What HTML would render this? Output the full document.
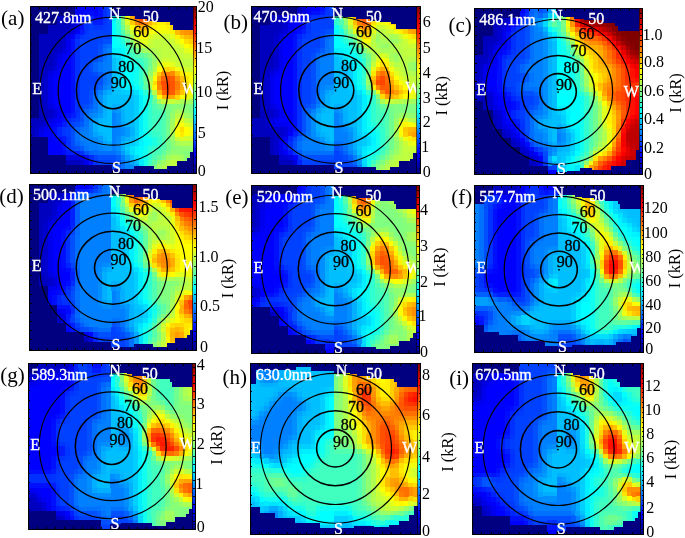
<!DOCTYPE html><html><head><meta charset="utf-8"><title>Figure</title><style>html,body{margin:0;padding:0;background:#fff;width:685px;height:538px;overflow:hidden}svg{display:block}text{shape-rendering:auto}circle{shape-rendering:geometricPrecision}</style></head><body><svg width="685" height="538" viewBox="0 0 685 538" font-family="'Liberation Serif', 'Times New Roman', serif" shape-rendering="crispEdges"><defs><linearGradient id="jet" x1="0" y1="1" x2="0" y2="0"><stop offset="0" stop-color="#000080"/><stop offset="0.125" stop-color="#0000ff"/><stop offset="0.375" stop-color="#00ffff"/><stop offset="0.625" stop-color="#ffff00"/><stop offset="0.875" stop-color="#ff0000"/><stop offset="1" stop-color="#800000"/></linearGradient></defs><rect x="30.0" y="6.4" width="163.1" height="167.1" fill="#000080"/><path fill="#000080" d="M30.0 6.4h45.6v4.9h-45.6zM30.0 11.0h45.6v4.9h-45.6zM30.0 15.7h27.5v4.9h-27.5zM30.0 20.3h27.5v4.9h-27.5zM30.0 25.0h18.4v4.9h-18.4zM30.0 29.6h18.4v4.9h-18.4zM30.0 34.2h9.4v4.9h-9.4zM30.0 38.9h9.4v4.9h-9.4zM30.0 43.5h9.4v4.9h-9.4zM30.0 48.2h9.4v4.9h-9.4zM30.0 52.8h9.4v4.9h-9.4zM30.0 57.5h9.4v4.9h-9.4zM30.0 62.1h9.4v4.9h-9.4zM30.0 66.7h9.4v4.9h-9.4zM30.0 71.4h9.4v4.9h-9.4zM30.0 76.0h9.4v4.9h-9.4zM30.0 80.7h9.4v4.9h-9.4zM30.0 85.3h9.4v4.9h-9.4zM30.0 90.0h9.4v4.9h-9.4zM30.0 94.6h9.4v4.9h-9.4zM30.0 99.2h9.4v4.9h-9.4zM30.0 103.9h9.4v4.9h-9.4zM30.0 108.5h9.4v4.9h-9.4zM30.0 113.2h9.4v4.9h-9.4zM30.0 136.4h18.4v4.9h-18.4zM30.0 141.0h18.4v4.9h-18.4zM30.0 145.7h18.4v4.9h-18.4zM30.0 150.3h18.4v4.9h-18.4zM30.0 154.9h36.5v4.9h-36.5zM30.0 159.6h36.5v4.9h-36.5zM30.0 164.2h81.8v4.9h-81.8zM30.0 168.9h81.8v4.9h-81.8z"/><path fill="#0000ff" d="M75.3 6.4h23.0v4.9h-23.0zM75.3 29.6h4.8v4.9h-4.8zM70.8 34.2h4.8v4.9h-4.8zM61.7 57.5h9.4v4.9h-9.4zM61.7 62.1h9.4v4.9h-9.4zM61.7 66.7h9.4v4.9h-9.4zM61.7 71.4h9.4v4.9h-9.4zM52.7 76.0h18.4v4.9h-18.4zM52.7 80.7h18.4v4.9h-18.4zM52.7 85.3h18.4v4.9h-18.4zM52.7 90.0h18.4v4.9h-18.4zM52.7 94.6h18.4v4.9h-18.4zM52.7 99.2h18.4v4.9h-18.4zM61.7 103.9h9.4v4.9h-9.4zM61.7 108.5h9.4v4.9h-9.4zM43.6 131.7h9.4v4.9h-9.4zM48.1 136.4h4.8v4.9h-4.8zM48.1 141.0h13.9v4.9h-13.9zM48.1 145.7h13.9v4.9h-13.9zM48.1 150.3h13.9v4.9h-13.9z"/><path fill="#0010ff" d="M98.0 6.4h4.8v4.9h-4.8zM98.0 11.0h4.8v4.9h-4.8zM98.0 15.7h4.8v4.9h-4.8zM79.8 20.3h4.8v4.9h-4.8zM79.8 25.0h4.8v4.9h-4.8zM70.8 38.9h4.8v4.9h-4.8zM70.8 43.5h4.8v4.9h-4.8zM70.8 48.2h4.8v4.9h-4.8zM70.8 52.8h4.8v4.9h-4.8zM70.8 57.5h4.8v4.9h-4.8zM70.8 62.1h4.8v4.9h-4.8zM70.8 66.7h4.8v4.9h-4.8zM70.8 71.4h4.8v4.9h-4.8zM70.8 76.0h4.8v4.9h-4.8zM70.8 80.7h4.8v4.9h-4.8zM70.8 85.3h4.8v4.9h-4.8zM70.8 90.0h4.8v4.9h-4.8zM70.8 94.6h4.8v4.9h-4.8zM70.8 99.2h4.8v4.9h-4.8zM70.8 103.9h4.8v4.9h-4.8zM70.8 108.5h4.8v4.9h-4.8zM61.7 141.0h4.8v4.9h-4.8zM61.7 145.7h4.8v4.9h-4.8zM84.4 154.9h4.8v4.9h-4.8zM88.9 159.6h4.8v4.9h-4.8z"/><path fill="#0030ff" d="M102.5 6.4h4.8v4.9h-4.8zM102.5 11.0h4.8v4.9h-4.8zM102.5 15.7h4.8v4.9h-4.8zM84.4 20.3h4.8v4.9h-4.8zM84.4 25.0h4.8v4.9h-4.8zM75.3 38.9h4.8v4.9h-4.8zM75.3 43.5h4.8v4.9h-4.8zM75.3 48.2h4.8v4.9h-4.8zM75.3 52.8h4.8v4.9h-4.8zM75.3 57.5h4.8v4.9h-4.8zM75.3 62.1h4.8v4.9h-4.8zM75.3 66.7h4.8v4.9h-4.8zM75.3 71.4h4.8v4.9h-4.8zM75.3 76.0h4.8v4.9h-4.8zM75.3 80.7h4.8v4.9h-4.8zM75.3 85.3h4.8v4.9h-4.8zM75.3 90.0h4.8v4.9h-4.8zM75.3 94.6h4.8v4.9h-4.8zM75.3 99.2h4.8v4.9h-4.8zM75.3 103.9h4.8v4.9h-4.8zM75.3 108.5h4.8v4.9h-4.8zM66.2 141.0h4.8v4.9h-4.8zM66.2 145.7h4.8v4.9h-4.8zM79.8 150.3h4.8v4.9h-4.8zM93.4 159.6h4.8v4.9h-4.8z"/><path fill="#0040ff" d="M107.0 6.4h4.8v4.9h-4.8zM107.0 11.0h4.8v4.9h-4.8zM107.0 15.7h4.8v4.9h-4.8zM107.0 20.3h4.8v4.9h-4.8zM107.0 25.0h4.8v4.9h-4.8zM88.9 29.6h23.0v4.9h-23.0zM88.9 34.2h23.0v4.9h-23.0zM79.8 38.9h18.4v4.9h-18.4zM79.8 43.5h18.4v4.9h-18.4zM79.8 48.2h18.4v4.9h-18.4zM79.8 52.8h18.4v4.9h-18.4zM79.8 57.5h9.4v4.9h-9.4zM79.8 62.1h9.4v4.9h-9.4zM79.8 66.7h9.4v4.9h-9.4zM79.8 71.4h9.4v4.9h-9.4zM79.8 76.0h18.4v4.9h-18.4zM79.8 80.7h18.4v4.9h-18.4zM79.8 85.3h9.4v4.9h-9.4zM79.8 90.0h9.4v4.9h-9.4zM79.8 94.6h9.4v4.9h-9.4zM79.8 99.2h9.4v4.9h-9.4zM98.0 159.6h18.4v4.9h-18.4zM111.5 164.2h4.8v4.9h-4.8zM111.5 168.9h4.8v4.9h-4.8z"/><path fill="#00bfff" d="M111.5 6.4h4.8v4.9h-4.8zM111.5 57.5h4.8v4.9h-4.8zM111.5 62.1h4.8v4.9h-4.8zM111.5 66.7h4.8v4.9h-4.8zM111.5 71.4h4.8v4.9h-4.8zM111.5 76.0h4.8v4.9h-4.8zM111.5 80.7h4.8v4.9h-4.8zM111.5 85.3h4.8v4.9h-4.8zM111.5 90.0h4.8v4.9h-4.8zM107.0 94.6h27.5v4.9h-27.5zM107.0 99.2h27.5v4.9h-27.5zM107.0 103.9h4.8v4.9h-4.8zM125.1 103.9h9.4v4.9h-9.4zM107.0 108.5h4.8v4.9h-4.8zM125.1 108.5h9.4v4.9h-9.4zM107.0 113.2h4.8v4.9h-4.8zM125.1 113.2h9.4v4.9h-9.4zM107.0 117.8h4.8v4.9h-4.8zM125.1 117.8h9.4v4.9h-9.4zM98.0 122.4h13.9v4.9h-13.9zM98.0 127.1h13.9v4.9h-13.9zM107.0 131.7h4.8v4.9h-4.8zM107.0 136.4h4.8v4.9h-4.8zM125.1 150.3h4.8v4.9h-4.8zM129.7 154.9h4.8v4.9h-4.8z"/><path fill="#00ffff" d="M116.1 6.4h4.8v4.9h-4.8zM111.5 20.3h4.8v4.9h-4.8zM111.5 25.0h4.8v4.9h-4.8zM111.5 29.6h4.8v4.9h-4.8zM111.5 34.2h4.8v4.9h-4.8zM111.5 38.9h4.8v4.9h-4.8zM111.5 43.5h4.8v4.9h-4.8zM125.1 66.7h9.4v4.9h-9.4zM125.1 71.4h9.4v4.9h-9.4zM125.1 76.0h9.4v4.9h-9.4zM125.1 80.7h9.4v4.9h-9.4zM134.2 85.3h4.8v4.9h-4.8zM138.7 90.0h4.8v4.9h-4.8z"/><path fill="#80ff80" d="M120.6 6.4h4.8v4.9h-4.8zM152.3 94.6h4.8v4.9h-4.8zM188.6 103.9h4.8v4.9h-4.8zM188.6 108.5h4.8v4.9h-4.8zM165.9 150.3h4.8v4.9h-4.8zM188.6 150.3h4.8v4.9h-4.8zM161.4 154.9h4.8v4.9h-4.8zM188.6 154.9h4.8v4.9h-4.8zM156.9 159.6h4.8v4.9h-4.8zM188.6 159.6h4.8v4.9h-4.8zM152.3 164.2h4.8v4.9h-4.8zM188.6 164.2h4.8v4.9h-4.8zM188.6 168.9h4.8v4.9h-4.8z"/><path fill="#efff10" d="M125.1 6.4h4.8v4.9h-4.8zM125.1 11.0h4.8v4.9h-4.8zM125.1 15.7h4.8v4.9h-4.8zM152.3 29.6h18.4v4.9h-18.4zM188.6 48.2h4.8v4.9h-4.8zM161.4 62.1h9.4v4.9h-9.4zM188.6 71.4h4.8v4.9h-4.8zM188.6 127.1h4.8v4.9h-4.8zM188.6 131.7h4.8v4.9h-4.8z"/><path fill="#ffaf00" d="M129.7 6.4h4.8v4.9h-4.8zM170.4 6.4h4.8v4.9h-4.8zM129.7 11.0h4.8v4.9h-4.8zM170.4 11.0h4.8v4.9h-4.8zM129.7 15.7h4.8v4.9h-4.8zM170.4 15.7h4.8v4.9h-4.8zM138.7 25.0h4.8v4.9h-4.8zM188.6 34.2h4.8v4.9h-4.8z"/><path fill="#ff7000" d="M134.2 6.4h4.8v4.9h-4.8zM134.2 11.0h4.8v4.9h-4.8zM134.2 15.7h4.8v4.9h-4.8zM138.7 20.3h4.8v4.9h-4.8z"/><path fill="#ff5000" d="M138.7 6.4h4.8v4.9h-4.8zM138.7 11.0h4.8v4.9h-4.8zM138.7 15.7h4.8v4.9h-4.8z"/><path fill="#ff6000" d="M143.3 6.4h4.8v4.9h-4.8zM143.3 11.0h4.8v4.9h-4.8zM143.3 15.7h4.8v4.9h-4.8z"/><path fill="#ff9f00" d="M147.8 6.4h4.8v4.9h-4.8zM147.8 11.0h4.8v4.9h-4.8zM147.8 15.7h4.8v4.9h-4.8zM156.9 76.0h4.8v4.9h-4.8z"/><path fill="#ffcf00" d="M152.3 6.4h4.8v4.9h-4.8zM165.9 6.4h4.8v4.9h-4.8zM152.3 11.0h4.8v4.9h-4.8zM165.9 11.0h4.8v4.9h-4.8zM152.3 15.7h4.8v4.9h-4.8zM165.9 15.7h4.8v4.9h-4.8zM134.2 25.0h4.8v4.9h-4.8zM188.6 38.9h4.8v4.9h-4.8z"/><path fill="#ffef00" d="M156.9 6.4h9.4v4.9h-9.4zM156.9 11.0h9.4v4.9h-9.4zM156.9 15.7h9.4v4.9h-9.4zM188.6 43.5h4.8v4.9h-4.8z"/><path fill="#ff8f00" d="M175.0 6.4h4.8v4.9h-4.8zM175.0 11.0h4.8v4.9h-4.8zM175.0 15.7h4.8v4.9h-4.8zM134.2 20.3h4.8v4.9h-4.8zM188.6 29.6h4.8v4.9h-4.8z"/><path fill="#ff8000" d="M179.5 6.4h13.9v4.9h-13.9zM179.5 11.0h13.9v4.9h-13.9zM179.5 15.7h13.9v4.9h-13.9zM179.5 20.3h13.9v4.9h-13.9zM179.5 25.0h13.9v4.9h-13.9zM156.9 80.7h4.8v4.9h-4.8z"/><path fill="#0000fa" d="M75.3 11.0h4.8v4.9h-4.8z"/><path fill="#0004ff" d="M79.8 11.0h4.8v4.9h-4.8zM93.4 11.0h4.8v4.9h-4.8zM61.7 113.2h4.8v4.9h-4.8zM52.7 122.4h4.8v4.9h-4.8zM52.7 136.4h4.8v4.9h-4.8z"/><path fill="#000cff" d="M84.4 11.0h9.4v4.9h-9.4zM79.8 15.7h4.8v4.9h-4.8zM93.4 15.7h4.8v4.9h-4.8zM66.2 113.2h4.8v4.9h-4.8zM61.7 117.8h4.8v4.9h-4.8zM57.2 122.4h4.8v4.9h-4.8zM52.7 127.1h4.8v4.9h-4.8zM52.7 131.7h4.8v4.9h-4.8zM57.2 136.4h4.8v4.9h-4.8z"/><path fill="#00cfff" d="M111.5 11.0h4.8v4.9h-4.8zM111.5 52.8h4.8v4.9h-4.8zM116.1 57.5h4.8v4.9h-4.8zM116.1 62.1h4.8v4.9h-4.8zM116.1 66.7h4.8v4.9h-4.8zM116.1 71.4h4.8v4.9h-4.8zM116.1 76.0h4.8v4.9h-4.8zM116.1 80.7h4.8v4.9h-4.8zM125.1 90.0h9.4v4.9h-9.4zM134.2 94.6h4.8v4.9h-4.8zM134.2 99.2h4.8v4.9h-4.8zM134.2 103.9h4.8v4.9h-4.8zM134.2 108.5h4.8v4.9h-4.8zM134.2 113.2h4.8v4.9h-4.8zM134.2 117.8h4.8v4.9h-4.8zM134.2 122.4h4.8v4.9h-4.8zM134.2 127.1h4.8v4.9h-4.8zM134.2 131.7h4.8v4.9h-4.8zM134.2 136.4h4.8v4.9h-4.8z"/><path fill="#0cfff3" d="M116.1 11.0h4.8v4.9h-4.8zM116.1 38.9h4.8v4.9h-4.8zM120.6 43.5h4.8v4.9h-4.8zM125.1 57.5h4.8v4.9h-4.8zM129.7 62.1h4.8v4.9h-4.8zM143.3 131.7h4.8v4.9h-4.8zM147.8 136.4h4.8v4.9h-4.8zM147.8 141.0h4.8v4.9h-4.8zM143.3 145.7h4.8v4.9h-4.8z"/><path fill="#83ff7c" d="M120.6 11.0h4.8v4.9h-4.8zM120.6 20.3h4.8v4.9h-4.8zM147.8 52.8h4.8v4.9h-4.8zM170.4 103.9h4.8v4.9h-4.8zM184.0 103.9h4.8v4.9h-4.8zM170.4 145.7h4.8v4.9h-4.8zM184.0 150.3h4.8v4.9h-4.8z"/><path fill="#0000bf" d="M57.2 15.7h13.9v4.9h-13.9zM57.2 20.3h13.9v4.9h-13.9zM48.1 25.0h23.0v4.9h-23.0zM48.1 29.6h13.9v4.9h-13.9zM39.1 34.2h23.0v4.9h-23.0zM39.1 38.9h23.0v4.9h-23.0zM39.1 43.5h23.0v4.9h-23.0zM39.1 48.2h13.9v4.9h-13.9zM39.1 52.8h13.9v4.9h-13.9zM39.1 57.5h13.9v4.9h-13.9zM39.1 62.1h13.9v4.9h-13.9zM39.1 66.7h4.8v4.9h-4.8zM39.1 71.4h4.8v4.9h-4.8zM39.1 76.0h4.8v4.9h-4.8zM39.1 80.7h4.8v4.9h-4.8zM39.1 85.3h4.8v4.9h-4.8zM39.1 90.0h4.8v4.9h-4.8zM39.1 94.6h4.8v4.9h-4.8zM39.1 99.2h4.8v4.9h-4.8zM39.1 103.9h4.8v4.9h-4.8zM39.1 108.5h4.8v4.9h-4.8zM39.1 113.2h4.8v4.9h-4.8zM30.0 117.8h13.9v4.9h-13.9zM30.0 122.4h4.8v4.9h-4.8zM30.0 127.1h4.8v4.9h-4.8zM30.0 131.7h4.8v4.9h-4.8zM66.2 159.6h13.9v4.9h-13.9z"/><path fill="#0000d3" d="M70.8 15.7h4.8v4.9h-4.8z"/><path fill="#0000f2" d="M75.3 15.7h4.8v4.9h-4.8z"/><path fill="#0024ff" d="M84.4 15.7h9.4v4.9h-9.4zM66.2 117.8h4.8v4.9h-4.8zM57.2 127.1h4.8v4.9h-4.8zM57.2 131.7h4.8v4.9h-4.8z"/><path fill="#00efff" d="M111.5 15.7h4.8v4.9h-4.8zM111.5 48.2h4.8v4.9h-4.8zM120.6 57.5h4.8v4.9h-4.8zM120.6 62.1h4.8v4.9h-4.8zM120.6 66.7h4.8v4.9h-4.8zM120.6 71.4h4.8v4.9h-4.8zM120.6 76.0h4.8v4.9h-4.8zM120.6 80.7h4.8v4.9h-4.8zM125.1 85.3h9.4v4.9h-9.4zM138.7 94.6h4.8v4.9h-4.8zM138.7 99.2h4.8v4.9h-4.8zM138.7 103.9h4.8v4.9h-4.8zM138.7 108.5h4.8v4.9h-4.8zM138.7 113.2h4.8v4.9h-4.8zM138.7 117.8h4.8v4.9h-4.8zM138.7 122.4h4.8v4.9h-4.8zM138.7 127.1h4.8v4.9h-4.8zM138.7 131.7h4.8v4.9h-4.8zM138.7 136.4h4.8v4.9h-4.8z"/><path fill="#24ffdb" d="M116.1 15.7h4.8v4.9h-4.8zM116.1 25.0h4.8v4.9h-4.8zM120.6 38.9h4.8v4.9h-4.8zM129.7 57.5h4.8v4.9h-4.8zM147.8 131.7h4.8v4.9h-4.8zM147.8 145.7h4.8v4.9h-4.8z"/><path fill="#8bff74" d="M120.6 15.7h4.8v4.9h-4.8zM175.0 103.9h9.4v4.9h-9.4zM170.4 108.5h4.8v4.9h-4.8zM184.0 108.5h4.8v4.9h-4.8zM170.4 141.0h4.8v4.9h-4.8zM175.0 145.7h4.8v4.9h-4.8zM179.5 150.3h4.8v4.9h-4.8zM184.0 154.9h4.8v4.9h-4.8z"/><path fill="#0000cf" d="M70.8 20.3h4.8v4.9h-4.8zM70.8 25.0h4.8v4.9h-4.8zM61.7 38.9h4.8v4.9h-4.8zM61.7 43.5h4.8v4.9h-4.8zM52.7 57.5h4.8v4.9h-4.8zM52.7 62.1h4.8v4.9h-4.8zM43.6 76.0h4.8v4.9h-4.8zM43.6 80.7h4.8v4.9h-4.8zM43.6 85.3h4.8v4.9h-4.8zM43.6 90.0h4.8v4.9h-4.8zM43.6 94.6h4.8v4.9h-4.8zM43.6 99.2h4.8v4.9h-4.8zM34.5 131.7h4.8v4.9h-4.8zM79.8 159.6h4.8v4.9h-4.8z"/><path fill="#0000ef" d="M75.3 20.3h4.8v4.9h-4.8zM75.3 25.0h4.8v4.9h-4.8zM66.2 38.9h4.8v4.9h-4.8zM66.2 43.5h4.8v4.9h-4.8zM57.2 57.5h4.8v4.9h-4.8zM57.2 62.1h4.8v4.9h-4.8zM48.1 76.0h4.8v4.9h-4.8zM48.1 80.7h4.8v4.9h-4.8zM48.1 85.3h4.8v4.9h-4.8zM48.1 90.0h4.8v4.9h-4.8zM48.1 94.6h4.8v4.9h-4.8zM48.1 99.2h4.8v4.9h-4.8zM39.1 131.7h4.8v4.9h-4.8zM79.8 154.9h4.8v4.9h-4.8zM84.4 159.6h4.8v4.9h-4.8z"/><path fill="#0034ff" d="M88.9 20.3h4.8v4.9h-4.8zM102.5 20.3h4.8v4.9h-4.8zM93.4 25.0h9.4v4.9h-9.4zM84.4 29.6h4.8v4.9h-4.8zM79.8 34.2h4.8v4.9h-4.8zM75.3 113.2h4.8v4.9h-4.8zM70.8 117.8h4.8v4.9h-4.8zM66.2 122.4h4.8v4.9h-4.8zM61.7 127.1h4.8v4.9h-4.8zM61.7 131.7h4.8v4.9h-4.8zM66.2 136.4h4.8v4.9h-4.8z"/><path fill="#001cff" d="M93.4 20.3h9.4v4.9h-9.4zM79.8 29.6h4.8v4.9h-4.8zM70.8 113.2h4.8v4.9h-4.8zM61.7 122.4h4.8v4.9h-4.8zM61.7 136.4h4.8v4.9h-4.8z"/><path fill="#2cffd3" d="M116.1 20.3h4.8v4.9h-4.8z"/><path fill="#dbff24" d="M125.1 20.3h4.8v4.9h-4.8zM179.5 66.7h4.8v4.9h-4.8zM152.3 71.4h4.8v4.9h-4.8zM179.5 136.4h4.8v4.9h-4.8z"/><path fill="#ffcb00" d="M129.7 20.3h4.8v4.9h-4.8zM156.9 71.4h4.8v4.9h-4.8z"/><path fill="#ff7c00" d="M143.3 20.3h4.8v4.9h-4.8zM165.9 71.4h4.8v4.9h-4.8zM175.0 80.7h4.8v4.9h-4.8zM175.0 85.3h4.8v4.9h-4.8z"/><path fill="#ffb300" d="M147.8 20.3h4.8v4.9h-4.8zM143.3 25.0h4.8v4.9h-4.8zM161.4 94.6h4.8v4.9h-4.8z"/><path fill="#ffdb00" d="M152.3 20.3h4.8v4.9h-4.8zM165.9 20.3h4.8v4.9h-4.8zM147.8 25.0h4.8v4.9h-4.8zM161.4 66.7h4.8v4.9h-4.8z"/><path fill="#fff300" d="M156.9 20.3h9.4v4.9h-9.4zM152.3 25.0h4.8v4.9h-4.8zM165.9 25.0h4.8v4.9h-4.8zM170.4 29.6h4.8v4.9h-4.8zM175.0 34.2h4.8v4.9h-4.8z"/><path fill="#ffbb00" d="M170.4 20.3h4.8v4.9h-4.8zM175.0 29.6h4.8v4.9h-4.8zM184.0 34.2h4.8v4.9h-4.8z"/><path fill="#ff9300" d="M175.0 20.3h4.8v4.9h-4.8zM184.0 29.6h4.8v4.9h-4.8zM161.4 71.4h4.8v4.9h-4.8zM175.0 76.0h4.8v4.9h-4.8zM175.0 90.0h4.8v4.9h-4.8z"/><path fill="#003cff" d="M88.9 25.0h4.8v4.9h-4.8zM102.5 25.0h4.8v4.9h-4.8zM84.4 34.2h4.8v4.9h-4.8zM75.3 117.8h4.8v4.9h-4.8zM66.2 127.1h4.8v4.9h-4.8zM66.2 131.7h4.8v4.9h-4.8z"/><path fill="#6cff93" d="M120.6 25.0h4.8v4.9h-4.8zM143.3 52.8h4.8v4.9h-4.8zM143.3 80.7h4.8v4.9h-4.8z"/><path fill="#b3ff4c" d="M125.1 25.0h4.8v4.9h-4.8zM152.3 48.2h4.8v4.9h-4.8zM156.9 52.8h4.8v4.9h-4.8zM152.3 66.7h4.8v4.9h-4.8zM165.9 159.6h4.8v4.9h-4.8zM161.4 164.2h4.8v4.9h-4.8z"/><path fill="#fbff04" d="M129.7 25.0h4.8v4.9h-4.8zM156.9 66.7h4.8v4.9h-4.8zM184.0 71.4h4.8v4.9h-4.8zM184.0 131.7h4.8v4.9h-4.8z"/><path fill="#fffb00" d="M156.9 25.0h9.4v4.9h-9.4zM179.5 94.6h4.8v4.9h-4.8zM175.0 127.1h4.8v4.9h-4.8z"/><path fill="#ffd300" d="M170.4 25.0h4.8v4.9h-4.8zM179.5 34.2h4.8v4.9h-4.8zM165.9 66.7h4.8v4.9h-4.8z"/><path fill="#ff9b00" d="M175.0 25.0h4.8v4.9h-4.8zM179.5 29.6h4.8v4.9h-4.8zM165.9 94.6h4.8v4.9h-4.8z"/><path fill="#0000c3" d="M61.7 29.6h4.8v4.9h-4.8zM52.7 48.2h4.8v4.9h-4.8zM43.6 66.7h4.8v4.9h-4.8zM43.6 108.5h4.8v4.9h-4.8zM43.6 113.2h4.8v4.9h-4.8zM34.5 122.4h4.8v4.9h-4.8z"/><path fill="#0000cb" d="M66.2 29.6h4.8v4.9h-4.8zM61.7 34.2h4.8v4.9h-4.8zM57.2 48.2h4.8v4.9h-4.8zM52.7 52.8h4.8v4.9h-4.8zM48.1 66.7h4.8v4.9h-4.8zM43.6 71.4h4.8v4.9h-4.8zM43.6 103.9h4.8v4.9h-4.8zM48.1 108.5h4.8v4.9h-4.8zM48.1 113.2h4.8v4.9h-4.8zM43.6 117.8h4.8v4.9h-4.8zM39.1 122.4h4.8v4.9h-4.8zM34.5 127.1h4.8v4.9h-4.8z"/><path fill="#0000df" d="M70.8 29.6h4.8v4.9h-4.8zM70.8 154.9h9.4v4.9h-9.4z"/><path fill="#1cffe3" d="M116.1 29.6h4.8v4.9h-4.8zM125.1 48.2h4.8v4.9h-4.8zM134.2 62.1h4.8v4.9h-4.8zM152.3 136.4h4.8v4.9h-4.8zM152.3 141.0h4.8v4.9h-4.8zM143.3 164.2h4.8v4.9h-4.8z"/><path fill="#54ffab" d="M120.6 29.6h4.8v4.9h-4.8zM129.7 48.2h4.8v4.9h-4.8zM134.2 52.8h4.8v4.9h-4.8zM143.3 66.7h4.8v4.9h-4.8zM147.8 164.2h4.8v4.9h-4.8z"/><path fill="#8fff70" d="M125.1 29.6h4.8v4.9h-4.8zM129.7 38.9h4.8v4.9h-4.8zM188.6 113.2h4.8v4.9h-4.8zM179.5 145.7h13.9v4.9h-13.9zM170.4 150.3h9.4v4.9h-9.4zM184.0 159.6h4.8v4.9h-4.8zM184.0 164.2h4.8v4.9h-4.8zM152.3 168.9h4.8v4.9h-4.8zM184.0 168.9h4.8v4.9h-4.8z"/><path fill="#cfff30" d="M129.7 29.6h4.8v4.9h-4.8zM152.3 34.2h18.4v4.9h-18.4zM188.6 52.8h4.8v4.9h-4.8zM161.4 57.5h9.4v4.9h-9.4zM188.6 66.7h4.8v4.9h-4.8zM188.6 122.4h4.8v4.9h-4.8zM188.6 136.4h4.8v4.9h-4.8z"/><path fill="#ffff00" d="M134.2 29.6h4.8v4.9h-4.8zM147.8 29.6h4.8v4.9h-4.8zM138.7 34.2h9.4v4.9h-9.4zM179.5 38.9h4.8v4.9h-4.8zM184.0 43.5h4.8v4.9h-4.8zM152.3 76.0h4.8v4.9h-4.8zM188.6 76.0h4.8v4.9h-4.8zM188.6 80.7h4.8v4.9h-4.8zM188.6 85.3h4.8v4.9h-4.8zM188.6 90.0h4.8v4.9h-4.8zM156.9 94.6h4.8v4.9h-4.8zM179.5 122.4h4.8v4.9h-4.8zM184.0 127.1h4.8v4.9h-4.8z"/><path fill="#ffdf00" d="M138.7 29.6h9.4v4.9h-9.4zM184.0 38.9h4.8v4.9h-4.8zM152.3 80.7h4.8v4.9h-4.8zM179.5 127.1h4.8v4.9h-4.8z"/><path fill="#0000e3" d="M66.2 34.2h4.8v4.9h-4.8zM57.2 52.8h4.8v4.9h-4.8zM48.1 71.4h4.8v4.9h-4.8zM48.1 103.9h4.8v4.9h-4.8zM48.1 117.8h4.8v4.9h-4.8zM39.1 127.1h4.8v4.9h-4.8z"/><path fill="#0020ff" d="M75.3 34.2h4.8v4.9h-4.8zM70.8 150.3h9.4v4.9h-9.4z"/><path fill="#14ffeb" d="M116.1 34.2h4.8v4.9h-4.8zM125.1 52.8h4.8v4.9h-4.8zM143.3 159.6h4.8v4.9h-4.8z"/><path fill="#3cffc3" d="M120.6 34.2h4.8v4.9h-4.8zM129.7 52.8h4.8v4.9h-4.8zM138.7 57.5h4.8v4.9h-4.8zM156.9 131.7h4.8v4.9h-4.8zM156.9 145.7h4.8v4.9h-4.8zM147.8 159.6h4.8v4.9h-4.8z"/><path fill="#70ff8f" d="M125.1 34.2h4.8v4.9h-4.8zM129.7 43.5h4.8v4.9h-4.8zM147.8 57.5h4.8v4.9h-4.8zM147.8 62.1h4.8v4.9h-4.8zM165.9 113.2h4.8v4.9h-4.8zM165.9 117.8h4.8v4.9h-4.8zM165.9 122.4h4.8v4.9h-4.8zM165.9 127.1h4.8v4.9h-4.8zM165.9 131.7h4.8v4.9h-4.8zM165.9 136.4h4.8v4.9h-4.8zM165.9 141.0h4.8v4.9h-4.8zM165.9 145.7h4.8v4.9h-4.8z"/><path fill="#afff50" d="M129.7 34.2h4.8v4.9h-4.8zM188.6 117.8h4.8v4.9h-4.8zM179.5 141.0h13.9v4.9h-13.9zM170.4 154.9h9.4v4.9h-9.4zM179.5 159.6h4.8v4.9h-4.8zM179.5 164.2h4.8v4.9h-4.8zM156.9 168.9h4.8v4.9h-4.8zM179.5 168.9h4.8v4.9h-4.8z"/><path fill="#dfff20" d="M134.2 34.2h4.8v4.9h-4.8zM147.8 34.2h4.8v4.9h-4.8zM138.7 38.9h4.8v4.9h-4.8zM179.5 43.5h4.8v4.9h-4.8zM188.6 94.6h4.8v4.9h-4.8zM179.5 117.8h4.8v4.9h-4.8zM184.0 122.4h4.8v4.9h-4.8z"/><path fill="#e3ff1c" d="M170.4 34.2h4.8v4.9h-4.8zM143.3 38.9h4.8v4.9h-4.8zM175.0 38.9h4.8v4.9h-4.8zM184.0 48.2h4.8v4.9h-4.8zM170.4 62.1h4.8v4.9h-4.8z"/><path fill="#0044ff" d="M98.0 38.9h4.8v4.9h-4.8zM88.9 57.5h4.8v4.9h-4.8zM88.9 71.4h4.8v4.9h-4.8zM88.9 85.3h4.8v4.9h-4.8zM79.8 103.9h4.8v4.9h-4.8zM70.8 122.4h4.8v4.9h-4.8zM70.8 145.7h4.8v4.9h-4.8zM93.4 154.9h4.8v4.9h-4.8z"/><path fill="#004cff" d="M102.5 38.9h4.8v4.9h-4.8zM98.0 43.5h4.8v4.9h-4.8zM93.4 57.5h4.8v4.9h-4.8zM88.9 62.1h4.8v4.9h-4.8zM88.9 66.7h4.8v4.9h-4.8zM93.4 71.4h4.8v4.9h-4.8zM93.4 85.3h4.8v4.9h-4.8zM88.9 90.0h4.8v4.9h-4.8zM84.4 103.9h4.8v4.9h-4.8zM79.8 108.5h4.8v4.9h-4.8zM75.3 122.4h4.8v4.9h-4.8zM70.8 127.1h4.8v4.9h-4.8zM70.8 141.0h4.8v4.9h-4.8zM75.3 145.7h4.8v4.9h-4.8z"/><path fill="#0050ff" d="M107.0 38.9h4.8v4.9h-4.8zM98.0 48.2h4.8v4.9h-4.8zM98.0 52.8h4.8v4.9h-4.8zM98.0 76.0h4.8v4.9h-4.8zM98.0 80.7h4.8v4.9h-4.8zM88.9 94.6h4.8v4.9h-4.8zM88.9 99.2h4.8v4.9h-4.8zM79.8 113.2h4.8v4.9h-4.8zM79.8 117.8h4.8v4.9h-4.8zM70.8 131.7h4.8v4.9h-4.8zM70.8 136.4h4.8v4.9h-4.8zM84.4 150.3h4.8v4.9h-4.8zM98.0 154.9h18.4v4.9h-18.4zM116.1 159.6h4.8v4.9h-4.8zM116.1 164.2h4.8v4.9h-4.8zM116.1 168.9h4.8v4.9h-4.8z"/><path fill="#50ffaf" d="M125.1 38.9h4.8v4.9h-4.8zM143.3 57.5h4.8v4.9h-4.8zM143.3 62.1h4.8v4.9h-4.8zM161.4 113.2h4.8v4.9h-4.8zM161.4 117.8h4.8v4.9h-4.8zM161.4 122.4h4.8v4.9h-4.8zM161.4 127.1h4.8v4.9h-4.8zM161.4 131.7h4.8v4.9h-4.8zM161.4 136.4h4.8v4.9h-4.8zM161.4 141.0h4.8v4.9h-4.8zM161.4 145.7h4.8v4.9h-4.8z"/><path fill="#bfff40" d="M134.2 38.9h4.8v4.9h-4.8zM152.3 38.9h18.4v4.9h-18.4zM138.7 43.5h4.8v4.9h-4.8zM152.3 43.5h18.4v4.9h-18.4zM161.4 48.2h18.4v4.9h-18.4zM161.4 52.8h18.4v4.9h-18.4zM179.5 57.5h13.9v4.9h-13.9zM179.5 62.1h13.9v4.9h-13.9zM179.5 113.2h4.8v4.9h-4.8zM184.0 117.8h4.8v4.9h-4.8zM170.4 159.6h9.4v4.9h-9.4zM170.4 164.2h9.4v4.9h-9.4zM161.4 168.9h18.4v4.9h-18.4z"/><path fill="#cbff34" d="M147.8 38.9h4.8v4.9h-4.8zM170.4 38.9h4.8v4.9h-4.8zM143.3 43.5h4.8v4.9h-4.8zM175.0 43.5h4.8v4.9h-4.8zM179.5 48.2h4.8v4.9h-4.8zM184.0 52.8h4.8v4.9h-4.8zM170.4 57.5h4.8v4.9h-4.8zM175.0 62.1h4.8v4.9h-4.8zM165.9 99.2h4.8v4.9h-4.8z"/><path fill="#0064ff" d="M102.5 43.5h4.8v4.9h-4.8zM93.4 62.1h4.8v4.9h-4.8zM93.4 66.7h4.8v4.9h-4.8zM93.4 90.0h4.8v4.9h-4.8zM84.4 108.5h4.8v4.9h-4.8zM75.3 127.1h4.8v4.9h-4.8zM75.3 141.0h4.8v4.9h-4.8zM88.9 150.3h4.8v4.9h-4.8z"/><path fill="#0070ff" d="M107.0 43.5h4.8v4.9h-4.8zM102.5 48.2h4.8v4.9h-4.8zM102.5 52.8h4.8v4.9h-4.8zM102.5 76.0h4.8v4.9h-4.8zM102.5 80.7h4.8v4.9h-4.8zM93.4 94.6h4.8v4.9h-4.8zM93.4 99.2h4.8v4.9h-4.8zM84.4 113.2h4.8v4.9h-4.8zM84.4 117.8h4.8v4.9h-4.8zM75.3 131.7h4.8v4.9h-4.8zM75.3 136.4h4.8v4.9h-4.8zM98.0 150.3h18.4v4.9h-18.4zM120.6 159.6h4.8v4.9h-4.8zM120.6 164.2h4.8v4.9h-4.8zM120.6 168.9h4.8v4.9h-4.8z"/><path fill="#04fffb" d="M116.1 43.5h4.8v4.9h-4.8zM125.1 62.1h4.8v4.9h-4.8zM143.3 136.4h4.8v4.9h-4.8zM143.3 141.0h4.8v4.9h-4.8z"/><path fill="#30ffcf" d="M125.1 43.5h4.8v4.9h-4.8zM138.7 66.7h4.8v4.9h-4.8zM138.7 71.4h4.8v4.9h-4.8zM138.7 76.0h4.8v4.9h-4.8zM138.7 80.7h4.8v4.9h-4.8zM147.8 94.6h4.8v4.9h-4.8zM147.8 99.2h4.8v4.9h-4.8zM147.8 103.9h4.8v4.9h-4.8zM147.8 108.5h4.8v4.9h-4.8zM147.8 113.2h4.8v4.9h-4.8zM147.8 117.8h4.8v4.9h-4.8zM147.8 122.4h4.8v4.9h-4.8zM147.8 127.1h4.8v4.9h-4.8zM147.8 150.3h4.8v4.9h-4.8zM147.8 154.9h4.8v4.9h-4.8z"/><path fill="#9fff60" d="M134.2 43.5h4.8v4.9h-4.8zM156.9 99.2h4.8v4.9h-4.8zM188.6 99.2h4.8v4.9h-4.8zM184.0 113.2h4.8v4.9h-4.8zM165.9 154.9h4.8v4.9h-4.8zM156.9 164.2h4.8v4.9h-4.8z"/><path fill="#c3ff3c" d="M147.8 43.5h4.8v4.9h-4.8zM170.4 43.5h4.8v4.9h-4.8zM179.5 52.8h4.8v4.9h-4.8zM175.0 57.5h4.8v4.9h-4.8zM147.8 80.7h4.8v4.9h-4.8zM161.4 99.2h4.8v4.9h-4.8z"/><path fill="#0000db" d="M61.7 48.2h4.8v4.9h-4.8zM52.7 66.7h4.8v4.9h-4.8zM52.7 108.5h4.8v4.9h-4.8zM52.7 113.2h4.8v4.9h-4.8zM43.6 122.4h4.8v4.9h-4.8z"/><path fill="#0000f3" d="M66.2 48.2h4.8v4.9h-4.8zM61.7 52.8h4.8v4.9h-4.8zM57.2 66.7h4.8v4.9h-4.8zM52.7 71.4h4.8v4.9h-4.8zM52.7 103.9h4.8v4.9h-4.8zM57.2 108.5h4.8v4.9h-4.8zM57.2 113.2h4.8v4.9h-4.8zM52.7 117.8h4.8v4.9h-4.8zM48.1 122.4h4.8v4.9h-4.8zM43.6 127.1h4.8v4.9h-4.8z"/><path fill="#0080ff" d="M107.0 48.2h4.8v4.9h-4.8zM107.0 52.8h4.8v4.9h-4.8zM107.0 57.5h4.8v4.9h-4.8zM107.0 62.1h4.8v4.9h-4.8zM107.0 66.7h4.8v4.9h-4.8zM107.0 71.4h4.8v4.9h-4.8zM107.0 76.0h4.8v4.9h-4.8zM107.0 80.7h4.8v4.9h-4.8zM102.5 85.3h4.8v4.9h-4.8zM98.0 90.0h4.8v4.9h-4.8zM111.5 113.2h4.8v4.9h-4.8zM111.5 117.8h4.8v4.9h-4.8zM111.5 122.4h4.8v4.9h-4.8zM111.5 127.1h4.8v4.9h-4.8zM79.8 131.7h9.4v4.9h-9.4zM111.5 131.7h4.8v4.9h-4.8zM79.8 136.4h9.4v4.9h-9.4zM111.5 136.4h4.8v4.9h-4.8zM88.9 141.0h9.4v4.9h-9.4zM111.5 141.0h4.8v4.9h-4.8zM88.9 145.7h9.4v4.9h-9.4zM111.5 145.7h4.8v4.9h-4.8zM116.1 150.3h4.8v4.9h-4.8zM120.6 154.9h4.8v4.9h-4.8zM125.1 168.9h9.4v4.9h-9.4z"/><path fill="#00f3ff" d="M116.1 48.2h4.8v4.9h-4.8zM120.6 52.8h4.8v4.9h-4.8zM138.7 141.0h4.8v4.9h-4.8zM134.2 145.7h4.8v4.9h-4.8zM134.2 150.3h4.8v4.9h-4.8zM138.7 154.9h4.8v4.9h-4.8z"/><path fill="#00fbff" d="M120.6 48.2h4.8v4.9h-4.8zM138.7 145.7h4.8v4.9h-4.8zM138.7 150.3h4.8v4.9h-4.8z"/><path fill="#7cff83" d="M134.2 48.2h4.8v4.9h-4.8zM147.8 66.7h4.8v4.9h-4.8zM165.9 103.9h4.8v4.9h-4.8z"/><path fill="#93ff6c" d="M138.7 48.2h4.8v4.9h-4.8zM152.3 57.5h4.8v4.9h-4.8zM147.8 71.4h4.8v4.9h-4.8zM170.4 113.2h4.8v4.9h-4.8z"/><path fill="#a3ff5c" d="M143.3 48.2h4.8v4.9h-4.8zM184.0 99.2h4.8v4.9h-4.8zM175.0 108.5h9.4v4.9h-9.4zM170.4 122.4h4.8v4.9h-4.8zM175.0 141.0h4.8v4.9h-4.8zM179.5 154.9h4.8v4.9h-4.8z"/><path fill="#abff54" d="M147.8 48.2h4.8v4.9h-4.8zM147.8 76.0h4.8v4.9h-4.8zM179.5 99.2h4.8v4.9h-4.8zM170.4 127.1h4.8v4.9h-4.8z"/><path fill="#bbff44" d="M156.9 48.2h4.8v4.9h-4.8zM156.9 57.5h4.8v4.9h-4.8zM175.0 113.2h4.8v4.9h-4.8zM165.9 164.2h4.8v4.9h-4.8z"/><path fill="#0000fb" d="M66.2 52.8h4.8v4.9h-4.8zM57.2 71.4h4.8v4.9h-4.8zM57.2 103.9h4.8v4.9h-4.8zM57.2 117.8h4.8v4.9h-4.8zM48.1 127.1h4.8v4.9h-4.8z"/><path fill="#00dbff" d="M116.1 52.8h4.8v4.9h-4.8zM134.2 141.0h4.8v4.9h-4.8zM134.2 154.9h4.8v4.9h-4.8z"/><path fill="#5cffa3" d="M138.7 52.8h4.8v4.9h-4.8zM143.3 71.4h4.8v4.9h-4.8zM161.4 108.5h4.8v4.9h-4.8z"/><path fill="#9bff64" d="M152.3 52.8h4.8v4.9h-4.8zM152.3 62.1h4.8v4.9h-4.8zM170.4 117.8h4.8v4.9h-4.8zM161.4 159.6h4.8v4.9h-4.8z"/><path fill="#005cff" d="M98.0 57.5h4.8v4.9h-4.8zM98.0 71.4h4.8v4.9h-4.8zM88.9 103.9h4.8v4.9h-4.8zM79.8 122.4h4.8v4.9h-4.8zM79.8 145.7h4.8v4.9h-4.8z"/><path fill="#0074ff" d="M102.5 57.5h4.8v4.9h-4.8zM98.0 62.1h4.8v4.9h-4.8zM98.0 66.7h4.8v4.9h-4.8zM102.5 71.4h4.8v4.9h-4.8zM93.4 103.9h4.8v4.9h-4.8zM88.9 108.5h4.8v4.9h-4.8zM84.4 122.4h4.8v4.9h-4.8zM79.8 127.1h4.8v4.9h-4.8zM79.8 141.0h4.8v4.9h-4.8zM84.4 145.7h4.8v4.9h-4.8z"/><path fill="#34ffcb" d="M134.2 57.5h4.8v4.9h-4.8zM138.7 62.1h4.8v4.9h-4.8zM152.3 131.7h4.8v4.9h-4.8zM156.9 136.4h4.8v4.9h-4.8zM156.9 141.0h4.8v4.9h-4.8zM152.3 145.7h4.8v4.9h-4.8z"/><path fill="#007cff" d="M102.5 62.1h4.8v4.9h-4.8zM102.5 66.7h4.8v4.9h-4.8zM93.4 108.5h4.8v4.9h-4.8zM84.4 127.1h4.8v4.9h-4.8zM84.4 141.0h4.8v4.9h-4.8z"/><path fill="#d3ff2c" d="M156.9 62.1h4.8v4.9h-4.8zM184.0 66.7h4.8v4.9h-4.8zM175.0 117.8h4.8v4.9h-4.8zM184.0 136.4h4.8v4.9h-4.8z"/><path fill="#10ffef" d="M134.2 66.7h4.8v4.9h-4.8zM134.2 71.4h4.8v4.9h-4.8zM134.2 76.0h4.8v4.9h-4.8zM134.2 80.7h4.8v4.9h-4.8zM143.3 94.6h4.8v4.9h-4.8zM143.3 99.2h4.8v4.9h-4.8zM143.3 103.9h4.8v4.9h-4.8zM143.3 108.5h4.8v4.9h-4.8zM143.3 113.2h4.8v4.9h-4.8zM143.3 117.8h4.8v4.9h-4.8zM143.3 122.4h4.8v4.9h-4.8zM143.3 127.1h4.8v4.9h-4.8zM143.3 150.3h4.8v4.9h-4.8zM143.3 154.9h4.8v4.9h-4.8z"/><path fill="#ffe300" d="M170.4 66.7h4.8v4.9h-4.8zM184.0 80.7h4.8v4.9h-4.8zM184.0 85.3h4.8v4.9h-4.8z"/><path fill="#f3ff0c" d="M175.0 66.7h4.8v4.9h-4.8z"/><path fill="#ff8b00" d="M170.4 71.4h4.8v4.9h-4.8z"/><path fill="#ffc300" d="M175.0 71.4h4.8v4.9h-4.8zM179.5 76.0h4.8v4.9h-4.8zM179.5 90.0h4.8v4.9h-4.8z"/><path fill="#ffeb00" d="M179.5 71.4h4.8v4.9h-4.8zM184.0 76.0h4.8v4.9h-4.8zM184.0 90.0h4.8v4.9h-4.8zM179.5 131.7h4.8v4.9h-4.8z"/><path fill="#64ff9b" d="M143.3 76.0h4.8v4.9h-4.8zM156.9 103.9h4.8v4.9h-4.8zM156.9 154.9h4.8v4.9h-4.8z"/><path fill="#ff6400" d="M161.4 76.0h4.8v4.9h-4.8zM161.4 90.0h4.8v4.9h-4.8z"/><path fill="#ff4c00" d="M165.9 76.0h4.8v4.9h-4.8zM161.4 80.7h4.8v4.9h-4.8zM161.4 85.3h4.8v4.9h-4.8zM165.9 90.0h4.8v4.9h-4.8z"/><path fill="#ff5c00" d="M170.4 76.0h4.8v4.9h-4.8zM170.4 90.0h4.8v4.9h-4.8z"/><path fill="#ff4400" d="M165.9 80.7h4.8v4.9h-4.8zM165.9 85.3h4.8v4.9h-4.8z"/><path fill="#ff5400" d="M170.4 80.7h4.8v4.9h-4.8zM170.4 85.3h4.8v4.9h-4.8z"/><path fill="#ffab00" d="M179.5 80.7h4.8v4.9h-4.8zM179.5 85.3h4.8v4.9h-4.8z"/><path fill="#0060ff" d="M98.0 85.3h4.8v4.9h-4.8zM116.1 154.9h4.8v4.9h-4.8z"/><path fill="#008fff" d="M107.0 85.3h4.8v4.9h-4.8zM98.0 94.6h4.8v4.9h-4.8zM98.0 99.2h4.8v4.9h-4.8zM98.0 103.9h4.8v4.9h-4.8zM98.0 108.5h4.8v4.9h-4.8zM111.5 108.5h4.8v4.9h-4.8zM116.1 113.2h4.8v4.9h-4.8zM116.1 117.8h4.8v4.9h-4.8zM88.9 122.4h4.8v4.9h-4.8zM88.9 127.1h4.8v4.9h-4.8zM116.1 141.0h4.8v4.9h-4.8zM107.0 145.7h4.8v4.9h-4.8zM116.1 145.7h4.8v4.9h-4.8z"/><path fill="#00cbff" d="M116.1 85.3h4.8v4.9h-4.8zM120.6 90.0h4.8v4.9h-4.8zM129.7 141.0h4.8v4.9h-4.8zM125.1 145.7h4.8v4.9h-4.8z"/><path fill="#00e3ff" d="M120.6 85.3h4.8v4.9h-4.8zM129.7 145.7h4.8v4.9h-4.8zM138.7 164.2h4.8v4.9h-4.8z"/><path fill="#20ffdf" d="M138.7 85.3h4.8v4.9h-4.8zM143.3 168.9h4.8v4.9h-4.8z"/><path fill="#58ffa7" d="M143.3 85.3h4.8v4.9h-4.8zM147.8 90.0h4.8v4.9h-4.8z"/><path fill="#a7ff58" d="M147.8 85.3h4.8v4.9h-4.8zM170.4 131.7h4.8v4.9h-4.8z"/><path fill="#fff700" d="M152.3 85.3h4.8v4.9h-4.8z"/><path fill="#ff8700" d="M156.9 85.3h4.8v4.9h-4.8z"/><path fill="#009fff" d="M102.5 90.0h4.8v4.9h-4.8zM120.6 150.3h4.8v4.9h-4.8zM125.1 154.9h4.8v4.9h-4.8zM134.2 168.9h4.8v4.9h-4.8z"/><path fill="#00afff" d="M107.0 90.0h4.8v4.9h-4.8zM102.5 94.6h4.8v4.9h-4.8zM102.5 99.2h4.8v4.9h-4.8zM102.5 103.9h4.8v4.9h-4.8zM111.5 103.9h4.8v4.9h-4.8zM102.5 108.5h4.8v4.9h-4.8zM120.6 113.2h4.8v4.9h-4.8zM120.6 117.8h4.8v4.9h-4.8zM93.4 122.4h4.8v4.9h-4.8zM93.4 127.1h4.8v4.9h-4.8zM107.0 141.0h4.8v4.9h-4.8zM120.6 141.0h4.8v4.9h-4.8zM120.6 145.7h4.8v4.9h-4.8z"/><path fill="#00c3ff" d="M116.1 90.0h4.8v4.9h-4.8zM125.1 141.0h4.8v4.9h-4.8zM134.2 159.6h4.8v4.9h-4.8z"/><path fill="#00dfff" d="M134.2 90.0h4.8v4.9h-4.8zM129.7 150.3h4.8v4.9h-4.8zM138.7 168.9h4.8v4.9h-4.8z"/><path fill="#28ffd7" d="M143.3 90.0h4.8v4.9h-4.8z"/><path fill="#b7ff48" d="M152.3 90.0h4.8v4.9h-4.8zM175.0 99.2h4.8v4.9h-4.8z"/><path fill="#ffb700" d="M156.9 90.0h4.8v4.9h-4.8z"/><path fill="#ffa700" d="M170.4 94.6h4.8v4.9h-4.8z"/><path fill="#ffd700" d="M175.0 94.6h4.8v4.9h-4.8z"/><path fill="#ebff14" d="M184.0 94.6h4.8v4.9h-4.8zM175.0 122.4h4.8v4.9h-4.8z"/><path fill="#60ff9f" d="M152.3 99.2h4.8v4.9h-4.8zM161.4 150.3h4.8v4.9h-4.8zM152.3 159.6h4.8v4.9h-4.8zM147.8 168.9h4.8v4.9h-4.8z"/><path fill="#c7ff38" d="M170.4 99.2h4.8v4.9h-4.8zM175.0 136.4h4.8v4.9h-4.8z"/><path fill="#00b3ff" d="M116.1 103.9h4.8v4.9h-4.8zM120.6 108.5h4.8v4.9h-4.8zM102.5 113.2h4.8v4.9h-4.8zM98.0 117.8h4.8v4.9h-4.8zM125.1 122.4h4.8v4.9h-4.8zM129.7 127.1h4.8v4.9h-4.8zM98.0 131.7h4.8v4.9h-4.8zM129.7 131.7h4.8v4.9h-4.8zM102.5 136.4h4.8v4.9h-4.8zM125.1 136.4h4.8v4.9h-4.8z"/><path fill="#00bbff" d="M120.6 103.9h4.8v4.9h-4.8zM102.5 117.8h4.8v4.9h-4.8zM129.7 122.4h4.8v4.9h-4.8zM102.5 131.7h4.8v4.9h-4.8zM129.7 136.4h4.8v4.9h-4.8z"/><path fill="#4cffb3" d="M152.3 103.9h4.8v4.9h-4.8zM156.9 108.5h4.8v4.9h-4.8zM156.9 150.3h4.8v4.9h-4.8zM152.3 154.9h4.8v4.9h-4.8z"/><path fill="#74ff8b" d="M161.4 103.9h4.8v4.9h-4.8zM165.9 108.5h4.8v4.9h-4.8z"/><path fill="#009bff" d="M116.1 108.5h4.8v4.9h-4.8zM98.0 113.2h4.8v4.9h-4.8zM125.1 127.1h4.8v4.9h-4.8zM125.1 131.7h4.8v4.9h-4.8zM98.0 136.4h4.8v4.9h-4.8z"/><path fill="#44ffbb" d="M152.3 108.5h4.8v4.9h-4.8zM152.3 150.3h4.8v4.9h-4.8z"/><path fill="#0083ff" d="M88.9 113.2h4.8v4.9h-4.8zM116.1 127.1h4.8v4.9h-4.8zM116.1 131.7h4.8v4.9h-4.8zM88.9 136.4h4.8v4.9h-4.8zM98.0 145.7h4.8v4.9h-4.8zM125.1 164.2h4.8v4.9h-4.8z"/><path fill="#008bff" d="M93.4 113.2h4.8v4.9h-4.8zM88.9 117.8h4.8v4.9h-4.8zM116.1 122.4h4.8v4.9h-4.8zM120.6 127.1h4.8v4.9h-4.8zM88.9 131.7h4.8v4.9h-4.8zM120.6 131.7h4.8v4.9h-4.8zM93.4 136.4h4.8v4.9h-4.8zM116.1 136.4h4.8v4.9h-4.8zM98.0 141.0h4.8v4.9h-4.8zM102.5 145.7h4.8v4.9h-4.8zM125.1 159.6h4.8v4.9h-4.8zM129.7 164.2h4.8v4.9h-4.8z"/><path fill="#40ffbf" d="M152.3 113.2h9.4v4.9h-9.4zM152.3 117.8h9.4v4.9h-9.4zM152.3 122.4h9.4v4.9h-9.4zM152.3 127.1h9.4v4.9h-9.4z"/><path fill="#00a3ff" d="M93.4 117.8h4.8v4.9h-4.8zM120.6 122.4h4.8v4.9h-4.8zM93.4 131.7h4.8v4.9h-4.8zM120.6 136.4h4.8v4.9h-4.8zM102.5 141.0h4.8v4.9h-4.8zM129.7 159.6h4.8v4.9h-4.8z"/><path fill="#f7ff08" d="M175.0 131.7h4.8v4.9h-4.8z"/><path fill="#97ff68" d="M170.4 136.4h4.8v4.9h-4.8z"/><path fill="#000aff" d="M61.7 150.3h4.8v4.9h-4.8z"/><path fill="#001aff" d="M66.2 150.3h4.8v4.9h-4.8z"/><path fill="#006cff" d="M93.4 150.3h4.8v4.9h-4.8z"/><path fill="#0000e2" d="M66.2 154.9h4.8v4.9h-4.8z"/><path fill="#002cff" d="M88.9 154.9h4.8v4.9h-4.8z"/><path fill="#00ebff" d="M138.7 159.6h4.8v4.9h-4.8z"/><path fill="#00abff" d="M134.2 164.2h4.8v4.9h-4.8z"/><path fill="#000080" d="M111.5 6.4H134.5V16.3H111.5zM134.5 6.4H146.8V18.5H134.5zM146.8 6.4H154.0V20.5H146.8zM154.0 6.4H170.0V22.1H154.0zM170.0 6.4H173.0V24.8H170.0zM173.0 6.4H193.1V29.8H173.0zM111.5 168.7H133.9V173.5H111.5zM133.9 166.2H154.0V173.5H133.9zM154.0 168.7H166.5V173.5H154.0zM166.5 166.2H176.5V173.5H166.5zM176.5 161.2H186.6V173.5H176.5zM186.6 158.0H190.4V173.5H186.6zM190.4 152.4H193.1V173.5H190.4z"/><circle cx="113.0" cy="90.4" r="18.3" fill="none" stroke="#000" stroke-width="1.6"/><circle cx="113.0" cy="90.4" r="36.6" fill="none" stroke="#000" stroke-width="1.5"/><circle cx="113.0" cy="90.4" r="54.8" fill="none" stroke="#000" stroke-width="1.2"/><circle cx="113.0" cy="90.4" r="73.1" fill="none" stroke="#000" stroke-width="1.1"/><circle cx="113.0" cy="90.7" r="0.9" fill="#000"/><g font-size="16" stroke-width="0.35"><text x="34.9" y="22.7" fill="#fff" stroke="#fff" text-anchor="start">427.8nm</text><text x="114.8" y="19.1" fill="#fff" stroke="#fff" text-anchor="middle">N</text><text x="32.2" y="93.9" fill="#fff" stroke="#fff" text-anchor="start">E</text><text x="111.9" y="172.8" fill="#fff" stroke="#fff" text-anchor="start">S</text><text x="142.8" y="22.1" fill="#fff" stroke="#fff" text-anchor="start">50</text><text x="133.2" y="37.4" fill="#000" stroke="#000" text-anchor="start">60</text><text x="125.3" y="54.0" fill="#000" stroke="#000" text-anchor="start">70</text><text x="118.3" y="71.5" fill="#000" stroke="#000" text-anchor="start">80</text><text x="110.8" y="88.1" fill="#000" stroke="#000" text-anchor="start">90</text></g><g font-size="16" stroke-width="0.35"><text x="182.0" y="93.6" fill="#fff" stroke="#fff" text-anchor="start">W</text></g><path d="M39.2 6.4v2.2M39.2 173.5v-2.2M48.4 6.4v2.2M48.4 173.5v-2.2M57.6 6.4v2.2M57.6 173.5v-2.2M66.8 6.4v2.2M66.8 173.5v-2.2M76.0 6.4v2.2M76.0 173.5v-2.2M85.2 6.4v2.2M85.2 173.5v-2.2M94.4 6.4v2.2M94.4 173.5v-2.2M103.6 6.4v2.2M103.6 173.5v-2.2M112.8 6.4v2.2M112.8 173.5v-2.2M122.0 6.4v2.2M122.0 173.5v-2.2M131.2 6.4v2.2M131.2 173.5v-2.2M140.4 6.4v2.2M140.4 173.5v-2.2M149.6 6.4v2.2M149.6 173.5v-2.2M158.8 6.4v2.2M158.8 173.5v-2.2M168.0 6.4v2.2M168.0 173.5v-2.2M177.2 6.4v2.2M177.2 173.5v-2.2M186.4 6.4v2.2M186.4 173.5v-2.2M30.0 15.6h2.2M30.0 24.8h2.2M30.0 34.0h2.2M30.0 43.2h2.2M30.0 52.4h2.2M30.0 61.6h2.2M30.0 70.8h2.2M30.0 80.0h2.2M30.0 89.2h2.2M30.0 98.4h2.2M30.0 107.6h2.2M30.0 116.8h2.2M30.0 126.0h2.2M30.0 135.2h2.2M30.0 144.4h2.2M30.0 153.6h2.2M30.0 162.8h2.2M30.0 172.0h2.2" stroke="#000" stroke-width="1" fill="none"/><rect x="193.1" y="6.4" width="3.7" height="167.1" fill="url(#jet)"/><path d="M196.8 165.28h-2.2M196.8 157.05h-2.2M196.8 148.83h-2.2M196.8 140.60h-2.2M196.8 132.38h-2.2M196.8 124.15h-2.2M196.8 115.93h-2.2M196.8 107.70h-2.2M196.8 99.48h-2.2M196.8 91.25h-2.2M196.8 83.03h-2.2M196.8 74.80h-2.2M196.8 66.58h-2.2M196.8 58.35h-2.2M196.8 50.13h-2.2M196.8 41.90h-2.2M196.8 33.68h-2.2M196.8 25.45h-2.2M196.8 17.23h-2.2M196.8 9.00h-2.2" stroke="#000" stroke-width="0.9" fill="none"/><rect x="30.0" y="6.4" width="166.8" height="167.1" fill="none" stroke="#000" stroke-width="1"/><line x1="193.1" y1="6.4" x2="193.1" y2="173.5" stroke="#000" stroke-width="0.6"/><g font-size="16" fill="#000"><text x="197.8" y="11.7">20</text><text x="196.3" y="53.2">15</text><text x="196.3" y="97.0">10</text><text x="197.8" y="137.8">5</text><text x="197.8" y="176.2">0</text></g><text font-size="16.3" transform="translate(222.5 90.5) rotate(-90)" x="0" y="5.5" text-anchor="middle">I (kR)</text><text font-size="21" x="1.1" y="24.5">(a)</text><rect x="251.2" y="6.0" width="165.7" height="167.4" fill="#000080"/><path fill="#000080" d="M251.2 6.0h46.3v5.0h-46.3zM251.2 10.7h46.3v5.0h-46.3zM251.2 15.3h18.7v5.0h-18.7zM251.2 20.0h18.7v5.0h-18.7zM251.2 24.6h9.5v5.0h-9.5zM251.2 29.2h9.5v5.0h-9.5zM251.2 33.9h9.5v5.0h-9.5zM251.2 38.6h9.5v5.0h-9.5zM251.2 43.2h9.5v5.0h-9.5zM251.2 47.9h9.5v5.0h-9.5zM251.2 52.5h9.5v5.0h-9.5zM251.2 57.2h9.5v5.0h-9.5zM251.2 61.8h9.5v5.0h-9.5zM251.2 66.5h9.5v5.0h-9.5zM251.2 71.1h9.5v5.0h-9.5zM251.2 75.8h9.5v5.0h-9.5zM251.2 80.4h9.5v5.0h-9.5zM251.2 85.1h9.5v5.0h-9.5zM251.2 89.7h9.5v5.0h-9.5zM251.2 94.4h9.5v5.0h-9.5zM251.2 99.0h9.5v5.0h-9.5zM251.2 103.7h9.5v5.0h-9.5zM251.2 108.3h9.5v5.0h-9.5zM251.2 113.0h9.5v5.0h-9.5zM251.2 136.2h18.7v5.0h-18.7zM251.2 140.9h18.7v5.0h-18.7zM251.2 145.5h18.7v5.0h-18.7zM251.2 150.2h18.7v5.0h-18.7zM251.2 154.8h27.9v5.0h-27.9zM251.2 159.5h27.9v5.0h-27.9zM251.2 164.1h83.1v5.0h-83.1zM251.2 168.8h83.1v5.0h-83.1z"/><path fill="#0000bf" d="M297.2 6.0h4.9v5.0h-4.9zM269.6 15.3h14.1v5.0h-14.1zM269.6 20.0h14.1v5.0h-14.1zM260.4 24.6h23.3v5.0h-23.3zM260.4 29.2h14.1v5.0h-14.1zM260.4 33.9h14.1v5.0h-14.1zM260.4 38.6h14.1v5.0h-14.1zM260.4 43.2h14.1v5.0h-14.1zM260.4 47.9h14.1v5.0h-14.1zM260.4 52.5h14.1v5.0h-14.1zM260.4 57.2h14.1v5.0h-14.1zM260.4 61.8h14.1v5.0h-14.1zM260.4 66.5h4.9v5.0h-4.9zM260.4 71.1h4.9v5.0h-4.9zM260.4 75.8h4.9v5.0h-4.9zM260.4 80.4h4.9v5.0h-4.9zM260.4 85.1h4.9v5.0h-4.9zM260.4 89.7h4.9v5.0h-4.9zM260.4 94.4h4.9v5.0h-4.9zM260.4 99.0h4.9v5.0h-4.9zM260.4 103.7h4.9v5.0h-4.9zM260.4 108.3h4.9v5.0h-4.9zM260.4 113.0h4.9v5.0h-4.9zM251.2 117.6h14.1v5.0h-14.1zM251.2 122.3h14.1v5.0h-14.1zM251.2 126.9h14.1v5.0h-14.1zM251.2 131.6h23.3v5.0h-23.3zM269.6 136.2h4.9v5.0h-4.9zM269.6 140.9h4.9v5.0h-4.9zM269.6 145.5h4.9v5.0h-4.9zM269.6 150.2h4.9v5.0h-4.9zM278.8 159.5h14.1v5.0h-14.1z"/><path fill="#0000cf" d="M301.8 6.0h4.9v5.0h-4.9zM283.4 15.3h4.9v5.0h-4.9zM283.4 20.0h4.9v5.0h-4.9zM283.4 24.6h4.9v5.0h-4.9zM274.2 38.6h4.9v5.0h-4.9zM274.2 43.2h4.9v5.0h-4.9zM274.2 47.9h4.9v5.0h-4.9zM274.2 52.5h4.9v5.0h-4.9zM274.2 57.2h4.9v5.0h-4.9zM274.2 61.8h4.9v5.0h-4.9zM265.0 75.8h4.9v5.0h-4.9zM265.0 80.4h4.9v5.0h-4.9zM265.0 85.1h4.9v5.0h-4.9zM265.0 89.7h4.9v5.0h-4.9zM265.0 94.4h4.9v5.0h-4.9zM265.0 99.0h4.9v5.0h-4.9zM274.2 126.9h9.5v5.0h-9.5zM274.2 140.9h4.9v5.0h-4.9zM274.2 145.5h4.9v5.0h-4.9z"/><path fill="#0000ef" d="M306.4 6.0h4.9v5.0h-4.9zM288.0 15.3h4.9v5.0h-4.9zM288.0 20.0h4.9v5.0h-4.9zM288.0 24.6h4.9v5.0h-4.9zM278.8 38.6h4.9v5.0h-4.9zM278.8 43.2h4.9v5.0h-4.9zM278.8 47.9h4.9v5.0h-4.9zM278.8 52.5h4.9v5.0h-4.9zM278.8 57.2h4.9v5.0h-4.9zM278.8 61.8h4.9v5.0h-4.9zM269.6 75.8h4.9v5.0h-4.9zM269.6 80.4h4.9v5.0h-4.9zM269.6 85.1h4.9v5.0h-4.9zM269.6 89.7h4.9v5.0h-4.9zM269.6 94.4h4.9v5.0h-4.9zM269.6 99.0h4.9v5.0h-4.9zM274.2 122.3h9.5v5.0h-9.5zM278.8 140.9h4.9v5.0h-4.9zM278.8 145.5h4.9v5.0h-4.9z"/><path fill="#0000ff" d="M311.0 6.0h9.5v5.0h-9.5zM306.4 10.7h4.9v5.0h-4.9zM301.8 15.3h4.9v5.0h-4.9zM292.6 20.0h9.5v5.0h-9.5zM292.6 24.6h9.5v5.0h-9.5zM283.4 38.6h9.5v5.0h-9.5zM283.4 43.2h9.5v5.0h-9.5zM283.4 47.9h9.5v5.0h-9.5zM283.4 52.5h9.5v5.0h-9.5zM283.4 57.2h9.5v5.0h-9.5zM283.4 61.8h9.5v5.0h-9.5zM283.4 66.5h9.5v5.0h-9.5zM283.4 71.1h9.5v5.0h-9.5zM274.2 75.8h18.7v5.0h-18.7zM274.2 80.4h18.7v5.0h-18.7zM274.2 85.1h18.7v5.0h-18.7zM274.2 89.7h18.7v5.0h-18.7zM274.2 94.4h18.7v5.0h-18.7zM274.2 99.0h18.7v5.0h-18.7zM283.4 103.7h9.5v5.0h-9.5zM283.4 108.3h9.5v5.0h-9.5zM283.4 113.0h9.5v5.0h-9.5zM283.4 117.6h9.5v5.0h-9.5zM288.0 131.6h4.9v5.0h-4.9zM283.4 136.2h4.9v5.0h-4.9z"/><path fill="#0010ff" d="M320.2 6.0h4.9v5.0h-4.9zM311.0 10.7h9.5v5.0h-9.5zM301.8 20.0h4.9v5.0h-4.9zM301.8 24.6h4.9v5.0h-4.9zM292.6 38.6h4.9v5.0h-4.9zM292.6 43.2h4.9v5.0h-4.9zM292.6 47.9h4.9v5.0h-4.9zM292.6 52.5h4.9v5.0h-4.9zM292.6 57.2h4.9v5.0h-4.9zM292.6 61.8h4.9v5.0h-4.9zM292.6 66.5h4.9v5.0h-4.9zM292.6 71.1h4.9v5.0h-4.9zM292.6 75.8h4.9v5.0h-4.9zM292.6 80.4h4.9v5.0h-4.9zM292.6 85.1h4.9v5.0h-4.9zM292.6 89.7h4.9v5.0h-4.9zM292.6 94.4h4.9v5.0h-4.9zM292.6 99.0h4.9v5.0h-4.9zM292.6 103.7h4.9v5.0h-4.9zM292.6 108.3h4.9v5.0h-4.9zM292.6 113.0h4.9v5.0h-4.9zM292.6 117.6h4.9v5.0h-4.9zM292.6 122.3h4.9v5.0h-4.9zM292.6 126.9h4.9v5.0h-4.9zM283.4 140.9h4.9v5.0h-4.9zM283.4 145.5h4.9v5.0h-4.9z"/><path fill="#0030ff" d="M324.8 6.0h4.9v5.0h-4.9zM311.0 15.3h9.5v5.0h-9.5zM306.4 20.0h4.9v5.0h-4.9zM306.4 24.6h4.9v5.0h-4.9zM297.2 38.6h4.9v5.0h-4.9zM297.2 43.2h4.9v5.0h-4.9zM297.2 47.9h4.9v5.0h-4.9zM297.2 52.5h4.9v5.0h-4.9zM297.2 57.2h4.9v5.0h-4.9zM297.2 61.8h4.9v5.0h-4.9zM297.2 66.5h4.9v5.0h-4.9zM297.2 71.1h4.9v5.0h-4.9zM297.2 75.8h4.9v5.0h-4.9zM297.2 80.4h4.9v5.0h-4.9zM297.2 85.1h4.9v5.0h-4.9zM297.2 89.7h4.9v5.0h-4.9zM297.2 94.4h4.9v5.0h-4.9zM297.2 99.0h4.9v5.0h-4.9zM297.2 103.7h4.9v5.0h-4.9zM297.2 108.3h4.9v5.0h-4.9zM297.2 113.0h4.9v5.0h-4.9zM297.2 117.6h4.9v5.0h-4.9zM297.2 122.3h4.9v5.0h-4.9zM297.2 126.9h4.9v5.0h-4.9zM288.0 140.9h4.9v5.0h-4.9zM288.0 145.5h4.9v5.0h-4.9z"/><path fill="#0040ff" d="M329.4 6.0h4.9v5.0h-4.9zM329.4 10.7h4.9v5.0h-4.9zM329.4 15.3h4.9v5.0h-4.9zM311.0 20.0h23.3v5.0h-23.3zM311.0 24.6h23.3v5.0h-23.3zM311.0 29.2h9.5v5.0h-9.5zM311.0 33.9h9.5v5.0h-9.5zM301.8 38.6h18.7v5.0h-18.7zM301.8 43.2h18.7v5.0h-18.7zM301.8 47.9h9.5v5.0h-9.5zM301.8 52.5h9.5v5.0h-9.5zM301.8 57.2h9.5v5.0h-9.5zM301.8 61.8h9.5v5.0h-9.5zM301.8 66.5h9.5v5.0h-9.5zM301.8 71.1h9.5v5.0h-9.5zM301.8 75.8h9.5v5.0h-9.5zM301.8 80.4h9.5v5.0h-9.5zM301.8 85.1h9.5v5.0h-9.5zM301.8 89.7h9.5v5.0h-9.5zM301.8 94.4h9.5v5.0h-9.5zM301.8 99.0h9.5v5.0h-9.5zM297.2 131.6h4.9v5.0h-4.9zM292.6 136.2h4.9v5.0h-4.9zM334.0 150.2h4.9v5.0h-4.9zM334.0 154.8h4.9v5.0h-4.9zM301.8 159.5h46.3v5.0h-46.3zM334.0 164.1h14.1v5.0h-14.1zM334.0 168.8h23.3v5.0h-23.3z"/><path fill="#00ffff" d="M334.0 6.0h4.9v5.0h-4.9zM334.0 29.2h4.9v5.0h-4.9zM334.0 33.9h4.9v5.0h-4.9zM334.0 38.6h4.9v5.0h-4.9zM334.0 43.2h4.9v5.0h-4.9zM357.1 85.1h4.9v5.0h-4.9zM361.7 89.7h4.9v5.0h-4.9z"/><path fill="#30ffcf" d="M338.7 6.0h4.9v5.0h-4.9zM334.0 15.3h4.9v5.0h-4.9zM334.0 20.0h4.9v5.0h-4.9zM338.7 24.6h4.9v5.0h-4.9zM361.7 57.2h4.9v5.0h-4.9zM361.7 61.8h4.9v5.0h-4.9zM361.7 66.5h4.9v5.0h-4.9zM361.7 71.1h4.9v5.0h-4.9zM361.7 75.8h4.9v5.0h-4.9zM361.7 80.4h4.9v5.0h-4.9zM370.9 94.4h4.9v5.0h-4.9zM370.9 99.0h4.9v5.0h-4.9zM370.9 103.7h4.9v5.0h-4.9zM370.9 108.3h4.9v5.0h-4.9zM370.9 113.0h4.9v5.0h-4.9zM370.9 117.6h4.9v5.0h-4.9zM380.1 131.6h4.9v5.0h-4.9zM380.1 136.2h4.9v5.0h-4.9zM380.1 140.9h4.9v5.0h-4.9zM380.1 145.5h4.9v5.0h-4.9z"/><path fill="#8fff70" d="M343.3 6.0h4.9v5.0h-4.9zM343.3 20.0h4.9v5.0h-4.9zM412.3 61.8h4.9v5.0h-4.9zM412.3 66.5h4.9v5.0h-4.9zM412.3 113.0h4.9v5.0h-4.9zM393.9 140.9h4.9v5.0h-4.9zM393.9 145.5h4.9v5.0h-4.9zM375.5 168.8h4.9v5.0h-4.9z"/><path fill="#efff10" d="M347.9 6.0h4.9v5.0h-4.9zM347.9 10.7h4.9v5.0h-4.9zM347.9 15.3h4.9v5.0h-4.9zM375.5 20.0h9.5v5.0h-9.5zM393.9 29.2h4.9v5.0h-4.9zM403.1 33.9h4.9v5.0h-4.9zM412.3 38.6h4.9v5.0h-4.9zM384.7 57.2h4.9v5.0h-4.9zM412.3 89.7h4.9v5.0h-4.9zM412.3 122.3h4.9v5.0h-4.9zM403.1 136.2h4.9v5.0h-4.9zM412.3 140.9h4.9v5.0h-4.9z"/><path fill="#ffaf00" d="M352.5 6.0h4.9v5.0h-4.9zM403.1 6.0h4.9v5.0h-4.9zM352.5 10.7h4.9v5.0h-4.9zM403.1 10.7h4.9v5.0h-4.9zM352.5 15.3h4.9v5.0h-4.9zM403.1 15.3h4.9v5.0h-4.9zM403.1 20.0h4.9v5.0h-4.9zM403.1 24.6h4.9v5.0h-4.9zM407.7 29.2h4.9v5.0h-4.9zM380.1 66.5h4.9v5.0h-4.9zM412.3 126.9h4.9v5.0h-4.9zM407.7 131.6h4.9v5.0h-4.9z"/><path fill="#ff7000" d="M357.1 6.0h4.9v5.0h-4.9zM366.3 6.0h4.9v5.0h-4.9zM357.1 10.7h4.9v5.0h-4.9zM366.3 10.7h4.9v5.0h-4.9zM357.1 15.3h4.9v5.0h-4.9zM366.3 15.3h4.9v5.0h-4.9zM380.1 71.1h4.9v5.0h-4.9z"/><path fill="#ff5000" d="M361.7 6.0h4.9v5.0h-4.9zM361.7 10.7h4.9v5.0h-4.9zM361.7 15.3h4.9v5.0h-4.9z"/><path fill="#ffcf00" d="M370.9 6.0h4.9v5.0h-4.9zM389.3 6.0h4.9v5.0h-4.9zM370.9 10.7h4.9v5.0h-4.9zM389.3 10.7h4.9v5.0h-4.9zM370.9 15.3h4.9v5.0h-4.9zM389.3 15.3h4.9v5.0h-4.9zM403.1 29.2h4.9v5.0h-4.9zM375.5 66.5h4.9v5.0h-4.9zM403.1 131.6h4.9v5.0h-4.9z"/><path fill="#ffff00" d="M375.5 6.0h9.5v5.0h-9.5zM375.5 10.7h9.5v5.0h-9.5zM375.5 15.3h9.5v5.0h-9.5zM384.7 20.0h4.9v5.0h-4.9zM370.9 24.6h4.9v5.0h-4.9zM389.3 24.6h4.9v5.0h-4.9zM380.1 57.2h4.9v5.0h-4.9zM375.5 61.8h4.9v5.0h-4.9zM393.9 75.8h4.9v5.0h-4.9zM398.5 80.4h4.9v5.0h-4.9zM403.1 85.1h4.9v5.0h-4.9zM407.7 89.7h4.9v5.0h-4.9z"/><path fill="#ffef00" d="M384.7 6.0h4.9v5.0h-4.9zM384.7 10.7h4.9v5.0h-4.9zM384.7 15.3h4.9v5.0h-4.9zM398.5 29.2h4.9v5.0h-4.9zM407.7 33.9h4.9v5.0h-4.9zM384.7 61.8h4.9v5.0h-4.9zM407.7 136.2h4.9v5.0h-4.9z"/><path fill="#ffbf00" d="M393.9 6.0h9.5v5.0h-9.5zM393.9 10.7h9.5v5.0h-9.5zM393.9 15.3h9.5v5.0h-9.5zM352.5 20.0h4.9v5.0h-4.9zM366.3 29.2h4.9v5.0h-4.9zM393.9 85.1h4.9v5.0h-4.9zM398.5 89.7h4.9v5.0h-4.9z"/><path fill="#ff8f00" d="M407.7 6.0h4.9v5.0h-4.9zM407.7 10.7h4.9v5.0h-4.9zM407.7 15.3h4.9v5.0h-4.9zM407.7 20.0h4.9v5.0h-4.9zM407.7 24.6h4.9v5.0h-4.9zM375.5 71.1h4.9v5.0h-4.9z"/><path fill="#ff8000" d="M412.3 6.0h4.9v5.0h-4.9zM412.3 10.7h4.9v5.0h-4.9zM412.3 15.3h4.9v5.0h-4.9zM357.1 20.0h4.9v5.0h-4.9zM366.3 20.0h4.9v5.0h-4.9zM412.3 20.0h4.9v5.0h-4.9zM361.7 24.6h4.9v5.0h-4.9zM412.3 24.6h4.9v5.0h-4.9z"/><path fill="#0000d3" d="M297.2 10.7h4.9v5.0h-4.9zM283.4 154.8h4.9v5.0h-4.9z"/><path fill="#0000df" d="M301.8 10.7h4.9v5.0h-4.9zM283.4 131.6h4.9v5.0h-4.9zM292.6 159.5h4.9v5.0h-4.9z"/><path fill="#001cff" d="M320.2 10.7h4.9v5.0h-4.9zM301.8 29.2h4.9v5.0h-4.9z"/><path fill="#0034ff" d="M324.8 10.7h4.9v5.0h-4.9zM320.2 15.3h4.9v5.0h-4.9zM306.4 29.2h4.9v5.0h-4.9zM301.8 33.9h4.9v5.0h-4.9zM292.6 150.2h4.9v5.0h-4.9zM297.2 154.8h4.9v5.0h-4.9z"/><path fill="#10ffef" d="M334.0 10.7h4.9v5.0h-4.9zM334.0 24.6h4.9v5.0h-4.9zM357.1 57.2h4.9v5.0h-4.9zM357.1 61.8h4.9v5.0h-4.9zM357.1 66.5h4.9v5.0h-4.9zM357.1 71.1h4.9v5.0h-4.9zM357.1 75.8h4.9v5.0h-4.9zM357.1 80.4h4.9v5.0h-4.9zM366.3 94.4h4.9v5.0h-4.9zM366.3 99.0h4.9v5.0h-4.9zM366.3 103.7h4.9v5.0h-4.9zM366.3 108.3h4.9v5.0h-4.9zM366.3 113.0h4.9v5.0h-4.9zM366.3 117.6h4.9v5.0h-4.9zM375.5 131.6h4.9v5.0h-4.9zM375.5 136.2h4.9v5.0h-4.9zM375.5 140.9h4.9v5.0h-4.9zM375.5 145.5h4.9v5.0h-4.9z"/><path fill="#3cffc3" d="M338.7 10.7h4.9v5.0h-4.9zM343.3 33.9h4.9v5.0h-4.9zM380.1 122.3h4.9v5.0h-4.9zM370.9 159.5h4.9v5.0h-4.9z"/><path fill="#93ff6c" d="M343.3 10.7h4.9v5.0h-4.9zM366.3 75.8h4.9v5.0h-4.9zM407.7 113.0h4.9v5.0h-4.9z"/><path fill="#0000fa" d="M292.6 15.3h4.9v5.0h-4.9z"/><path fill="#0000f2" d="M297.2 15.3h4.9v5.0h-4.9z"/><path fill="#0020ff" d="M306.4 15.3h4.9v5.0h-4.9zM292.6 131.6h4.9v5.0h-4.9zM288.0 136.2h4.9v5.0h-4.9zM297.2 159.5h4.9v5.0h-4.9z"/><path fill="#003cff" d="M324.8 15.3h4.9v5.0h-4.9zM306.4 33.9h4.9v5.0h-4.9z"/><path fill="#54ffab" d="M338.7 15.3h4.9v5.0h-4.9zM343.3 29.2h4.9v5.0h-4.9zM370.9 164.1h4.9v5.0h-4.9z"/><path fill="#9bff64" d="M343.3 15.3h4.9v5.0h-4.9zM375.5 33.9h4.9v5.0h-4.9zM357.1 38.6h4.9v5.0h-4.9zM393.9 38.6h4.9v5.0h-4.9zM393.9 52.5h4.9v5.0h-4.9zM393.9 57.2h4.9v5.0h-4.9zM407.7 61.8h4.9v5.0h-4.9zM407.7 66.5h4.9v5.0h-4.9zM366.3 80.4h4.9v5.0h-4.9zM403.1 113.0h4.9v5.0h-4.9zM393.9 150.2h4.9v5.0h-4.9zM384.7 159.5h4.9v5.0h-4.9z"/><path fill="#50ffaf" d="M338.7 20.0h4.9v5.0h-4.9zM384.7 113.0h4.9v5.0h-4.9zM384.7 117.6h4.9v5.0h-4.9zM384.7 122.3h4.9v5.0h-4.9zM384.7 126.9h4.9v5.0h-4.9zM384.7 131.6h4.9v5.0h-4.9zM384.7 136.2h4.9v5.0h-4.9zM384.7 140.9h4.9v5.0h-4.9zM384.7 145.5h4.9v5.0h-4.9z"/><path fill="#dfff20" d="M347.9 20.0h4.9v5.0h-4.9zM384.7 24.6h4.9v5.0h-4.9zM370.9 29.2h4.9v5.0h-4.9zM375.5 57.2h4.9v5.0h-4.9zM398.5 75.8h4.9v5.0h-4.9zM407.7 85.1h4.9v5.0h-4.9zM412.3 94.4h4.9v5.0h-4.9z"/><path fill="#ff6000" d="M361.7 20.0h4.9v5.0h-4.9z"/><path fill="#ffdf00" d="M370.9 20.0h4.9v5.0h-4.9zM389.3 20.0h4.9v5.0h-4.9zM352.5 24.6h4.9v5.0h-4.9zM366.3 33.9h4.9v5.0h-4.9zM412.3 33.9h4.9v5.0h-4.9zM380.1 61.8h4.9v5.0h-4.9zM393.9 80.4h4.9v5.0h-4.9zM398.5 85.1h4.9v5.0h-4.9zM403.1 89.7h4.9v5.0h-4.9zM412.3 136.2h4.9v5.0h-4.9z"/><path fill="#ffcb00" d="M393.9 20.0h4.9v5.0h-4.9zM398.5 24.6h4.9v5.0h-4.9zM393.9 94.4h4.9v5.0h-4.9z"/><path fill="#ffc300" d="M398.5 20.0h4.9v5.0h-4.9zM384.7 66.5h4.9v5.0h-4.9zM370.9 75.8h4.9v5.0h-4.9zM389.3 75.8h4.9v5.0h-4.9z"/><path fill="#70ff8f" d="M343.3 24.6h4.9v5.0h-4.9zM389.3 113.0h4.9v5.0h-4.9zM389.3 117.6h4.9v5.0h-4.9zM389.3 122.3h4.9v5.0h-4.9zM389.3 126.9h4.9v5.0h-4.9zM389.3 131.6h4.9v5.0h-4.9zM389.3 136.2h4.9v5.0h-4.9zM389.3 140.9h4.9v5.0h-4.9zM389.3 145.5h4.9v5.0h-4.9z"/><path fill="#bfff40" d="M347.9 24.6h4.9v5.0h-4.9zM370.9 33.9h4.9v5.0h-4.9zM403.1 47.9h14.1v5.0h-14.1zM403.1 52.5h14.1v5.0h-14.1zM412.3 75.8h4.9v5.0h-4.9zM412.3 80.4h4.9v5.0h-4.9zM403.1 150.2h14.1v5.0h-14.1zM403.1 154.8h14.1v5.0h-14.1zM393.9 159.5h23.3v5.0h-23.3zM393.9 164.1h23.3v5.0h-23.3zM384.7 168.8h32.5v5.0h-32.5z"/><path fill="#ff9f00" d="M357.1 24.6h4.9v5.0h-4.9zM366.3 24.6h4.9v5.0h-4.9zM412.3 29.2h4.9v5.0h-4.9zM393.9 89.7h4.9v5.0h-4.9zM412.3 131.6h4.9v5.0h-4.9z"/><path fill="#cfff30" d="M375.5 24.6h9.5v5.0h-9.5zM398.5 33.9h4.9v5.0h-4.9zM412.3 43.2h4.9v5.0h-4.9zM389.3 61.8h4.9v5.0h-4.9zM412.3 85.1h4.9v5.0h-4.9zM412.3 145.5h4.9v5.0h-4.9z"/><path fill="#ffe300" d="M393.9 24.6h4.9v5.0h-4.9zM389.3 71.1h4.9v5.0h-4.9zM398.5 94.4h4.9v5.0h-4.9z"/><path fill="#0000c3" d="M274.2 29.2h4.9v5.0h-4.9zM265.0 66.5h4.9v5.0h-4.9zM265.0 108.3h4.9v5.0h-4.9zM265.0 113.0h4.9v5.0h-4.9zM265.0 126.9h4.9v5.0h-4.9zM274.2 131.6h4.9v5.0h-4.9z"/><path fill="#0000cb" d="M278.8 29.2h4.9v5.0h-4.9zM274.2 33.9h4.9v5.0h-4.9zM269.6 66.5h4.9v5.0h-4.9zM265.0 71.1h4.9v5.0h-4.9zM265.0 103.7h4.9v5.0h-4.9zM269.6 108.3h4.9v5.0h-4.9zM269.6 113.0h4.9v5.0h-4.9zM265.0 117.6h4.9v5.0h-4.9zM265.0 122.3h4.9v5.0h-4.9zM269.6 126.9h4.9v5.0h-4.9zM278.8 131.6h4.9v5.0h-4.9zM274.2 136.2h4.9v5.0h-4.9z"/><path fill="#0000db" d="M283.4 29.2h4.9v5.0h-4.9zM274.2 66.5h4.9v5.0h-4.9zM274.2 108.3h4.9v5.0h-4.9zM274.2 113.0h4.9v5.0h-4.9zM283.4 126.9h4.9v5.0h-4.9zM288.0 154.8h4.9v5.0h-4.9z"/><path fill="#0000f3" d="M288.0 29.2h4.9v5.0h-4.9zM283.4 33.9h4.9v5.0h-4.9zM278.8 66.5h4.9v5.0h-4.9zM274.2 71.1h4.9v5.0h-4.9zM274.2 103.7h4.9v5.0h-4.9zM278.8 108.3h4.9v5.0h-4.9zM278.8 113.0h4.9v5.0h-4.9zM274.2 117.6h4.9v5.0h-4.9zM283.4 122.3h4.9v5.0h-4.9zM288.0 126.9h4.9v5.0h-4.9z"/><path fill="#0004ff" d="M292.6 29.2h4.9v5.0h-4.9z"/><path fill="#000cff" d="M297.2 29.2h4.9v5.0h-4.9zM292.6 33.9h4.9v5.0h-4.9z"/><path fill="#0044ff" d="M320.2 29.2h4.9v5.0h-4.9zM311.0 47.9h4.9v5.0h-4.9zM301.8 103.7h4.9v5.0h-4.9zM338.7 154.8h4.9v5.0h-4.9zM347.9 164.1h4.9v5.0h-4.9z"/><path fill="#004cff" d="M324.8 29.2h4.9v5.0h-4.9zM320.2 33.9h4.9v5.0h-4.9zM315.6 47.9h4.9v5.0h-4.9zM311.0 52.5h4.9v5.0h-4.9zM306.4 103.7h4.9v5.0h-4.9zM301.8 108.3h4.9v5.0h-4.9zM338.7 150.2h4.9v5.0h-4.9zM343.3 154.8h4.9v5.0h-4.9zM347.9 159.5h4.9v5.0h-4.9zM352.5 164.1h4.9v5.0h-4.9z"/><path fill="#0050ff" d="M329.4 29.2h4.9v5.0h-4.9zM320.2 38.6h4.9v5.0h-4.9zM320.2 43.2h4.9v5.0h-4.9zM311.0 57.2h4.9v5.0h-4.9zM311.0 61.8h4.9v5.0h-4.9zM311.0 66.5h4.9v5.0h-4.9zM311.0 71.1h4.9v5.0h-4.9zM311.0 75.8h4.9v5.0h-4.9zM311.0 80.4h4.9v5.0h-4.9zM311.0 85.1h4.9v5.0h-4.9zM311.0 89.7h4.9v5.0h-4.9zM311.0 94.4h4.9v5.0h-4.9zM311.0 99.0h4.9v5.0h-4.9zM301.8 113.0h4.9v5.0h-4.9zM301.8 117.6h4.9v5.0h-4.9zM301.8 122.3h4.9v5.0h-4.9zM301.8 126.9h4.9v5.0h-4.9zM292.6 140.9h4.9v5.0h-4.9zM292.6 145.5h4.9v5.0h-4.9zM334.0 145.5h4.9v5.0h-4.9zM301.8 154.8h32.5v5.0h-32.5z"/><path fill="#1cffe3" d="M338.7 29.2h4.9v5.0h-4.9zM375.5 126.9h4.9v5.0h-4.9zM366.3 164.1h4.9v5.0h-4.9z"/><path fill="#97ff68" d="M347.9 29.2h4.9v5.0h-4.9zM352.5 33.9h4.9v5.0h-4.9zM375.5 38.6h4.9v5.0h-4.9zM389.3 38.6h4.9v5.0h-4.9zM380.1 43.2h9.5v5.0h-9.5zM398.5 113.0h4.9v5.0h-4.9zM393.9 117.6h4.9v5.0h-4.9zM393.9 136.2h4.9v5.0h-4.9z"/><path fill="#e7ff18" d="M352.5 29.2h4.9v5.0h-4.9zM370.9 66.5h4.9v5.0h-4.9zM375.5 89.7h4.9v5.0h-4.9z"/><path fill="#ffd700" d="M357.1 29.2h4.9v5.0h-4.9zM361.7 33.9h4.9v5.0h-4.9z"/><path fill="#ffa700" d="M361.7 29.2h4.9v5.0h-4.9z"/><path fill="#b3ff4c" d="M375.5 29.2h4.9v5.0h-4.9zM380.1 33.9h4.9v5.0h-4.9zM370.9 38.6h4.9v5.0h-4.9zM398.5 38.6h4.9v5.0h-4.9zM393.9 43.2h4.9v5.0h-4.9zM393.9 47.9h4.9v5.0h-4.9zM398.5 52.5h4.9v5.0h-4.9zM398.5 57.2h4.9v5.0h-4.9zM407.7 57.2h4.9v5.0h-4.9zM393.9 61.8h4.9v5.0h-4.9zM403.1 61.8h4.9v5.0h-4.9zM403.1 66.5h4.9v5.0h-4.9zM407.7 71.1h4.9v5.0h-4.9zM398.5 99.0h4.9v5.0h-4.9zM398.5 150.2h4.9v5.0h-4.9zM393.9 154.8h4.9v5.0h-4.9zM389.3 159.5h4.9v5.0h-4.9zM384.7 164.1h4.9v5.0h-4.9z"/><path fill="#bbff44" d="M380.1 29.2h4.9v5.0h-4.9zM361.7 43.2h4.9v5.0h-4.9zM370.9 43.2h4.9v5.0h-4.9zM398.5 43.2h4.9v5.0h-4.9zM398.5 47.9h4.9v5.0h-4.9zM403.1 57.2h4.9v5.0h-4.9zM398.5 61.8h4.9v5.0h-4.9zM403.1 71.1h4.9v5.0h-4.9zM393.9 99.0h4.9v5.0h-4.9zM407.7 117.6h4.9v5.0h-4.9zM398.5 154.8h4.9v5.0h-4.9zM389.3 164.1h4.9v5.0h-4.9z"/><path fill="#c7ff38" d="M384.7 29.2h4.9v5.0h-4.9zM375.5 52.5h4.9v5.0h-4.9zM398.5 117.6h4.9v5.0h-4.9zM398.5 136.2h4.9v5.0h-4.9z"/><path fill="#d7ff28" d="M389.3 29.2h4.9v5.0h-4.9zM357.1 33.9h4.9v5.0h-4.9zM380.1 52.5h4.9v5.0h-4.9z"/><path fill="#0000e3" d="M278.8 33.9h4.9v5.0h-4.9zM269.6 71.1h4.9v5.0h-4.9zM269.6 103.7h4.9v5.0h-4.9zM269.6 117.6h4.9v5.0h-4.9zM269.6 122.3h4.9v5.0h-4.9zM278.8 136.2h4.9v5.0h-4.9z"/><path fill="#0000fb" d="M288.0 33.9h4.9v5.0h-4.9zM278.8 71.1h4.9v5.0h-4.9zM278.8 103.7h4.9v5.0h-4.9zM278.8 117.6h4.9v5.0h-4.9zM288.0 122.3h4.9v5.0h-4.9zM283.4 150.2h4.9v5.0h-4.9zM292.6 154.8h4.9v5.0h-4.9z"/><path fill="#0024ff" d="M297.2 33.9h4.9v5.0h-4.9z"/><path fill="#0064ff" d="M324.8 33.9h4.9v5.0h-4.9zM315.6 52.5h4.9v5.0h-4.9zM306.4 108.3h4.9v5.0h-4.9zM343.3 150.2h4.9v5.0h-4.9zM352.5 159.5h4.9v5.0h-4.9z"/><path fill="#0070ff" d="M329.4 33.9h4.9v5.0h-4.9zM324.8 38.6h4.9v5.0h-4.9zM324.8 43.2h4.9v5.0h-4.9zM315.6 57.2h4.9v5.0h-4.9zM315.6 61.8h4.9v5.0h-4.9zM315.6 66.5h4.9v5.0h-4.9zM315.6 71.1h4.9v5.0h-4.9zM315.6 75.8h4.9v5.0h-4.9zM315.6 80.4h4.9v5.0h-4.9zM315.6 85.1h4.9v5.0h-4.9zM315.6 89.7h4.9v5.0h-4.9zM315.6 94.4h4.9v5.0h-4.9zM315.6 99.0h4.9v5.0h-4.9zM306.4 113.0h4.9v5.0h-4.9zM306.4 117.6h4.9v5.0h-4.9zM306.4 122.3h4.9v5.0h-4.9zM306.4 126.9h4.9v5.0h-4.9zM297.2 140.9h4.9v5.0h-4.9zM334.0 140.9h4.9v5.0h-4.9zM297.2 145.5h4.9v5.0h-4.9zM301.8 150.2h32.5v5.0h-32.5zM357.1 168.8h4.9v5.0h-4.9z"/><path fill="#14ffeb" d="M338.7 33.9h4.9v5.0h-4.9zM366.3 159.5h4.9v5.0h-4.9z"/><path fill="#68ff97" d="M347.9 33.9h4.9v5.0h-4.9z"/><path fill="#b7ff48" d="M384.7 33.9h4.9v5.0h-4.9zM370.9 47.9h9.5v5.0h-9.5z"/><path fill="#a7ff58" d="M389.3 33.9h4.9v5.0h-4.9zM380.1 38.6h9.5v5.0h-9.5zM375.5 43.2h4.9v5.0h-4.9zM389.3 43.2h4.9v5.0h-4.9zM366.3 47.9h4.9v5.0h-4.9zM380.1 47.9h4.9v5.0h-4.9zM370.9 52.5h4.9v5.0h-4.9zM393.9 131.6h4.9v5.0h-4.9z"/><path fill="#afff50" d="M393.9 33.9h4.9v5.0h-4.9zM389.3 57.2h4.9v5.0h-4.9zM412.3 57.2h4.9v5.0h-4.9zM412.3 71.1h4.9v5.0h-4.9zM412.3 117.6h4.9v5.0h-4.9zM398.5 140.9h4.9v5.0h-4.9zM398.5 145.5h4.9v5.0h-4.9zM380.1 168.8h4.9v5.0h-4.9z"/><path fill="#0080ff" d="M329.4 38.6h4.9v5.0h-4.9zM329.4 43.2h4.9v5.0h-4.9zM329.4 47.9h4.9v5.0h-4.9zM329.4 52.5h4.9v5.0h-4.9zM320.2 57.2h14.1v5.0h-14.1zM320.2 61.8h14.1v5.0h-14.1zM320.2 66.5h14.1v5.0h-14.1zM320.2 71.1h14.1v5.0h-14.1zM320.2 75.8h14.1v5.0h-14.1zM320.2 80.4h14.1v5.0h-14.1zM315.6 103.7h4.9v5.0h-4.9zM311.0 108.3h4.9v5.0h-4.9zM334.0 113.0h4.9v5.0h-4.9zM334.0 117.6h4.9v5.0h-4.9zM334.0 122.3h4.9v5.0h-4.9zM334.0 126.9h4.9v5.0h-4.9zM334.0 131.6h14.1v5.0h-14.1zM334.0 136.2h14.1v5.0h-14.1zM301.8 140.9h18.7v5.0h-18.7zM301.8 145.5h18.7v5.0h-18.7zM347.9 150.2h4.9v5.0h-4.9zM352.5 154.8h4.9v5.0h-4.9z"/><path fill="#0cfff3" d="M338.7 38.6h4.9v5.0h-4.9zM343.3 43.2h4.9v5.0h-4.9zM347.9 47.9h4.9v5.0h-4.9zM352.5 52.5h4.9v5.0h-4.9zM366.3 122.3h4.9v5.0h-4.9zM370.9 126.9h4.9v5.0h-4.9zM370.9 150.2h4.9v5.0h-4.9zM366.3 154.8h4.9v5.0h-4.9z"/><path fill="#24ffdb" d="M343.3 38.6h4.9v5.0h-4.9zM352.5 47.9h4.9v5.0h-4.9zM357.1 52.5h4.9v5.0h-4.9zM370.9 122.3h4.9v5.0h-4.9zM370.9 154.8h4.9v5.0h-4.9z"/><path fill="#40ffbf" d="M347.9 38.6h4.9v5.0h-4.9zM352.5 43.2h4.9v5.0h-4.9zM375.5 113.0h9.5v5.0h-9.5zM375.5 117.6h9.5v5.0h-9.5zM380.1 150.2h4.9v5.0h-4.9zM375.5 154.8h4.9v5.0h-4.9z"/><path fill="#60ff9f" d="M352.5 38.6h4.9v5.0h-4.9zM384.7 150.2h4.9v5.0h-4.9zM380.1 154.8h4.9v5.0h-4.9zM375.5 159.5h4.9v5.0h-4.9zM370.9 168.8h4.9v5.0h-4.9z"/><path fill="#f3ff0c" d="M361.7 38.6h4.9v5.0h-4.9zM389.3 66.5h4.9v5.0h-4.9z"/><path fill="#fbff04" d="M366.3 38.6h4.9v5.0h-4.9z"/><path fill="#cbff34" d="M403.1 38.6h4.9v5.0h-4.9zM407.7 43.2h4.9v5.0h-4.9zM384.7 52.5h4.9v5.0h-4.9zM393.9 66.5h4.9v5.0h-4.9zM398.5 71.1h4.9v5.0h-4.9zM403.1 75.8h4.9v5.0h-4.9zM407.7 80.4h4.9v5.0h-4.9zM384.7 99.0h4.9v5.0h-4.9zM403.1 140.9h4.9v5.0h-4.9zM407.7 145.5h4.9v5.0h-4.9z"/><path fill="#e3ff1c" d="M407.7 38.6h4.9v5.0h-4.9zM393.9 71.1h4.9v5.0h-4.9zM403.1 80.4h4.9v5.0h-4.9zM407.7 140.9h4.9v5.0h-4.9z"/><path fill="#04fffb" d="M338.7 43.2h4.9v5.0h-4.9zM347.9 52.5h4.9v5.0h-4.9zM366.3 126.9h4.9v5.0h-4.9zM366.3 150.2h4.9v5.0h-4.9z"/><path fill="#20ffdf" d="M347.9 43.2h4.9v5.0h-4.9zM361.7 85.1h4.9v5.0h-4.9zM375.5 150.2h4.9v5.0h-4.9zM366.3 168.8h4.9v5.0h-4.9z"/><path fill="#74ff8b" d="M357.1 43.2h4.9v5.0h-4.9zM384.7 103.7h4.9v5.0h-4.9zM389.3 108.3h4.9v5.0h-4.9z"/><path fill="#d3ff2c" d="M366.3 43.2h4.9v5.0h-4.9zM403.1 117.6h4.9v5.0h-4.9z"/><path fill="#c3ff3c" d="M403.1 43.2h4.9v5.0h-4.9zM370.9 61.8h4.9v5.0h-4.9zM398.5 66.5h4.9v5.0h-4.9zM407.7 75.8h4.9v5.0h-4.9zM389.3 99.0h4.9v5.0h-4.9zM403.1 145.5h4.9v5.0h-4.9z"/><path fill="#005cff" d="M320.2 47.9h4.9v5.0h-4.9zM301.8 131.6h4.9v5.0h-4.9zM338.7 145.5h4.9v5.0h-4.9zM297.2 150.2h4.9v5.0h-4.9z"/><path fill="#0074ff" d="M324.8 47.9h4.9v5.0h-4.9zM320.2 52.5h4.9v5.0h-4.9zM306.4 131.6h4.9v5.0h-4.9zM301.8 136.2h4.9v5.0h-4.9zM338.7 140.9h4.9v5.0h-4.9zM343.3 145.5h4.9v5.0h-4.9z"/><path fill="#00efff" d="M334.0 47.9h4.9v5.0h-4.9zM352.5 66.5h4.9v5.0h-4.9zM352.5 71.1h4.9v5.0h-4.9zM352.5 75.8h4.9v5.0h-4.9zM352.5 80.4h4.9v5.0h-4.9zM361.7 94.4h4.9v5.0h-4.9zM361.7 99.0h4.9v5.0h-4.9zM361.7 103.7h4.9v5.0h-4.9zM361.7 108.3h4.9v5.0h-4.9zM361.7 113.0h4.9v5.0h-4.9zM361.7 117.6h4.9v5.0h-4.9zM361.7 122.3h4.9v5.0h-4.9zM361.7 126.9h4.9v5.0h-4.9z"/><path fill="#00f3ff" d="M338.7 47.9h4.9v5.0h-4.9zM343.3 52.5h4.9v5.0h-4.9zM347.9 57.2h4.9v5.0h-4.9zM352.5 61.8h4.9v5.0h-4.9zM366.3 131.6h4.9v5.0h-4.9zM370.9 136.2h4.9v5.0h-4.9zM370.9 140.9h4.9v5.0h-4.9zM366.3 145.5h4.9v5.0h-4.9z"/><path fill="#00fbff" d="M343.3 47.9h4.9v5.0h-4.9zM352.5 57.2h4.9v5.0h-4.9zM370.9 131.6h4.9v5.0h-4.9zM370.9 145.5h4.9v5.0h-4.9z"/><path fill="#4cffb3" d="M357.1 47.9h4.9v5.0h-4.9zM361.7 52.5h4.9v5.0h-4.9zM375.5 103.7h4.9v5.0h-4.9zM380.1 108.3h4.9v5.0h-4.9z"/><path fill="#83ff7c" d="M361.7 47.9h4.9v5.0h-4.9z"/><path fill="#a3ff5c" d="M384.7 47.9h4.9v5.0h-4.9zM389.3 52.5h4.9v5.0h-4.9zM407.7 99.0h4.9v5.0h-4.9zM393.9 122.3h4.9v5.0h-4.9z"/><path fill="#abff54" d="M389.3 47.9h4.9v5.0h-4.9zM370.9 57.2h4.9v5.0h-4.9zM380.1 99.0h4.9v5.0h-4.9zM403.1 99.0h4.9v5.0h-4.9zM393.9 126.9h4.9v5.0h-4.9z"/><path fill="#007cff" d="M324.8 52.5h4.9v5.0h-4.9zM306.4 136.2h4.9v5.0h-4.9zM343.3 140.9h4.9v5.0h-4.9zM357.1 164.1h4.9v5.0h-4.9z"/><path fill="#00cfff" d="M334.0 52.5h4.9v5.0h-4.9zM347.9 66.5h4.9v5.0h-4.9zM347.9 71.1h4.9v5.0h-4.9zM347.9 75.8h4.9v5.0h-4.9zM347.9 80.4h4.9v5.0h-4.9zM357.1 94.4h4.9v5.0h-4.9zM357.1 99.0h4.9v5.0h-4.9zM357.1 103.7h4.9v5.0h-4.9zM357.1 108.3h4.9v5.0h-4.9zM357.1 113.0h4.9v5.0h-4.9zM357.1 117.6h4.9v5.0h-4.9zM357.1 122.3h4.9v5.0h-4.9zM357.1 126.9h4.9v5.0h-4.9zM361.7 168.8h4.9v5.0h-4.9z"/><path fill="#00dbff" d="M338.7 52.5h4.9v5.0h-4.9zM347.9 61.8h4.9v5.0h-4.9zM366.3 136.2h4.9v5.0h-4.9zM366.3 140.9h4.9v5.0h-4.9zM361.7 159.5h4.9v5.0h-4.9z"/><path fill="#78ff87" d="M366.3 52.5h4.9v5.0h-4.9zM366.3 66.5h4.9v5.0h-4.9z"/><path fill="#00bfff" d="M334.0 57.2h4.9v5.0h-4.9zM334.0 61.8h4.9v5.0h-4.9zM334.0 66.5h14.1v5.0h-14.1zM334.0 71.1h14.1v5.0h-14.1zM334.0 75.8h14.1v5.0h-14.1zM334.0 80.4h14.1v5.0h-14.1zM334.0 85.1h14.1v5.0h-14.1zM334.0 89.7h14.1v5.0h-14.1zM329.4 94.4h27.9v5.0h-27.9zM329.4 99.0h27.9v5.0h-27.9zM329.4 103.7h4.9v5.0h-4.9zM347.9 103.7h9.5v5.0h-9.5zM329.4 108.3h4.9v5.0h-4.9zM347.9 108.3h9.5v5.0h-9.5zM320.2 113.0h14.1v5.0h-14.1zM347.9 113.0h9.5v5.0h-9.5zM320.2 117.6h14.1v5.0h-14.1zM347.9 117.6h9.5v5.0h-9.5zM320.2 122.3h14.1v5.0h-14.1zM320.2 126.9h14.1v5.0h-14.1zM329.4 131.6h4.9v5.0h-4.9zM329.4 136.2h4.9v5.0h-4.9z"/><path fill="#00cbff" d="M338.7 57.2h4.9v5.0h-4.9zM343.3 61.8h4.9v5.0h-4.9zM347.9 85.1h4.9v5.0h-4.9zM352.5 89.7h4.9v5.0h-4.9zM357.1 131.6h4.9v5.0h-4.9zM361.7 136.2h4.9v5.0h-4.9zM361.7 140.9h4.9v5.0h-4.9zM357.1 145.5h4.9v5.0h-4.9z"/><path fill="#00e3ff" d="M343.3 57.2h4.9v5.0h-4.9zM352.5 85.1h4.9v5.0h-4.9zM361.7 131.6h4.9v5.0h-4.9zM361.7 145.5h4.9v5.0h-4.9zM361.7 154.8h4.9v5.0h-4.9z"/><path fill="#64ff9b" d="M366.3 57.2h4.9v5.0h-4.9zM375.5 99.0h4.9v5.0h-4.9zM380.1 103.7h4.9v5.0h-4.9z"/><path fill="#00c3ff" d="M338.7 61.8h4.9v5.0h-4.9zM347.9 89.7h4.9v5.0h-4.9zM357.1 136.2h4.9v5.0h-4.9zM357.1 140.9h4.9v5.0h-4.9zM357.1 150.2h4.9v5.0h-4.9z"/><path fill="#6cff93" d="M366.3 61.8h4.9v5.0h-4.9z"/><path fill="#87ff78" d="M366.3 71.1h4.9v5.0h-4.9zM393.9 113.0h4.9v5.0h-4.9z"/><path fill="#ffe700" d="M370.9 71.1h4.9v5.0h-4.9z"/><path fill="#ff8b00" d="M384.7 71.1h4.9v5.0h-4.9z"/><path fill="#ff6400" d="M375.5 75.8h4.9v5.0h-4.9zM384.7 80.4h4.9v5.0h-4.9z"/><path fill="#ff4c00" d="M380.1 75.8h4.9v5.0h-4.9zM375.5 80.4h4.9v5.0h-4.9z"/><path fill="#ff6c00" d="M384.7 75.8h4.9v5.0h-4.9z"/><path fill="#ffab00" d="M370.9 80.4h4.9v5.0h-4.9zM389.3 80.4h4.9v5.0h-4.9z"/><path fill="#ff4400" d="M380.1 80.4h4.9v5.0h-4.9z"/><path fill="#0083ff" d="M320.2 85.1h4.9v5.0h-4.9zM338.7 126.9h4.9v5.0h-4.9zM311.0 136.2h4.9v5.0h-4.9zM320.2 145.5h4.9v5.0h-4.9z"/><path fill="#008bff" d="M324.8 85.1h4.9v5.0h-4.9zM320.2 89.7h4.9v5.0h-4.9zM338.7 122.3h4.9v5.0h-4.9zM343.3 126.9h4.9v5.0h-4.9zM311.0 131.6h4.9v5.0h-4.9zM315.6 136.2h4.9v5.0h-4.9zM320.2 140.9h4.9v5.0h-4.9zM324.8 145.5h4.9v5.0h-4.9z"/><path fill="#008fff" d="M329.4 85.1h4.9v5.0h-4.9zM320.2 94.4h4.9v5.0h-4.9zM320.2 99.0h4.9v5.0h-4.9zM334.0 108.3h4.9v5.0h-4.9zM311.0 113.0h4.9v5.0h-4.9zM338.7 113.0h4.9v5.0h-4.9zM311.0 117.6h4.9v5.0h-4.9zM338.7 117.6h4.9v5.0h-4.9zM311.0 122.3h4.9v5.0h-4.9zM311.0 126.9h4.9v5.0h-4.9zM347.9 131.6h4.9v5.0h-4.9zM347.9 136.2h4.9v5.0h-4.9zM347.9 140.9h4.9v5.0h-4.9zM329.4 145.5h4.9v5.0h-4.9zM347.9 145.5h4.9v5.0h-4.9z"/><path fill="#7cff83" d="M366.3 85.1h4.9v5.0h-4.9zM370.9 89.7h4.9v5.0h-4.9zM389.3 103.7h4.9v5.0h-4.9z"/><path fill="#ffeb00" d="M370.9 85.1h4.9v5.0h-4.9z"/><path fill="#ff8700" d="M375.5 85.1h4.9v5.0h-4.9zM380.1 89.7h4.9v5.0h-4.9z"/><path fill="#ff5800" d="M380.1 85.1h4.9v5.0h-4.9z"/><path fill="#ff5c00" d="M384.7 85.1h4.9v5.0h-4.9z"/><path fill="#ff9300" d="M389.3 85.1h4.9v5.0h-4.9z"/><path fill="#00a3ff" d="M324.8 89.7h4.9v5.0h-4.9zM343.3 122.3h4.9v5.0h-4.9zM315.6 131.6h4.9v5.0h-4.9zM324.8 140.9h4.9v5.0h-4.9z"/><path fill="#00afff" d="M329.4 89.7h4.9v5.0h-4.9zM324.8 94.4h4.9v5.0h-4.9zM324.8 99.0h4.9v5.0h-4.9zM334.0 103.7h4.9v5.0h-4.9zM315.6 113.0h4.9v5.0h-4.9zM343.3 113.0h4.9v5.0h-4.9zM315.6 117.6h4.9v5.0h-4.9zM343.3 117.6h4.9v5.0h-4.9zM315.6 122.3h4.9v5.0h-4.9zM315.6 126.9h4.9v5.0h-4.9zM352.5 131.6h4.9v5.0h-4.9zM352.5 136.2h4.9v5.0h-4.9zM329.4 140.9h4.9v5.0h-4.9zM352.5 140.9h4.9v5.0h-4.9zM352.5 145.5h4.9v5.0h-4.9z"/><path fill="#00dfff" d="M357.1 89.7h4.9v5.0h-4.9z"/><path fill="#34ffcb" d="M366.3 89.7h4.9v5.0h-4.9zM375.5 122.3h4.9v5.0h-4.9zM380.1 126.9h4.9v5.0h-4.9z"/><path fill="#ff5400" d="M384.7 89.7h4.9v5.0h-4.9z"/><path fill="#ff7c00" d="M389.3 89.7h4.9v5.0h-4.9z"/><path fill="#8bff74" d="M375.5 94.4h4.9v5.0h-4.9z"/><path fill="#ffdb00" d="M380.1 94.4h4.9v5.0h-4.9z"/><path fill="#ff9b00" d="M384.7 94.4h4.9v5.0h-4.9z"/><path fill="#ffb300" d="M389.3 94.4h4.9v5.0h-4.9z"/><path fill="#fffb00" d="M403.1 94.4h4.9v5.0h-4.9zM398.5 126.9h4.9v5.0h-4.9z"/><path fill="#ebff14" d="M407.7 94.4h4.9v5.0h-4.9zM398.5 122.3h4.9v5.0h-4.9z"/><path fill="#9fff60" d="M412.3 99.0h4.9v5.0h-4.9zM389.3 154.8h4.9v5.0h-4.9zM380.1 164.1h4.9v5.0h-4.9z"/><path fill="#0060ff" d="M311.0 103.7h4.9v5.0h-4.9zM297.2 136.2h4.9v5.0h-4.9zM347.9 154.8h4.9v5.0h-4.9z"/><path fill="#009bff" d="M320.2 103.7h4.9v5.0h-4.9zM338.7 108.3h4.9v5.0h-4.9zM347.9 126.9h4.9v5.0h-4.9zM320.2 136.2h4.9v5.0h-4.9z"/><path fill="#00b3ff" d="M324.8 103.7h4.9v5.0h-4.9zM338.7 103.7h4.9v5.0h-4.9zM320.2 108.3h4.9v5.0h-4.9zM343.3 108.3h4.9v5.0h-4.9zM347.9 122.3h4.9v5.0h-4.9zM352.5 126.9h4.9v5.0h-4.9zM320.2 131.6h4.9v5.0h-4.9zM324.8 136.2h4.9v5.0h-4.9z"/><path fill="#00bbff" d="M343.3 103.7h4.9v5.0h-4.9zM324.8 108.3h4.9v5.0h-4.9zM352.5 122.3h4.9v5.0h-4.9zM324.8 131.6h4.9v5.0h-4.9z"/><path fill="#80ff80" d="M393.9 103.7h23.3v5.0h-23.3zM393.9 108.3h23.3v5.0h-23.3zM389.3 150.2h4.9v5.0h-4.9zM384.7 154.8h4.9v5.0h-4.9zM380.1 159.5h4.9v5.0h-4.9zM375.5 164.1h4.9v5.0h-4.9z"/><path fill="#009fff" d="M315.6 108.3h4.9v5.0h-4.9zM352.5 150.2h4.9v5.0h-4.9z"/><path fill="#44ffbb" d="M375.5 108.3h4.9v5.0h-4.9z"/><path fill="#5cffa3" d="M384.7 108.3h4.9v5.0h-4.9z"/><path fill="#fff700" d="M403.1 122.3h4.9v5.0h-4.9z"/><path fill="#f7ff08" d="M407.7 122.3h4.9v5.0h-4.9zM398.5 131.6h4.9v5.0h-4.9z"/><path fill="#ffc700" d="M403.1 126.9h4.9v5.0h-4.9z"/><path fill="#ffb700" d="M407.7 126.9h4.9v5.0h-4.9z"/><path fill="#0000ce" d="M274.2 150.2h4.9v5.0h-4.9zM278.8 154.8h4.9v5.0h-4.9z"/><path fill="#0000e6" d="M278.8 150.2h4.9v5.0h-4.9z"/><path fill="#0014ff" d="M288.0 150.2h4.9v5.0h-4.9z"/><path fill="#00ebff" d="M361.7 150.2h4.9v5.0h-4.9z"/><path fill="#00abff" d="M357.1 154.8h4.9v5.0h-4.9z"/><path fill="#0093ff" d="M357.1 159.5h4.9v5.0h-4.9z"/><path fill="#00d3ff" d="M361.7 164.1h4.9v5.0h-4.9z"/><path fill="#000080" d="M334.0 6.0H343.3V15.9H334.0zM343.3 6.0H355.9V16.6H343.3zM355.9 6.0H369.7V18.8H355.9zM369.7 6.0H379.7V21.0H369.7zM379.7 6.0H391.0V21.6H379.7zM391.0 6.0H396.0V24.0H391.0zM396.0 6.0H416.9V29.1H396.0zM334.0 169.0H343.3V173.4H334.0zM343.3 167.1H376.0V173.4H343.3zM376.0 169.6H389.8V173.4H376.0zM389.8 167.1H398.5V173.4H389.8zM398.5 161.4H409.8V173.4H398.5zM409.8 158.9H413.0V173.4H409.8zM413.0 153.3H416.9V173.4H413.0z"/><circle cx="335.5" cy="90.2" r="18.3" fill="none" stroke="#000" stroke-width="1.6"/><circle cx="335.5" cy="90.2" r="36.7" fill="none" stroke="#000" stroke-width="1.5"/><circle cx="335.5" cy="90.2" r="54.9" fill="none" stroke="#000" stroke-width="1.2"/><circle cx="335.5" cy="90.2" r="73.2" fill="none" stroke="#000" stroke-width="1.1"/><circle cx="335.5" cy="90.5" r="0.9" fill="#000"/><g font-size="16" stroke-width="0.35"><text x="253.6" y="22.3" fill="#fff" stroke="#fff" text-anchor="start">470.9nm</text><text x="337.4" y="18.7" fill="#fff" stroke="#fff" text-anchor="middle">N</text><text x="253.4" y="93.7" fill="#fff" stroke="#fff" text-anchor="start">E</text><text x="334.4" y="172.7" fill="#fff" stroke="#fff" text-anchor="start">S</text><text x="365.8" y="21.7" fill="#fff" stroke="#fff" text-anchor="start">50</text><text x="356.1" y="37.1" fill="#000" stroke="#000" text-anchor="start">60</text><text x="348.0" y="53.7" fill="#000" stroke="#000" text-anchor="start">70</text><text x="340.9" y="71.2" fill="#000" stroke="#000" text-anchor="start">80</text><text x="333.3" y="87.8" fill="#000" stroke="#000" text-anchor="start">90</text></g><g font-size="16" stroke-width="0.35"><text x="405.6" y="93.3" fill="#fff" stroke="#fff" text-anchor="start">W</text></g><path d="M260.4 6.0v2.2M260.4 173.4v-2.2M269.6 6.0v2.2M269.6 173.4v-2.2M278.8 6.0v2.2M278.8 173.4v-2.2M288.1 6.0v2.2M288.1 173.4v-2.2M297.3 6.0v2.2M297.3 173.4v-2.2M306.5 6.0v2.2M306.5 173.4v-2.2M315.7 6.0v2.2M315.7 173.4v-2.2M324.9 6.0v2.2M324.9 173.4v-2.2M334.1 6.0v2.2M334.1 173.4v-2.2M343.4 6.0v2.2M343.4 173.4v-2.2M352.6 6.0v2.2M352.6 173.4v-2.2M361.8 6.0v2.2M361.8 173.4v-2.2M371.0 6.0v2.2M371.0 173.4v-2.2M380.2 6.0v2.2M380.2 173.4v-2.2M389.4 6.0v2.2M389.4 173.4v-2.2M398.7 6.0v2.2M398.7 173.4v-2.2M407.9 6.0v2.2M407.9 173.4v-2.2M251.2 15.2h2.2M251.2 24.4h2.2M251.2 33.6h2.2M251.2 42.9h2.2M251.2 52.1h2.2M251.2 61.3h2.2M251.2 70.5h2.2M251.2 79.7h2.2M251.2 88.9h2.2M251.2 98.2h2.2M251.2 107.4h2.2M251.2 116.6h2.2M251.2 125.8h2.2M251.2 135.0h2.2M251.2 144.2h2.2M251.2 153.5h2.2M251.2 162.7h2.2M251.2 171.9h2.2" stroke="#000" stroke-width="1" fill="none"/><rect x="416.9" y="6.0" width="3.8" height="167.4" fill="url(#jet)"/><path d="M420.7 168.41h-2.2M420.7 163.43h-2.2M420.7 158.44h-2.2M420.7 153.45h-2.2M420.7 148.47h-2.2M420.7 143.48h-2.2M420.7 138.49h-2.2M420.7 133.51h-2.2M420.7 128.52h-2.2M420.7 123.53h-2.2M420.7 118.55h-2.2M420.7 113.56h-2.2M420.7 108.57h-2.2M420.7 103.59h-2.2M420.7 98.60h-2.2M420.7 93.61h-2.2M420.7 88.63h-2.2M420.7 83.64h-2.2M420.7 78.65h-2.2M420.7 73.67h-2.2M420.7 68.68h-2.2M420.7 63.69h-2.2M420.7 58.71h-2.2M420.7 53.72h-2.2M420.7 48.73h-2.2M420.7 43.75h-2.2M420.7 38.76h-2.2M420.7 33.77h-2.2M420.7 28.79h-2.2M420.7 23.80h-2.2M420.7 18.81h-2.2M420.7 13.83h-2.2M420.7 8.84h-2.2" stroke="#000" stroke-width="0.9" fill="none"/><rect x="251.2" y="6.0" width="169.5" height="167.4" fill="none" stroke="#000" stroke-width="1"/><line x1="416.9" y1="6.0" x2="416.9" y2="173.4" stroke="#000" stroke-width="0.6"/><g font-size="16" fill="#000"><text x="422.8" y="27.4">6</text><text x="422.8" y="52.6">5</text><text x="422.8" y="77.6">4</text><text x="422.8" y="102.8">3</text><text x="422.8" y="127.4">2</text><text x="421.3" y="151.9">1</text><text x="422.8" y="177.0">0</text></g><text font-size="16.3" transform="translate(441.1 95.8) rotate(-90)" x="0" y="5.5" text-anchor="middle">I (kR)</text><text font-size="21" x="223.5" y="28.7">(b)</text><rect x="474.3" y="8.4" width="164.7" height="166.0" fill="#000080"/><path fill="#000080" d="M474.3 8.4h46.0v4.9h-46.0zM474.3 13.0h46.0v4.9h-46.0zM474.3 17.6h18.6v4.9h-18.6zM474.3 22.2h18.6v4.9h-18.6zM474.3 26.8h18.6v4.9h-18.6zM474.3 31.5h18.6v4.9h-18.6zM474.3 36.1h9.4v4.9h-9.4zM474.3 40.7h9.4v4.9h-9.4zM474.3 45.3h9.4v4.9h-9.4zM474.3 49.9h9.4v4.9h-9.4zM474.3 100.6h9.4v4.9h-9.4zM474.3 105.2h9.4v4.9h-9.4zM474.3 109.8h18.6v4.9h-18.6zM474.3 114.5h18.6v4.9h-18.6zM474.3 119.1h18.6v4.9h-18.6zM474.3 123.7h18.6v4.9h-18.6zM474.3 128.3h27.7v4.9h-27.7zM474.3 132.9h27.7v4.9h-27.7zM474.3 137.5h36.9v4.9h-36.9zM474.3 142.1h36.9v4.9h-36.9zM474.3 146.7h46.0v4.9h-46.0zM474.3 151.3h46.0v4.9h-46.0zM474.3 156.0h55.2v4.9h-55.2zM474.3 160.6h55.2v4.9h-55.2zM474.3 165.2h73.5v4.9h-73.5zM474.3 169.8h73.5v4.9h-73.5z"/><path fill="#0000ff" d="M520.0 8.4h4.9v4.9h-4.9zM510.9 22.2h4.9v4.9h-4.9zM506.3 26.8h4.9v4.9h-4.9zM488.0 68.3h9.4v4.9h-9.4zM488.0 73.0h9.4v4.9h-9.4zM488.0 77.6h9.4v4.9h-9.4zM488.0 82.2h9.4v4.9h-9.4zM497.2 96.0h9.4v4.9h-9.4zM497.2 100.6h9.4v4.9h-9.4zM515.5 132.9h4.9v4.9h-4.9zM520.0 137.5h4.9v4.9h-4.9zM533.8 151.3h4.9v4.9h-4.9zM538.4 156.0h4.9v4.9h-4.9zM547.5 169.8h9.4v4.9h-9.4z"/><path fill="#0020ff" d="M524.6 8.4h4.9v4.9h-4.9zM510.9 26.8h4.9v4.9h-4.9zM520.0 132.9h4.9v4.9h-4.9zM538.4 151.3h4.9v4.9h-4.9z"/><path fill="#0060ff" d="M529.2 8.4h4.9v4.9h-4.9zM542.9 8.4h4.9v4.9h-4.9zM542.9 146.7h4.9v4.9h-4.9z"/><path fill="#0070ff" d="M533.8 8.4h4.9v4.9h-4.9zM529.2 22.2h4.9v4.9h-4.9zM529.2 26.8h4.9v4.9h-4.9zM529.2 31.5h4.9v4.9h-4.9zM529.2 36.1h4.9v4.9h-4.9zM529.2 40.7h4.9v4.9h-4.9zM529.2 45.3h4.9v4.9h-4.9zM529.2 49.9h4.9v4.9h-4.9zM529.2 54.5h4.9v4.9h-4.9zM524.6 86.8h9.4v4.9h-9.4zM538.4 96.0h4.9v4.9h-4.9zM538.4 100.6h4.9v4.9h-4.9zM529.2 114.5h4.9v4.9h-4.9zM529.2 119.1h4.9v4.9h-4.9zM529.2 123.7h4.9v4.9h-4.9zM529.2 128.3h4.9v4.9h-4.9z"/><path fill="#0050ff" d="M538.4 8.4h4.9v4.9h-4.9zM524.6 22.2h4.9v4.9h-4.9zM524.6 26.8h4.9v4.9h-4.9zM524.6 31.5h4.9v4.9h-4.9zM524.6 36.1h4.9v4.9h-4.9zM524.6 40.7h4.9v4.9h-4.9zM524.6 45.3h4.9v4.9h-4.9zM524.6 49.9h4.9v4.9h-4.9zM524.6 54.5h4.9v4.9h-4.9zM524.6 91.4h9.4v4.9h-9.4zM533.8 96.0h4.9v4.9h-4.9zM533.8 100.6h4.9v4.9h-4.9zM524.6 114.5h4.9v4.9h-4.9zM524.6 119.1h4.9v4.9h-4.9zM524.6 123.7h4.9v4.9h-4.9zM524.6 128.3h4.9v4.9h-4.9z"/><path fill="#009fff" d="M547.5 8.4h4.9v4.9h-4.9zM561.2 128.3h4.9v4.9h-4.9zM547.5 142.1h4.9v4.9h-4.9zM552.1 151.3h4.9v4.9h-4.9z"/><path fill="#00bfff" d="M552.1 8.4h4.9v4.9h-4.9zM552.1 40.7h4.9v4.9h-4.9zM552.1 45.3h4.9v4.9h-4.9zM552.1 49.9h4.9v4.9h-4.9zM552.1 54.5h4.9v4.9h-4.9zM552.1 59.1h4.9v4.9h-4.9zM552.1 63.7h4.9v4.9h-4.9zM552.1 68.3h4.9v4.9h-4.9zM552.1 73.0h4.9v4.9h-4.9zM552.1 77.6h4.9v4.9h-4.9zM552.1 82.2h4.9v4.9h-4.9zM552.1 86.8h4.9v4.9h-4.9zM552.1 91.4h4.9v4.9h-4.9zM552.1 96.0h4.9v4.9h-4.9zM552.1 100.6h4.9v4.9h-4.9zM552.1 105.2h4.9v4.9h-4.9zM552.1 109.8h4.9v4.9h-4.9zM552.1 114.5h9.4v4.9h-9.4zM552.1 119.1h9.4v4.9h-9.4zM552.1 123.7h4.9v4.9h-4.9zM561.2 123.7h4.9v4.9h-4.9zM552.1 128.3h4.9v4.9h-4.9zM565.8 128.3h4.9v4.9h-4.9zM552.1 132.9h4.9v4.9h-4.9zM552.1 137.5h4.9v4.9h-4.9zM556.6 151.3h4.9v4.9h-4.9zM556.6 156.0h4.9v4.9h-4.9zM552.1 160.6h9.4v4.9h-9.4zM556.6 165.2h4.9v4.9h-4.9zM556.6 169.8h4.9v4.9h-4.9z"/><path fill="#40ffbf" d="M556.6 8.4h4.9v4.9h-4.9zM556.6 13.0h4.9v4.9h-4.9zM556.6 17.6h4.9v4.9h-4.9zM556.6 22.2h4.9v4.9h-4.9zM556.6 26.8h4.9v4.9h-4.9zM584.1 151.3h4.9v4.9h-4.9zM579.5 156.0h4.9v4.9h-4.9z"/><path fill="#80ff80" d="M561.2 8.4h4.9v4.9h-4.9zM561.2 13.0h4.9v4.9h-4.9zM561.2 17.6h4.9v4.9h-4.9zM570.4 45.3h4.9v4.9h-4.9zM588.7 91.4h4.9v4.9h-4.9z"/><path fill="#ffff00" d="M565.8 8.4h4.9v4.9h-4.9zM565.8 13.0h4.9v4.9h-4.9zM565.8 17.6h4.9v4.9h-4.9zM575.0 40.7h4.9v4.9h-4.9zM588.7 68.3h4.9v4.9h-4.9zM593.2 73.0h4.9v4.9h-4.9zM593.2 86.8h4.9v4.9h-4.9zM607.0 142.1h4.9v4.9h-4.9zM597.8 151.3h4.9v4.9h-4.9z"/><path fill="#ff8000" d="M570.4 8.4h4.9v4.9h-4.9zM570.4 13.0h4.9v4.9h-4.9zM570.4 17.6h4.9v4.9h-4.9zM579.5 31.5h4.9v4.9h-4.9zM584.1 36.1h4.9v4.9h-4.9zM597.8 40.7h4.9v4.9h-4.9zM602.4 45.3h4.9v4.9h-4.9zM607.0 59.1h4.9v4.9h-4.9zM611.5 63.7h4.9v4.9h-4.9zM611.5 146.7h4.9v4.9h-4.9zM602.4 156.0h4.9v4.9h-4.9z"/><path fill="#ff0000" d="M575.0 8.4h4.9v4.9h-4.9zM575.0 13.0h4.9v4.9h-4.9zM575.0 17.6h4.9v4.9h-4.9zM625.3 59.1h4.9v4.9h-4.9zM629.9 63.7h4.9v4.9h-4.9zM634.4 68.3h4.9v4.9h-4.9zM634.4 73.0h4.9v4.9h-4.9zM634.4 96.0h4.9v4.9h-4.9zM634.4 100.6h4.9v4.9h-4.9zM634.4 105.2h4.9v4.9h-4.9zM634.4 109.8h4.9v4.9h-4.9zM629.9 114.5h4.9v4.9h-4.9zM625.3 119.1h4.9v4.9h-4.9zM620.7 151.3h4.9v4.9h-4.9zM616.1 156.0h4.9v4.9h-4.9zM607.0 169.8h9.4v4.9h-9.4z"/><path fill="#af0000" d="M579.5 8.4h4.9v4.9h-4.9zM579.5 13.0h4.9v4.9h-4.9zM579.5 17.6h4.9v4.9h-4.9zM634.4 54.5h4.9v4.9h-4.9z"/><path fill="#8f0000" d="M584.1 8.4h4.9v4.9h-4.9zM584.1 13.0h4.9v4.9h-4.9zM584.1 17.6h4.9v4.9h-4.9zM634.4 49.9h4.9v4.9h-4.9z"/><path fill="#800000" d="M588.7 8.4h50.6v4.9h-50.6zM588.7 13.0h50.6v4.9h-50.6zM588.7 17.6h50.6v4.9h-50.6zM616.1 22.2h23.2v4.9h-23.2zM616.1 26.8h23.2v4.9h-23.2zM625.3 31.5h14.0v4.9h-14.0zM625.3 36.1h14.0v4.9h-14.0zM634.4 40.7h4.9v4.9h-4.9zM634.4 45.3h4.9v4.9h-4.9z"/><path fill="#000fff" d="M520.0 13.0h4.9v4.9h-4.9zM515.5 17.6h4.9v4.9h-4.9z"/><path fill="#002cff" d="M524.6 13.0h4.9v4.9h-4.9zM524.6 137.5h4.9v4.9h-4.9zM533.8 146.7h4.9v4.9h-4.9z"/><path fill="#0064ff" d="M529.2 13.0h4.9v4.9h-4.9zM520.0 63.7h4.9v4.9h-4.9zM520.0 68.3h4.9v4.9h-4.9zM520.0 82.2h4.9v4.9h-4.9zM520.0 86.8h4.9v4.9h-4.9zM529.2 109.8h4.9v4.9h-4.9zM529.2 137.5h4.9v4.9h-4.9zM533.8 142.1h4.9v4.9h-4.9z"/><path fill="#0078ff" d="M533.8 13.0h4.9v4.9h-4.9z"/><path fill="#0068ff" d="M538.4 13.0h4.9v4.9h-4.9z"/><path fill="#0083ff" d="M542.9 13.0h4.9v4.9h-4.9zM533.8 26.8h4.9v4.9h-4.9zM533.8 114.5h4.9v4.9h-4.9zM533.8 128.3h4.9v4.9h-4.9zM547.5 151.3h4.9v4.9h-4.9z"/><path fill="#00cbff" d="M547.5 13.0h4.9v4.9h-4.9zM542.9 17.6h4.9v4.9h-4.9zM565.8 151.3h4.9v4.9h-4.9zM561.2 156.0h4.9v4.9h-4.9z"/><path fill="#00efff" d="M552.1 13.0h4.9v4.9h-4.9zM552.1 31.5h4.9v4.9h-4.9zM556.6 105.2h4.9v4.9h-4.9zM565.8 114.5h4.9v4.9h-4.9zM565.8 119.1h4.9v4.9h-4.9zM575.0 132.9h4.9v4.9h-4.9zM575.0 137.5h4.9v4.9h-4.9zM575.0 142.1h4.9v4.9h-4.9zM575.0 146.7h4.9v4.9h-4.9zM565.8 160.6h4.9v4.9h-4.9zM565.8 165.2h4.9v4.9h-4.9zM565.8 169.8h9.4v4.9h-9.4z"/><path fill="#0000bf" d="M492.6 17.6h14.0v4.9h-14.0zM492.6 22.2h4.9v4.9h-4.9zM492.6 26.8h4.9v4.9h-4.9zM492.6 31.5h4.9v4.9h-4.9zM483.4 36.1h14.0v4.9h-14.0zM483.4 40.7h4.9v4.9h-4.9zM483.4 45.3h4.9v4.9h-4.9zM483.4 49.9h4.9v4.9h-4.9zM474.3 54.5h14.0v4.9h-14.0zM474.3 59.1h4.9v4.9h-4.9zM474.3 63.7h4.9v4.9h-4.9zM474.3 68.3h4.9v4.9h-4.9zM474.3 73.0h4.9v4.9h-4.9zM474.3 77.6h4.9v4.9h-4.9zM474.3 82.2h4.9v4.9h-4.9zM474.3 86.8h4.9v4.9h-4.9zM474.3 91.4h4.9v4.9h-4.9zM474.3 96.0h14.0v4.9h-14.0zM483.4 100.6h4.9v4.9h-4.9zM483.4 105.2h4.9v4.9h-4.9zM492.6 114.5h4.9v4.9h-4.9zM492.6 119.1h4.9v4.9h-4.9zM492.6 123.7h4.9v4.9h-4.9zM501.8 132.9h4.9v4.9h-4.9zM510.9 142.1h4.9v4.9h-4.9zM520.0 151.3h4.9v4.9h-4.9zM529.2 160.6h4.9v4.9h-4.9z"/><path fill="#0000cf" d="M506.3 17.6h4.9v4.9h-4.9zM497.2 31.5h4.9v4.9h-4.9zM497.2 36.1h4.9v4.9h-4.9zM488.0 49.9h4.9v4.9h-4.9zM488.0 54.5h4.9v4.9h-4.9zM478.9 68.3h4.9v4.9h-4.9zM478.9 73.0h4.9v4.9h-4.9zM478.9 77.6h4.9v4.9h-4.9zM478.9 82.2h4.9v4.9h-4.9zM488.0 96.0h4.9v4.9h-4.9zM488.0 100.6h4.9v4.9h-4.9zM497.2 114.5h4.9v4.9h-4.9zM497.2 119.1h4.9v4.9h-4.9zM533.8 160.6h4.9v4.9h-4.9z"/><path fill="#0000ef" d="M510.9 17.6h4.9v4.9h-4.9zM501.8 31.5h4.9v4.9h-4.9zM501.8 36.1h4.9v4.9h-4.9zM492.6 49.9h4.9v4.9h-4.9zM492.6 54.5h4.9v4.9h-4.9zM483.4 68.3h4.9v4.9h-4.9zM483.4 73.0h4.9v4.9h-4.9zM483.4 77.6h4.9v4.9h-4.9zM483.4 82.2h4.9v4.9h-4.9zM492.6 96.0h4.9v4.9h-4.9zM492.6 100.6h4.9v4.9h-4.9zM501.8 114.5h4.9v4.9h-4.9zM501.8 119.1h4.9v4.9h-4.9zM538.4 160.6h4.9v4.9h-4.9z"/><path fill="#0026ff" d="M520.0 17.6h4.9v4.9h-4.9z"/><path fill="#0044ff" d="M524.6 17.6h4.9v4.9h-4.9zM515.5 59.1h4.9v4.9h-4.9zM515.5 73.0h4.9v4.9h-4.9zM515.5 77.6h4.9v4.9h-4.9zM515.5 91.4h4.9v4.9h-4.9zM524.6 105.2h4.9v4.9h-4.9zM524.6 132.9h4.9v4.9h-4.9zM529.2 142.1h4.9v4.9h-4.9zM538.4 146.7h4.9v4.9h-4.9zM542.9 156.0h4.9v4.9h-4.9z"/><path fill="#006cff" d="M529.2 17.6h4.9v4.9h-4.9zM529.2 132.9h4.9v4.9h-4.9zM538.4 142.1h4.9v4.9h-4.9z"/><path fill="#0087ff" d="M533.8 17.6h4.9v4.9h-4.9z"/><path fill="#0097ff" d="M538.4 17.6h4.9v4.9h-4.9z"/><path fill="#24ffdb" d="M547.5 17.6h4.9v4.9h-4.9zM565.8 49.9h4.9v4.9h-4.9zM575.0 86.8h4.9v4.9h-4.9zM579.5 91.4h4.9v4.9h-4.9z"/><path fill="#50ffaf" d="M552.1 17.6h4.9v4.9h-4.9zM588.7 105.2h4.9v4.9h-4.9zM588.7 109.8h4.9v4.9h-4.9zM588.7 114.5h4.9v4.9h-4.9zM588.7 119.1h4.9v4.9h-4.9zM588.7 123.7h4.9v4.9h-4.9zM588.7 128.3h4.9v4.9h-4.9zM588.7 132.9h4.9v4.9h-4.9zM588.7 137.5h4.9v4.9h-4.9z"/><path fill="#0000c3" d="M497.2 22.2h4.9v4.9h-4.9zM488.0 40.7h4.9v4.9h-4.9zM478.9 59.1h4.9v4.9h-4.9zM478.9 91.4h4.9v4.9h-4.9z"/><path fill="#0000cb" d="M501.8 22.2h4.9v4.9h-4.9zM497.2 26.8h4.9v4.9h-4.9zM492.6 40.7h4.9v4.9h-4.9zM488.0 45.3h4.9v4.9h-4.9zM483.4 59.1h4.9v4.9h-4.9zM478.9 63.7h4.9v4.9h-4.9zM478.9 86.8h4.9v4.9h-4.9zM483.4 91.4h4.9v4.9h-4.9z"/><path fill="#0000df" d="M506.3 22.2h4.9v4.9h-4.9zM515.5 137.5h4.9v4.9h-4.9zM533.8 156.0h4.9v4.9h-4.9z"/><path fill="#001cff" d="M515.5 22.2h4.9v4.9h-4.9zM506.3 49.9h4.9v4.9h-4.9zM506.3 91.4h4.9v4.9h-4.9zM515.5 100.6h4.9v4.9h-4.9zM515.5 105.2h4.9v4.9h-4.9zM515.5 119.1h4.9v4.9h-4.9z"/><path fill="#0034ff" d="M520.0 22.2h4.9v4.9h-4.9zM515.5 26.8h4.9v4.9h-4.9zM510.9 49.9h4.9v4.9h-4.9zM506.3 54.5h4.9v4.9h-4.9zM506.3 86.8h4.9v4.9h-4.9zM510.9 91.4h4.9v4.9h-4.9zM515.5 96.0h4.9v4.9h-4.9zM520.0 100.6h4.9v4.9h-4.9zM520.0 105.2h4.9v4.9h-4.9zM515.5 109.8h4.9v4.9h-4.9zM515.5 114.5h4.9v4.9h-4.9zM520.0 119.1h4.9v4.9h-4.9z"/><path fill="#008bff" d="M533.8 22.2h4.9v4.9h-4.9zM538.4 26.8h4.9v4.9h-4.9zM538.4 114.5h4.9v4.9h-4.9zM533.8 119.1h4.9v4.9h-4.9zM533.8 123.7h4.9v4.9h-4.9zM538.4 128.3h4.9v4.9h-4.9z"/><path fill="#00a3ff" d="M538.4 22.2h4.9v4.9h-4.9zM538.4 119.1h4.9v4.9h-4.9zM538.4 123.7h4.9v4.9h-4.9z"/><path fill="#00dbff" d="M542.9 22.2h4.9v4.9h-4.9zM561.2 109.8h4.9v4.9h-4.9zM570.4 128.3h4.9v4.9h-4.9z"/><path fill="#34ffcb" d="M547.5 22.2h4.9v4.9h-4.9zM561.2 36.1h4.9v4.9h-4.9zM570.4 54.5h4.9v4.9h-4.9z"/><path fill="#60ff9f" d="M552.1 22.2h4.9v4.9h-4.9zM579.5 77.6h4.9v4.9h-4.9zM579.5 82.2h4.9v4.9h-4.9zM584.1 156.0h4.9v4.9h-4.9z"/><path fill="#7cff83" d="M561.2 22.2h4.9v4.9h-4.9zM565.8 36.1h4.9v4.9h-4.9zM575.0 54.5h4.9v4.9h-4.9zM579.5 63.7h4.9v4.9h-4.9zM593.2 100.6h4.9v4.9h-4.9zM593.2 142.1h4.9v4.9h-4.9z"/><path fill="#f3ff0c" d="M565.8 22.2h4.9v4.9h-4.9zM579.5 49.9h4.9v4.9h-4.9zM584.1 54.5h4.9v4.9h-4.9zM588.7 160.6h4.9v4.9h-4.9z"/><path fill="#ff9700" d="M570.4 22.2h4.9v4.9h-4.9zM602.4 86.8h4.9v4.9h-4.9z"/><path fill="#ff2800" d="M575.0 22.2h4.9v4.9h-4.9zM611.5 156.0h4.9v4.9h-4.9z"/><path fill="#df0000" d="M579.5 22.2h4.9v4.9h-4.9zM625.3 54.5h4.9v4.9h-4.9zM629.9 59.1h4.9v4.9h-4.9zM629.9 119.1h4.9v4.9h-4.9zM620.7 156.0h4.9v4.9h-4.9z"/><path fill="#bf0000" d="M584.1 22.2h4.9v4.9h-4.9zM625.3 49.9h4.9v4.9h-4.9zM629.9 54.5h4.9v4.9h-4.9zM634.4 123.7h4.9v4.9h-4.9zM634.4 128.3h4.9v4.9h-4.9zM625.3 132.9h14.0v4.9h-14.0zM625.3 137.5h14.0v4.9h-14.0zM634.4 142.1h4.9v4.9h-4.9zM634.4 146.7h4.9v4.9h-4.9zM634.4 151.3h4.9v4.9h-4.9zM634.4 156.0h4.9v4.9h-4.9zM625.3 160.6h14.0v4.9h-14.0zM625.3 165.2h14.0v4.9h-14.0zM625.3 169.8h14.0v4.9h-14.0z"/><path fill="#ab0000" d="M588.7 22.2h4.9v4.9h-4.9z"/><path fill="#a30000" d="M593.2 22.2h4.9v4.9h-4.9zM607.0 26.8h4.9v4.9h-4.9zM611.5 31.5h4.9v4.9h-4.9zM616.1 36.1h4.9v4.9h-4.9zM620.7 40.7h4.9v4.9h-4.9zM625.3 45.3h4.9v4.9h-4.9z"/><path fill="#9b0000" d="M597.8 22.2h4.9v4.9h-4.9z"/><path fill="#930000" d="M602.4 22.2h4.9v4.9h-4.9z"/><path fill="#8b0000" d="M607.0 22.2h4.9v4.9h-4.9zM611.5 26.8h4.9v4.9h-4.9zM616.1 31.5h4.9v4.9h-4.9zM620.7 36.1h4.9v4.9h-4.9zM625.3 40.7h4.9v4.9h-4.9zM629.9 45.3h4.9v4.9h-4.9z"/><path fill="#830000" d="M611.5 22.2h4.9v4.9h-4.9zM620.7 31.5h4.9v4.9h-4.9zM629.9 40.7h4.9v4.9h-4.9z"/><path fill="#0000e3" d="M501.8 26.8h4.9v4.9h-4.9zM492.6 45.3h4.9v4.9h-4.9zM483.4 63.7h4.9v4.9h-4.9zM483.4 86.8h4.9v4.9h-4.9zM524.6 146.7h4.9v4.9h-4.9z"/><path fill="#003cff" d="M520.0 26.8h4.9v4.9h-4.9zM510.9 54.5h4.9v4.9h-4.9zM510.9 86.8h4.9v4.9h-4.9zM520.0 96.0h4.9v4.9h-4.9zM520.0 109.8h4.9v4.9h-4.9zM520.0 114.5h4.9v4.9h-4.9z"/><path fill="#00b3ff" d="M542.9 26.8h4.9v4.9h-4.9zM547.5 114.5h4.9v4.9h-4.9zM542.9 119.1h4.9v4.9h-4.9zM542.9 123.7h4.9v4.9h-4.9zM547.5 128.3h4.9v4.9h-4.9zM565.8 142.1h4.9v4.9h-4.9zM561.2 146.7h4.9v4.9h-4.9z"/><path fill="#00fbff" d="M547.5 26.8h4.9v4.9h-4.9zM565.8 105.2h4.9v4.9h-4.9zM575.0 123.7h4.9v4.9h-4.9z"/><path fill="#20ffdf" d="M552.1 26.8h4.9v4.9h-4.9zM579.5 151.3h4.9v4.9h-4.9zM575.0 156.0h4.9v4.9h-4.9z"/><path fill="#74ff8b" d="M561.2 26.8h4.9v4.9h-4.9z"/><path fill="#dbff24" d="M565.8 26.8h4.9v4.9h-4.9zM584.1 59.1h4.9v4.9h-4.9zM588.7 82.2h4.9v4.9h-4.9zM597.8 96.0h4.9v4.9h-4.9z"/><path fill="#ffc700" d="M570.4 26.8h4.9v4.9h-4.9zM597.8 86.8h4.9v4.9h-4.9z"/><path fill="#ff7800" d="M575.0 26.8h4.9v4.9h-4.9z"/><path fill="#ff4000" d="M579.5 26.8h4.9v4.9h-4.9zM616.1 59.1h4.9v4.9h-4.9zM620.7 63.7h4.9v4.9h-4.9zM602.4 160.6h4.9v4.9h-4.9zM597.8 165.2h4.9v4.9h-4.9z"/><path fill="#ff2000" d="M584.1 26.8h4.9v4.9h-4.9zM620.7 59.1h4.9v4.9h-4.9zM625.3 63.7h4.9v4.9h-4.9zM625.3 114.5h4.9v4.9h-4.9zM616.1 151.3h4.9v4.9h-4.9zM602.4 165.2h4.9v4.9h-4.9z"/><path fill="#ff0400" d="M588.7 26.8h4.9v4.9h-4.9zM607.0 36.1h4.9v4.9h-4.9zM616.1 45.3h4.9v4.9h-4.9zM620.7 54.5h4.9v4.9h-4.9zM611.5 165.2h4.9v4.9h-4.9z"/><path fill="#eb0000" d="M593.2 26.8h4.9v4.9h-4.9zM620.7 49.9h4.9v4.9h-4.9z"/><path fill="#d30000" d="M597.8 26.8h4.9v4.9h-4.9z"/><path fill="#bb0000" d="M602.4 26.8h4.9v4.9h-4.9z"/><path fill="#0010ff" d="M506.3 31.5h4.9v4.9h-4.9zM506.3 36.1h4.9v4.9h-4.9zM506.3 40.7h4.9v4.9h-4.9zM506.3 45.3h4.9v4.9h-4.9zM497.2 59.1h4.9v4.9h-4.9zM497.2 63.7h4.9v4.9h-4.9zM497.2 68.3h4.9v4.9h-4.9zM497.2 73.0h4.9v4.9h-4.9zM497.2 77.6h4.9v4.9h-4.9zM497.2 82.2h4.9v4.9h-4.9zM515.5 123.7h4.9v4.9h-4.9zM515.5 128.3h4.9v4.9h-4.9z"/><path fill="#0030ff" d="M510.9 31.5h4.9v4.9h-4.9zM510.9 36.1h4.9v4.9h-4.9zM510.9 40.7h4.9v4.9h-4.9zM510.9 45.3h4.9v4.9h-4.9zM501.8 59.1h4.9v4.9h-4.9zM501.8 63.7h4.9v4.9h-4.9zM501.8 68.3h4.9v4.9h-4.9zM501.8 73.0h4.9v4.9h-4.9zM501.8 77.6h4.9v4.9h-4.9zM501.8 82.2h4.9v4.9h-4.9zM520.0 123.7h4.9v4.9h-4.9zM520.0 128.3h4.9v4.9h-4.9z"/><path fill="#0040ff" d="M515.5 31.5h9.4v4.9h-9.4zM515.5 36.1h9.4v4.9h-9.4zM515.5 40.7h9.4v4.9h-9.4zM515.5 45.3h9.4v4.9h-9.4zM515.5 49.9h9.4v4.9h-9.4zM515.5 54.5h9.4v4.9h-9.4zM506.3 59.1h9.4v4.9h-9.4zM506.3 63.7h9.4v4.9h-9.4zM506.3 68.3h9.4v4.9h-9.4zM506.3 73.0h9.4v4.9h-9.4zM506.3 77.6h9.4v4.9h-9.4zM506.3 82.2h9.4v4.9h-9.4zM524.6 96.0h9.4v4.9h-9.4zM524.6 100.6h9.4v4.9h-9.4zM552.1 165.2h4.9v4.9h-4.9z"/><path fill="#0080ff" d="M533.8 31.5h9.4v4.9h-9.4zM533.8 36.1h9.4v4.9h-9.4zM533.8 40.7h9.4v4.9h-9.4zM533.8 45.3h9.4v4.9h-9.4zM533.8 49.9h9.4v4.9h-9.4zM533.8 54.5h9.4v4.9h-9.4zM533.8 59.1h9.4v4.9h-9.4zM533.8 63.7h9.4v4.9h-9.4zM533.8 68.3h9.4v4.9h-9.4zM533.8 73.0h9.4v4.9h-9.4zM533.8 77.6h9.4v4.9h-9.4zM533.8 82.2h9.4v4.9h-9.4zM533.8 132.9h9.4v4.9h-9.4zM556.6 132.9h4.9v4.9h-4.9zM533.8 137.5h9.4v4.9h-9.4zM556.6 137.5h4.9v4.9h-4.9zM542.9 142.1h4.9v4.9h-4.9zM547.5 146.7h4.9v4.9h-4.9z"/><path fill="#009bff" d="M542.9 31.5h4.9v4.9h-4.9zM542.9 114.5h4.9v4.9h-4.9zM542.9 128.3h4.9v4.9h-4.9zM561.2 142.1h4.9v4.9h-4.9z"/><path fill="#00d3ff" d="M547.5 31.5h4.9v4.9h-4.9z"/><path fill="#30ffcf" d="M556.6 31.5h4.9v4.9h-4.9zM575.0 68.3h4.9v4.9h-4.9zM575.0 73.0h4.9v4.9h-4.9zM575.0 77.6h4.9v4.9h-4.9zM575.0 82.2h4.9v4.9h-4.9zM584.1 96.0h4.9v4.9h-4.9zM584.1 100.6h4.9v4.9h-4.9zM584.1 105.2h4.9v4.9h-4.9zM584.1 109.8h4.9v4.9h-4.9zM584.1 114.5h4.9v4.9h-4.9zM584.1 119.1h4.9v4.9h-4.9zM584.1 123.7h4.9v4.9h-4.9zM584.1 128.3h4.9v4.9h-4.9zM584.1 132.9h4.9v4.9h-4.9zM584.1 137.5h4.9v4.9h-4.9zM584.1 142.1h4.9v4.9h-4.9zM584.1 146.7h4.9v4.9h-4.9zM579.5 169.8h4.9v4.9h-4.9z"/><path fill="#5cffa3" d="M561.2 31.5h4.9v4.9h-4.9zM570.4 49.9h4.9v4.9h-4.9zM588.7 96.0h4.9v4.9h-4.9zM588.7 146.7h4.9v4.9h-4.9z"/><path fill="#b3ff4c" d="M565.8 31.5h4.9v4.9h-4.9zM575.0 49.9h4.9v4.9h-4.9zM597.8 100.6h4.9v4.9h-4.9z"/><path fill="#fffb00" d="M570.4 31.5h4.9v4.9h-4.9zM607.0 123.7h4.9v4.9h-4.9z"/><path fill="#ffb300" d="M575.0 31.5h4.9v4.9h-4.9zM597.8 59.1h4.9v4.9h-4.9zM602.4 63.7h4.9v4.9h-4.9z"/><path fill="#ff6000" d="M584.1 31.5h4.9v4.9h-4.9zM602.4 40.7h4.9v4.9h-4.9zM611.5 59.1h4.9v4.9h-4.9zM616.1 63.7h4.9v4.9h-4.9zM597.8 160.6h4.9v4.9h-4.9z"/><path fill="#ff4400" d="M588.7 31.5h4.9v4.9h-4.9zM620.7 91.4h4.9v4.9h-4.9zM620.7 96.0h4.9v4.9h-4.9z"/><path fill="#ff2c00" d="M593.2 31.5h4.9v4.9h-4.9zM616.1 54.5h4.9v4.9h-4.9z"/><path fill="#ff1000" d="M597.8 31.5h4.9v4.9h-4.9zM629.9 68.3h4.9v4.9h-4.9zM629.9 73.0h4.9v4.9h-4.9zM634.4 77.6h4.9v4.9h-4.9zM634.4 91.4h4.9v4.9h-4.9zM629.9 96.0h4.9v4.9h-4.9zM629.9 100.6h4.9v4.9h-4.9zM629.9 105.2h4.9v4.9h-4.9zM629.9 109.8h4.9v4.9h-4.9zM602.4 169.8h4.9v4.9h-4.9z"/><path fill="#ef0000" d="M602.4 31.5h4.9v4.9h-4.9zM634.4 63.7h4.9v4.9h-4.9zM634.4 114.5h4.9v4.9h-4.9zM616.1 160.6h4.9v4.9h-4.9zM616.1 165.2h4.9v4.9h-4.9zM616.1 169.8h4.9v4.9h-4.9z"/><path fill="#cb0000" d="M607.0 31.5h4.9v4.9h-4.9zM611.5 36.1h4.9v4.9h-4.9zM616.1 40.7h4.9v4.9h-4.9zM620.7 45.3h4.9v4.9h-4.9zM629.9 123.7h4.9v4.9h-4.9zM625.3 128.3h4.9v4.9h-4.9zM625.3 142.1h4.9v4.9h-4.9zM629.9 146.7h4.9v4.9h-4.9zM629.9 151.3h4.9v4.9h-4.9zM625.3 156.0h4.9v4.9h-4.9z"/><path fill="#0093ff" d="M542.9 36.1h4.9v4.9h-4.9z"/><path fill="#00bbff" d="M547.5 36.1h4.9v4.9h-4.9zM547.5 119.1h4.9v4.9h-4.9zM547.5 123.7h4.9v4.9h-4.9zM565.8 146.7h4.9v4.9h-4.9z"/><path fill="#00cfff" d="M552.1 36.1h4.9v4.9h-4.9zM556.6 109.8h4.9v4.9h-4.9zM561.2 114.5h4.9v4.9h-4.9zM561.2 119.1h4.9v4.9h-4.9zM570.4 132.9h4.9v4.9h-4.9zM570.4 137.5h4.9v4.9h-4.9zM570.4 142.1h4.9v4.9h-4.9zM570.4 146.7h4.9v4.9h-4.9zM561.2 160.6h4.9v4.9h-4.9zM561.2 165.2h4.9v4.9h-4.9zM561.2 169.8h4.9v4.9h-4.9zM575.0 169.8h4.9v4.9h-4.9z"/><path fill="#10ffef" d="M556.6 36.1h4.9v4.9h-4.9zM570.4 68.3h4.9v4.9h-4.9zM570.4 73.0h4.9v4.9h-4.9zM570.4 77.6h4.9v4.9h-4.9zM570.4 82.2h4.9v4.9h-4.9zM579.5 96.0h4.9v4.9h-4.9zM579.5 100.6h4.9v4.9h-4.9zM579.5 105.2h4.9v4.9h-4.9zM579.5 109.8h4.9v4.9h-4.9zM579.5 114.5h4.9v4.9h-4.9zM579.5 119.1h4.9v4.9h-4.9zM579.5 123.7h4.9v4.9h-4.9zM579.5 128.3h4.9v4.9h-4.9zM579.5 132.9h4.9v4.9h-4.9zM579.5 137.5h4.9v4.9h-4.9zM579.5 142.1h4.9v4.9h-4.9zM579.5 146.7h4.9v4.9h-4.9z"/><path fill="#cbff34" d="M570.4 36.1h4.9v4.9h-4.9z"/><path fill="#ffdb00" d="M575.0 36.1h4.9v4.9h-4.9zM611.5 128.3h4.9v4.9h-4.9z"/><path fill="#ff9f00" d="M579.5 36.1h4.9v4.9h-4.9zM584.1 40.7h4.9v4.9h-4.9zM597.8 45.3h4.9v4.9h-4.9zM607.0 63.7h4.9v4.9h-4.9zM602.4 82.2h4.9v4.9h-4.9zM611.5 142.1h4.9v4.9h-4.9zM597.8 156.0h4.9v4.9h-4.9z"/><path fill="#ff6c00" d="M588.7 36.1h4.9v4.9h-4.9zM593.2 165.2h4.9v4.9h-4.9z"/><path fill="#ff6400" d="M593.2 36.1h4.9v4.9h-4.9zM616.1 86.8h4.9v4.9h-4.9zM611.5 96.0h4.9v4.9h-4.9zM616.1 100.6h4.9v4.9h-4.9z"/><path fill="#ff5000" d="M597.8 36.1h4.9v4.9h-4.9zM611.5 49.9h4.9v4.9h-4.9zM611.5 54.5h4.9v4.9h-4.9zM620.7 68.3h4.9v4.9h-4.9zM620.7 73.0h4.9v4.9h-4.9zM620.7 77.6h4.9v4.9h-4.9zM620.7 82.2h4.9v4.9h-4.9zM593.2 169.8h4.9v4.9h-4.9z"/><path fill="#ff3000" d="M602.4 36.1h4.9v4.9h-4.9zM625.3 68.3h4.9v4.9h-4.9zM625.3 73.0h4.9v4.9h-4.9zM634.4 82.2h4.9v4.9h-4.9zM634.4 86.8h4.9v4.9h-4.9zM625.3 96.0h4.9v4.9h-4.9zM625.3 100.6h4.9v4.9h-4.9zM625.3 105.2h4.9v4.9h-4.9zM625.3 109.8h4.9v4.9h-4.9zM597.8 169.8h4.9v4.9h-4.9z"/><path fill="#0000db" d="M497.2 40.7h4.9v4.9h-4.9zM488.0 59.1h4.9v4.9h-4.9zM488.0 91.4h4.9v4.9h-4.9zM497.2 109.8h4.9v4.9h-4.9zM506.3 128.3h4.9v4.9h-4.9z"/><path fill="#0000f3" d="M501.8 40.7h4.9v4.9h-4.9zM497.2 45.3h4.9v4.9h-4.9zM492.6 59.1h4.9v4.9h-4.9zM488.0 63.7h4.9v4.9h-4.9zM488.0 86.8h4.9v4.9h-4.9zM492.6 91.4h4.9v4.9h-4.9zM497.2 105.2h4.9v4.9h-4.9zM501.8 109.8h4.9v4.9h-4.9zM506.3 123.7h4.9v4.9h-4.9zM510.9 128.3h4.9v4.9h-4.9z"/><path fill="#008fff" d="M542.9 40.7h4.9v4.9h-4.9zM542.9 45.3h4.9v4.9h-4.9zM542.9 49.9h4.9v4.9h-4.9zM542.9 54.5h4.9v4.9h-4.9zM542.9 59.1h4.9v4.9h-4.9zM542.9 63.7h4.9v4.9h-4.9zM542.9 68.3h4.9v4.9h-4.9zM542.9 73.0h4.9v4.9h-4.9zM542.9 77.6h4.9v4.9h-4.9zM542.9 82.2h4.9v4.9h-4.9zM542.9 86.8h4.9v4.9h-4.9zM542.9 91.4h4.9v4.9h-4.9zM542.9 96.0h4.9v4.9h-4.9zM542.9 100.6h4.9v4.9h-4.9zM542.9 105.2h4.9v4.9h-4.9zM542.9 109.8h4.9v4.9h-4.9zM556.6 128.3h4.9v4.9h-4.9zM542.9 132.9h4.9v4.9h-4.9zM561.2 132.9h4.9v4.9h-4.9zM542.9 137.5h4.9v4.9h-4.9zM561.2 137.5h4.9v4.9h-4.9zM556.6 142.1h4.9v4.9h-4.9zM552.1 146.7h4.9v4.9h-4.9z"/><path fill="#00afff" d="M547.5 40.7h4.9v4.9h-4.9zM547.5 45.3h4.9v4.9h-4.9zM547.5 49.9h4.9v4.9h-4.9zM547.5 54.5h4.9v4.9h-4.9zM547.5 59.1h4.9v4.9h-4.9zM547.5 63.7h4.9v4.9h-4.9zM547.5 68.3h4.9v4.9h-4.9zM547.5 73.0h4.9v4.9h-4.9zM547.5 77.6h4.9v4.9h-4.9zM547.5 82.2h4.9v4.9h-4.9zM547.5 86.8h4.9v4.9h-4.9zM547.5 91.4h4.9v4.9h-4.9zM547.5 96.0h4.9v4.9h-4.9zM547.5 100.6h4.9v4.9h-4.9zM547.5 105.2h4.9v4.9h-4.9zM547.5 109.8h4.9v4.9h-4.9zM556.6 123.7h4.9v4.9h-4.9zM547.5 132.9h4.9v4.9h-4.9zM565.8 132.9h4.9v4.9h-4.9zM547.5 137.5h4.9v4.9h-4.9zM565.8 137.5h4.9v4.9h-4.9zM552.1 142.1h4.9v4.9h-4.9zM556.6 146.7h4.9v4.9h-4.9z"/><path fill="#00ffff" d="M556.6 40.7h4.9v4.9h-4.9zM556.6 45.3h4.9v4.9h-4.9zM556.6 49.9h4.9v4.9h-4.9zM556.6 54.5h4.9v4.9h-4.9zM556.6 59.1h14.0v4.9h-14.0zM556.6 63.7h14.0v4.9h-14.0zM556.6 68.3h14.0v4.9h-14.0zM556.6 73.0h14.0v4.9h-14.0zM556.6 77.6h14.0v4.9h-14.0zM556.6 82.2h14.0v4.9h-14.0zM556.6 86.8h14.0v4.9h-14.0zM556.6 91.4h14.0v4.9h-14.0zM556.6 96.0h23.2v4.9h-23.2zM556.6 100.6h23.2v4.9h-23.2zM570.4 105.2h9.4v4.9h-9.4zM570.4 109.8h9.4v4.9h-9.4zM570.4 114.5h9.4v4.9h-9.4zM570.4 119.1h9.4v4.9h-9.4zM575.0 151.3h4.9v4.9h-4.9zM570.4 156.0h4.9v4.9h-4.9z"/><path fill="#1cffe3" d="M561.2 40.7h4.9v4.9h-4.9zM570.4 59.1h4.9v4.9h-4.9z"/><path fill="#54ffab" d="M565.8 40.7h4.9v4.9h-4.9zM575.0 59.1h4.9v4.9h-4.9zM588.7 100.6h4.9v4.9h-4.9zM588.7 142.1h4.9v4.9h-4.9z"/><path fill="#9fff60" d="M570.4 40.7h4.9v4.9h-4.9zM584.1 77.6h4.9v4.9h-4.9zM584.1 82.2h4.9v4.9h-4.9zM597.8 105.2h4.9v4.9h-4.9zM597.8 109.8h4.9v4.9h-4.9zM597.8 114.5h4.9v4.9h-4.9zM597.8 119.1h4.9v4.9h-4.9zM597.8 142.1h4.9v4.9h-4.9z"/><path fill="#ffbf00" d="M579.5 40.7h4.9v4.9h-4.9zM584.1 45.3h4.9v4.9h-4.9zM602.4 77.6h4.9v4.9h-4.9zM597.8 82.2h4.9v4.9h-4.9z"/><path fill="#ff8f00" d="M588.7 40.7h9.4v4.9h-9.4zM602.4 49.9h4.9v4.9h-4.9zM602.4 54.5h4.9v4.9h-4.9zM611.5 68.3h4.9v4.9h-4.9zM611.5 73.0h4.9v4.9h-4.9z"/><path fill="#ff3400" d="M607.0 40.7h4.9v4.9h-4.9zM611.5 45.3h4.9v4.9h-4.9zM625.3 77.6h4.9v4.9h-4.9zM629.9 82.2h4.9v4.9h-4.9zM629.9 86.8h4.9v4.9h-4.9zM625.3 91.4h4.9v4.9h-4.9z"/><path fill="#fb0000" d="M611.5 40.7h4.9v4.9h-4.9zM620.7 132.9h4.9v4.9h-4.9z"/><path fill="#0000fb" d="M501.8 45.3h4.9v4.9h-4.9zM492.6 63.7h4.9v4.9h-4.9zM492.6 86.8h4.9v4.9h-4.9zM501.8 105.2h4.9v4.9h-4.9zM510.9 123.7h4.9v4.9h-4.9z"/><path fill="#14ffeb" d="M561.2 45.3h4.9v4.9h-4.9zM570.4 63.7h4.9v4.9h-4.9z"/><path fill="#3cffc3" d="M565.8 45.3h4.9v4.9h-4.9zM575.0 63.7h4.9v4.9h-4.9z"/><path fill="#dfff20" d="M575.0 45.3h4.9v4.9h-4.9zM588.7 73.0h4.9v4.9h-4.9zM602.4 105.2h4.9v4.9h-4.9zM602.4 109.8h4.9v4.9h-4.9zM602.4 114.5h4.9v4.9h-4.9zM602.4 119.1h4.9v4.9h-4.9zM602.4 146.7h4.9v4.9h-4.9z"/><path fill="#ffdf00" d="M579.5 45.3h4.9v4.9h-4.9zM593.2 68.3h4.9v4.9h-4.9zM597.8 77.6h4.9v4.9h-4.9zM607.0 146.7h4.9v4.9h-4.9zM602.4 151.3h4.9v4.9h-4.9z"/><path fill="#ffaf00" d="M588.7 45.3h9.4v4.9h-9.4zM597.8 49.9h4.9v4.9h-4.9zM597.8 54.5h4.9v4.9h-4.9zM607.0 68.3h4.9v4.9h-4.9zM607.0 73.0h4.9v4.9h-4.9z"/><path fill="#ff5c00" d="M607.0 45.3h4.9v4.9h-4.9zM611.5 91.4h4.9v4.9h-4.9zM620.7 109.8h4.9v4.9h-4.9zM616.1 137.5h4.9v4.9h-4.9z"/><path fill="#0004ff" d="M497.2 49.9h4.9v4.9h-4.9zM497.2 91.4h4.9v4.9h-4.9zM506.3 100.6h4.9v4.9h-4.9zM506.3 105.2h4.9v4.9h-4.9zM506.3 119.1h4.9v4.9h-4.9z"/><path fill="#000cff" d="M501.8 49.9h4.9v4.9h-4.9zM497.2 54.5h4.9v4.9h-4.9zM497.2 86.8h4.9v4.9h-4.9zM501.8 91.4h4.9v4.9h-4.9zM506.3 96.0h4.9v4.9h-4.9zM510.9 100.6h4.9v4.9h-4.9zM510.9 105.2h4.9v4.9h-4.9zM506.3 109.8h4.9v4.9h-4.9zM506.3 114.5h4.9v4.9h-4.9zM510.9 119.1h4.9v4.9h-4.9zM524.6 142.1h4.9v4.9h-4.9zM529.2 146.7h4.9v4.9h-4.9z"/><path fill="#0cfff3" d="M561.2 49.9h4.9v4.9h-4.9zM565.8 54.5h4.9v4.9h-4.9zM570.4 86.8h4.9v4.9h-4.9zM575.0 91.4h4.9v4.9h-4.9z"/><path fill="#ffe300" d="M584.1 49.9h4.9v4.9h-4.9zM588.7 54.5h4.9v4.9h-4.9zM597.8 73.0h4.9v4.9h-4.9zM607.0 105.2h4.9v4.9h-4.9z"/><path fill="#ffcb00" d="M588.7 49.9h4.9v4.9h-4.9zM593.2 54.5h4.9v4.9h-4.9zM597.8 68.3h4.9v4.9h-4.9zM602.4 73.0h4.9v4.9h-4.9zM602.4 96.0h4.9v4.9h-4.9z"/><path fill="#ffc300" d="M593.2 49.9h4.9v4.9h-4.9zM602.4 68.3h4.9v4.9h-4.9zM607.0 100.6h4.9v4.9h-4.9zM611.5 109.8h4.9v4.9h-4.9z"/><path fill="#ff7000" d="M607.0 49.9h4.9v4.9h-4.9zM607.0 54.5h4.9v4.9h-4.9zM616.1 68.3h4.9v4.9h-4.9zM616.1 73.0h4.9v4.9h-4.9zM616.1 77.6h4.9v4.9h-4.9zM616.1 82.2h4.9v4.9h-4.9zM588.7 169.8h4.9v4.9h-4.9z"/><path fill="#ff2400" d="M616.1 49.9h4.9v4.9h-4.9zM620.7 123.7h4.9v4.9h-4.9zM607.0 160.6h4.9v4.9h-4.9z"/><path fill="#9f0000" d="M629.9 49.9h4.9v4.9h-4.9z"/><path fill="#0024ff" d="M501.8 54.5h4.9v4.9h-4.9zM501.8 86.8h4.9v4.9h-4.9zM510.9 96.0h4.9v4.9h-4.9zM510.9 109.8h4.9v4.9h-4.9zM510.9 114.5h4.9v4.9h-4.9z"/><path fill="#04fffb" d="M561.2 54.5h4.9v4.9h-4.9zM570.4 91.4h4.9v4.9h-4.9z"/><path fill="#bbff44" d="M579.5 54.5h4.9v4.9h-4.9zM602.4 128.3h4.9v4.9h-4.9z"/><path fill="#004cff" d="M520.0 59.1h4.9v4.9h-4.9zM515.5 63.7h4.9v4.9h-4.9zM515.5 68.3h4.9v4.9h-4.9zM520.0 73.0h4.9v4.9h-4.9zM520.0 77.6h4.9v4.9h-4.9zM515.5 82.2h4.9v4.9h-4.9zM515.5 86.8h4.9v4.9h-4.9zM520.0 91.4h4.9v4.9h-4.9zM529.2 105.2h4.9v4.9h-4.9zM524.6 109.8h4.9v4.9h-4.9zM542.9 151.3h4.9v4.9h-4.9z"/><path fill="#005cff" d="M524.6 59.1h4.9v4.9h-4.9zM524.6 73.0h4.9v4.9h-4.9zM524.6 77.6h4.9v4.9h-4.9zM533.8 91.4h4.9v4.9h-4.9zM533.8 105.2h4.9v4.9h-4.9z"/><path fill="#0074ff" d="M529.2 59.1h4.9v4.9h-4.9zM524.6 63.7h4.9v4.9h-4.9zM524.6 68.3h4.9v4.9h-4.9zM529.2 73.0h4.9v4.9h-4.9zM529.2 77.6h4.9v4.9h-4.9zM524.6 82.2h4.9v4.9h-4.9zM533.8 86.8h4.9v4.9h-4.9zM538.4 91.4h4.9v4.9h-4.9zM538.4 105.2h4.9v4.9h-4.9zM533.8 109.8h4.9v4.9h-4.9z"/><path fill="#93ff6c" d="M579.5 59.1h4.9v4.9h-4.9zM593.2 96.0h4.9v4.9h-4.9zM597.8 128.3h4.9v4.9h-4.9zM593.2 146.7h4.9v4.9h-4.9z"/><path fill="#ffef00" d="M588.7 59.1h4.9v4.9h-4.9zM588.7 63.7h4.9v4.9h-4.9zM607.0 114.5h4.9v4.9h-4.9zM607.0 119.1h4.9v4.9h-4.9zM584.1 169.8h4.9v4.9h-4.9z"/><path fill="#ffcf00" d="M593.2 59.1h4.9v4.9h-4.9zM593.2 63.7h4.9v4.9h-4.9zM611.5 114.5h4.9v4.9h-4.9zM611.5 119.1h4.9v4.9h-4.9z"/><path fill="#ff9b00" d="M602.4 59.1h4.9v4.9h-4.9zM616.1 114.5h4.9v4.9h-4.9z"/><path fill="#cf0000" d="M634.4 59.1h4.9v4.9h-4.9zM634.4 119.1h4.9v4.9h-4.9zM620.7 160.6h4.9v4.9h-4.9zM620.7 165.2h4.9v4.9h-4.9zM620.7 169.8h4.9v4.9h-4.9z"/><path fill="#007cff" d="M529.2 63.7h4.9v4.9h-4.9zM529.2 68.3h4.9v4.9h-4.9zM529.2 82.2h4.9v4.9h-4.9zM538.4 86.8h4.9v4.9h-4.9zM538.4 109.8h4.9v4.9h-4.9z"/><path fill="#d3ff2c" d="M584.1 63.7h4.9v4.9h-4.9zM588.7 77.6h4.9v4.9h-4.9zM602.4 123.7h4.9v4.9h-4.9z"/><path fill="#ffbb00" d="M597.8 63.7h4.9v4.9h-4.9zM611.5 137.5h4.9v4.9h-4.9z"/><path fill="#6cff93" d="M579.5 68.3h4.9v4.9h-4.9z"/><path fill="#c3ff3c" d="M584.1 68.3h4.9v4.9h-4.9z"/><path fill="#64ff9b" d="M579.5 73.0h4.9v4.9h-4.9z"/><path fill="#abff54" d="M584.1 73.0h4.9v4.9h-4.9z"/><path fill="#fbff04" d="M593.2 77.6h4.9v4.9h-4.9zM602.4 100.6h4.9v4.9h-4.9z"/><path fill="#ffa300" d="M607.0 77.6h4.9v4.9h-4.9zM593.2 160.6h4.9v4.9h-4.9zM588.7 165.2h4.9v4.9h-4.9z"/><path fill="#ff8b00" d="M611.5 77.6h4.9v4.9h-4.9zM607.0 82.2h4.9v4.9h-4.9zM607.0 96.0h4.9v4.9h-4.9zM611.5 100.6h4.9v4.9h-4.9zM616.1 123.7h4.9v4.9h-4.9z"/><path fill="#ff1c00" d="M629.9 77.6h4.9v4.9h-4.9zM629.9 91.4h4.9v4.9h-4.9z"/><path fill="#ffeb00" d="M593.2 82.2h4.9v4.9h-4.9zM607.0 109.8h4.9v4.9h-4.9z"/><path fill="#ff8300" d="M611.5 82.2h4.9v4.9h-4.9zM616.1 128.3h4.9v4.9h-4.9z"/><path fill="#ff3c00" d="M625.3 82.2h4.9v4.9h-4.9zM625.3 86.8h4.9v4.9h-4.9zM620.7 119.1h4.9v4.9h-4.9z"/><path fill="#4cffb3" d="M579.5 86.8h4.9v4.9h-4.9zM584.1 91.4h4.9v4.9h-4.9z"/><path fill="#83ff7c" d="M584.1 86.8h4.9v4.9h-4.9z"/><path fill="#bfff40" d="M588.7 86.8h4.9v4.9h-4.9zM593.2 91.4h4.9v4.9h-4.9zM602.4 142.1h4.9v4.9h-4.9zM597.8 146.7h4.9v4.9h-4.9z"/><path fill="#ff7c00" d="M607.0 86.8h4.9v4.9h-4.9zM616.1 105.2h4.9v4.9h-4.9z"/><path fill="#ff7400" d="M611.5 86.8h4.9v4.9h-4.9zM607.0 91.4h4.9v4.9h-4.9zM616.1 132.9h4.9v4.9h-4.9z"/><path fill="#ff4c00" d="M620.7 86.8h4.9v4.9h-4.9zM616.1 91.4h4.9v4.9h-4.9zM616.1 96.0h4.9v4.9h-4.9zM620.7 100.6h4.9v4.9h-4.9z"/><path fill="#fff700" d="M597.8 91.4h4.9v4.9h-4.9z"/><path fill="#ffa700" d="M602.4 91.4h4.9v4.9h-4.9zM607.0 151.3h4.9v4.9h-4.9z"/><path fill="#0000ce" d="M488.0 105.2h4.9v4.9h-4.9zM492.6 109.8h4.9v4.9h-4.9zM497.2 123.7h4.9v4.9h-4.9zM501.8 128.3h4.9v4.9h-4.9zM506.3 132.9h4.9v4.9h-4.9zM510.9 137.5h4.9v4.9h-4.9zM515.5 142.1h4.9v4.9h-4.9zM520.0 146.7h4.9v4.9h-4.9zM524.6 151.3h4.9v4.9h-4.9zM529.2 156.0h4.9v4.9h-4.9z"/><path fill="#0000e6" d="M492.6 105.2h4.9v4.9h-4.9zM501.8 123.7h4.9v4.9h-4.9zM510.9 132.9h4.9v4.9h-4.9zM520.0 142.1h4.9v4.9h-4.9zM529.2 151.3h4.9v4.9h-4.9z"/><path fill="#00f3ff" d="M561.2 105.2h4.9v4.9h-4.9zM565.8 109.8h4.9v4.9h-4.9zM570.4 123.7h4.9v4.9h-4.9zM575.0 128.3h4.9v4.9h-4.9z"/><path fill="#70ff8f" d="M593.2 105.2h4.9v4.9h-4.9zM593.2 109.8h4.9v4.9h-4.9zM593.2 114.5h4.9v4.9h-4.9zM593.2 119.1h4.9v4.9h-4.9zM593.2 123.7h4.9v4.9h-4.9zM593.2 128.3h4.9v4.9h-4.9zM593.2 132.9h4.9v4.9h-4.9zM593.2 137.5h4.9v4.9h-4.9z"/><path fill="#ffab00" d="M611.5 105.2h4.9v4.9h-4.9z"/><path fill="#ff5400" d="M620.7 105.2h4.9v4.9h-4.9zM620.7 114.5h4.9v4.9h-4.9z"/><path fill="#ff9300" d="M616.1 109.8h4.9v4.9h-4.9zM616.1 119.1h4.9v4.9h-4.9z"/><path fill="#00dfff" d="M565.8 123.7h4.9v4.9h-4.9zM570.4 151.3h4.9v4.9h-4.9zM552.1 156.0h4.9v4.9h-4.9z"/><path fill="#9bff64" d="M597.8 123.7h4.9v4.9h-4.9z"/><path fill="#ffd300" d="M611.5 123.7h4.9v4.9h-4.9zM611.5 132.9h4.9v4.9h-4.9z"/><path fill="#e30000" d="M625.3 123.7h4.9v4.9h-4.9zM625.3 146.7h4.9v4.9h-4.9zM625.3 151.3h4.9v4.9h-4.9z"/><path fill="#ebff14" d="M607.0 128.3h4.9v4.9h-4.9zM607.0 137.5h4.9v4.9h-4.9z"/><path fill="#ff0c00" d="M620.7 128.3h4.9v4.9h-4.9zM611.5 160.6h4.9v4.9h-4.9zM607.0 165.2h4.9v4.9h-4.9z"/><path fill="#c30000" d="M629.9 128.3h4.9v4.9h-4.9zM629.9 142.1h4.9v4.9h-4.9zM629.9 156.0h4.9v4.9h-4.9z"/><path fill="#8fff70" d="M597.8 132.9h4.9v4.9h-4.9zM597.8 137.5h4.9v4.9h-4.9z"/><path fill="#afff50" d="M602.4 132.9h4.9v4.9h-4.9zM602.4 137.5h4.9v4.9h-4.9z"/><path fill="#e3ff1c" d="M607.0 132.9h4.9v4.9h-4.9z"/><path fill="#f30000" d="M620.7 137.5h4.9v4.9h-4.9z"/><path fill="#ff4800" d="M616.1 142.1h4.9v4.9h-4.9z"/><path fill="#f70000" d="M620.7 142.1h4.9v4.9h-4.9z"/><path fill="#ff3800" d="M616.1 146.7h4.9v4.9h-4.9z"/><path fill="#ff0800" d="M620.7 146.7h4.9v4.9h-4.9z"/><path fill="#00c3ff" d="M561.2 151.3h4.9v4.9h-4.9z"/><path fill="#78ff87" d="M588.7 151.3h4.9v4.9h-4.9z"/><path fill="#c7ff38" d="M593.2 151.3h4.9v4.9h-4.9z"/><path fill="#ff5800" d="M611.5 151.3h4.9v4.9h-4.9zM607.0 156.0h4.9v4.9h-4.9z"/><path fill="#00abff" d="M547.5 156.0h4.9v4.9h-4.9z"/><path fill="#00e3ff" d="M565.8 156.0h4.9v4.9h-4.9z"/><path fill="#a7ff58" d="M588.7 156.0h4.9v4.9h-4.9z"/><path fill="#ffe700" d="M593.2 156.0h4.9v4.9h-4.9z"/><path fill="#003bff" d="M542.9 160.6h4.9v4.9h-4.9zM547.5 165.2h4.9v4.9h-4.9z"/><path fill="#0099ff" d="M547.5 160.6h4.9v4.9h-4.9z"/><path fill="#08fff7" d="M570.4 160.6h4.9v4.9h-4.9z"/><path fill="#18ffe7" d="M575.0 160.6h4.9v4.9h-4.9z"/><path fill="#48ffb7" d="M579.5 160.6h4.9v4.9h-4.9z"/><path fill="#97ff68" d="M584.1 160.6h4.9v4.9h-4.9z"/><path fill="#00f7ff" d="M570.4 165.2h4.9v4.9h-4.9z"/><path fill="#00e7ff" d="M575.0 165.2h4.9v4.9h-4.9z"/><path fill="#38ffc7" d="M579.5 165.2h4.9v4.9h-4.9z"/><path fill="#e7ff18" d="M584.1 165.2h4.9v4.9h-4.9z"/><path fill="#000080" d="M556.6 8.4H562.5V16.0H556.6zM562.5 8.4H573.8V17.3H562.5zM573.8 8.4H583.9V19.2H573.8zM583.9 8.4H602.7V20.4H583.9zM602.7 8.4H615.3V23.0H602.7zM615.3 8.4H617.8V25.5H615.3zM617.8 8.4H639.0V30.5H617.8zM556.6 171.5H567.2V174.4H556.6zM567.2 170.7H579.5V174.4H567.2zM579.5 168.2H591.7V174.4H579.5zM591.7 170.0H611.4V174.4H591.7zM611.4 165.8H626.0V174.4H611.4zM626.0 159.6H636.0V174.4H626.0zM636.0 149.8H639.0V174.4H636.0z"/><circle cx="558.1" cy="91.8" r="18.2" fill="none" stroke="#000" stroke-width="1.6"/><circle cx="558.1" cy="91.8" r="36.4" fill="none" stroke="#000" stroke-width="1.5"/><circle cx="558.1" cy="91.8" r="54.5" fill="none" stroke="#000" stroke-width="1.2"/><circle cx="558.1" cy="91.8" r="72.6" fill="none" stroke="#000" stroke-width="1.1"/><circle cx="558.1" cy="92.1" r="0.9" fill="#000"/><g font-size="16" stroke-width="0.35"><text x="479.2" y="24.6" fill="#fff" stroke="#fff" text-anchor="start">486.1nm</text><text x="556.8" y="21.0" fill="#fff" stroke="#fff" text-anchor="middle">N</text><text x="476.5" y="95.3" fill="#fff" stroke="#fff" text-anchor="start">E</text><text x="557.0" y="173.7" fill="#fff" stroke="#fff" text-anchor="start">S</text><text x="588.2" y="24.0" fill="#fff" stroke="#fff" text-anchor="start">50</text><text x="578.6" y="39.2" fill="#000" stroke="#000" text-anchor="start">60</text><text x="570.5" y="55.7" fill="#000" stroke="#000" text-anchor="start">70</text><text x="563.5" y="73.1" fill="#000" stroke="#000" text-anchor="start">80</text><text x="555.9" y="89.6" fill="#000" stroke="#000" text-anchor="start">90</text></g><g font-size="16" stroke-width="0.35"><text x="623.8" y="96.7" fill="#fff" stroke="#fff" text-anchor="start">W</text></g><path d="M483.4 8.4v2.2M483.4 174.4v-2.2M492.6 8.4v2.2M492.6 174.4v-2.2M501.7 8.4v2.2M501.7 174.4v-2.2M510.9 8.4v2.2M510.9 174.4v-2.2M520.0 8.4v2.2M520.0 174.4v-2.2M529.1 8.4v2.2M529.1 174.4v-2.2M538.3 8.4v2.2M538.3 174.4v-2.2M547.4 8.4v2.2M547.4 174.4v-2.2M556.6 8.4v2.2M556.6 174.4v-2.2M565.7 8.4v2.2M565.7 174.4v-2.2M574.8 8.4v2.2M574.8 174.4v-2.2M584.0 8.4v2.2M584.0 174.4v-2.2M593.1 8.4v2.2M593.1 174.4v-2.2M602.3 8.4v2.2M602.3 174.4v-2.2M611.4 8.4v2.2M611.4 174.4v-2.2M620.5 8.4v2.2M620.5 174.4v-2.2M629.7 8.4v2.2M629.7 174.4v-2.2M474.3 17.5h2.2M474.3 26.7h2.2M474.3 35.8h2.2M474.3 45.0h2.2M474.3 54.1h2.2M474.3 63.2h2.2M474.3 72.4h2.2M474.3 81.5h2.2M474.3 90.7h2.2M474.3 99.8h2.2M474.3 108.9h2.2M474.3 118.1h2.2M474.3 127.2h2.2M474.3 136.4h2.2M474.3 145.5h2.2M474.3 154.6h2.2M474.3 163.8h2.2M474.3 172.9h2.2" stroke="#000" stroke-width="1" fill="none"/><rect x="639.0" y="8.4" width="3.6" height="166.0" fill="url(#jet)"/><path d="M642.6 168.84h-2.2M642.6 163.28h-2.2M642.6 157.72h-2.2M642.6 152.16h-2.2M642.6 146.60h-2.2M642.6 141.04h-2.2M642.6 135.48h-2.2M642.6 129.92h-2.2M642.6 124.36h-2.2M642.6 118.80h-2.2M642.6 113.24h-2.2M642.6 107.68h-2.2M642.6 102.12h-2.2M642.6 96.56h-2.2M642.6 91.00h-2.2M642.6 85.44h-2.2M642.6 79.88h-2.2M642.6 74.32h-2.2M642.6 68.76h-2.2M642.6 63.20h-2.2M642.6 57.64h-2.2M642.6 52.08h-2.2M642.6 46.52h-2.2M642.6 40.96h-2.2M642.6 35.40h-2.2M642.6 29.84h-2.2M642.6 24.28h-2.2M642.6 18.72h-2.2M642.6 13.16h-2.2" stroke="#000" stroke-width="0.9" fill="none"/><rect x="474.3" y="8.4" width="168.3" height="166.0" fill="none" stroke="#000" stroke-width="1"/><line x1="639.0" y1="8.4" x2="639.0" y2="174.4" stroke="#000" stroke-width="0.6"/><g font-size="16" fill="#000"><text x="642.4" y="39.7">1.0</text><text x="643.9" y="66.9">0.8</text><text x="643.9" y="96.4">0.6</text><text x="643.9" y="124.2">0.4</text><text x="643.9" y="152.6">0.2</text><text x="643.9" y="178.7">0</text></g><text font-size="16.3" transform="translate(675.9 93.0) rotate(-90)" x="0" y="5.5" text-anchor="middle">I (kR)</text><text font-size="21" x="448.5" y="32.3">(c)</text><rect x="29.6" y="184.0" width="163.2" height="166.5" fill="#000080"/><path fill="#000080" d="M29.6 184.0h45.6v4.9h-45.6zM29.6 188.6h45.6v4.9h-45.6zM29.6 193.2h18.4v4.9h-18.4zM29.6 197.9h18.4v4.9h-18.4zM29.6 202.5h9.4v4.9h-9.4zM29.6 207.1h9.4v4.9h-9.4zM29.6 211.8h9.4v4.9h-9.4zM29.6 216.4h9.4v4.9h-9.4zM29.6 221.0h9.4v4.9h-9.4zM29.6 225.6h9.4v4.9h-9.4zM29.6 230.2h9.4v4.9h-9.4zM29.6 234.9h9.4v4.9h-9.4zM29.6 239.5h9.4v4.9h-9.4zM29.6 244.1h9.4v4.9h-9.4zM29.6 248.8h9.4v4.9h-9.4zM29.6 253.4h9.4v4.9h-9.4zM29.6 258.0h9.4v4.9h-9.4zM29.6 262.6h9.4v4.9h-9.4zM29.6 267.2h9.4v4.9h-9.4zM29.6 271.9h9.4v4.9h-9.4zM29.6 276.5h9.4v4.9h-9.4zM29.6 281.1h9.4v4.9h-9.4zM29.6 285.8h18.4v4.9h-18.4zM29.6 290.4h18.4v4.9h-18.4zM29.6 295.0h18.4v4.9h-18.4zM29.6 299.6h18.4v4.9h-18.4zM29.6 304.2h27.5v4.9h-27.5zM29.6 308.9h27.5v4.9h-27.5zM29.6 313.5h27.5v4.9h-27.5zM29.6 318.1h27.5v4.9h-27.5zM29.6 322.8h36.6v4.9h-36.6zM29.6 327.4h36.6v4.9h-36.6zM29.6 332.0h54.7v4.9h-54.7zM29.6 336.6h54.7v4.9h-54.7zM29.6 341.2h81.9v4.9h-81.9zM29.6 345.9h81.9v4.9h-81.9z"/><path fill="#0000ff" d="M74.9 184.0h13.9v4.9h-13.9zM61.3 207.1h9.4v4.9h-9.4zM61.3 211.8h9.4v4.9h-9.4zM61.3 216.4h9.4v4.9h-9.4zM61.3 221.0h9.4v4.9h-9.4zM52.3 225.6h9.4v4.9h-9.4zM52.3 230.2h9.4v4.9h-9.4zM52.3 234.9h9.4v4.9h-9.4zM52.3 239.5h9.4v4.9h-9.4zM52.3 244.1h9.4v4.9h-9.4zM52.3 248.8h9.4v4.9h-9.4zM52.3 253.4h9.4v4.9h-9.4zM52.3 258.0h9.4v4.9h-9.4zM52.3 262.6h9.4v4.9h-9.4zM52.3 267.2h9.4v4.9h-9.4zM61.3 271.9h9.4v4.9h-9.4zM61.3 276.5h9.4v4.9h-9.4zM47.7 290.4h4.8v4.9h-4.8zM47.7 295.0h4.8v4.9h-4.8zM47.7 299.6h4.8v4.9h-4.8zM65.9 327.4h4.8v4.9h-4.8z"/><path fill="#0010ff" d="M88.5 184.0h4.8v4.9h-4.8zM61.3 234.9h4.8v4.9h-4.8zM61.3 239.5h4.8v4.9h-4.8zM61.3 244.1h4.8v4.9h-4.8zM61.3 248.8h4.8v4.9h-4.8zM61.3 253.4h4.8v4.9h-4.8zM61.3 258.0h4.8v4.9h-4.8zM61.3 304.2h9.4v4.9h-9.4zM70.4 327.4h4.8v4.9h-4.8z"/><path fill="#0030ff" d="M93.1 184.0h4.8v4.9h-4.8zM65.9 234.9h4.8v4.9h-4.8zM65.9 239.5h4.8v4.9h-4.8zM65.9 244.1h4.8v4.9h-4.8zM65.9 248.8h4.8v4.9h-4.8zM65.9 253.4h4.8v4.9h-4.8zM65.9 258.0h4.8v4.9h-4.8zM61.3 299.6h9.4v4.9h-9.4zM74.9 327.4h4.8v4.9h-4.8z"/><path fill="#0050ff" d="M97.6 184.0h4.8v4.9h-4.8zM70.4 234.9h4.8v4.9h-4.8zM70.4 239.5h4.8v4.9h-4.8zM70.4 244.1h4.8v4.9h-4.8zM70.4 248.8h4.8v4.9h-4.8zM70.4 253.4h4.8v4.9h-4.8zM70.4 258.0h4.8v4.9h-4.8zM70.4 290.4h4.8v4.9h-4.8zM70.4 295.0h4.8v4.9h-4.8zM111.2 322.8h4.8v4.9h-4.8zM97.6 332.0h13.9v4.9h-13.9zM124.8 336.6h4.8v4.9h-4.8zM124.8 341.2h4.8v4.9h-4.8zM124.8 345.9h4.8v4.9h-4.8z"/><path fill="#0070ff" d="M102.1 184.0h4.8v4.9h-4.8zM74.9 234.9h4.8v4.9h-4.8zM74.9 239.5h4.8v4.9h-4.8zM74.9 244.1h4.8v4.9h-4.8zM74.9 248.8h4.8v4.9h-4.8zM74.9 253.4h4.8v4.9h-4.8zM74.9 258.0h4.8v4.9h-4.8zM74.9 290.4h4.8v4.9h-4.8zM74.9 295.0h4.8v4.9h-4.8zM111.2 318.1h4.8v4.9h-4.8zM97.6 327.4h13.9v4.9h-13.9zM129.3 336.6h4.8v4.9h-4.8zM129.3 341.2h4.8v4.9h-4.8zM129.3 345.9h4.8v4.9h-4.8z"/><path fill="#0080ff" d="M106.7 184.0h4.8v4.9h-4.8zM106.7 188.6h4.8v4.9h-4.8zM106.7 193.2h4.8v4.9h-4.8zM79.5 197.9h32.0v4.9h-32.0zM79.5 202.5h32.0v4.9h-32.0zM79.5 207.1h32.0v4.9h-32.0zM79.5 211.8h32.0v4.9h-32.0zM79.5 216.4h32.0v4.9h-32.0zM79.5 221.0h32.0v4.9h-32.0zM79.5 225.6h32.0v4.9h-32.0zM79.5 230.2h32.0v4.9h-32.0zM79.5 234.9h32.0v4.9h-32.0zM79.5 239.5h32.0v4.9h-32.0zM79.5 244.1h32.0v4.9h-32.0zM79.5 248.8h32.0v4.9h-32.0zM79.5 253.4h32.0v4.9h-32.0zM79.5 258.0h32.0v4.9h-32.0zM79.5 262.6h18.4v4.9h-18.4zM79.5 267.2h18.4v4.9h-18.4zM79.5 271.9h18.4v4.9h-18.4zM79.5 276.5h18.4v4.9h-18.4zM79.5 281.1h18.4v4.9h-18.4zM79.5 285.8h18.4v4.9h-18.4zM79.5 290.4h18.4v4.9h-18.4zM111.2 290.4h4.8v4.9h-4.8zM79.5 295.0h18.4v4.9h-18.4zM111.2 295.0h4.8v4.9h-4.8zM79.5 299.6h18.4v4.9h-18.4zM111.2 299.6h4.8v4.9h-4.8zM79.5 304.2h18.4v4.9h-18.4zM111.2 304.2h4.8v4.9h-4.8zM79.5 308.9h45.6v4.9h-45.6zM79.5 313.5h45.6v4.9h-45.6zM88.5 318.1h23.0v4.9h-23.0zM88.5 322.8h23.0v4.9h-23.0zM124.8 327.4h4.8v4.9h-4.8zM129.3 332.0h4.8v4.9h-4.8z"/><path fill="#00bfff" d="M111.2 184.0h4.8v4.9h-4.8zM111.2 216.4h4.8v4.9h-4.8zM111.2 221.0h4.8v4.9h-4.8zM111.2 225.6h4.8v4.9h-4.8zM111.2 230.2h4.8v4.9h-4.8zM111.2 234.9h13.9v4.9h-13.9zM111.2 239.5h13.9v4.9h-13.9zM111.2 244.1h13.9v4.9h-13.9zM111.2 248.8h13.9v4.9h-13.9zM111.2 253.4h13.9v4.9h-13.9zM111.2 258.0h13.9v4.9h-13.9zM111.2 262.6h13.9v4.9h-13.9zM111.2 267.2h13.9v4.9h-13.9zM106.7 271.9h27.5v4.9h-27.5zM106.7 276.5h27.5v4.9h-27.5zM106.7 281.1h4.8v4.9h-4.8zM124.8 281.1h9.4v4.9h-9.4zM106.7 285.8h4.8v4.9h-4.8zM124.8 285.8h9.4v4.9h-9.4zM106.7 290.4h4.8v4.9h-4.8zM124.8 290.4h9.4v4.9h-9.4zM106.7 295.0h4.8v4.9h-4.8zM124.8 295.0h9.4v4.9h-9.4zM133.9 308.9h9.4v4.9h-9.4zM133.9 313.5h9.4v4.9h-9.4z"/><path fill="#00ffff" d="M115.7 184.0h4.8v4.9h-4.8zM111.2 197.9h4.8v4.9h-4.8zM111.2 202.5h4.8v4.9h-4.8zM124.8 225.6h4.8v4.9h-4.8zM129.3 230.2h4.8v4.9h-4.8zM133.9 262.6h4.8v4.9h-4.8zM138.4 267.2h4.8v4.9h-4.8zM142.9 299.6h4.8v4.9h-4.8zM147.5 304.2h4.8v4.9h-4.8zM147.5 318.1h4.8v4.9h-4.8zM142.9 322.8h4.8v4.9h-4.8z"/><path fill="#80ff80" d="M120.3 184.0h4.8v4.9h-4.8zM161.1 281.1h9.4v4.9h-9.4zM161.1 285.8h9.4v4.9h-9.4zM161.1 290.4h9.4v4.9h-9.4zM161.1 295.0h9.4v4.9h-9.4zM165.6 308.9h4.8v4.9h-4.8zM161.1 313.5h4.8v4.9h-4.8zM156.5 336.6h4.8v4.9h-4.8zM152.0 341.2h4.8v4.9h-4.8z"/><path fill="#ffff00" d="M124.8 184.0h4.8v4.9h-4.8zM124.8 188.6h4.8v4.9h-4.8zM124.8 193.2h4.8v4.9h-4.8zM161.1 202.5h4.8v4.9h-4.8zM179.2 244.1h13.9v4.9h-13.9zM179.2 248.8h13.9v4.9h-13.9zM179.2 253.4h13.9v4.9h-13.9zM179.2 258.0h13.9v4.9h-13.9zM179.2 262.6h13.9v4.9h-13.9zM179.2 267.2h13.9v4.9h-13.9zM188.3 290.4h4.8v4.9h-4.8zM188.3 327.4h4.8v4.9h-4.8zM188.3 332.0h4.8v4.9h-4.8zM188.3 336.6h4.8v4.9h-4.8zM188.3 341.2h4.8v4.9h-4.8zM188.3 345.9h4.8v4.9h-4.8z"/><path fill="#ff8000" d="M129.3 184.0h4.8v4.9h-4.8zM129.3 188.6h4.8v4.9h-4.8zM129.3 193.2h4.8v4.9h-4.8zM165.6 197.9h4.8v4.9h-4.8zM179.2 216.4h4.8v4.9h-4.8zM183.7 221.0h4.8v4.9h-4.8zM188.3 295.0h4.8v4.9h-4.8z"/><path fill="#ff5000" d="M133.9 184.0h4.8v4.9h-4.8zM133.9 188.6h4.8v4.9h-4.8zM133.9 193.2h4.8v4.9h-4.8zM174.7 207.1h4.8v4.9h-4.8zM188.3 216.4h4.8v4.9h-4.8z"/><path fill="#ff7000" d="M138.4 184.0h4.8v4.9h-4.8zM138.4 188.6h4.8v4.9h-4.8zM138.4 193.2h4.8v4.9h-4.8zM188.3 221.0h4.8v4.9h-4.8z"/><path fill="#ff9f00" d="M142.9 184.0h4.8v4.9h-4.8zM161.1 184.0h4.8v4.9h-4.8zM142.9 188.6h4.8v4.9h-4.8zM161.1 188.6h4.8v4.9h-4.8zM142.9 193.2h4.8v4.9h-4.8zM161.1 193.2h4.8v4.9h-4.8zM179.2 221.0h4.8v4.9h-4.8zM183.7 225.6h4.8v4.9h-4.8zM188.3 313.5h4.8v4.9h-4.8zM179.2 336.6h4.8v4.9h-4.8zM179.2 341.2h4.8v4.9h-4.8zM174.7 345.9h9.4v4.9h-9.4z"/><path fill="#ffdf00" d="M147.5 184.0h4.8v4.9h-4.8zM147.5 188.6h4.8v4.9h-4.8zM147.5 193.2h4.8v4.9h-4.8zM179.2 230.2h4.8v4.9h-4.8zM183.7 336.6h4.8v4.9h-4.8zM183.7 341.2h4.8v4.9h-4.8zM170.1 345.9h4.8v4.9h-4.8zM183.7 345.9h4.8v4.9h-4.8z"/><path fill="#ffef00" d="M152.0 184.0h4.8v4.9h-4.8zM152.0 188.6h4.8v4.9h-4.8zM152.0 193.2h4.8v4.9h-4.8zM147.5 197.9h4.8v4.9h-4.8zM142.9 207.1h4.8v4.9h-4.8zM170.1 211.8h4.8v4.9h-4.8zM188.3 239.5h4.8v4.9h-4.8zM161.1 244.1h4.8v4.9h-4.8zM161.1 271.9h9.4v4.9h-9.4zM188.3 322.8h4.8v4.9h-4.8z"/><path fill="#ffcf00" d="M156.5 184.0h4.8v4.9h-4.8zM156.5 188.6h4.8v4.9h-4.8zM156.5 193.2h4.8v4.9h-4.8zM142.9 202.5h4.8v4.9h-4.8zM188.3 234.9h4.8v4.9h-4.8zM165.6 248.8h4.8v4.9h-4.8zM188.3 318.1h4.8v4.9h-4.8z"/><path fill="#ff6000" d="M165.6 184.0h4.8v4.9h-4.8zM165.6 188.6h4.8v4.9h-4.8zM165.6 193.2h4.8v4.9h-4.8zM183.7 216.4h4.8v4.9h-4.8zM188.3 308.9h4.8v4.9h-4.8z"/><path fill="#ff3000" d="M170.1 184.0h4.8v4.9h-4.8zM170.1 188.6h4.8v4.9h-4.8zM170.1 193.2h4.8v4.9h-4.8zM188.3 211.8h4.8v4.9h-4.8z"/><path fill="#ff1000" d="M174.7 184.0h4.8v4.9h-4.8zM174.7 188.6h4.8v4.9h-4.8zM174.7 193.2h4.8v4.9h-4.8zM188.3 207.1h4.8v4.9h-4.8z"/><path fill="#ff0000" d="M179.2 184.0h13.9v4.9h-13.9zM179.2 188.6h13.9v4.9h-13.9zM179.2 193.2h13.9v4.9h-13.9zM179.2 197.9h13.9v4.9h-13.9zM179.2 202.5h13.9v4.9h-13.9z"/><path fill="#001dff" d="M74.9 188.6h4.8v4.9h-4.8zM70.4 193.2h4.8v4.9h-4.8z"/><path fill="#0020ff" d="M79.5 188.6h9.4v4.9h-9.4zM70.4 197.9h4.8v4.9h-4.8zM70.4 202.5h4.8v4.9h-4.8zM70.4 207.1h4.8v4.9h-4.8zM70.4 211.8h4.8v4.9h-4.8zM70.4 216.4h4.8v4.9h-4.8zM70.4 221.0h4.8v4.9h-4.8zM70.4 271.9h4.8v4.9h-4.8zM70.4 276.5h4.8v4.9h-4.8zM70.4 322.8h4.8v4.9h-4.8zM93.1 336.6h4.8v4.9h-4.8z"/><path fill="#002cff" d="M88.5 188.6h4.8v4.9h-4.8zM70.4 225.6h4.8v4.9h-4.8zM70.4 267.2h4.8v4.9h-4.8zM70.4 281.1h4.8v4.9h-4.8zM70.4 304.2h4.8v4.9h-4.8zM70.4 308.9h4.8v4.9h-4.8z"/><path fill="#0044ff" d="M93.1 188.6h4.8v4.9h-4.8zM70.4 230.2h4.8v4.9h-4.8zM70.4 262.6h4.8v4.9h-4.8zM70.4 285.8h4.8v4.9h-4.8zM70.4 299.6h4.8v4.9h-4.8zM70.4 313.5h4.8v4.9h-4.8zM115.7 332.0h4.8v4.9h-4.8z"/><path fill="#005cff" d="M97.6 188.6h4.8v4.9h-4.8zM79.5 322.8h4.8v4.9h-4.8zM115.7 322.8h4.8v4.9h-4.8z"/><path fill="#0074ff" d="M102.1 188.6h4.8v4.9h-4.8zM97.6 193.2h4.8v4.9h-4.8zM79.5 318.1h4.8v4.9h-4.8zM115.7 318.1h4.8v4.9h-4.8zM84.0 322.8h4.8v4.9h-4.8zM120.3 322.8h4.8v4.9h-4.8z"/><path fill="#00cfff" d="M111.2 188.6h4.8v4.9h-4.8zM111.2 211.8h4.8v4.9h-4.8zM124.8 234.9h4.8v4.9h-4.8zM124.8 239.5h4.8v4.9h-4.8zM124.8 244.1h4.8v4.9h-4.8zM124.8 248.8h4.8v4.9h-4.8zM124.8 253.4h4.8v4.9h-4.8zM124.8 258.0h4.8v4.9h-4.8zM133.9 271.9h4.8v4.9h-4.8zM133.9 276.5h4.8v4.9h-4.8zM133.9 281.1h4.8v4.9h-4.8zM133.9 285.8h4.8v4.9h-4.8zM133.9 290.4h4.8v4.9h-4.8zM133.9 295.0h4.8v4.9h-4.8zM142.9 308.9h4.8v4.9h-4.8zM142.9 313.5h4.8v4.9h-4.8z"/><path fill="#0cfff3" d="M115.7 188.6h4.8v4.9h-4.8z"/><path fill="#83ff7c" d="M120.3 188.6h4.8v4.9h-4.8zM120.3 197.9h4.8v4.9h-4.8zM142.9 225.6h4.8v4.9h-4.8zM170.1 281.1h4.8v4.9h-4.8z"/><path fill="#0000bf" d="M47.7 193.2h13.9v4.9h-13.9zM47.7 197.9h4.8v4.9h-4.8zM38.7 202.5h13.9v4.9h-13.9zM38.7 207.1h13.9v4.9h-13.9zM38.7 211.8h13.9v4.9h-13.9zM38.7 216.4h4.8v4.9h-4.8zM38.7 221.0h4.8v4.9h-4.8zM38.7 225.6h4.8v4.9h-4.8zM38.7 230.2h4.8v4.9h-4.8zM38.7 234.9h4.8v4.9h-4.8zM38.7 239.5h4.8v4.9h-4.8zM38.7 244.1h4.8v4.9h-4.8zM38.7 248.8h4.8v4.9h-4.8zM38.7 253.4h4.8v4.9h-4.8zM38.7 258.0h4.8v4.9h-4.8zM38.7 262.6h4.8v4.9h-4.8zM38.7 267.2h4.8v4.9h-4.8zM38.7 271.9h4.8v4.9h-4.8zM38.7 276.5h4.8v4.9h-4.8zM38.7 281.1h4.8v4.9h-4.8zM56.8 318.1h4.8v4.9h-4.8zM84.0 336.6h4.8v4.9h-4.8z"/><path fill="#0000cf" d="M61.3 193.2h4.8v4.9h-4.8zM52.3 207.1h4.8v4.9h-4.8zM52.3 211.8h4.8v4.9h-4.8zM43.2 225.6h4.8v4.9h-4.8zM43.2 230.2h4.8v4.9h-4.8zM43.2 234.9h4.8v4.9h-4.8zM43.2 239.5h4.8v4.9h-4.8zM43.2 244.1h4.8v4.9h-4.8zM43.2 248.8h4.8v4.9h-4.8zM43.2 253.4h4.8v4.9h-4.8zM43.2 258.0h4.8v4.9h-4.8zM43.2 262.6h4.8v4.9h-4.8zM43.2 267.2h4.8v4.9h-4.8zM56.8 313.5h4.8v4.9h-4.8z"/><path fill="#0000ef" d="M65.9 193.2h4.8v4.9h-4.8zM56.8 207.1h4.8v4.9h-4.8zM56.8 211.8h4.8v4.9h-4.8zM47.7 225.6h4.8v4.9h-4.8zM47.7 230.2h4.8v4.9h-4.8zM47.7 234.9h4.8v4.9h-4.8zM47.7 239.5h4.8v4.9h-4.8zM47.7 244.1h4.8v4.9h-4.8zM47.7 248.8h4.8v4.9h-4.8zM47.7 253.4h4.8v4.9h-4.8zM47.7 258.0h4.8v4.9h-4.8zM47.7 262.6h4.8v4.9h-4.8zM47.7 267.2h4.8v4.9h-4.8zM56.8 308.9h4.8v4.9h-4.8z"/><path fill="#004dff" d="M74.9 193.2h4.8v4.9h-4.8zM84.0 327.4h4.8v4.9h-4.8z"/><path fill="#0060ff" d="M79.5 193.2h9.4v4.9h-9.4zM74.9 197.9h4.8v4.9h-4.8zM74.9 202.5h4.8v4.9h-4.8zM74.9 207.1h4.8v4.9h-4.8zM74.9 211.8h4.8v4.9h-4.8zM74.9 216.4h4.8v4.9h-4.8zM74.9 221.0h4.8v4.9h-4.8zM74.9 271.9h4.8v4.9h-4.8zM74.9 276.5h4.8v4.9h-4.8zM74.9 318.1h4.8v4.9h-4.8zM124.8 332.0h4.8v4.9h-4.8z"/><path fill="#0064ff" d="M88.5 193.2h4.8v4.9h-4.8zM74.9 225.6h4.8v4.9h-4.8zM74.9 267.2h4.8v4.9h-4.8zM74.9 281.1h4.8v4.9h-4.8zM74.9 304.2h4.8v4.9h-4.8zM74.9 308.9h4.8v4.9h-4.8zM120.3 327.4h4.8v4.9h-4.8z"/><path fill="#006cff" d="M93.1 193.2h4.8v4.9h-4.8zM74.9 230.2h4.8v4.9h-4.8zM74.9 262.6h4.8v4.9h-4.8zM74.9 285.8h4.8v4.9h-4.8zM74.9 299.6h4.8v4.9h-4.8zM74.9 313.5h4.8v4.9h-4.8z"/><path fill="#007cff" d="M102.1 193.2h4.8v4.9h-4.8zM84.0 318.1h4.8v4.9h-4.8zM120.3 318.1h4.8v4.9h-4.8z"/><path fill="#00efff" d="M111.2 193.2h4.8v4.9h-4.8zM111.2 207.1h4.8v4.9h-4.8zM115.7 211.8h4.8v4.9h-4.8zM129.3 234.9h4.8v4.9h-4.8zM129.3 239.5h4.8v4.9h-4.8zM129.3 244.1h4.8v4.9h-4.8zM129.3 248.8h4.8v4.9h-4.8zM129.3 253.4h4.8v4.9h-4.8zM129.3 258.0h4.8v4.9h-4.8zM138.4 271.9h4.8v4.9h-4.8zM138.4 276.5h4.8v4.9h-4.8zM138.4 281.1h4.8v4.9h-4.8zM138.4 285.8h4.8v4.9h-4.8zM138.4 290.4h4.8v4.9h-4.8zM138.4 295.0h4.8v4.9h-4.8zM147.5 308.9h4.8v4.9h-4.8zM147.5 313.5h4.8v4.9h-4.8z"/><path fill="#24ffdb" d="M115.7 193.2h4.8v4.9h-4.8zM115.7 202.5h4.8v4.9h-4.8z"/><path fill="#8bff74" d="M120.3 193.2h4.8v4.9h-4.8zM133.9 216.4h4.8v4.9h-4.8zM138.4 221.0h4.8v4.9h-4.8zM174.7 281.1h4.8v4.9h-4.8zM170.1 285.8h4.8v4.9h-4.8z"/><path fill="#0000c3" d="M52.3 197.9h4.8v4.9h-4.8zM43.2 216.4h4.8v4.9h-4.8zM43.2 276.5h4.8v4.9h-4.8z"/><path fill="#0000cb" d="M56.8 197.9h4.8v4.9h-4.8zM52.3 202.5h4.8v4.9h-4.8zM47.7 216.4h4.8v4.9h-4.8zM43.2 221.0h4.8v4.9h-4.8zM43.2 271.9h4.8v4.9h-4.8zM47.7 276.5h4.8v4.9h-4.8z"/><path fill="#0000db" d="M61.3 197.9h4.8v4.9h-4.8zM52.3 216.4h4.8v4.9h-4.8zM52.3 276.5h4.8v4.9h-4.8zM52.3 281.1h4.8v4.9h-4.8z"/><path fill="#0000f3" d="M65.9 197.9h4.8v4.9h-4.8zM61.3 202.5h4.8v4.9h-4.8zM56.8 216.4h4.8v4.9h-4.8zM52.3 221.0h4.8v4.9h-4.8zM52.3 271.9h4.8v4.9h-4.8zM56.8 276.5h4.8v4.9h-4.8zM56.8 281.1h4.8v4.9h-4.8zM52.3 285.8h4.8v4.9h-4.8z"/><path fill="#2cffd3" d="M115.7 197.9h4.8v4.9h-4.8zM142.9 267.2h4.8v4.9h-4.8z"/><path fill="#ebff14" d="M124.8 197.9h4.8v4.9h-4.8zM170.1 216.4h4.8v4.9h-4.8zM174.7 271.9h4.8v4.9h-4.8zM183.7 271.9h4.8v4.9h-4.8zM174.7 299.6h4.8v4.9h-4.8zM170.1 318.1h4.8v4.9h-4.8z"/><path fill="#ff9b00" d="M129.3 197.9h4.8v4.9h-4.8zM156.5 253.4h4.8v4.9h-4.8zM174.7 332.0h4.8v4.9h-4.8zM174.7 341.2h4.8v4.9h-4.8z"/><path fill="#ff6c00" d="M133.9 197.9h4.8v4.9h-4.8zM183.7 299.6h4.8v4.9h-4.8z"/><path fill="#ff8300" d="M138.4 197.9h4.8v4.9h-4.8zM161.1 258.0h4.8v4.9h-4.8z"/><path fill="#ffaf00" d="M142.9 197.9h4.8v4.9h-4.8zM170.1 207.1h4.8v4.9h-4.8zM188.3 230.2h4.8v4.9h-4.8zM161.1 248.8h4.8v4.9h-4.8zM161.1 267.2h9.4v4.9h-9.4z"/><path fill="#fbff04" d="M152.0 197.9h4.8v4.9h-4.8zM174.7 230.2h4.8v4.9h-4.8z"/><path fill="#ffeb00" d="M156.5 197.9h4.8v4.9h-4.8zM174.7 225.6h4.8v4.9h-4.8zM174.7 253.4h4.8v4.9h-4.8zM174.7 267.2h4.8v4.9h-4.8zM179.2 295.0h4.8v4.9h-4.8zM183.7 327.4h4.8v4.9h-4.8zM165.6 332.0h4.8v4.9h-4.8z"/><path fill="#ffbf00" d="M161.1 197.9h4.8v4.9h-4.8zM165.6 202.5h4.8v4.9h-4.8zM179.2 225.6h4.8v4.9h-4.8zM183.7 230.2h4.8v4.9h-4.8z"/><path fill="#ff4800" d="M170.1 197.9h4.8v4.9h-4.8z"/><path fill="#ff1800" d="M174.7 197.9h4.8v4.9h-4.8z"/><path fill="#0000e3" d="M56.8 202.5h4.8v4.9h-4.8zM47.7 221.0h4.8v4.9h-4.8zM47.7 271.9h4.8v4.9h-4.8z"/><path fill="#0000fb" d="M65.9 202.5h4.8v4.9h-4.8zM56.8 221.0h4.8v4.9h-4.8zM56.8 271.9h4.8v4.9h-4.8zM56.8 285.8h4.8v4.9h-4.8z"/><path fill="#6cff93" d="M120.3 202.5h4.8v4.9h-4.8zM142.9 230.2h4.8v4.9h-4.8zM142.9 248.8h4.8v4.9h-4.8z"/><path fill="#c3ff3c" d="M124.8 202.5h4.8v4.9h-4.8zM138.4 216.4h4.8v4.9h-4.8zM147.5 248.8h4.8v4.9h-4.8zM183.7 276.5h4.8v4.9h-4.8z"/><path fill="#ffd300" d="M129.3 202.5h4.8v4.9h-4.8zM174.7 221.0h4.8v4.9h-4.8zM152.0 253.4h4.8v4.9h-4.8zM174.7 322.8h4.8v4.9h-4.8zM170.1 341.2h4.8v4.9h-4.8z"/><path fill="#ffa300" d="M133.9 202.5h4.8v4.9h-4.8zM165.6 253.4h4.8v4.9h-4.8zM183.7 295.0h4.8v4.9h-4.8z"/><path fill="#ffab00" d="M138.4 202.5h4.8v4.9h-4.8zM170.1 258.0h4.8v4.9h-4.8zM156.5 262.6h4.8v4.9h-4.8zM170.1 262.6h4.8v4.9h-4.8zM179.2 304.2h4.8v4.9h-4.8zM179.2 332.0h4.8v4.9h-4.8z"/><path fill="#efff10" d="M147.5 202.5h4.8v4.9h-4.8zM142.9 211.8h4.8v4.9h-4.8zM174.7 234.9h4.8v4.9h-4.8zM174.7 239.5h4.8v4.9h-4.8zM165.6 244.1h4.8v4.9h-4.8zM188.3 271.9h4.8v4.9h-4.8zM165.6 345.9h4.8v4.9h-4.8z"/><path fill="#d3ff2c" d="M152.0 202.5h4.8v4.9h-4.8zM170.1 230.2h4.8v4.9h-4.8zM174.7 295.0h4.8v4.9h-4.8zM161.1 327.4h4.8v4.9h-4.8z"/><path fill="#dbff24" d="M156.5 202.5h4.8v4.9h-4.8zM170.1 225.6h4.8v4.9h-4.8zM147.5 253.4h4.8v4.9h-4.8zM156.5 271.9h4.8v4.9h-4.8zM179.2 290.4h4.8v4.9h-4.8z"/><path fill="#ff7800" d="M170.1 202.5h4.8v4.9h-4.8z"/><path fill="#ff2800" d="M174.7 202.5h4.8v4.9h-4.8z"/><path fill="#10ffef" d="M115.7 207.1h4.8v4.9h-4.8zM133.9 234.9h4.8v4.9h-4.8zM133.9 239.5h4.8v4.9h-4.8zM133.9 244.1h4.8v4.9h-4.8zM133.9 248.8h4.8v4.9h-4.8zM133.9 253.4h4.8v4.9h-4.8zM133.9 258.0h4.8v4.9h-4.8zM142.9 271.9h4.8v4.9h-4.8zM142.9 276.5h4.8v4.9h-4.8zM142.9 281.1h4.8v4.9h-4.8zM142.9 285.8h4.8v4.9h-4.8zM142.9 290.4h4.8v4.9h-4.8zM142.9 295.0h4.8v4.9h-4.8zM142.9 327.4h4.8v4.9h-4.8zM142.9 332.0h4.8v4.9h-4.8z"/><path fill="#50ffaf" d="M120.3 207.1h4.8v4.9h-4.8zM152.0 281.1h4.8v4.9h-4.8zM152.0 285.8h4.8v4.9h-4.8zM152.0 290.4h4.8v4.9h-4.8zM152.0 295.0h4.8v4.9h-4.8zM152.0 322.8h4.8v4.9h-4.8z"/><path fill="#97ff68" d="M124.8 207.1h4.8v4.9h-4.8zM129.3 211.8h4.8v4.9h-4.8z"/><path fill="#e7ff18" d="M129.3 207.1h4.8v4.9h-4.8zM170.1 244.1h4.8v4.9h-4.8z"/><path fill="#ffe700" d="M133.9 207.1h4.8v4.9h-4.8zM170.1 248.8h4.8v4.9h-4.8zM179.2 318.1h4.8v4.9h-4.8zM183.7 322.8h4.8v4.9h-4.8z"/><path fill="#ffd700" d="M138.4 207.1h4.8v4.9h-4.8zM183.7 318.1h4.8v4.9h-4.8zM179.2 322.8h4.8v4.9h-4.8z"/><path fill="#cfff30" d="M147.5 207.1h4.8v4.9h-4.8zM170.1 234.9h4.8v4.9h-4.8zM170.1 239.5h4.8v4.9h-4.8zM188.3 276.5h4.8v4.9h-4.8zM161.1 345.9h4.8v4.9h-4.8z"/><path fill="#b3ff4c" d="M152.0 207.1h4.8v4.9h-4.8zM156.5 211.8h4.8v4.9h-4.8zM156.5 216.4h4.8v4.9h-4.8zM152.0 221.0h4.8v4.9h-4.8zM156.5 225.6h9.4v4.9h-9.4zM152.0 230.2h4.8v4.9h-4.8zM165.6 230.2h4.8v4.9h-4.8zM152.0 267.2h4.8v4.9h-4.8zM183.7 281.1h4.8v4.9h-4.8zM179.2 285.8h4.8v4.9h-4.8z"/><path fill="#bbff44" d="M156.5 207.1h4.8v4.9h-4.8zM156.5 221.0h4.8v4.9h-4.8zM152.0 225.6h4.8v4.9h-4.8zM165.6 225.6h4.8v4.9h-4.8zM183.7 285.8h4.8v4.9h-4.8zM174.7 290.4h4.8v4.9h-4.8zM161.1 332.0h4.8v4.9h-4.8z"/><path fill="#d7ff28" d="M161.1 207.1h4.8v4.9h-4.8zM165.6 211.8h4.8v4.9h-4.8zM156.5 239.5h9.4v4.9h-9.4z"/><path fill="#fff700" d="M165.6 207.1h4.8v4.9h-4.8zM174.7 248.8h4.8v4.9h-4.8zM174.7 308.9h4.8v4.9h-4.8zM165.6 336.6h4.8v4.9h-4.8z"/><path fill="#ff1c00" d="M179.2 207.1h4.8v4.9h-4.8z"/><path fill="#ff1400" d="M183.7 207.1h4.8v4.9h-4.8z"/><path fill="#30ffcf" d="M120.3 211.8h4.8v4.9h-4.8zM138.4 234.9h4.8v4.9h-4.8zM138.4 239.5h4.8v4.9h-4.8zM138.4 244.1h4.8v4.9h-4.8zM138.4 248.8h4.8v4.9h-4.8zM138.4 253.4h4.8v4.9h-4.8zM138.4 258.0h4.8v4.9h-4.8zM147.5 271.9h4.8v4.9h-4.8zM147.5 276.5h4.8v4.9h-4.8zM147.5 281.1h4.8v4.9h-4.8zM147.5 285.8h4.8v4.9h-4.8zM147.5 290.4h4.8v4.9h-4.8zM147.5 295.0h4.8v4.9h-4.8zM152.0 318.1h4.8v4.9h-4.8zM147.5 327.4h4.8v4.9h-4.8zM147.5 332.0h4.8v4.9h-4.8z"/><path fill="#68ff97" d="M124.8 211.8h4.8v4.9h-4.8z"/><path fill="#c7ff38" d="M133.9 211.8h4.8v4.9h-4.8zM161.1 211.8h4.8v4.9h-4.8zM152.0 239.5h4.8v4.9h-4.8zM165.6 239.5h4.8v4.9h-4.8zM170.1 313.5h4.8v4.9h-4.8zM161.1 341.2h4.8v4.9h-4.8z"/><path fill="#f7ff08" d="M138.4 211.8h4.8v4.9h-4.8zM174.7 244.1h4.8v4.9h-4.8zM174.7 313.5h4.8v4.9h-4.8zM165.6 341.2h4.8v4.9h-4.8z"/><path fill="#afff50" d="M147.5 211.8h4.8v4.9h-4.8zM161.1 276.5h9.4v4.9h-9.4zM156.5 345.9h4.8v4.9h-4.8z"/><path fill="#9bff64" d="M152.0 211.8h4.8v4.9h-4.8zM152.0 216.4h4.8v4.9h-4.8zM156.5 230.2h9.4v4.9h-9.4zM179.2 281.1h4.8v4.9h-4.8zM170.1 295.0h4.8v4.9h-4.8z"/><path fill="#ff8f00" d="M174.7 211.8h4.8v4.9h-4.8zM188.3 225.6h4.8v4.9h-4.8zM161.1 262.6h9.4v4.9h-9.4z"/><path fill="#ff5400" d="M179.2 211.8h4.8v4.9h-4.8z"/><path fill="#ff3c00" d="M183.7 211.8h4.8v4.9h-4.8z"/><path fill="#00dbff" d="M115.7 216.4h4.8v4.9h-4.8z"/><path fill="#14ffeb" d="M120.3 216.4h4.8v4.9h-4.8zM152.0 308.9h4.8v4.9h-4.8zM142.9 336.6h4.8v4.9h-4.8z"/><path fill="#40ffbf" d="M124.8 216.4h4.8v4.9h-4.8zM129.3 221.0h4.8v4.9h-4.8zM133.9 225.6h4.8v4.9h-4.8zM138.4 230.2h4.8v4.9h-4.8zM152.0 299.6h4.8v4.9h-4.8zM156.5 304.2h4.8v4.9h-4.8z"/><path fill="#60ff9f" d="M129.3 216.4h4.8v4.9h-4.8zM138.4 225.6h4.8v4.9h-4.8zM142.9 234.9h4.8v4.9h-4.8zM142.9 239.5h4.8v4.9h-4.8zM156.5 299.6h4.8v4.9h-4.8zM161.1 308.9h4.8v4.9h-4.8zM152.0 336.6h4.8v4.9h-4.8zM147.5 345.9h4.8v4.9h-4.8z"/><path fill="#cbff34" d="M142.9 216.4h4.8v4.9h-4.8zM147.5 262.6h4.8v4.9h-4.8zM165.6 318.1h4.8v4.9h-4.8zM161.1 322.8h4.8v4.9h-4.8z"/><path fill="#a3ff5c" d="M147.5 216.4h4.8v4.9h-4.8zM142.9 221.0h4.8v4.9h-4.8zM147.5 230.2h4.8v4.9h-4.8zM174.7 276.5h4.8v4.9h-4.8zM174.7 285.8h4.8v4.9h-4.8zM170.1 299.6h4.8v4.9h-4.8zM161.1 318.1h4.8v4.9h-4.8z"/><path fill="#bfff40" d="M161.1 216.4h9.4v4.9h-9.4zM161.1 221.0h9.4v4.9h-9.4zM188.3 281.1h4.8v4.9h-4.8zM188.3 285.8h4.8v4.9h-4.8z"/><path fill="#ffbb00" d="M174.7 216.4h4.8v4.9h-4.8zM156.5 248.8h4.8v4.9h-4.8zM152.0 258.0h4.8v4.9h-4.8zM170.1 327.4h4.8v4.9h-4.8zM170.1 336.6h4.8v4.9h-4.8z"/><path fill="#00d3ff" d="M115.7 221.0h4.8v4.9h-4.8z"/><path fill="#00fbff" d="M120.3 221.0h4.8v4.9h-4.8z"/><path fill="#20ffdf" d="M124.8 221.0h4.8v4.9h-4.8zM129.3 225.6h4.8v4.9h-4.8zM133.9 230.2h4.8v4.9h-4.8zM138.4 262.6h4.8v4.9h-4.8zM147.5 299.6h4.8v4.9h-4.8zM152.0 304.2h4.8v4.9h-4.8zM147.5 322.8h4.8v4.9h-4.8zM142.9 345.9h4.8v4.9h-4.8z"/><path fill="#64ff9b" d="M133.9 221.0h4.8v4.9h-4.8zM142.9 244.1h4.8v4.9h-4.8zM142.9 262.6h4.8v4.9h-4.8zM147.5 267.2h4.8v4.9h-4.8z"/><path fill="#abff54" d="M147.5 221.0h4.8v4.9h-4.8zM147.5 225.6h4.8v4.9h-4.8zM147.5 244.1h4.8v4.9h-4.8zM170.1 276.5h4.8v4.9h-4.8zM179.2 276.5h4.8v4.9h-4.8zM170.1 304.2h4.8v4.9h-4.8z"/><path fill="#e3ff1c" d="M170.1 221.0h4.8v4.9h-4.8zM152.0 244.1h4.8v4.9h-4.8zM179.2 271.9h4.8v4.9h-4.8z"/><path fill="#0004ff" d="M61.3 225.6h4.8v4.9h-4.8zM61.3 267.2h4.8v4.9h-4.8zM61.3 281.1h4.8v4.9h-4.8zM52.3 290.4h4.8v4.9h-4.8z"/><path fill="#000cff" d="M65.9 225.6h4.8v4.9h-4.8zM61.3 230.2h4.8v4.9h-4.8zM61.3 262.6h4.8v4.9h-4.8zM65.9 267.2h4.8v4.9h-4.8zM65.9 281.1h4.8v4.9h-4.8zM61.3 285.8h4.8v4.9h-4.8zM56.8 290.4h4.8v4.9h-4.8zM52.3 295.0h4.8v4.9h-4.8z"/><path fill="#00cbff" d="M115.7 225.6h4.8v4.9h-4.8zM120.3 230.2h4.8v4.9h-4.8zM124.8 262.6h4.8v4.9h-4.8zM129.3 267.2h4.8v4.9h-4.8zM133.9 299.6h4.8v4.9h-4.8zM138.4 304.2h4.8v4.9h-4.8zM138.4 318.1h4.8v4.9h-4.8zM133.9 322.8h4.8v4.9h-4.8z"/><path fill="#00e3ff" d="M120.3 225.6h4.8v4.9h-4.8zM129.3 262.6h4.8v4.9h-4.8zM138.4 299.6h4.8v4.9h-4.8zM138.4 322.8h4.8v4.9h-4.8zM138.4 332.0h4.8v4.9h-4.8z"/><path fill="#0024ff" d="M65.9 230.2h4.8v4.9h-4.8zM65.9 262.6h4.8v4.9h-4.8zM65.9 285.8h4.8v4.9h-4.8zM56.8 295.0h4.8v4.9h-4.8z"/><path fill="#00c3ff" d="M115.7 230.2h4.8v4.9h-4.8zM124.8 267.2h4.8v4.9h-4.8zM133.9 304.2h4.8v4.9h-4.8zM133.9 318.1h4.8v4.9h-4.8zM133.9 327.4h4.8v4.9h-4.8z"/><path fill="#00dfff" d="M124.8 230.2h4.8v4.9h-4.8zM133.9 267.2h4.8v4.9h-4.8zM142.9 304.2h4.8v4.9h-4.8zM142.9 318.1h4.8v4.9h-4.8zM138.4 336.6h4.8v4.9h-4.8zM138.4 341.2h4.8v4.9h-4.8zM138.4 345.9h4.8v4.9h-4.8z"/><path fill="#9fff60" d="M147.5 234.9h4.8v4.9h-4.8zM147.5 239.5h4.8v4.9h-4.8zM165.6 313.5h4.8v4.9h-4.8zM156.5 341.2h4.8v4.9h-4.8z"/><path fill="#b7ff48" d="M152.0 234.9h4.8v4.9h-4.8zM165.6 234.9h4.8v4.9h-4.8zM170.1 308.9h4.8v4.9h-4.8zM161.1 336.6h4.8v4.9h-4.8z"/><path fill="#a7ff58" d="M156.5 234.9h9.4v4.9h-9.4z"/><path fill="#fff300" d="M179.2 234.9h4.8v4.9h-4.8zM183.7 239.5h4.8v4.9h-4.8zM156.5 244.1h4.8v4.9h-4.8zM152.0 248.8h4.8v4.9h-4.8z"/><path fill="#ffdb00" d="M183.7 234.9h4.8v4.9h-4.8zM179.2 313.5h4.8v4.9h-4.8zM170.1 322.8h4.8v4.9h-4.8z"/><path fill="#fffb00" d="M179.2 239.5h4.8v4.9h-4.8zM170.1 271.9h4.8v4.9h-4.8zM174.7 304.2h4.8v4.9h-4.8zM174.7 318.1h4.8v4.9h-4.8zM165.6 322.8h4.8v4.9h-4.8z"/><path fill="#74ff8b" d="M142.9 253.4h4.8v4.9h-4.8zM152.0 271.9h4.8v4.9h-4.8zM161.1 299.6h4.8v4.9h-4.8zM165.6 304.2h4.8v4.9h-4.8z"/><path fill="#ff8b00" d="M161.1 253.4h4.8v4.9h-4.8zM165.6 258.0h4.8v4.9h-4.8z"/><path fill="#ffc300" d="M170.1 253.4h4.8v4.9h-4.8zM170.1 267.2h4.8v4.9h-4.8zM179.2 299.6h4.8v4.9h-4.8zM179.2 327.4h4.8v4.9h-4.8z"/><path fill="#7cff83" d="M142.9 258.0h4.8v4.9h-4.8zM165.6 299.6h4.8v4.9h-4.8zM156.5 332.0h4.8v4.9h-4.8z"/><path fill="#f3ff0c" d="M147.5 258.0h4.8v4.9h-4.8zM183.7 290.4h4.8v4.9h-4.8z"/><path fill="#ff9300" d="M156.5 258.0h4.8v4.9h-4.8zM174.7 336.6h4.8v4.9h-4.8z"/><path fill="#ffe300" d="M174.7 258.0h4.8v4.9h-4.8zM152.0 262.6h4.8v4.9h-4.8zM174.7 262.6h4.8v4.9h-4.8zM156.5 267.2h4.8v4.9h-4.8zM165.6 327.4h4.8v4.9h-4.8zM183.7 332.0h4.8v4.9h-4.8z"/><path fill="#0083ff" d="M97.6 262.6h4.8v4.9h-4.8zM97.6 304.2h4.8v4.9h-4.8zM115.7 304.2h4.8v4.9h-4.8z"/><path fill="#008bff" d="M102.1 262.6h4.8v4.9h-4.8zM97.6 267.2h4.8v4.9h-4.8zM97.6 299.6h4.8v4.9h-4.8zM115.7 299.6h4.8v4.9h-4.8zM102.1 304.2h4.8v4.9h-4.8zM120.3 304.2h4.8v4.9h-4.8z"/><path fill="#008fff" d="M106.7 262.6h4.8v4.9h-4.8zM97.6 271.9h4.8v4.9h-4.8zM97.6 276.5h4.8v4.9h-4.8zM97.6 281.1h4.8v4.9h-4.8zM97.6 285.8h4.8v4.9h-4.8zM111.2 285.8h4.8v4.9h-4.8zM97.6 290.4h4.8v4.9h-4.8zM115.7 290.4h4.8v4.9h-4.8zM97.6 295.0h4.8v4.9h-4.8zM115.7 295.0h4.8v4.9h-4.8zM106.7 304.2h4.8v4.9h-4.8zM124.8 308.9h4.8v4.9h-4.8zM124.8 313.5h4.8v4.9h-4.8zM124.8 318.1h4.8v4.9h-4.8zM124.8 322.8h4.8v4.9h-4.8z"/><path fill="#00a3ff" d="M102.1 267.2h4.8v4.9h-4.8zM102.1 299.6h4.8v4.9h-4.8zM120.3 299.6h4.8v4.9h-4.8z"/><path fill="#00afff" d="M106.7 267.2h4.8v4.9h-4.8zM102.1 271.9h4.8v4.9h-4.8zM102.1 276.5h4.8v4.9h-4.8zM102.1 281.1h4.8v4.9h-4.8zM111.2 281.1h4.8v4.9h-4.8zM102.1 285.8h4.8v4.9h-4.8zM102.1 290.4h4.8v4.9h-4.8zM120.3 290.4h4.8v4.9h-4.8zM102.1 295.0h4.8v4.9h-4.8zM120.3 295.0h4.8v4.9h-4.8zM106.7 299.6h4.8v4.9h-4.8zM129.3 308.9h4.8v4.9h-4.8zM129.3 313.5h4.8v4.9h-4.8zM129.3 318.1h4.8v4.9h-4.8zM129.3 322.8h4.8v4.9h-4.8z"/><path fill="#5cffa3" d="M152.0 276.5h4.8v4.9h-4.8zM161.1 304.2h4.8v4.9h-4.8zM152.0 327.4h4.8v4.9h-4.8z"/><path fill="#93ff6c" d="M156.5 276.5h4.8v4.9h-4.8zM170.1 290.4h4.8v4.9h-4.8zM156.5 327.4h4.8v4.9h-4.8z"/><path fill="#0000c4" d="M43.2 281.1h4.8v4.9h-4.8z"/><path fill="#0000cc" d="M47.7 281.1h4.8v4.9h-4.8z"/><path fill="#00b3ff" d="M115.7 281.1h4.8v4.9h-4.8zM120.3 285.8h4.8v4.9h-4.8zM124.8 299.6h4.8v4.9h-4.8zM129.3 304.2h4.8v4.9h-4.8z"/><path fill="#00bbff" d="M120.3 281.1h4.8v4.9h-4.8zM129.3 299.6h4.8v4.9h-4.8z"/><path fill="#70ff8f" d="M156.5 281.1h4.8v4.9h-4.8zM156.5 285.8h4.8v4.9h-4.8zM156.5 290.4h4.8v4.9h-4.8zM156.5 295.0h4.8v4.9h-4.8zM156.5 318.1h4.8v4.9h-4.8z"/><path fill="#0000eb" d="M47.7 285.8h4.8v4.9h-4.8z"/><path fill="#009bff" d="M115.7 285.8h4.8v4.9h-4.8zM124.8 304.2h4.8v4.9h-4.8z"/><path fill="#001cff" d="M61.3 290.4h4.8v4.9h-4.8z"/><path fill="#0034ff" d="M65.9 290.4h4.8v4.9h-4.8zM61.3 295.0h4.8v4.9h-4.8z"/><path fill="#003cff" d="M65.9 295.0h4.8v4.9h-4.8z"/><path fill="#000fff" d="M52.3 299.6h4.8v4.9h-4.8zM56.8 304.2h4.8v4.9h-4.8z"/><path fill="#0026ff" d="M56.8 299.6h4.8v4.9h-4.8z"/><path fill="#ff4000" d="M188.3 299.6h4.8v4.9h-4.8zM188.3 304.2h4.8v4.9h-4.8z"/><path fill="#ff6400" d="M183.7 304.2h4.8v4.9h-4.8z"/><path fill="#0000f7" d="M61.3 308.9h4.8v4.9h-4.8z"/><path fill="#0008ff" d="M65.9 308.9h4.8v4.9h-4.8zM88.5 332.0h4.8v4.9h-4.8z"/><path fill="#3cffc3" d="M156.5 308.9h4.8v4.9h-4.8zM147.5 336.6h4.8v4.9h-4.8z"/><path fill="#ffb300" d="M179.2 308.9h4.8v4.9h-4.8zM183.7 313.5h4.8v4.9h-4.8zM174.7 327.4h4.8v4.9h-4.8zM170.1 332.0h4.8v4.9h-4.8z"/><path fill="#ff7c00" d="M183.7 308.9h4.8v4.9h-4.8z"/><path fill="#0000e7" d="M61.3 313.5h4.8v4.9h-4.8z"/><path fill="#0018ff" d="M65.9 313.5h4.8v4.9h-4.8z"/><path fill="#1cffe3" d="M152.0 313.5h4.8v4.9h-4.8zM142.9 341.2h4.8v4.9h-4.8z"/><path fill="#54ffab" d="M156.5 313.5h4.8v4.9h-4.8zM152.0 332.0h4.8v4.9h-4.8zM147.5 341.2h4.8v4.9h-4.8z"/><path fill="#0000e2" d="M61.3 318.1h4.8v4.9h-4.8z"/><path fill="#001aff" d="M65.9 318.1h4.8v4.9h-4.8z"/><path fill="#0040ff" d="M70.4 318.1h4.8v4.9h-4.8zM74.9 322.8h4.8v4.9h-4.8zM111.2 327.4h4.8v4.9h-4.8zM111.2 332.0h4.8v4.9h-4.8zM97.6 336.6h27.5v4.9h-27.5zM111.2 341.2h13.9v4.9h-13.9zM111.2 345.9h13.9v4.9h-13.9z"/><path fill="#000aff" d="M65.9 322.8h4.8v4.9h-4.8z"/><path fill="#8fff70" d="M156.5 322.8h4.8v4.9h-4.8zM152.0 345.9h4.8v4.9h-4.8z"/><path fill="#0045ff" d="M79.5 327.4h4.8v4.9h-4.8z"/><path fill="#0058ff" d="M88.5 327.4h4.8v4.9h-4.8z"/><path fill="#0068ff" d="M93.1 327.4h4.8v4.9h-4.8z"/><path fill="#004cff" d="M115.7 327.4h4.8v4.9h-4.8zM120.3 332.0h4.8v4.9h-4.8z"/><path fill="#009fff" d="M129.3 327.4h4.8v4.9h-4.8zM133.9 336.6h4.8v4.9h-4.8zM133.9 341.2h4.8v4.9h-4.8zM133.9 345.9h4.8v4.9h-4.8z"/><path fill="#00ebff" d="M138.4 327.4h4.8v4.9h-4.8z"/><path fill="#0000f5" d="M84.0 332.0h4.8v4.9h-4.8z"/><path fill="#0038ff" d="M93.1 332.0h4.8v4.9h-4.8z"/><path fill="#00abff" d="M133.9 332.0h4.8v4.9h-4.8z"/><path fill="#0000df" d="M88.5 336.6h4.8v4.9h-4.8z"/><path fill="#000080" d="M111.2 184.0H126.3V193.9H111.2zM126.3 184.0H133.9V195.2H126.3zM133.9 184.0H147.7V197.0H133.9zM147.7 184.0H160.2V199.0H147.7zM160.2 184.0H171.5V199.6H160.2zM171.5 184.0H192.8V207.7H171.5zM111.2 346.6H133.9V350.5H111.2zM133.9 344.1H152.7V350.5H133.9zM152.7 346.6H166.5V350.5H152.7zM166.5 342.8H175.3V350.5H166.5zM175.3 338.4H186.6V350.5H175.3zM186.6 335.3H189.7V350.5H186.6zM189.7 329.6H192.8V350.5H189.7z"/><circle cx="112.7" cy="267.7" r="18.2" fill="none" stroke="#000" stroke-width="1.6"/><circle cx="112.7" cy="267.7" r="36.5" fill="none" stroke="#000" stroke-width="1.5"/><circle cx="112.7" cy="267.7" r="54.6" fill="none" stroke="#000" stroke-width="1.2"/><circle cx="112.7" cy="267.7" r="72.8" fill="none" stroke="#000" stroke-width="1.1"/><circle cx="112.7" cy="268.0" r="0.9" fill="#000"/><g font-size="16" stroke-width="0.35"><text x="33.1" y="200.2" fill="#fff" stroke="#fff" text-anchor="start">500.1nm</text><text x="114.5" y="196.7" fill="#fff" stroke="#fff" text-anchor="middle">N</text><text x="31.8" y="271.2" fill="#fff" stroke="#fff" text-anchor="start">E</text><text x="111.5" y="349.8" fill="#fff" stroke="#fff" text-anchor="start">S</text><text x="142.5" y="199.7" fill="#fff" stroke="#fff" text-anchor="start">50</text><text x="132.9" y="214.9" fill="#000" stroke="#000" text-anchor="start">60</text><text x="125.0" y="231.4" fill="#000" stroke="#000" text-anchor="start">70</text><text x="118.0" y="248.9" fill="#000" stroke="#000" text-anchor="start">80</text><text x="110.4" y="265.4" fill="#000" stroke="#000" text-anchor="start">90</text></g><g font-size="16" stroke-width="0.35"><text x="182.5" y="270.9" fill="#fff" stroke="#fff" text-anchor="start">W</text></g><path d="M38.8 184.0v2.2M38.8 350.5v-2.2M47.9 184.0v2.2M47.9 350.5v-2.2M57.1 184.0v2.2M57.1 350.5v-2.2M66.3 184.0v2.2M66.3 350.5v-2.2M75.4 184.0v2.2M75.4 350.5v-2.2M84.6 184.0v2.2M84.6 350.5v-2.2M93.8 184.0v2.2M93.8 350.5v-2.2M102.9 184.0v2.2M102.9 350.5v-2.2M112.1 184.0v2.2M112.1 350.5v-2.2M121.3 184.0v2.2M121.3 350.5v-2.2M130.4 184.0v2.2M130.4 350.5v-2.2M139.6 184.0v2.2M139.6 350.5v-2.2M148.8 184.0v2.2M148.8 350.5v-2.2M157.9 184.0v2.2M157.9 350.5v-2.2M167.1 184.0v2.2M167.1 350.5v-2.2M176.3 184.0v2.2M176.3 350.5v-2.2M185.4 184.0v2.2M185.4 350.5v-2.2M29.6 193.2h2.2M29.6 202.3h2.2M29.6 211.5h2.2M29.6 220.7h2.2M29.6 229.8h2.2M29.6 239.0h2.2M29.6 248.2h2.2M29.6 257.3h2.2M29.6 266.5h2.2M29.6 275.7h2.2M29.6 284.8h2.2M29.6 294.0h2.2M29.6 303.2h2.2M29.6 312.3h2.2M29.6 321.5h2.2M29.6 330.7h2.2M29.6 339.8h2.2M29.6 349.0h2.2" stroke="#000" stroke-width="1" fill="none"/><rect x="192.8" y="184.0" width="3.3" height="166.5" fill="url(#jet)"/><path d="M196.1 341.13h-2.2M196.1 331.77h-2.2M196.1 322.40h-2.2M196.1 313.03h-2.2M196.1 303.67h-2.2M196.1 294.30h-2.2M196.1 284.93h-2.2M196.1 275.57h-2.2M196.1 266.20h-2.2M196.1 256.83h-2.2M196.1 247.47h-2.2M196.1 238.10h-2.2M196.1 228.73h-2.2M196.1 219.37h-2.2M196.1 210.00h-2.2M196.1 200.63h-2.2M196.1 191.27h-2.2" stroke="#000" stroke-width="0.9" fill="none"/><rect x="29.6" y="184.0" width="166.5" height="166.5" fill="none" stroke="#000" stroke-width="1"/><line x1="192.8" y1="184.0" x2="192.8" y2="350.5" stroke="#000" stroke-width="0.6"/><g font-size="16" fill="#000"><text x="198.4" y="211.8">1.5</text><text x="198.4" y="262.4">1.0</text><text x="199.9" y="311.4">0.5</text><text x="199.9" y="352.3">0</text></g><text font-size="16.3" transform="translate(227.0 278.5) rotate(-90)" x="0" y="5.5" text-anchor="middle">I (kR)</text><text font-size="21" x="-0.8" y="203.2">(d)</text><rect x="251.2" y="185.1" width="164.9" height="168.3" fill="#000080"/><path fill="#000080" d="M251.2 185.1h46.1v5.0h-46.1zM251.2 189.8h46.1v5.0h-46.1zM251.2 306.6h18.6v5.0h-18.6zM251.2 311.3h18.6v5.0h-18.6zM251.2 316.0h27.8v5.0h-27.8zM251.2 320.7h27.8v5.0h-27.8zM251.2 325.4h36.9v5.0h-36.9zM251.2 330.0h36.9v5.0h-36.9zM251.2 334.7h55.3v5.0h-55.3zM251.2 339.4h55.3v5.0h-55.3zM251.2 344.0h73.6v5.0h-73.6zM251.2 348.7h73.6v5.0h-73.6z"/><path fill="#0000ff" d="M297.0 185.1h4.9v5.0h-4.9zM274.1 194.4h18.6v5.0h-18.6zM274.1 199.1h9.5v5.0h-9.5zM274.1 203.8h9.5v5.0h-9.5zM264.9 208.5h18.6v5.0h-18.6zM264.9 213.1h18.6v5.0h-18.6zM264.9 217.8h18.6v5.0h-18.6zM264.9 222.5h18.6v5.0h-18.6zM264.9 227.2h9.5v5.0h-9.5zM264.9 231.8h9.5v5.0h-9.5zM251.2 236.5h23.2v5.0h-23.2zM251.2 241.2h23.2v5.0h-23.2zM251.2 245.9h23.2v5.0h-23.2zM251.2 250.6h23.2v5.0h-23.2zM251.2 255.2h23.2v5.0h-23.2zM251.2 259.9h23.2v5.0h-23.2zM251.2 264.6h23.2v5.0h-23.2zM251.2 269.2h23.2v5.0h-23.2zM251.2 273.9h32.4v5.0h-32.4zM251.2 278.6h32.4v5.0h-32.4zM264.9 283.3h9.5v5.0h-9.5zM264.9 287.9h9.5v5.0h-9.5zM260.4 292.6h4.9v5.0h-4.9zM255.8 297.3h4.9v5.0h-4.9zM251.2 302.0h4.9v5.0h-4.9zM278.7 320.7h4.9v5.0h-4.9zM287.8 330.0h4.9v5.0h-4.9zM306.2 339.4h4.9v5.0h-4.9zM324.5 348.7h9.5v5.0h-9.5z"/><path fill="#0010ff" d="M301.6 185.1h4.9v5.0h-4.9zM283.3 208.5h4.9v5.0h-4.9zM283.3 213.1h4.9v5.0h-4.9zM283.3 217.8h4.9v5.0h-4.9zM283.3 222.5h4.9v5.0h-4.9zM274.1 236.5h4.9v5.0h-4.9zM274.1 241.2h4.9v5.0h-4.9zM274.1 245.9h4.9v5.0h-4.9zM274.1 250.6h4.9v5.0h-4.9zM274.1 255.2h4.9v5.0h-4.9zM274.1 259.9h4.9v5.0h-4.9zM283.3 273.9h4.9v5.0h-4.9zM283.3 278.6h4.9v5.0h-4.9zM264.9 292.6h9.5v5.0h-9.5zM255.8 302.0h4.9v5.0h-4.9zM283.3 311.3h4.9v5.0h-4.9zM283.3 316.0h4.9v5.0h-4.9zM292.4 330.0h4.9v5.0h-4.9zM310.7 339.4h4.9v5.0h-4.9zM329.1 344.0h4.9v5.0h-4.9z"/><path fill="#0030ff" d="M306.2 185.1h4.9v5.0h-4.9zM287.8 208.5h4.9v5.0h-4.9zM287.8 213.1h4.9v5.0h-4.9zM287.8 217.8h4.9v5.0h-4.9zM287.8 222.5h4.9v5.0h-4.9zM278.7 236.5h4.9v5.0h-4.9zM278.7 241.2h4.9v5.0h-4.9zM278.7 245.9h4.9v5.0h-4.9zM278.7 250.6h4.9v5.0h-4.9zM278.7 255.2h4.9v5.0h-4.9zM278.7 259.9h4.9v5.0h-4.9zM287.8 273.9h4.9v5.0h-4.9zM287.8 278.6h4.9v5.0h-4.9zM264.9 297.3h9.5v5.0h-9.5zM260.4 302.0h4.9v5.0h-4.9zM287.8 311.3h4.9v5.0h-4.9zM287.8 316.0h4.9v5.0h-4.9zM297.0 330.0h4.9v5.0h-4.9zM315.3 339.4h4.9v5.0h-4.9zM329.1 339.4h4.9v5.0h-4.9z"/><path fill="#0040ff" d="M310.7 185.1h9.5v5.0h-9.5zM310.7 189.8h9.5v5.0h-9.5zM310.7 194.4h9.5v5.0h-9.5zM301.6 199.1h9.5v5.0h-9.5zM301.6 203.8h9.5v5.0h-9.5zM292.4 208.5h18.6v5.0h-18.6zM292.4 213.1h18.6v5.0h-18.6zM292.4 217.8h18.6v5.0h-18.6zM292.4 222.5h18.6v5.0h-18.6zM292.4 227.2h9.5v5.0h-9.5zM292.4 231.8h9.5v5.0h-9.5zM283.3 236.5h18.6v5.0h-18.6zM283.3 241.2h18.6v5.0h-18.6zM283.3 245.9h18.6v5.0h-18.6zM283.3 250.6h18.6v5.0h-18.6zM283.3 255.2h18.6v5.0h-18.6zM283.3 259.9h18.6v5.0h-18.6zM292.4 264.6h9.5v5.0h-9.5zM292.4 269.2h9.5v5.0h-9.5zM292.4 273.9h18.6v5.0h-18.6zM292.4 278.6h18.6v5.0h-18.6zM292.4 283.3h9.5v5.0h-9.5zM292.4 287.9h9.5v5.0h-9.5zM283.3 292.6h9.5v5.0h-9.5zM283.3 297.3h9.5v5.0h-9.5zM292.4 320.7h4.9v5.0h-4.9zM297.0 325.4h4.9v5.0h-4.9zM333.6 330.0h4.9v5.0h-4.9zM333.6 334.7h4.9v5.0h-4.9zM333.6 339.4h14.0v5.0h-14.0zM333.6 344.0h14.0v5.0h-14.0zM333.6 348.7h23.2v5.0h-23.2z"/><path fill="#0050ff" d="M319.9 185.1h4.9v5.0h-4.9zM319.9 189.8h4.9v5.0h-4.9zM319.9 194.4h4.9v5.0h-4.9zM310.7 208.5h4.9v5.0h-4.9zM310.7 213.1h4.9v5.0h-4.9zM310.7 217.8h4.9v5.0h-4.9zM310.7 222.5h4.9v5.0h-4.9zM301.6 236.5h4.9v5.0h-4.9zM301.6 241.2h4.9v5.0h-4.9zM301.6 245.9h4.9v5.0h-4.9zM301.6 250.6h4.9v5.0h-4.9zM301.6 255.2h4.9v5.0h-4.9zM301.6 259.9h4.9v5.0h-4.9zM310.7 273.9h4.9v5.0h-4.9zM310.7 278.6h4.9v5.0h-4.9zM292.4 302.0h4.9v5.0h-4.9zM292.4 306.6h4.9v5.0h-4.9zM292.4 311.3h4.9v5.0h-4.9zM292.4 316.0h4.9v5.0h-4.9zM333.6 325.4h4.9v5.0h-4.9zM319.9 334.7h14.0v5.0h-14.0z"/><path fill="#0070ff" d="M324.5 185.1h4.9v5.0h-4.9zM324.5 189.8h4.9v5.0h-4.9zM324.5 194.4h4.9v5.0h-4.9zM315.3 208.5h4.9v5.0h-4.9zM315.3 213.1h4.9v5.0h-4.9zM315.3 217.8h4.9v5.0h-4.9zM315.3 222.5h4.9v5.0h-4.9zM306.2 236.5h4.9v5.0h-4.9zM306.2 241.2h4.9v5.0h-4.9zM306.2 245.9h4.9v5.0h-4.9zM306.2 250.6h4.9v5.0h-4.9zM306.2 255.2h4.9v5.0h-4.9zM306.2 259.9h4.9v5.0h-4.9zM315.3 273.9h4.9v5.0h-4.9zM315.3 278.6h4.9v5.0h-4.9zM297.0 302.0h4.9v5.0h-4.9zM297.0 306.6h4.9v5.0h-4.9zM297.0 311.3h4.9v5.0h-4.9zM297.0 316.0h4.9v5.0h-4.9zM333.6 320.7h4.9v5.0h-4.9zM319.9 330.0h14.0v5.0h-14.0zM356.6 348.7h4.9v5.0h-4.9z"/><path fill="#0080ff" d="M329.1 185.1h4.9v5.0h-4.9zM329.1 189.8h4.9v5.0h-4.9zM329.1 194.4h4.9v5.0h-4.9zM329.1 199.1h4.9v5.0h-4.9zM329.1 203.8h4.9v5.0h-4.9zM319.9 208.5h14.0v5.0h-14.0zM319.9 213.1h14.0v5.0h-14.0zM319.9 217.8h14.0v5.0h-14.0zM319.9 222.5h14.0v5.0h-14.0zM319.9 227.2h14.0v5.0h-14.0zM319.9 231.8h14.0v5.0h-14.0zM310.7 236.5h23.2v5.0h-23.2zM310.7 241.2h23.2v5.0h-23.2zM310.7 245.9h9.5v5.0h-9.5zM310.7 250.6h9.5v5.0h-9.5zM310.7 255.2h9.5v5.0h-9.5zM310.7 259.9h9.5v5.0h-9.5zM333.6 292.6h4.9v5.0h-4.9zM333.6 297.3h4.9v5.0h-4.9zM301.6 302.0h9.5v5.0h-9.5zM333.6 302.0h14.0v5.0h-14.0zM301.6 306.6h9.5v5.0h-9.5zM333.6 306.6h14.0v5.0h-14.0zM301.6 311.3h18.6v5.0h-18.6zM333.6 311.3h14.0v5.0h-14.0zM301.6 316.0h18.6v5.0h-18.6zM333.6 316.0h14.0v5.0h-14.0zM310.7 320.7h23.2v5.0h-23.2zM310.7 325.4h23.2v5.0h-23.2zM347.4 330.0h4.9v5.0h-4.9zM352.0 334.7h4.9v5.0h-4.9z"/><path fill="#00bfff" d="M333.6 185.1h4.9v5.0h-4.9zM333.6 236.5h4.9v5.0h-4.9zM333.6 241.2h4.9v5.0h-4.9zM333.6 245.9h14.0v5.0h-14.0zM333.6 250.6h14.0v5.0h-14.0zM329.1 255.2h18.6v5.0h-18.6zM329.1 259.9h18.6v5.0h-18.6zM329.1 264.6h18.6v5.0h-18.6zM329.1 269.2h18.6v5.0h-18.6zM329.1 273.9h27.8v5.0h-27.8zM329.1 278.6h27.8v5.0h-27.8zM329.1 283.3h4.9v5.0h-4.9zM329.1 287.9h4.9v5.0h-4.9zM329.1 292.6h4.9v5.0h-4.9zM347.4 292.6h4.9v5.0h-4.9zM329.1 297.3h4.9v5.0h-4.9zM352.0 297.3h4.9v5.0h-4.9zM329.1 302.0h4.9v5.0h-4.9zM329.1 306.6h4.9v5.0h-4.9z"/><path fill="#00efff" d="M338.2 185.1h4.9v5.0h-4.9zM333.6 194.4h4.9v5.0h-4.9zM333.6 227.2h4.9v5.0h-4.9zM352.0 245.9h4.9v5.0h-4.9zM352.0 250.6h4.9v5.0h-4.9zM352.0 255.2h4.9v5.0h-4.9zM352.0 259.9h4.9v5.0h-4.9zM361.1 273.9h4.9v5.0h-4.9zM361.1 278.6h4.9v5.0h-4.9zM361.1 302.0h4.9v5.0h-4.9zM361.1 306.6h4.9v5.0h-4.9z"/><path fill="#50ffaf" d="M342.8 185.1h4.9v5.0h-4.9zM384.0 292.6h4.9v5.0h-4.9zM384.0 297.3h4.9v5.0h-4.9zM384.0 302.0h4.9v5.0h-4.9zM384.0 306.6h4.9v5.0h-4.9zM384.0 311.3h4.9v5.0h-4.9zM384.0 316.0h4.9v5.0h-4.9zM384.0 320.7h4.9v5.0h-4.9zM384.0 325.4h4.9v5.0h-4.9z"/><path fill="#bfff40" d="M347.4 185.1h4.9v5.0h-4.9zM393.2 185.1h9.5v5.0h-9.5zM347.4 189.8h4.9v5.0h-4.9zM393.2 189.8h9.5v5.0h-9.5zM347.4 194.4h4.9v5.0h-4.9zM393.2 194.4h9.5v5.0h-9.5zM402.4 208.5h4.9v5.0h-4.9zM406.9 213.1h4.9v5.0h-4.9zM388.6 236.5h4.9v5.0h-4.9zM402.4 255.2h4.9v5.0h-4.9zM406.9 259.9h4.9v5.0h-4.9zM411.5 330.0h4.9v5.0h-4.9zM411.5 334.7h4.9v5.0h-4.9zM411.5 339.4h4.9v5.0h-4.9zM411.5 344.0h4.9v5.0h-4.9zM411.5 348.7h4.9v5.0h-4.9z"/><path fill="#ffbf00" d="M352.0 185.1h4.9v5.0h-4.9zM352.0 189.8h4.9v5.0h-4.9zM352.0 194.4h4.9v5.0h-4.9zM384.0 241.2h4.9v5.0h-4.9zM406.9 302.0h4.9v5.0h-4.9zM402.4 306.6h4.9v5.0h-4.9z"/><path fill="#ff7000" d="M356.6 185.1h4.9v5.0h-4.9zM356.6 189.8h4.9v5.0h-4.9zM356.6 194.4h4.9v5.0h-4.9zM384.0 250.6h4.9v5.0h-4.9zM374.9 255.2h4.9v5.0h-4.9zM374.9 259.9h4.9v5.0h-4.9zM379.5 264.6h4.9v5.0h-4.9z"/><path fill="#ff5000" d="M361.1 185.1h4.9v5.0h-4.9zM361.1 189.8h4.9v5.0h-4.9zM361.1 194.4h4.9v5.0h-4.9zM379.5 255.2h4.9v5.0h-4.9zM379.5 259.9h4.9v5.0h-4.9z"/><path fill="#ff8000" d="M365.7 185.1h4.9v5.0h-4.9zM365.7 189.8h4.9v5.0h-4.9zM365.7 194.4h4.9v5.0h-4.9zM356.6 199.1h4.9v5.0h-4.9zM361.1 203.8h4.9v5.0h-4.9zM379.5 245.9h4.9v5.0h-4.9zM374.9 250.6h4.9v5.0h-4.9z"/><path fill="#ffff00" d="M370.3 185.1h4.9v5.0h-4.9zM411.5 185.1h4.9v5.0h-4.9zM370.3 189.8h4.9v5.0h-4.9zM411.5 189.8h4.9v5.0h-4.9zM370.3 194.4h4.9v5.0h-4.9zM411.5 194.4h4.9v5.0h-4.9zM411.5 199.1h4.9v5.0h-4.9zM411.5 203.8h4.9v5.0h-4.9zM384.0 236.5h4.9v5.0h-4.9zM388.6 241.2h4.9v5.0h-4.9zM379.5 273.9h4.9v5.0h-4.9z"/><path fill="#afff50" d="M374.9 185.1h4.9v5.0h-4.9zM388.6 185.1h4.9v5.0h-4.9zM374.9 189.8h4.9v5.0h-4.9zM388.6 189.8h4.9v5.0h-4.9zM374.9 194.4h4.9v5.0h-4.9zM388.6 194.4h4.9v5.0h-4.9zM347.4 199.1h4.9v5.0h-4.9zM411.5 217.8h4.9v5.0h-4.9zM411.5 231.8h4.9v5.0h-4.9zM411.5 236.5h4.9v5.0h-4.9zM397.8 245.9h4.9v5.0h-4.9zM411.5 259.9h4.9v5.0h-4.9zM393.2 283.3h9.5v5.0h-9.5zM411.5 292.6h4.9v5.0h-4.9zM406.9 330.0h4.9v5.0h-4.9zM406.9 334.7h4.9v5.0h-4.9zM406.9 339.4h4.9v5.0h-4.9zM406.9 344.0h4.9v5.0h-4.9zM406.9 348.7h4.9v5.0h-4.9z"/><path fill="#8fff70" d="M379.5 185.1h9.5v5.0h-9.5zM379.5 189.8h9.5v5.0h-9.5zM379.5 194.4h9.5v5.0h-9.5zM347.4 203.8h4.9v5.0h-4.9zM411.5 222.5h4.9v5.0h-4.9zM411.5 227.2h4.9v5.0h-4.9zM411.5 241.2h4.9v5.0h-4.9zM365.7 255.2h4.9v5.0h-4.9zM411.5 255.2h4.9v5.0h-4.9zM365.7 259.9h4.9v5.0h-4.9zM393.2 287.9h9.5v5.0h-9.5zM402.4 330.0h4.9v5.0h-4.9zM402.4 334.7h4.9v5.0h-4.9zM402.4 339.4h4.9v5.0h-4.9zM402.4 344.0h4.9v5.0h-4.9zM402.4 348.7h4.9v5.0h-4.9z"/><path fill="#cfff30" d="M402.4 185.1h4.9v5.0h-4.9zM402.4 189.8h4.9v5.0h-4.9zM402.4 194.4h4.9v5.0h-4.9zM402.4 199.1h4.9v5.0h-4.9zM370.3 203.8h4.9v5.0h-4.9zM402.4 203.8h4.9v5.0h-4.9zM411.5 213.1h4.9v5.0h-4.9zM397.8 250.6h4.9v5.0h-4.9zM411.5 264.6h4.9v5.0h-4.9zM374.9 269.2h4.9v5.0h-4.9zM384.0 278.6h4.9v5.0h-4.9z"/><path fill="#efff10" d="M406.9 185.1h4.9v5.0h-4.9zM406.9 189.8h4.9v5.0h-4.9zM406.9 194.4h4.9v5.0h-4.9zM370.3 199.1h4.9v5.0h-4.9zM406.9 199.1h4.9v5.0h-4.9zM406.9 203.8h4.9v5.0h-4.9zM411.5 208.5h4.9v5.0h-4.9zM374.9 236.5h4.9v5.0h-4.9zM393.2 245.9h4.9v5.0h-4.9zM397.8 255.2h4.9v5.0h-4.9zM370.3 264.6h4.9v5.0h-4.9zM411.5 269.2h4.9v5.0h-4.9zM388.6 278.6h4.9v5.0h-4.9z"/><path fill="#000fff" d="M297.0 189.8h4.9v5.0h-4.9zM292.4 194.4h4.9v5.0h-4.9zM283.3 320.7h4.9v5.0h-4.9zM287.8 325.4h4.9v5.0h-4.9z"/><path fill="#001cff" d="M301.6 189.8h4.9v5.0h-4.9zM292.4 199.1h4.9v5.0h-4.9zM283.3 227.2h4.9v5.0h-4.9zM283.3 269.2h4.9v5.0h-4.9zM283.3 283.3h4.9v5.0h-4.9zM274.1 292.6h4.9v5.0h-4.9zM283.3 306.6h4.9v5.0h-4.9z"/><path fill="#0034ff" d="M306.2 189.8h4.9v5.0h-4.9zM301.6 194.4h4.9v5.0h-4.9zM297.0 199.1h4.9v5.0h-4.9zM292.4 203.8h4.9v5.0h-4.9zM287.8 227.2h4.9v5.0h-4.9zM283.3 231.8h4.9v5.0h-4.9zM283.3 264.6h4.9v5.0h-4.9zM287.8 269.2h4.9v5.0h-4.9zM287.8 283.3h4.9v5.0h-4.9zM283.3 287.9h4.9v5.0h-4.9zM278.7 292.6h4.9v5.0h-4.9zM274.1 297.3h4.9v5.0h-4.9zM283.3 302.0h4.9v5.0h-4.9zM287.8 306.6h4.9v5.0h-4.9z"/><path fill="#00cfff" d="M333.6 189.8h4.9v5.0h-4.9zM333.6 231.8h4.9v5.0h-4.9zM347.4 245.9h4.9v5.0h-4.9zM347.4 250.6h4.9v5.0h-4.9zM347.4 255.2h4.9v5.0h-4.9zM347.4 259.9h4.9v5.0h-4.9zM356.6 273.9h4.9v5.0h-4.9zM356.6 278.6h4.9v5.0h-4.9zM356.6 302.0h4.9v5.0h-4.9zM356.6 306.6h4.9v5.0h-4.9zM361.1 348.7h4.9v5.0h-4.9z"/><path fill="#00fbff" d="M338.2 189.8h4.9v5.0h-4.9zM342.8 227.2h4.9v5.0h-4.9zM352.0 236.5h4.9v5.0h-4.9zM361.1 287.9h4.9v5.0h-4.9zM361.1 292.6h4.9v5.0h-4.9zM370.3 311.3h4.9v5.0h-4.9zM370.3 325.4h4.9v5.0h-4.9z"/><path fill="#54ffab" d="M342.8 189.8h4.9v5.0h-4.9zM342.8 199.1h4.9v5.0h-4.9zM370.3 344.0h4.9v5.0h-4.9z"/><path fill="#0000bf" d="M251.2 194.4h14.0v5.0h-14.0zM251.2 199.1h4.9v5.0h-4.9zM251.2 203.8h4.9v5.0h-4.9zM251.2 208.5h4.9v5.0h-4.9zM251.2 213.1h4.9v5.0h-4.9zM251.2 217.8h4.9v5.0h-4.9zM251.2 222.5h4.9v5.0h-4.9zM269.5 311.3h4.9v5.0h-4.9z"/><path fill="#0000cf" d="M264.9 194.4h4.9v5.0h-4.9zM255.8 208.5h4.9v5.0h-4.9zM255.8 213.1h4.9v5.0h-4.9zM255.8 217.8h4.9v5.0h-4.9zM255.8 222.5h4.9v5.0h-4.9zM251.2 227.2h4.9v5.0h-4.9zM251.2 287.9h4.9v5.0h-4.9zM251.2 292.6h4.9v5.0h-4.9z"/><path fill="#0000ef" d="M269.5 194.4h4.9v5.0h-4.9zM260.4 208.5h4.9v5.0h-4.9zM260.4 213.1h4.9v5.0h-4.9zM260.4 217.8h4.9v5.0h-4.9zM260.4 222.5h4.9v5.0h-4.9zM251.2 231.8h4.9v5.0h-4.9zM251.2 283.3h4.9v5.0h-4.9zM251.2 297.3h4.9v5.0h-4.9z"/><path fill="#0026ff" d="M297.0 194.4h4.9v5.0h-4.9zM269.5 302.0h4.9v5.0h-4.9zM287.8 320.7h4.9v5.0h-4.9z"/><path fill="#003cff" d="M306.2 194.4h4.9v5.0h-4.9zM297.0 203.8h4.9v5.0h-4.9zM287.8 231.8h4.9v5.0h-4.9zM287.8 264.6h4.9v5.0h-4.9zM287.8 287.9h4.9v5.0h-4.9zM278.7 297.3h4.9v5.0h-4.9zM287.8 302.0h4.9v5.0h-4.9z"/><path fill="#14ffeb" d="M338.2 194.4h4.9v5.0h-4.9zM338.2 203.8h4.9v5.0h-4.9zM365.7 339.4h4.9v5.0h-4.9z"/><path fill="#5cffa3" d="M342.8 194.4h4.9v5.0h-4.9zM347.4 213.1h4.9v5.0h-4.9zM374.9 339.4h4.9v5.0h-4.9z"/><path fill="#0000c3" d="M255.8 199.1h4.9v5.0h-4.9z"/><path fill="#0000cb" d="M260.4 199.1h4.9v5.0h-4.9zM255.8 203.8h4.9v5.0h-4.9z"/><path fill="#0000db" d="M264.9 199.1h4.9v5.0h-4.9zM255.8 227.2h4.9v5.0h-4.9zM255.8 287.9h4.9v5.0h-4.9z"/><path fill="#0000f3" d="M269.5 199.1h4.9v5.0h-4.9zM264.9 203.8h4.9v5.0h-4.9zM260.4 227.2h4.9v5.0h-4.9zM255.8 231.8h4.9v5.0h-4.9zM255.8 283.3h4.9v5.0h-4.9zM260.4 287.9h4.9v5.0h-4.9z"/><path fill="#0004ff" d="M283.3 199.1h4.9v5.0h-4.9zM274.1 227.2h4.9v5.0h-4.9zM274.1 269.2h4.9v5.0h-4.9zM274.1 283.3h4.9v5.0h-4.9zM278.7 306.6h4.9v5.0h-4.9z"/><path fill="#000cff" d="M287.8 199.1h4.9v5.0h-4.9zM283.3 203.8h4.9v5.0h-4.9zM278.7 227.2h4.9v5.0h-4.9zM274.1 231.8h4.9v5.0h-4.9zM274.1 264.6h4.9v5.0h-4.9zM278.7 269.2h4.9v5.0h-4.9zM278.7 283.3h4.9v5.0h-4.9zM274.1 287.9h4.9v5.0h-4.9z"/><path fill="#0044ff" d="M310.7 199.1h4.9v5.0h-4.9zM301.6 227.2h4.9v5.0h-4.9zM301.6 269.2h4.9v5.0h-4.9zM301.6 283.3h4.9v5.0h-4.9zM292.4 292.6h4.9v5.0h-4.9zM315.3 334.7h4.9v5.0h-4.9zM338.2 334.7h4.9v5.0h-4.9zM347.4 344.0h4.9v5.0h-4.9z"/><path fill="#004cff" d="M315.3 199.1h4.9v5.0h-4.9zM310.7 203.8h4.9v5.0h-4.9zM306.2 227.2h4.9v5.0h-4.9zM301.6 231.8h4.9v5.0h-4.9zM301.6 264.6h4.9v5.0h-4.9zM306.2 269.2h4.9v5.0h-4.9zM306.2 283.3h4.9v5.0h-4.9zM301.6 287.9h4.9v5.0h-4.9zM297.0 292.6h4.9v5.0h-4.9zM292.4 297.3h4.9v5.0h-4.9zM338.2 330.0h4.9v5.0h-4.9zM342.8 334.7h4.9v5.0h-4.9zM347.4 339.4h4.9v5.0h-4.9zM352.0 344.0h4.9v5.0h-4.9z"/><path fill="#005cff" d="M319.9 199.1h4.9v5.0h-4.9zM310.7 227.2h4.9v5.0h-4.9zM310.7 269.2h4.9v5.0h-4.9zM310.7 283.3h4.9v5.0h-4.9zM301.6 292.6h4.9v5.0h-4.9zM301.6 325.4h4.9v5.0h-4.9zM338.2 325.4h4.9v5.0h-4.9z"/><path fill="#0074ff" d="M324.5 199.1h4.9v5.0h-4.9zM319.9 203.8h4.9v5.0h-4.9zM315.3 227.2h4.9v5.0h-4.9zM310.7 231.8h4.9v5.0h-4.9zM310.7 264.6h4.9v5.0h-4.9zM315.3 269.2h4.9v5.0h-4.9zM315.3 283.3h4.9v5.0h-4.9zM310.7 287.9h4.9v5.0h-4.9zM306.2 292.6h4.9v5.0h-4.9zM301.6 297.3h4.9v5.0h-4.9zM301.6 320.7h4.9v5.0h-4.9zM338.2 320.7h4.9v5.0h-4.9zM306.2 325.4h4.9v5.0h-4.9zM342.8 325.4h4.9v5.0h-4.9z"/><path fill="#00ffff" d="M333.6 199.1h4.9v5.0h-4.9zM333.6 203.8h4.9v5.0h-4.9zM333.6 208.5h4.9v5.0h-4.9zM333.6 213.1h4.9v5.0h-4.9zM333.6 217.8h4.9v5.0h-4.9zM333.6 222.5h4.9v5.0h-4.9zM356.6 264.6h4.9v5.0h-4.9zM361.1 269.2h4.9v5.0h-4.9z"/><path fill="#1cffe3" d="M338.2 199.1h4.9v5.0h-4.9zM374.9 306.6h4.9v5.0h-4.9zM365.7 344.0h4.9v5.0h-4.9z"/><path fill="#ffcf00" d="M352.0 199.1h4.9v5.0h-4.9zM374.9 241.2h4.9v5.0h-4.9zM388.6 245.9h4.9v5.0h-4.9zM370.3 255.2h4.9v5.0h-4.9zM393.2 255.2h4.9v5.0h-4.9zM370.3 259.9h4.9v5.0h-4.9z"/><path fill="#ff6000" d="M361.1 199.1h4.9v5.0h-4.9zM379.5 250.6h4.9v5.0h-4.9z"/><path fill="#ff8f00" d="M365.7 199.1h4.9v5.0h-4.9zM384.0 245.9h4.9v5.0h-4.9zM388.6 273.9h4.9v5.0h-4.9zM411.5 306.6h4.9v5.0h-4.9zM411.5 311.3h4.9v5.0h-4.9z"/><path fill="#a3ff5c" d="M374.9 199.1h4.9v5.0h-4.9zM388.6 199.1h4.9v5.0h-4.9zM397.8 208.5h4.9v5.0h-4.9zM370.3 217.8h4.9v5.0h-4.9zM406.9 217.8h4.9v5.0h-4.9zM365.7 222.5h4.9v5.0h-4.9zM406.9 231.8h4.9v5.0h-4.9zM406.9 236.5h4.9v5.0h-4.9zM402.4 250.6h4.9v5.0h-4.9zM402.4 283.3h4.9v5.0h-4.9zM402.4 292.6h4.9v5.0h-4.9zM393.2 302.0h4.9v5.0h-4.9zM397.8 320.7h4.9v5.0h-4.9zM402.4 325.4h4.9v5.0h-4.9zM393.2 334.7h4.9v5.0h-4.9zM388.6 339.4h9.5v5.0h-9.5z"/><path fill="#8bff74" d="M379.5 199.1h9.5v5.0h-9.5zM374.9 203.8h4.9v5.0h-4.9zM388.6 203.8h4.9v5.0h-4.9zM393.2 208.5h4.9v5.0h-4.9zM397.8 213.1h4.9v5.0h-4.9zM402.4 217.8h4.9v5.0h-4.9zM370.3 222.5h4.9v5.0h-4.9zM406.9 222.5h4.9v5.0h-4.9zM406.9 227.2h4.9v5.0h-4.9zM402.4 231.8h4.9v5.0h-4.9zM402.4 236.5h4.9v5.0h-4.9zM406.9 241.2h4.9v5.0h-4.9zM402.4 245.9h4.9v5.0h-4.9zM365.7 250.6h4.9v5.0h-4.9zM406.9 250.6h4.9v5.0h-4.9zM406.9 283.3h4.9v5.0h-4.9zM402.4 287.9h4.9v5.0h-4.9zM393.2 320.7h4.9v5.0h-4.9zM397.8 325.4h4.9v5.0h-4.9zM393.2 330.0h4.9v5.0h-4.9zM397.8 334.7h4.9v5.0h-4.9zM384.0 339.4h4.9v5.0h-4.9zM397.8 339.4h4.9v5.0h-4.9zM388.6 344.0h9.5v5.0h-9.5z"/><path fill="#b3ff4c" d="M393.2 199.1h4.9v5.0h-4.9zM397.8 203.8h4.9v5.0h-4.9zM370.3 213.1h4.9v5.0h-4.9zM406.9 278.6h4.9v5.0h-4.9z"/><path fill="#bbff44" d="M397.8 199.1h4.9v5.0h-4.9zM370.3 208.5h4.9v5.0h-4.9zM374.9 231.8h4.9v5.0h-4.9z"/><path fill="#0000e3" d="M260.4 203.8h4.9v5.0h-4.9z"/><path fill="#0000fb" d="M269.5 203.8h4.9v5.0h-4.9zM260.4 231.8h4.9v5.0h-4.9zM260.4 283.3h4.9v5.0h-4.9z"/><path fill="#0024ff" d="M287.8 203.8h4.9v5.0h-4.9zM278.7 231.8h4.9v5.0h-4.9zM278.7 264.6h4.9v5.0h-4.9zM278.7 287.9h4.9v5.0h-4.9zM274.1 302.0h4.9v5.0h-4.9z"/><path fill="#0064ff" d="M315.3 203.8h4.9v5.0h-4.9zM306.2 231.8h4.9v5.0h-4.9zM306.2 264.6h4.9v5.0h-4.9zM306.2 287.9h4.9v5.0h-4.9zM297.0 297.3h4.9v5.0h-4.9zM310.7 330.0h4.9v5.0h-4.9zM342.8 330.0h4.9v5.0h-4.9zM352.0 339.4h4.9v5.0h-4.9z"/><path fill="#007cff" d="M324.5 203.8h4.9v5.0h-4.9zM315.3 231.8h4.9v5.0h-4.9zM315.3 264.6h4.9v5.0h-4.9zM315.3 287.9h4.9v5.0h-4.9zM306.2 297.3h4.9v5.0h-4.9zM306.2 320.7h4.9v5.0h-4.9zM342.8 320.7h4.9v5.0h-4.9zM356.6 344.0h4.9v5.0h-4.9z"/><path fill="#3cffc3" d="M342.8 203.8h4.9v5.0h-4.9zM379.5 302.0h4.9v5.0h-4.9zM370.3 339.4h4.9v5.0h-4.9z"/><path fill="#ffef00" d="M352.0 203.8h4.9v5.0h-4.9zM379.5 236.5h4.9v5.0h-4.9zM393.2 250.6h4.9v5.0h-4.9zM397.8 259.9h4.9v5.0h-4.9zM411.5 297.3h4.9v5.0h-4.9z"/><path fill="#ff9f00" d="M356.6 203.8h4.9v5.0h-4.9zM374.9 245.9h4.9v5.0h-4.9zM406.9 306.6h4.9v5.0h-4.9z"/><path fill="#ffaf00" d="M365.7 203.8h4.9v5.0h-4.9zM379.5 241.2h4.9v5.0h-4.9zM388.6 250.6h4.9v5.0h-4.9zM393.2 259.9h4.9v5.0h-4.9zM374.9 264.6h4.9v5.0h-4.9zM379.5 269.2h4.9v5.0h-4.9zM384.0 273.9h4.9v5.0h-4.9zM411.5 302.0h4.9v5.0h-4.9zM411.5 316.0h4.9v5.0h-4.9z"/><path fill="#83ff7c" d="M379.5 203.8h9.5v5.0h-9.5zM393.2 213.1h4.9v5.0h-4.9zM402.4 222.5h4.9v5.0h-4.9zM402.4 227.2h4.9v5.0h-4.9zM402.4 241.2h4.9v5.0h-4.9zM365.7 245.9h4.9v5.0h-4.9zM406.9 245.9h4.9v5.0h-4.9zM406.9 287.9h4.9v5.0h-4.9zM393.2 325.4h4.9v5.0h-4.9zM397.8 330.0h4.9v5.0h-4.9zM384.0 344.0h4.9v5.0h-4.9zM397.8 344.0h4.9v5.0h-4.9z"/><path fill="#9bff64" d="M393.2 203.8h4.9v5.0h-4.9zM379.5 227.2h4.9v5.0h-4.9z"/><path fill="#10ffef" d="M338.2 208.5h4.9v5.0h-4.9zM338.2 213.1h4.9v5.0h-4.9zM356.6 236.5h4.9v5.0h-4.9zM356.6 241.2h4.9v5.0h-4.9zM356.6 245.9h4.9v5.0h-4.9zM356.6 250.6h4.9v5.0h-4.9zM356.6 255.2h4.9v5.0h-4.9zM356.6 259.9h4.9v5.0h-4.9zM365.7 273.9h4.9v5.0h-4.9zM365.7 278.6h4.9v5.0h-4.9zM365.7 283.3h4.9v5.0h-4.9zM365.7 287.9h4.9v5.0h-4.9zM365.7 292.6h4.9v5.0h-4.9zM365.7 297.3h4.9v5.0h-4.9zM374.9 311.3h4.9v5.0h-4.9zM374.9 316.0h4.9v5.0h-4.9zM374.9 320.7h4.9v5.0h-4.9zM374.9 325.4h4.9v5.0h-4.9z"/><path fill="#30ffcf" d="M342.8 208.5h4.9v5.0h-4.9zM342.8 213.1h4.9v5.0h-4.9zM361.1 236.5h4.9v5.0h-4.9zM361.1 241.2h4.9v5.0h-4.9zM361.1 245.9h4.9v5.0h-4.9zM361.1 250.6h4.9v5.0h-4.9zM361.1 255.2h4.9v5.0h-4.9zM361.1 259.9h4.9v5.0h-4.9zM365.7 269.2h4.9v5.0h-4.9zM370.3 273.9h4.9v5.0h-4.9zM370.3 278.6h4.9v5.0h-4.9zM370.3 283.3h4.9v5.0h-4.9zM370.3 287.9h4.9v5.0h-4.9zM370.3 292.6h4.9v5.0h-4.9zM370.3 297.3h4.9v5.0h-4.9zM379.5 311.3h4.9v5.0h-4.9zM379.5 316.0h4.9v5.0h-4.9zM379.5 320.7h4.9v5.0h-4.9zM379.5 325.4h4.9v5.0h-4.9z"/><path fill="#74ff8b" d="M347.4 208.5h4.9v5.0h-4.9zM379.5 339.4h4.9v5.0h-4.9zM374.9 344.0h4.9v5.0h-4.9z"/><path fill="#dbff24" d="M352.0 208.5h4.9v5.0h-4.9zM402.4 278.6h4.9v5.0h-4.9z"/><path fill="#ffd700" d="M356.6 208.5h4.9v5.0h-4.9zM361.1 213.1h4.9v5.0h-4.9z"/><path fill="#ffa700" d="M361.1 208.5h4.9v5.0h-4.9z"/><path fill="#ffcb00" d="M365.7 208.5h4.9v5.0h-4.9zM402.4 273.9h4.9v5.0h-4.9zM402.4 311.3h4.9v5.0h-4.9zM406.9 316.0h4.9v5.0h-4.9z"/><path fill="#80ff80" d="M374.9 208.5h18.6v5.0h-18.6zM374.9 213.1h18.6v5.0h-18.6zM374.9 217.8h27.8v5.0h-27.8zM374.9 222.5h27.8v5.0h-27.8zM393.2 227.2h9.5v5.0h-9.5zM393.2 231.8h9.5v5.0h-9.5zM411.5 245.9h4.9v5.0h-4.9zM411.5 250.6h4.9v5.0h-4.9zM374.9 273.9h4.9v5.0h-4.9zM384.0 283.3h4.9v5.0h-4.9zM411.5 283.3h4.9v5.0h-4.9zM388.6 287.9h4.9v5.0h-4.9zM411.5 287.9h4.9v5.0h-4.9zM388.6 330.0h4.9v5.0h-4.9zM384.0 334.7h4.9v5.0h-4.9zM374.9 348.7h27.8v5.0h-27.8z"/><path fill="#dfff20" d="M406.9 208.5h4.9v5.0h-4.9zM402.4 259.9h4.9v5.0h-4.9zM411.5 273.9h4.9v5.0h-4.9zM411.5 325.4h4.9v5.0h-4.9z"/><path fill="#93ff6c" d="M352.0 213.1h4.9v5.0h-4.9zM374.9 227.2h4.9v5.0h-4.9z"/><path fill="#d7ff28" d="M356.6 213.1h4.9v5.0h-4.9z"/><path fill="#ffe300" d="M365.7 213.1h4.9v5.0h-4.9z"/><path fill="#9fff60" d="M402.4 213.1h4.9v5.0h-4.9zM406.9 255.2h4.9v5.0h-4.9zM379.5 278.6h4.9v5.0h-4.9zM411.5 278.6h4.9v5.0h-4.9zM388.6 283.3h4.9v5.0h-4.9zM388.6 334.7h4.9v5.0h-4.9z"/><path fill="#0cfff3" d="M338.2 217.8h4.9v5.0h-4.9zM342.8 222.5h4.9v5.0h-4.9zM347.4 227.2h4.9v5.0h-4.9zM352.0 231.8h4.9v5.0h-4.9zM365.7 302.0h4.9v5.0h-4.9zM370.3 306.6h4.9v5.0h-4.9zM370.3 330.0h4.9v5.0h-4.9zM365.7 334.7h4.9v5.0h-4.9z"/><path fill="#24ffdb" d="M342.8 217.8h4.9v5.0h-4.9zM352.0 227.2h4.9v5.0h-4.9zM370.3 302.0h4.9v5.0h-4.9zM370.3 334.7h4.9v5.0h-4.9z"/><path fill="#40ffbf" d="M347.4 217.8h4.9v5.0h-4.9zM352.0 222.5h4.9v5.0h-4.9zM356.6 227.2h4.9v5.0h-4.9zM361.1 231.8h4.9v5.0h-4.9zM374.9 292.6h9.5v5.0h-9.5zM374.9 297.3h9.5v5.0h-9.5zM379.5 330.0h4.9v5.0h-4.9zM374.9 334.7h4.9v5.0h-4.9z"/><path fill="#60ff9f" d="M352.0 217.8h4.9v5.0h-4.9zM361.1 227.2h4.9v5.0h-4.9zM374.9 278.6h4.9v5.0h-4.9zM384.0 287.9h4.9v5.0h-4.9zM384.0 330.0h4.9v5.0h-4.9zM379.5 334.7h4.9v5.0h-4.9zM370.3 348.7h4.9v5.0h-4.9z"/><path fill="#97ff68" d="M356.6 217.8h4.9v5.0h-4.9zM361.1 222.5h4.9v5.0h-4.9zM384.0 227.2h4.9v5.0h-4.9zM370.3 231.8h4.9v5.0h-4.9zM388.6 231.8h4.9v5.0h-4.9zM393.2 236.5h4.9v5.0h-4.9zM397.8 241.2h4.9v5.0h-4.9zM397.8 292.6h4.9v5.0h-4.9zM393.2 297.3h4.9v5.0h-4.9zM393.2 316.0h4.9v5.0h-4.9z"/><path fill="#e7ff18" d="M361.1 217.8h4.9v5.0h-4.9zM370.3 241.2h4.9v5.0h-4.9z"/><path fill="#ebff14" d="M365.7 217.8h4.9v5.0h-4.9zM402.4 297.3h4.9v5.0h-4.9zM397.8 302.0h4.9v5.0h-4.9z"/><path fill="#04fffb" d="M338.2 222.5h4.9v5.0h-4.9zM347.4 231.8h4.9v5.0h-4.9zM365.7 306.6h4.9v5.0h-4.9zM365.7 330.0h4.9v5.0h-4.9z"/><path fill="#20ffdf" d="M347.4 222.5h4.9v5.0h-4.9zM356.6 231.8h4.9v5.0h-4.9zM361.1 264.6h4.9v5.0h-4.9zM374.9 330.0h4.9v5.0h-4.9zM365.7 348.7h4.9v5.0h-4.9z"/><path fill="#68ff97" d="M356.6 222.5h4.9v5.0h-4.9zM365.7 231.8h4.9v5.0h-4.9zM365.7 236.5h4.9v5.0h-4.9z"/><path fill="#00f3ff" d="M338.2 227.2h4.9v5.0h-4.9zM342.8 231.8h4.9v5.0h-4.9zM347.4 236.5h4.9v5.0h-4.9zM352.0 241.2h4.9v5.0h-4.9zM361.1 283.3h4.9v5.0h-4.9zM356.6 287.9h4.9v5.0h-4.9zM356.6 292.6h4.9v5.0h-4.9zM361.1 297.3h4.9v5.0h-4.9zM365.7 311.3h4.9v5.0h-4.9zM370.3 316.0h4.9v5.0h-4.9zM370.3 320.7h4.9v5.0h-4.9zM365.7 325.4h4.9v5.0h-4.9z"/><path fill="#78ff87" d="M365.7 227.2h4.9v5.0h-4.9zM365.7 241.2h4.9v5.0h-4.9z"/><path fill="#87ff78" d="M370.3 227.2h4.9v5.0h-4.9zM388.6 227.2h4.9v5.0h-4.9zM397.8 236.5h4.9v5.0h-4.9zM393.2 292.6h4.9v5.0h-4.9z"/><path fill="#00dbff" d="M338.2 231.8h4.9v5.0h-4.9zM347.4 241.2h4.9v5.0h-4.9zM356.6 283.3h4.9v5.0h-4.9zM356.6 297.3h4.9v5.0h-4.9zM365.7 316.0h4.9v5.0h-4.9zM365.7 320.7h4.9v5.0h-4.9zM361.1 339.4h4.9v5.0h-4.9z"/><path fill="#d3ff2c" d="M379.5 231.8h4.9v5.0h-4.9z"/><path fill="#c7ff38" d="M384.0 231.8h4.9v5.0h-4.9zM393.2 241.2h4.9v5.0h-4.9zM397.8 297.3h4.9v5.0h-4.9zM397.8 316.0h4.9v5.0h-4.9z"/><path fill="#00cbff" d="M338.2 236.5h4.9v5.0h-4.9zM342.8 241.2h4.9v5.0h-4.9zM347.4 264.6h4.9v5.0h-4.9zM352.0 269.2h4.9v5.0h-4.9zM352.0 283.3h4.9v5.0h-4.9zM347.4 287.9h4.9v5.0h-4.9zM356.6 311.3h4.9v5.0h-4.9zM361.1 316.0h4.9v5.0h-4.9zM361.1 320.7h4.9v5.0h-4.9zM356.6 325.4h4.9v5.0h-4.9z"/><path fill="#00e3ff" d="M342.8 236.5h4.9v5.0h-4.9zM352.0 264.6h4.9v5.0h-4.9zM352.0 287.9h4.9v5.0h-4.9zM361.1 311.3h4.9v5.0h-4.9zM361.1 325.4h4.9v5.0h-4.9zM361.1 334.7h4.9v5.0h-4.9z"/><path fill="#b7ff48" d="M370.3 236.5h4.9v5.0h-4.9z"/><path fill="#00c3ff" d="M338.2 241.2h4.9v5.0h-4.9zM347.4 269.2h4.9v5.0h-4.9zM347.4 283.3h4.9v5.0h-4.9zM356.6 316.0h4.9v5.0h-4.9zM356.6 320.7h4.9v5.0h-4.9zM356.6 330.0h4.9v5.0h-4.9z"/><path fill="#0083ff" d="M319.9 245.9h4.9v5.0h-4.9zM310.7 292.6h4.9v5.0h-4.9zM338.2 297.3h4.9v5.0h-4.9zM310.7 306.6h4.9v5.0h-4.9zM319.9 316.0h4.9v5.0h-4.9z"/><path fill="#008bff" d="M324.5 245.9h4.9v5.0h-4.9zM319.9 250.6h4.9v5.0h-4.9zM315.3 292.6h4.9v5.0h-4.9zM338.2 292.6h4.9v5.0h-4.9zM310.7 297.3h4.9v5.0h-4.9zM342.8 297.3h4.9v5.0h-4.9zM310.7 302.0h4.9v5.0h-4.9zM315.3 306.6h4.9v5.0h-4.9zM319.9 311.3h4.9v5.0h-4.9zM324.5 316.0h4.9v5.0h-4.9z"/><path fill="#008fff" d="M329.1 245.9h4.9v5.0h-4.9zM319.9 255.2h4.9v5.0h-4.9zM319.9 259.9h4.9v5.0h-4.9zM319.9 264.6h4.9v5.0h-4.9zM319.9 269.2h4.9v5.0h-4.9zM319.9 273.9h4.9v5.0h-4.9zM319.9 278.6h4.9v5.0h-4.9zM319.9 283.3h4.9v5.0h-4.9zM319.9 287.9h4.9v5.0h-4.9zM333.6 287.9h4.9v5.0h-4.9zM347.4 302.0h4.9v5.0h-4.9zM347.4 306.6h4.9v5.0h-4.9zM347.4 311.3h4.9v5.0h-4.9zM329.1 316.0h4.9v5.0h-4.9zM347.4 316.0h4.9v5.0h-4.9zM347.4 320.7h4.9v5.0h-4.9zM347.4 325.4h4.9v5.0h-4.9z"/><path fill="#fff300" d="M370.3 245.9h4.9v5.0h-4.9zM402.4 264.6h4.9v5.0h-4.9zM406.9 269.2h4.9v5.0h-4.9z"/><path fill="#00a3ff" d="M324.5 250.6h4.9v5.0h-4.9zM342.8 292.6h4.9v5.0h-4.9zM315.3 297.3h4.9v5.0h-4.9zM315.3 302.0h4.9v5.0h-4.9zM324.5 311.3h4.9v5.0h-4.9z"/><path fill="#00afff" d="M329.1 250.6h4.9v5.0h-4.9zM324.5 255.2h4.9v5.0h-4.9zM324.5 259.9h4.9v5.0h-4.9zM324.5 264.6h4.9v5.0h-4.9zM324.5 269.2h4.9v5.0h-4.9zM324.5 273.9h4.9v5.0h-4.9zM324.5 278.6h4.9v5.0h-4.9zM324.5 283.3h4.9v5.0h-4.9zM333.6 283.3h4.9v5.0h-4.9zM324.5 287.9h4.9v5.0h-4.9zM352.0 302.0h4.9v5.0h-4.9zM352.0 306.6h4.9v5.0h-4.9zM329.1 311.3h4.9v5.0h-4.9zM352.0 311.3h4.9v5.0h-4.9zM352.0 316.0h4.9v5.0h-4.9zM352.0 320.7h4.9v5.0h-4.9zM352.0 325.4h4.9v5.0h-4.9z"/><path fill="#ffdb00" d="M370.3 250.6h4.9v5.0h-4.9z"/><path fill="#ff5c00" d="M384.0 255.2h4.9v5.0h-4.9z"/><path fill="#ff9300" d="M388.6 255.2h4.9v5.0h-4.9z"/><path fill="#ff5400" d="M384.0 259.9h4.9v5.0h-4.9z"/><path fill="#ff7c00" d="M388.6 259.9h4.9v5.0h-4.9z"/><path fill="#70ff8f" d="M365.7 264.6h4.9v5.0h-4.9zM370.3 269.2h4.9v5.0h-4.9zM388.6 292.6h4.9v5.0h-4.9zM388.6 297.3h4.9v5.0h-4.9zM388.6 302.0h4.9v5.0h-4.9zM388.6 306.6h4.9v5.0h-4.9zM388.6 311.3h4.9v5.0h-4.9zM388.6 316.0h4.9v5.0h-4.9zM388.6 320.7h4.9v5.0h-4.9zM388.6 325.4h4.9v5.0h-4.9z"/><path fill="#ff5800" d="M384.0 264.6h4.9v5.0h-4.9zM388.6 269.2h4.9v5.0h-4.9z"/><path fill="#ff6800" d="M388.6 264.6h4.9v5.0h-4.9zM384.0 269.2h4.9v5.0h-4.9z"/><path fill="#ff8b00" d="M393.2 264.6h4.9v5.0h-4.9zM397.8 269.2h4.9v5.0h-4.9zM393.2 273.9h4.9v5.0h-4.9z"/><path fill="#ffc300" d="M397.8 264.6h4.9v5.0h-4.9z"/><path fill="#e3ff1c" d="M406.9 264.6h4.9v5.0h-4.9z"/><path fill="#00dfff" d="M356.6 269.2h4.9v5.0h-4.9zM352.0 292.6h4.9v5.0h-4.9z"/><path fill="#ff6400" d="M393.2 269.2h4.9v5.0h-4.9z"/><path fill="#ffbb00" d="M402.4 269.2h4.9v5.0h-4.9z"/><path fill="#ffa300" d="M397.8 273.9h4.9v5.0h-4.9zM406.9 311.3h4.9v5.0h-4.9z"/><path fill="#fbff04" d="M406.9 273.9h4.9v5.0h-4.9zM393.2 278.6h4.9v5.0h-4.9zM402.4 316.0h4.9v5.0h-4.9z"/><path fill="#f3ff0c" d="M397.8 278.6h4.9v5.0h-4.9z"/><path fill="#00b3ff" d="M338.2 283.3h4.9v5.0h-4.9zM342.8 287.9h4.9v5.0h-4.9zM324.5 292.6h4.9v5.0h-4.9zM319.9 297.3h4.9v5.0h-4.9zM319.9 302.0h4.9v5.0h-4.9zM324.5 306.6h4.9v5.0h-4.9z"/><path fill="#00bbff" d="M342.8 283.3h4.9v5.0h-4.9zM324.5 297.3h4.9v5.0h-4.9zM324.5 302.0h4.9v5.0h-4.9z"/><path fill="#4cffb3" d="M374.9 283.3h4.9v5.0h-4.9zM379.5 287.9h4.9v5.0h-4.9z"/><path fill="#64ff9b" d="M379.5 283.3h4.9v5.0h-4.9z"/><path fill="#009bff" d="M338.2 287.9h4.9v5.0h-4.9zM319.9 292.6h4.9v5.0h-4.9zM319.9 306.6h4.9v5.0h-4.9z"/><path fill="#44ffbb" d="M374.9 287.9h4.9v5.0h-4.9z"/><path fill="#0000df" d="M255.8 292.6h4.9v5.0h-4.9z"/><path fill="#abff54" d="M406.9 292.6h4.9v5.0h-4.9zM393.2 306.6h4.9v5.0h-4.9z"/><path fill="#0020ff" d="M260.4 297.3h4.9v5.0h-4.9zM292.4 325.4h4.9v5.0h-4.9z"/><path fill="#009fff" d="M347.4 297.3h4.9v5.0h-4.9zM352.0 330.0h4.9v5.0h-4.9z"/><path fill="#fffb00" d="M406.9 297.3h4.9v5.0h-4.9zM397.8 306.6h4.9v5.0h-4.9zM406.9 320.7h4.9v5.0h-4.9z"/><path fill="#0036ff" d="M264.9 302.0h4.9v5.0h-4.9z"/><path fill="#002cff" d="M278.7 302.0h4.9v5.0h-4.9zM310.7 334.7h4.9v5.0h-4.9z"/><path fill="#34ffcb" d="M374.9 302.0h4.9v5.0h-4.9zM379.5 306.6h4.9v5.0h-4.9z"/><path fill="#ffdf00" d="M402.4 302.0h4.9v5.0h-4.9zM411.5 320.7h4.9v5.0h-4.9z"/><path fill="#0000e6" d="M269.5 306.6h4.9v5.0h-4.9z"/><path fill="#0000eb" d="M274.1 306.6h4.9v5.0h-4.9z"/><path fill="#0000d3" d="M274.1 311.3h4.9v5.0h-4.9z"/><path fill="#0000f2" d="M278.7 311.3h4.9v5.0h-4.9z"/><path fill="#a7ff58" d="M393.2 311.3h4.9v5.0h-4.9z"/><path fill="#f7ff08" d="M397.8 311.3h4.9v5.0h-4.9z"/><path fill="#0000fa" d="M278.7 316.0h4.9v5.0h-4.9z"/><path fill="#0060ff" d="M297.0 320.7h4.9v5.0h-4.9zM347.4 334.7h4.9v5.0h-4.9z"/><path fill="#cbff34" d="M402.4 320.7h4.9v5.0h-4.9zM406.9 325.4h4.9v5.0h-4.9z"/><path fill="#004aff" d="M301.6 330.0h4.9v5.0h-4.9z"/><path fill="#0059ff" d="M306.2 330.0h4.9v5.0h-4.9z"/><path fill="#006cff" d="M315.3 330.0h4.9v5.0h-4.9z"/><path fill="#00ebff" d="M361.1 330.0h4.9v5.0h-4.9z"/><path fill="#0022ff" d="M306.2 334.7h4.9v5.0h-4.9z"/><path fill="#00abff" d="M356.6 334.7h4.9v5.0h-4.9z"/><path fill="#003bff" d="M319.9 339.4h4.9v5.0h-4.9z"/><path fill="#0033ff" d="M324.5 339.4h4.9v5.0h-4.9z"/><path fill="#0093ff" d="M356.6 339.4h4.9v5.0h-4.9z"/><path fill="#0014ff" d="M324.5 344.0h4.9v5.0h-4.9z"/><path fill="#00d3ff" d="M361.1 344.0h4.9v5.0h-4.9z"/><path fill="#7cff83" d="M379.5 344.0h4.9v5.0h-4.9z"/><path fill="#000080" d="M333.6 185.1H344.6V194.9H333.6zM344.6 185.1H355.9V196.2H344.6zM355.9 185.1H372.2V198.0H355.9zM372.2 185.1H379.7V200.0H372.2zM379.7 185.1H393.5V201.2H379.7zM393.5 185.1H396.0V203.7H393.5zM396.0 185.1H416.1V209.4H396.0zM333.6 346.5H355.9V353.4H333.6zM355.9 346.5H376.0V353.4H355.9zM376.0 349.0H389.8V353.4H376.0zM389.8 345.8H398.5V353.4H389.8zM398.5 340.8H409.8V353.4H398.5zM409.8 337.7H413.0V353.4H409.8zM413.0 332.6H416.1V353.4H413.0z"/><circle cx="335.1" cy="268.9" r="18.4" fill="none" stroke="#000" stroke-width="1.6"/><circle cx="335.1" cy="268.9" r="36.9" fill="none" stroke="#000" stroke-width="1.5"/><circle cx="335.1" cy="268.9" r="55.2" fill="none" stroke="#000" stroke-width="1.2"/><circle cx="335.1" cy="268.9" r="73.6" fill="none" stroke="#000" stroke-width="1.1"/><circle cx="335.1" cy="269.2" r="0.9" fill="#000"/><g font-size="16" stroke-width="0.35"><text x="256.8" y="201.5" fill="#fff" stroke="#fff" text-anchor="start">520.0nm</text><text x="336.9" y="197.9" fill="#fff" stroke="#fff" text-anchor="middle">N</text><text x="253.4" y="273.2" fill="#fff" stroke="#fff" text-anchor="start">E</text><text x="334.0" y="352.7" fill="#fff" stroke="#fff" text-anchor="start">S</text><text x="365.2" y="200.9" fill="#fff" stroke="#fff" text-anchor="start">50</text><text x="355.6" y="216.3" fill="#000" stroke="#000" text-anchor="start">60</text><text x="347.6" y="233.0" fill="#000" stroke="#000" text-anchor="start">70</text><text x="340.5" y="250.7" fill="#000" stroke="#000" text-anchor="start">80</text><text x="332.9" y="267.4" fill="#000" stroke="#000" text-anchor="start">90</text></g><g font-size="16" stroke-width="0.35"><text x="405.8" y="272.9" fill="#fff" stroke="#fff" text-anchor="start">W</text></g><path d="M260.5 185.1v2.2M260.5 353.4v-2.2M269.7 185.1v2.2M269.7 353.4v-2.2M279.0 185.1v2.2M279.0 353.4v-2.2M288.3 185.1v2.2M288.3 353.4v-2.2M297.5 185.1v2.2M297.5 353.4v-2.2M306.8 185.1v2.2M306.8 353.4v-2.2M316.1 185.1v2.2M316.1 353.4v-2.2M325.3 185.1v2.2M325.3 353.4v-2.2M334.6 185.1v2.2M334.6 353.4v-2.2M343.9 185.1v2.2M343.9 353.4v-2.2M353.1 185.1v2.2M353.1 353.4v-2.2M362.4 185.1v2.2M362.4 353.4v-2.2M371.7 185.1v2.2M371.7 353.4v-2.2M380.9 185.1v2.2M380.9 353.4v-2.2M390.2 185.1v2.2M390.2 353.4v-2.2M399.5 185.1v2.2M399.5 353.4v-2.2M408.7 185.1v2.2M408.7 353.4v-2.2M251.2 194.4h2.2M251.2 203.6h2.2M251.2 212.9h2.2M251.2 222.2h2.2M251.2 231.4h2.2M251.2 240.7h2.2M251.2 250.0h2.2M251.2 259.2h2.2M251.2 268.5h2.2M251.2 277.8h2.2M251.2 287.0h2.2M251.2 296.3h2.2M251.2 305.6h2.2M251.2 314.8h2.2M251.2 324.1h2.2M251.2 333.4h2.2M251.2 342.6h2.2M251.2 351.9h2.2" stroke="#000" stroke-width="1" fill="none"/><rect x="416.1" y="185.1" width="3.5" height="168.3" fill="url(#jet)"/><path d="M419.6 346.30h-2.2M419.6 339.20h-2.2M419.6 332.10h-2.2M419.6 325.00h-2.2M419.6 317.90h-2.2M419.6 310.80h-2.2M419.6 303.70h-2.2M419.6 296.60h-2.2M419.6 289.50h-2.2M419.6 282.40h-2.2M419.6 275.30h-2.2M419.6 268.20h-2.2M419.6 261.10h-2.2M419.6 254.00h-2.2M419.6 246.90h-2.2M419.6 239.80h-2.2M419.6 232.70h-2.2M419.6 225.60h-2.2M419.6 218.50h-2.2M419.6 211.40h-2.2M419.6 204.30h-2.2M419.6 197.20h-2.2M419.6 190.10h-2.2" stroke="#000" stroke-width="0.9" fill="none"/><rect x="251.2" y="185.1" width="168.4" height="168.3" fill="none" stroke="#000" stroke-width="1"/><line x1="416.1" y1="185.1" x2="416.1" y2="353.4" stroke="#000" stroke-width="0.6"/><g font-size="16" fill="#000"><text x="420.1" y="214.8">4</text><text x="420.1" y="251.2">3</text><text x="420.1" y="286.8">2</text><text x="418.6" y="320.9">1</text><text x="420.1" y="356.8">0</text></g><text font-size="16.3" transform="translate(439.5 267.2) rotate(-90)" x="0" y="5.5" text-anchor="middle">I (kR)</text><text font-size="21" x="225.2" y="203.7">(e)</text><rect x="474.2" y="185.5" width="166.7" height="167.0" fill="#000080"/><path fill="#000080" d="M474.2 185.5h18.8v4.9h-18.8zM474.2 190.1h18.8v4.9h-18.8zM474.2 194.8h9.6v4.9h-9.6zM474.2 199.4h9.6v4.9h-9.6z"/><path fill="#0000bf" d="M492.7 185.5h23.5v4.9h-23.5z"/><path fill="#0000cf" d="M515.9 185.5h4.9v4.9h-4.9zM506.6 190.1h9.6v4.9h-9.6z"/><path fill="#0000ef" d="M520.5 185.5h4.9v4.9h-4.9zM506.6 194.8h9.6v4.9h-9.6z"/><path fill="#0010ff" d="M525.1 185.5h4.9v4.9h-4.9zM539.0 185.5h4.9v4.9h-4.9zM515.9 199.4h4.9v4.9h-4.9zM515.9 204.1h4.9v4.9h-4.9zM492.7 208.7h4.9v4.9h-4.9zM515.9 208.7h4.9v4.9h-4.9zM492.7 213.3h4.9v4.9h-4.9zM515.9 213.3h4.9v4.9h-4.9zM492.7 218.0h4.9v4.9h-4.9zM515.9 218.0h4.9v4.9h-4.9zM492.7 222.6h4.9v4.9h-4.9zM515.9 222.6h4.9v4.9h-4.9zM492.7 227.2h4.9v4.9h-4.9zM515.9 227.2h4.9v4.9h-4.9zM492.7 231.9h4.9v4.9h-4.9zM515.9 231.9h4.9v4.9h-4.9zM492.7 236.5h4.9v4.9h-4.9zM515.9 236.5h4.9v4.9h-4.9zM492.7 241.2h4.9v4.9h-4.9zM515.9 241.2h4.9v4.9h-4.9zM492.7 245.8h4.9v4.9h-4.9zM515.9 245.8h4.9v4.9h-4.9zM492.7 250.4h4.9v4.9h-4.9zM515.9 250.4h4.9v4.9h-4.9zM492.7 255.1h4.9v4.9h-4.9zM515.9 255.1h4.9v4.9h-4.9zM492.7 259.7h4.9v4.9h-4.9zM515.9 259.7h4.9v4.9h-4.9zM515.9 264.4h4.9v4.9h-4.9zM515.9 269.0h4.9v4.9h-4.9zM483.5 273.6h4.9v4.9h-4.9zM515.9 273.6h4.9v4.9h-4.9zM483.5 278.3h4.9v4.9h-4.9zM515.9 278.3h4.9v4.9h-4.9zM515.9 282.9h4.9v4.9h-4.9zM515.9 287.6h4.9v4.9h-4.9zM474.2 315.4h4.9v4.9h-4.9z"/><path fill="#0030ff" d="M529.8 185.5h9.6v4.9h-9.6zM520.5 199.4h4.9v4.9h-4.9zM520.5 204.1h4.9v4.9h-4.9zM488.1 208.7h4.9v4.9h-4.9zM520.5 208.7h4.9v4.9h-4.9zM488.1 213.3h4.9v4.9h-4.9zM520.5 213.3h4.9v4.9h-4.9zM488.1 218.0h4.9v4.9h-4.9zM520.5 218.0h4.9v4.9h-4.9zM488.1 222.6h4.9v4.9h-4.9zM520.5 222.6h4.9v4.9h-4.9zM488.1 227.2h4.9v4.9h-4.9zM520.5 227.2h4.9v4.9h-4.9zM488.1 231.9h4.9v4.9h-4.9zM520.5 231.9h4.9v4.9h-4.9zM488.1 236.5h4.9v4.9h-4.9zM520.5 236.5h4.9v4.9h-4.9zM488.1 241.2h4.9v4.9h-4.9zM520.5 241.2h4.9v4.9h-4.9zM488.1 245.8h4.9v4.9h-4.9zM520.5 245.8h4.9v4.9h-4.9zM488.1 250.4h4.9v4.9h-4.9zM520.5 250.4h4.9v4.9h-4.9zM488.1 255.1h4.9v4.9h-4.9zM520.5 255.1h4.9v4.9h-4.9zM488.1 259.7h4.9v4.9h-4.9zM520.5 259.7h4.9v4.9h-4.9zM520.5 264.4h4.9v4.9h-4.9zM520.5 269.0h4.9v4.9h-4.9zM478.8 273.6h4.9v4.9h-4.9zM520.5 273.6h4.9v4.9h-4.9zM478.8 278.3h4.9v4.9h-4.9zM520.5 278.3h4.9v4.9h-4.9zM520.5 282.9h4.9v4.9h-4.9zM520.5 287.6h4.9v4.9h-4.9zM492.7 292.2h4.9v4.9h-4.9zM474.2 310.8h4.9v4.9h-4.9z"/><path fill="#0000ff" d="M543.7 185.5h14.2v4.9h-14.2zM520.5 190.1h4.9v4.9h-4.9zM515.9 194.8h4.9v4.9h-4.9zM506.6 199.4h9.6v4.9h-9.6zM506.6 204.1h9.6v4.9h-9.6zM497.4 208.7h18.8v4.9h-18.8zM497.4 213.3h18.8v4.9h-18.8zM497.4 218.0h18.8v4.9h-18.8zM497.4 222.6h18.8v4.9h-18.8zM497.4 227.2h18.8v4.9h-18.8zM497.4 231.9h18.8v4.9h-18.8zM497.4 236.5h18.8v4.9h-18.8zM497.4 241.2h18.8v4.9h-18.8zM497.4 245.8h18.8v4.9h-18.8zM497.4 250.4h18.8v4.9h-18.8zM497.4 255.1h18.8v4.9h-18.8zM497.4 259.7h18.8v4.9h-18.8zM497.4 264.4h18.8v4.9h-18.8zM497.4 269.0h18.8v4.9h-18.8zM488.1 273.6h28.1v4.9h-28.1zM488.1 278.3h28.1v4.9h-28.1zM497.4 282.9h18.8v4.9h-18.8zM497.4 287.6h18.8v4.9h-18.8zM474.2 320.0h4.9v4.9h-4.9zM474.2 324.7h4.9v4.9h-4.9zM474.2 329.3h4.9v4.9h-4.9zM474.2 333.9h4.9v4.9h-4.9zM474.2 338.6h4.9v4.9h-4.9zM474.2 343.2h4.9v4.9h-4.9zM474.2 347.9h4.9v4.9h-4.9z"/><path fill="#00bfff" d="M557.5 185.5h4.9v4.9h-4.9zM617.7 185.5h23.5v4.9h-23.5zM617.7 190.1h23.5v4.9h-23.5zM617.7 194.8h23.5v4.9h-23.5zM617.7 199.4h23.5v4.9h-23.5zM617.7 204.1h23.5v4.9h-23.5zM627.0 208.7h14.2v4.9h-14.2zM627.0 213.3h14.2v4.9h-14.2zM557.5 218.0h4.9v4.9h-4.9zM636.3 218.0h4.9v4.9h-4.9zM557.5 222.6h4.9v4.9h-4.9zM636.3 222.6h4.9v4.9h-4.9zM557.5 227.2h4.9v4.9h-4.9zM557.5 231.9h4.9v4.9h-4.9zM557.5 236.5h14.2v4.9h-14.2zM557.5 241.2h14.2v4.9h-14.2zM557.5 245.8h23.5v4.9h-23.5zM557.5 250.4h23.5v4.9h-23.5zM552.9 255.1h28.1v4.9h-28.1zM552.9 259.7h28.1v4.9h-28.1zM552.9 264.4h28.1v4.9h-28.1zM552.9 269.0h28.1v4.9h-28.1zM548.3 273.6h4.9v4.9h-4.9zM557.5 273.6h23.5v4.9h-23.5zM543.7 278.3h4.9v4.9h-4.9zM557.5 278.3h23.5v4.9h-23.5zM557.5 282.9h23.5v4.9h-23.5zM557.5 287.6h23.5v4.9h-23.5zM543.7 292.2h28.1v4.9h-28.1zM543.7 296.8h28.1v4.9h-28.1zM543.7 301.5h28.1v4.9h-28.1zM543.7 306.1h28.1v4.9h-28.1zM534.4 310.8h37.3v4.9h-37.3zM534.4 315.4h37.3v4.9h-37.3zM534.4 320.0h9.6v4.9h-9.6zM571.4 320.0h4.9v4.9h-4.9zM534.4 324.7h9.6v4.9h-9.6zM576.1 324.7h4.9v4.9h-4.9zM580.7 329.3h4.9v4.9h-4.9zM636.3 329.3h4.9v4.9h-4.9zM585.3 333.9h4.9v4.9h-4.9zM636.3 333.9h4.9v4.9h-4.9zM636.3 338.6h4.9v4.9h-4.9zM636.3 343.2h4.9v4.9h-4.9zM636.3 347.9h4.9v4.9h-4.9z"/><path fill="#00efff" d="M562.2 185.5h4.9v4.9h-4.9zM608.5 185.5h4.9v4.9h-4.9zM608.5 190.1h4.9v4.9h-4.9zM557.5 194.8h4.9v4.9h-4.9zM608.5 194.8h4.9v4.9h-4.9zM608.5 199.4h4.9v4.9h-4.9zM608.5 204.1h4.9v4.9h-4.9zM557.5 208.7h4.9v4.9h-4.9zM566.8 218.0h4.9v4.9h-4.9zM566.8 222.6h4.9v4.9h-4.9zM636.3 231.9h4.9v4.9h-4.9zM585.3 245.8h4.9v4.9h-4.9zM585.3 250.4h4.9v4.9h-4.9zM585.3 255.1h4.9v4.9h-4.9zM585.3 259.7h4.9v4.9h-4.9zM552.9 278.3h4.9v4.9h-4.9zM552.9 282.9h4.9v4.9h-4.9zM585.3 282.9h4.9v4.9h-4.9zM585.3 287.6h4.9v4.9h-4.9zM576.1 301.5h4.9v4.9h-4.9zM576.1 306.1h4.9v4.9h-4.9zM576.1 310.8h4.9v4.9h-4.9zM576.1 315.4h4.9v4.9h-4.9zM636.3 324.7h4.9v4.9h-4.9zM613.1 329.3h4.9v4.9h-4.9z"/><path fill="#50ffaf" d="M566.8 185.5h4.9v4.9h-4.9zM603.9 213.3h4.9v4.9h-4.9zM636.3 255.1h4.9v4.9h-4.9zM627.0 278.3h4.9v4.9h-4.9zM631.6 292.2h4.9v4.9h-4.9zM608.5 310.8h4.9v4.9h-4.9zM608.5 315.4h4.9v4.9h-4.9zM636.3 320.0h4.9v4.9h-4.9z"/><path fill="#9fff60" d="M571.4 185.5h4.9v4.9h-4.9zM571.4 190.1h4.9v4.9h-4.9zM571.4 194.8h4.9v4.9h-4.9zM594.6 241.2h4.9v4.9h-4.9z"/><path fill="#dfff20" d="M576.1 185.5h4.9v4.9h-4.9zM576.1 190.1h4.9v4.9h-4.9zM576.1 194.8h4.9v4.9h-4.9zM594.6 218.0h4.9v4.9h-4.9zM594.6 222.6h4.9v4.9h-4.9z"/><path fill="#ffef00" d="M580.7 185.5h4.9v4.9h-4.9zM580.7 190.1h4.9v4.9h-4.9zM580.7 194.8h4.9v4.9h-4.9zM590.0 199.4h4.9v4.9h-4.9zM599.2 255.1h4.9v4.9h-4.9zM622.4 255.1h4.9v4.9h-4.9zM622.4 269.0h4.9v4.9h-4.9z"/><path fill="#ffcf00" d="M585.3 185.5h4.9v4.9h-4.9zM585.3 190.1h4.9v4.9h-4.9zM585.3 194.8h4.9v4.9h-4.9zM590.0 204.1h4.9v4.9h-4.9zM599.2 259.7h4.9v4.9h-4.9zM622.4 259.7h4.9v4.9h-4.9zM622.4 264.4h4.9v4.9h-4.9z"/><path fill="#ffff00" d="M590.0 185.5h4.9v4.9h-4.9zM590.0 190.1h4.9v4.9h-4.9zM590.0 194.8h4.9v4.9h-4.9zM590.0 218.0h4.9v4.9h-4.9z"/><path fill="#80ff80" d="M594.6 185.5h4.9v4.9h-4.9zM594.6 190.1h4.9v4.9h-4.9zM594.6 194.8h4.9v4.9h-4.9zM636.3 264.4h4.9v4.9h-4.9zM636.3 269.0h4.9v4.9h-4.9z"/><path fill="#30ffcf" d="M599.2 185.5h4.9v4.9h-4.9zM599.2 190.1h4.9v4.9h-4.9zM599.2 194.8h4.9v4.9h-4.9zM603.9 208.7h4.9v4.9h-4.9zM590.0 245.8h4.9v4.9h-4.9zM590.0 250.4h4.9v4.9h-4.9zM636.3 250.4h4.9v4.9h-4.9zM631.6 278.3h4.9v4.9h-4.9zM594.6 282.9h4.9v4.9h-4.9zM594.6 287.6h4.9v4.9h-4.9zM594.6 292.2h4.9v4.9h-4.9zM636.3 292.2h4.9v4.9h-4.9zM594.6 296.8h4.9v4.9h-4.9zM594.6 301.5h4.9v4.9h-4.9zM594.6 306.1h4.9v4.9h-4.9zM594.6 310.8h4.9v4.9h-4.9zM594.6 315.4h4.9v4.9h-4.9zM594.6 320.0h4.9v4.9h-4.9zM594.6 324.7h4.9v4.9h-4.9z"/><path fill="#10ffef" d="M603.9 185.5h4.9v4.9h-4.9zM603.9 190.1h4.9v4.9h-4.9zM603.9 194.8h4.9v4.9h-4.9zM636.3 245.8h4.9v4.9h-4.9zM590.0 282.9h4.9v4.9h-4.9zM590.0 287.6h4.9v4.9h-4.9zM590.0 292.2h4.9v4.9h-4.9zM590.0 296.8h4.9v4.9h-4.9zM590.0 301.5h4.9v4.9h-4.9zM590.0 306.1h4.9v4.9h-4.9zM590.0 310.8h4.9v4.9h-4.9zM590.0 315.4h4.9v4.9h-4.9zM590.0 320.0h4.9v4.9h-4.9zM590.0 324.7h4.9v4.9h-4.9zM608.5 329.3h4.9v4.9h-4.9z"/><path fill="#00cfff" d="M613.1 185.5h4.9v4.9h-4.9zM557.5 190.1h4.9v4.9h-4.9zM613.1 190.1h4.9v4.9h-4.9zM613.1 194.8h4.9v4.9h-4.9zM613.1 199.4h4.9v4.9h-4.9zM613.1 204.1h4.9v4.9h-4.9zM557.5 213.3h4.9v4.9h-4.9zM562.2 218.0h4.9v4.9h-4.9zM562.2 222.6h4.9v4.9h-4.9zM636.3 227.2h4.9v4.9h-4.9zM580.7 245.8h4.9v4.9h-4.9zM580.7 250.4h4.9v4.9h-4.9zM580.7 255.1h4.9v4.9h-4.9zM580.7 259.7h4.9v4.9h-4.9zM552.9 273.6h4.9v4.9h-4.9zM580.7 282.9h4.9v4.9h-4.9zM552.9 287.6h4.9v4.9h-4.9zM580.7 287.6h4.9v4.9h-4.9zM571.4 301.5h4.9v4.9h-4.9zM571.4 306.1h4.9v4.9h-4.9zM571.4 310.8h4.9v4.9h-4.9zM571.4 315.4h4.9v4.9h-4.9zM608.5 333.9h4.9v4.9h-4.9z"/><path fill="#0000e6" d="M492.7 190.1h4.9v4.9h-4.9z"/><path fill="#0000db" d="M497.4 190.1h4.9v4.9h-4.9z"/><path fill="#0000d3" d="M502.0 190.1h4.9v4.9h-4.9z"/><path fill="#0000df" d="M515.9 190.1h4.9v4.9h-4.9z"/><path fill="#001cff" d="M525.1 190.1h4.9v4.9h-4.9zM539.0 190.1h4.9v4.9h-4.9zM548.3 190.1h4.9v4.9h-4.9zM492.7 204.1h4.9v4.9h-4.9zM483.5 282.9h4.9v4.9h-4.9zM506.6 292.2h4.9v4.9h-4.9zM515.9 292.2h4.9v4.9h-4.9zM478.8 315.4h4.9v4.9h-4.9zM478.8 324.7h4.9v4.9h-4.9z"/><path fill="#0034ff" d="M529.8 190.1h9.6v4.9h-9.6zM525.1 194.8h4.9v4.9h-4.9zM539.0 194.8h4.9v4.9h-4.9zM492.7 199.4h4.9v4.9h-4.9zM488.1 204.1h4.9v4.9h-4.9zM478.8 282.9h4.9v4.9h-4.9zM483.5 287.6h4.9v4.9h-4.9zM520.5 292.2h4.9v4.9h-4.9zM515.9 296.8h4.9v4.9h-4.9zM478.8 310.8h4.9v4.9h-4.9zM483.5 315.4h4.9v4.9h-4.9z"/><path fill="#0014ff" d="M543.7 190.1h4.9v4.9h-4.9zM497.4 194.8h4.9v4.9h-4.9zM511.2 292.2h4.9v4.9h-4.9zM478.8 320.0h4.9v4.9h-4.9z"/><path fill="#0020ff" d="M552.9 190.1h4.9v4.9h-4.9zM520.5 194.8h4.9v4.9h-4.9zM483.5 269.0h4.9v4.9h-4.9zM497.4 292.2h9.6v4.9h-9.6zM478.8 329.3h4.9v4.9h-4.9zM478.8 333.9h4.9v4.9h-4.9zM478.8 338.6h4.9v4.9h-4.9zM478.8 343.2h4.9v4.9h-4.9zM478.8 347.9h4.9v4.9h-4.9z"/><path fill="#00fbff" d="M562.2 190.1h4.9v4.9h-4.9zM617.7 222.6h4.9v4.9h-4.9zM576.1 227.2h4.9v4.9h-4.9zM627.0 231.9h4.9v4.9h-4.9zM585.3 296.8h4.9v4.9h-4.9zM585.3 320.0h4.9v4.9h-4.9zM631.6 324.7h4.9v4.9h-4.9zM590.0 329.3h4.9v4.9h-4.9z"/><path fill="#54ffab" d="M566.8 190.1h4.9v4.9h-4.9zM566.8 199.4h4.9v4.9h-4.9zM599.2 204.1h4.9v4.9h-4.9zM608.5 222.6h4.9v4.9h-4.9zM585.3 227.2h4.9v4.9h-4.9zM627.0 287.6h4.9v4.9h-4.9zM608.5 292.2h4.9v4.9h-4.9zM608.5 306.1h4.9v4.9h-4.9zM631.6 320.0h4.9v4.9h-4.9z"/><path fill="#0040ff" d="M483.5 194.8h4.9v4.9h-4.9zM525.1 199.4h18.8v4.9h-18.8zM525.1 204.1h18.8v4.9h-18.8zM525.1 208.7h9.6v4.9h-9.6zM525.1 213.3h9.6v4.9h-9.6zM525.1 218.0h9.6v4.9h-9.6zM525.1 222.6h9.6v4.9h-9.6zM525.1 227.2h9.6v4.9h-9.6zM525.1 231.9h9.6v4.9h-9.6zM483.5 264.4h4.9v4.9h-4.9zM478.8 269.0h4.9v4.9h-4.9zM474.2 273.6h4.9v4.9h-4.9zM474.2 278.3h4.9v4.9h-4.9zM474.2 282.9h4.9v4.9h-4.9zM474.2 287.6h4.9v4.9h-4.9zM557.5 338.6h14.2v4.9h-14.2zM557.5 343.2h14.2v4.9h-14.2zM557.5 347.9h23.5v4.9h-23.5z"/><path fill="#0036ff" d="M488.1 194.8h4.9v4.9h-4.9z"/><path fill="#0026ff" d="M492.7 194.8h4.9v4.9h-4.9z"/><path fill="#0000fb" d="M502.0 194.8h4.9v4.9h-4.9z"/><path fill="#003cff" d="M529.8 194.8h9.6v4.9h-9.6zM543.7 194.8h4.9v4.9h-4.9zM488.1 199.4h4.9v4.9h-4.9zM478.8 287.6h4.9v4.9h-4.9zM511.2 296.8h4.9v4.9h-4.9zM520.5 296.8h4.9v4.9h-4.9zM483.5 310.8h4.9v4.9h-4.9zM483.5 320.0h4.9v4.9h-4.9z"/><path fill="#0054ff" d="M548.3 194.8h4.9v4.9h-4.9zM506.6 296.8h4.9v4.9h-4.9zM483.5 324.7h4.9v4.9h-4.9z"/><path fill="#0060ff" d="M552.9 194.8h4.9v4.9h-4.9zM478.8 264.4h4.9v4.9h-4.9zM534.4 273.6h4.9v4.9h-4.9zM474.2 292.2h14.2v4.9h-14.2zM497.4 296.8h9.6v4.9h-9.6zM525.1 301.5h4.9v4.9h-4.9zM474.2 306.1h14.2v4.9h-14.2zM483.5 329.3h4.9v4.9h-4.9zM483.5 333.9h4.9v4.9h-4.9zM571.4 333.9h4.9v4.9h-4.9zM483.5 338.6h4.9v4.9h-4.9zM627.0 338.6h4.9v4.9h-4.9zM483.5 343.2h4.9v4.9h-4.9zM627.0 343.2h4.9v4.9h-4.9zM483.5 347.9h4.9v4.9h-4.9zM580.7 347.9h4.9v4.9h-4.9zM627.0 347.9h4.9v4.9h-4.9z"/><path fill="#14ffeb" d="M562.2 194.8h4.9v4.9h-4.9zM603.9 199.4h4.9v4.9h-4.9zM562.2 204.1h4.9v4.9h-4.9zM613.1 218.0h4.9v4.9h-4.9zM580.7 231.9h4.9v4.9h-4.9zM631.6 282.9h4.9v4.9h-4.9zM627.0 324.7h4.9v4.9h-4.9zM594.6 329.3h4.9v4.9h-4.9z"/><path fill="#5cffa3" d="M566.8 194.8h4.9v4.9h-4.9zM613.1 231.9h4.9v4.9h-4.9zM622.4 282.9h4.9v4.9h-4.9zM608.5 287.6h4.9v4.9h-4.9zM608.5 296.8h4.9v4.9h-4.9zM608.5 301.5h4.9v4.9h-4.9zM627.0 320.0h4.9v4.9h-4.9z"/><path fill="#0045ff" d="M483.5 199.4h4.9v4.9h-4.9z"/><path fill="#0024ff" d="M497.4 199.4h4.9v4.9h-4.9zM488.1 264.4h4.9v4.9h-4.9zM488.1 287.6h4.9v4.9h-4.9z"/><path fill="#000cff" d="M502.0 199.4h4.9v4.9h-4.9zM497.4 204.1h4.9v4.9h-4.9zM492.7 264.4h4.9v4.9h-4.9zM488.1 269.0h4.9v4.9h-4.9zM488.1 282.9h4.9v4.9h-4.9zM492.7 287.6h4.9v4.9h-4.9z"/><path fill="#0050ff" d="M543.7 199.4h4.9v4.9h-4.9zM543.7 204.1h4.9v4.9h-4.9zM483.5 208.7h4.9v4.9h-4.9zM483.5 213.3h4.9v4.9h-4.9zM483.5 218.0h4.9v4.9h-4.9zM534.4 218.0h4.9v4.9h-4.9zM483.5 222.6h4.9v4.9h-4.9zM534.4 222.6h4.9v4.9h-4.9zM483.5 227.2h4.9v4.9h-4.9zM534.4 227.2h4.9v4.9h-4.9zM483.5 231.9h4.9v4.9h-4.9zM534.4 231.9h4.9v4.9h-4.9zM483.5 236.5h4.9v4.9h-4.9zM483.5 241.2h4.9v4.9h-4.9zM483.5 245.8h4.9v4.9h-4.9zM525.1 245.8h4.9v4.9h-4.9zM483.5 250.4h4.9v4.9h-4.9zM525.1 250.4h4.9v4.9h-4.9zM483.5 255.1h4.9v4.9h-4.9zM525.1 255.1h4.9v4.9h-4.9zM483.5 259.7h4.9v4.9h-4.9zM525.1 259.7h4.9v4.9h-4.9zM474.2 269.0h4.9v4.9h-4.9zM525.1 282.9h4.9v4.9h-4.9zM525.1 287.6h4.9v4.9h-4.9zM488.1 292.2h4.9v4.9h-4.9zM525.1 292.2h4.9v4.9h-4.9zM525.1 296.8h4.9v4.9h-4.9zM515.9 301.5h9.6v4.9h-9.6zM488.1 310.8h4.9v4.9h-4.9zM488.1 315.4h4.9v4.9h-4.9zM557.5 333.9h14.2v4.9h-14.2zM511.2 338.6h9.6v4.9h-9.6zM622.4 338.6h4.9v4.9h-4.9zM511.2 343.2h9.6v4.9h-9.6zM622.4 343.2h4.9v4.9h-4.9zM511.2 347.9h9.6v4.9h-9.6zM622.4 347.9h4.9v4.9h-4.9z"/><path fill="#0070ff" d="M548.3 199.4h4.9v4.9h-4.9zM548.3 204.1h4.9v4.9h-4.9zM478.8 208.7h4.9v4.9h-4.9zM478.8 213.3h4.9v4.9h-4.9zM478.8 218.0h4.9v4.9h-4.9zM539.0 218.0h4.9v4.9h-4.9zM478.8 222.6h4.9v4.9h-4.9zM539.0 222.6h4.9v4.9h-4.9zM478.8 227.2h4.9v4.9h-4.9zM539.0 227.2h4.9v4.9h-4.9zM478.8 231.9h4.9v4.9h-4.9zM539.0 231.9h4.9v4.9h-4.9zM478.8 236.5h4.9v4.9h-4.9zM478.8 241.2h4.9v4.9h-4.9zM478.8 245.8h4.9v4.9h-4.9zM529.8 245.8h4.9v4.9h-4.9zM478.8 250.4h4.9v4.9h-4.9zM529.8 250.4h4.9v4.9h-4.9zM478.8 255.1h4.9v4.9h-4.9zM529.8 255.1h4.9v4.9h-4.9zM478.8 259.7h4.9v4.9h-4.9zM529.8 259.7h4.9v4.9h-4.9zM474.2 264.4h4.9v4.9h-4.9zM529.8 282.9h4.9v4.9h-4.9zM529.8 287.6h4.9v4.9h-4.9zM529.8 292.2h4.9v4.9h-4.9zM492.7 296.8h4.9v4.9h-4.9zM529.8 296.8h4.9v4.9h-4.9zM515.9 306.1h9.6v4.9h-9.6zM492.7 310.8h4.9v4.9h-4.9zM492.7 315.4h4.9v4.9h-4.9zM557.5 329.3h14.2v4.9h-14.2zM506.6 338.6h4.9v4.9h-4.9zM520.5 338.6h4.9v4.9h-4.9zM617.7 338.6h4.9v4.9h-4.9zM506.6 343.2h4.9v4.9h-4.9zM520.5 343.2h4.9v4.9h-4.9zM617.7 343.2h4.9v4.9h-4.9zM506.6 347.9h4.9v4.9h-4.9zM520.5 347.9h4.9v4.9h-4.9zM617.7 347.9h4.9v4.9h-4.9z"/><path fill="#0080ff" d="M552.9 199.4h4.9v4.9h-4.9zM474.2 204.1h4.9v4.9h-4.9zM552.9 204.1h4.9v4.9h-4.9zM474.2 208.7h4.9v4.9h-4.9zM552.9 208.7h4.9v4.9h-4.9zM474.2 213.3h4.9v4.9h-4.9zM552.9 213.3h4.9v4.9h-4.9zM474.2 218.0h4.9v4.9h-4.9zM543.7 218.0h14.2v4.9h-14.2zM474.2 222.6h4.9v4.9h-4.9zM543.7 222.6h14.2v4.9h-14.2zM474.2 227.2h4.9v4.9h-4.9zM543.7 227.2h14.2v4.9h-14.2zM474.2 231.9h4.9v4.9h-4.9zM543.7 231.9h14.2v4.9h-14.2zM474.2 236.5h4.9v4.9h-4.9zM543.7 236.5h14.2v4.9h-14.2zM474.2 241.2h4.9v4.9h-4.9zM543.7 241.2h14.2v4.9h-14.2zM474.2 245.8h4.9v4.9h-4.9zM534.4 245.8h9.6v4.9h-9.6zM474.2 250.4h4.9v4.9h-4.9zM534.4 250.4h9.6v4.9h-9.6zM474.2 255.1h4.9v4.9h-4.9zM534.4 255.1h9.6v4.9h-9.6zM474.2 259.7h4.9v4.9h-4.9zM534.4 259.7h9.6v4.9h-9.6zM539.0 273.6h4.9v4.9h-4.9zM534.4 278.3h4.9v4.9h-4.9zM497.4 301.5h9.6v4.9h-9.6zM529.8 301.5h4.9v4.9h-4.9zM497.4 306.1h9.6v4.9h-9.6zM525.1 306.1h4.9v4.9h-4.9zM497.4 310.8h9.6v4.9h-9.6zM497.4 315.4h9.6v4.9h-9.6zM497.4 320.0h9.6v4.9h-9.6zM497.4 324.7h9.6v4.9h-9.6zM488.1 329.3h18.8v4.9h-18.8zM552.9 329.3h4.9v4.9h-4.9zM571.4 329.3h4.9v4.9h-4.9zM488.1 333.9h18.8v4.9h-18.8zM552.9 333.9h4.9v4.9h-4.9zM576.1 333.9h4.9v4.9h-4.9zM488.1 338.6h18.8v4.9h-18.8zM525.1 338.6h32.7v4.9h-32.7zM488.1 343.2h18.8v4.9h-18.8zM525.1 343.2h32.7v4.9h-32.7zM488.1 347.9h18.8v4.9h-18.8zM525.1 347.9h32.7v4.9h-32.7z"/><path fill="#00ffff" d="M557.5 199.4h4.9v4.9h-4.9zM557.5 204.1h4.9v4.9h-4.9zM562.2 208.7h4.9v4.9h-4.9zM608.5 208.7h4.9v4.9h-4.9zM566.8 213.3h4.9v4.9h-4.9zM613.1 213.3h4.9v4.9h-4.9zM580.7 236.5h4.9v4.9h-4.9zM636.3 236.5h4.9v4.9h-4.9zM585.3 241.2h4.9v4.9h-4.9zM636.3 241.2h4.9v4.9h-4.9zM636.3 282.9h4.9v4.9h-4.9zM636.3 287.6h4.9v4.9h-4.9zM580.7 301.5h9.6v4.9h-9.6zM580.7 306.1h9.6v4.9h-9.6zM580.7 310.8h9.6v4.9h-9.6zM580.7 315.4h9.6v4.9h-9.6z"/><path fill="#1cffe3" d="M562.2 199.4h4.9v4.9h-4.9zM603.9 204.1h4.9v4.9h-4.9zM613.1 222.6h4.9v4.9h-4.9zM580.7 227.2h4.9v4.9h-4.9zM631.6 287.6h4.9v4.9h-4.9z"/><path fill="#8fff70" d="M571.4 199.4h4.9v4.9h-4.9zM594.6 199.4h4.9v4.9h-4.9zM599.2 213.3h4.9v4.9h-4.9zM603.9 222.6h4.9v4.9h-4.9zM594.6 245.8h4.9v4.9h-4.9zM594.6 250.4h4.9v4.9h-4.9zM631.6 259.7h4.9v4.9h-4.9zM627.0 273.6h4.9v4.9h-4.9zM627.0 292.2h4.9v4.9h-4.9zM636.3 296.8h4.9v4.9h-4.9z"/><path fill="#cfff30" d="M576.1 199.4h4.9v4.9h-4.9zM599.2 222.6h4.9v4.9h-4.9zM627.0 259.7h4.9v4.9h-4.9z"/><path fill="#fff700" d="M580.7 199.4h4.9v4.9h-4.9zM603.9 236.5h4.9v4.9h-4.9z"/><path fill="#ffc700" d="M585.3 199.4h4.9v4.9h-4.9zM590.0 208.7h4.9v4.9h-4.9zM603.9 245.8h4.9v4.9h-4.9z"/><path fill="#3cffc3" d="M599.2 199.4h4.9v4.9h-4.9zM566.8 204.1h4.9v4.9h-4.9zM608.5 218.0h4.9v4.9h-4.9zM585.3 231.9h4.9v4.9h-4.9zM590.0 259.7h4.9v4.9h-4.9zM627.0 282.9h4.9v4.9h-4.9z"/><path fill="#006cff" d="M478.8 204.1h4.9v4.9h-4.9zM580.7 343.2h4.9v4.9h-4.9z"/><path fill="#004dff" d="M483.5 204.1h4.9v4.9h-4.9z"/><path fill="#0004ff" d="M502.0 204.1h4.9v4.9h-4.9zM492.7 269.0h4.9v4.9h-4.9zM492.7 282.9h4.9v4.9h-4.9z"/><path fill="#70ff8f" d="M571.4 204.1h4.9v4.9h-4.9zM599.2 208.7h4.9v4.9h-4.9zM603.9 218.0h4.9v4.9h-4.9zM631.6 255.1h4.9v4.9h-4.9zM636.3 259.7h4.9v4.9h-4.9zM631.6 273.6h4.9v4.9h-4.9zM613.1 310.8h4.9v4.9h-4.9zM613.1 315.4h4.9v4.9h-4.9z"/><path fill="#afff50" d="M576.1 204.1h4.9v4.9h-4.9zM594.6 204.1h4.9v4.9h-4.9zM599.2 218.0h4.9v4.9h-4.9zM627.0 255.1h4.9v4.9h-4.9zM631.6 296.8h4.9v4.9h-4.9z"/><path fill="#f7ff08" d="M580.7 204.1h4.9v4.9h-4.9zM599.2 231.9h4.9v4.9h-4.9zM599.2 236.5h4.9v4.9h-4.9zM599.2 250.4h4.9v4.9h-4.9zM599.2 269.0h4.9v4.9h-4.9zM622.4 296.8h4.9v4.9h-4.9z"/><path fill="#ffb700" d="M585.3 204.1h4.9v4.9h-4.9zM608.5 245.8h4.9v4.9h-4.9zM617.7 250.4h4.9v4.9h-4.9z"/><path fill="#0044ff" d="M534.4 208.7h4.9v4.9h-4.9zM525.1 236.5h4.9v4.9h-4.9zM525.1 269.0h4.9v4.9h-4.9zM525.1 273.6h4.9v4.9h-4.9zM571.4 343.2h4.9v4.9h-4.9z"/><path fill="#004cff" d="M539.0 208.7h4.9v4.9h-4.9zM534.4 213.3h4.9v4.9h-4.9zM529.8 236.5h4.9v4.9h-4.9zM525.1 241.2h4.9v4.9h-4.9zM525.1 264.4h4.9v4.9h-4.9zM529.8 269.0h4.9v4.9h-4.9zM529.8 273.6h4.9v4.9h-4.9zM525.1 278.3h4.9v4.9h-4.9zM571.4 338.6h4.9v4.9h-4.9zM576.1 343.2h4.9v4.9h-4.9z"/><path fill="#005cff" d="M543.7 208.7h4.9v4.9h-4.9zM534.4 236.5h4.9v4.9h-4.9zM534.4 269.0h4.9v4.9h-4.9zM511.2 301.5h4.9v4.9h-4.9zM488.1 320.0h4.9v4.9h-4.9zM511.2 333.9h9.6v4.9h-9.6z"/><path fill="#0074ff" d="M548.3 208.7h4.9v4.9h-4.9zM543.7 213.3h4.9v4.9h-4.9zM539.0 236.5h4.9v4.9h-4.9zM534.4 241.2h4.9v4.9h-4.9zM534.4 264.4h4.9v4.9h-4.9zM539.0 269.0h4.9v4.9h-4.9zM506.6 301.5h4.9v4.9h-4.9zM511.2 306.1h4.9v4.9h-4.9zM492.7 320.0h4.9v4.9h-4.9zM488.1 324.7h4.9v4.9h-4.9zM511.2 329.3h9.6v4.9h-9.6zM506.6 333.9h4.9v4.9h-4.9zM520.5 333.9h4.9v4.9h-4.9z"/><path fill="#20ffdf" d="M566.8 208.7h4.9v4.9h-4.9zM608.5 213.3h4.9v4.9h-4.9zM585.3 236.5h4.9v4.9h-4.9zM636.3 278.3h4.9v4.9h-4.9zM617.7 324.7h9.6v4.9h-9.6zM599.2 329.3h9.6v4.9h-9.6z"/><path fill="#4cffb3" d="M571.4 208.7h4.9v4.9h-4.9zM576.1 213.3h4.9v4.9h-4.9zM617.7 236.5h4.9v4.9h-4.9zM622.4 241.2h4.9v4.9h-4.9zM627.0 245.8h4.9v4.9h-4.9zM631.6 250.4h4.9v4.9h-4.9zM599.2 282.9h4.9v4.9h-4.9zM603.9 287.6h4.9v4.9h-4.9z"/><path fill="#83ff7c" d="M576.1 208.7h4.9v4.9h-4.9zM617.7 241.2h4.9v4.9h-4.9zM627.0 250.4h4.9v4.9h-4.9z"/><path fill="#d3ff2c" d="M580.7 208.7h4.9v4.9h-4.9zM594.6 231.9h4.9v4.9h-4.9zM627.0 264.4h4.9v4.9h-4.9zM622.4 273.6h4.9v4.9h-4.9zM613.1 278.3h4.9v4.9h-4.9zM617.7 301.5h4.9v4.9h-4.9z"/><path fill="#ffc300" d="M585.3 208.7h4.9v4.9h-4.9zM617.7 273.6h4.9v4.9h-4.9z"/><path fill="#c7ff38" d="M594.6 208.7h4.9v4.9h-4.9zM617.7 296.8h4.9v4.9h-4.9z"/><path fill="#00dfff" d="M613.1 208.7h4.9v4.9h-4.9zM562.2 213.3h4.9v4.9h-4.9zM580.7 241.2h4.9v4.9h-4.9zM548.3 278.3h4.9v4.9h-4.9zM576.1 320.0h4.9v4.9h-4.9zM585.3 329.3h4.9v4.9h-4.9zM599.2 333.9h9.6v4.9h-9.6z"/><path fill="#00cbff" d="M617.7 208.7h4.9v4.9h-4.9zM622.4 213.3h4.9v4.9h-4.9zM627.0 218.0h4.9v4.9h-4.9zM631.6 222.6h4.9v4.9h-4.9zM562.2 227.2h4.9v4.9h-4.9zM566.8 231.9h4.9v4.9h-4.9zM571.4 236.5h4.9v4.9h-4.9zM576.1 241.2h4.9v4.9h-4.9zM580.7 264.4h4.9v4.9h-4.9zM585.3 269.0h4.9v4.9h-4.9zM585.3 273.6h4.9v4.9h-4.9zM580.7 278.3h4.9v4.9h-4.9zM543.7 282.9h4.9v4.9h-4.9zM548.3 287.6h4.9v4.9h-4.9zM576.1 292.2h4.9v4.9h-4.9zM571.4 296.8h4.9v4.9h-4.9zM627.0 329.3h4.9v4.9h-4.9z"/><path fill="#00c3ff" d="M622.4 208.7h4.9v4.9h-4.9zM631.6 218.0h4.9v4.9h-4.9zM562.2 231.9h4.9v4.9h-4.9zM571.4 241.2h4.9v4.9h-4.9zM580.7 269.0h4.9v4.9h-4.9zM580.7 273.6h4.9v4.9h-4.9zM543.7 287.6h4.9v4.9h-4.9zM571.4 292.2h4.9v4.9h-4.9zM631.6 329.3h4.9v4.9h-4.9z"/><path fill="#0064ff" d="M539.0 213.3h4.9v4.9h-4.9zM529.8 241.2h4.9v4.9h-4.9zM529.8 264.4h4.9v4.9h-4.9zM529.8 278.3h4.9v4.9h-4.9zM576.1 338.6h4.9v4.9h-4.9z"/><path fill="#007cff" d="M548.3 213.3h4.9v4.9h-4.9zM539.0 241.2h4.9v4.9h-4.9zM539.0 264.4h4.9v4.9h-4.9zM506.6 306.1h4.9v4.9h-4.9zM492.7 324.7h4.9v4.9h-4.9zM506.6 329.3h4.9v4.9h-4.9zM520.5 329.3h4.9v4.9h-4.9zM622.4 333.9h4.9v4.9h-4.9z"/><path fill="#24ffdb" d="M571.4 213.3h4.9v4.9h-4.9zM576.1 218.0h4.9v4.9h-4.9zM617.7 231.9h4.9v4.9h-4.9zM622.4 236.5h4.9v4.9h-4.9zM627.0 241.2h4.9v4.9h-4.9zM631.6 245.8h4.9v4.9h-4.9z"/><path fill="#9bff64" d="M580.7 213.3h4.9v4.9h-4.9zM594.6 255.1h4.9v4.9h-4.9zM631.6 264.4h4.9v4.9h-4.9z"/><path fill="#ffeb00" d="M585.3 213.3h4.9v4.9h-4.9zM622.4 306.1h4.9v4.9h-4.9z"/><path fill="#ffd700" d="M590.0 213.3h4.9v4.9h-4.9zM599.2 264.4h4.9v4.9h-4.9z"/><path fill="#d7ff28" d="M594.6 213.3h4.9v4.9h-4.9zM585.3 218.0h4.9v4.9h-4.9zM617.7 245.8h4.9v4.9h-4.9zM622.4 250.4h4.9v4.9h-4.9z"/><path fill="#00e3ff" d="M617.7 213.3h4.9v4.9h-4.9zM627.0 222.6h4.9v4.9h-4.9zM566.8 227.2h4.9v4.9h-4.9zM576.1 236.5h4.9v4.9h-4.9zM585.3 264.4h4.9v4.9h-4.9zM585.3 278.3h4.9v4.9h-4.9zM548.3 282.9h4.9v4.9h-4.9zM576.1 296.8h4.9v4.9h-4.9z"/><path fill="#0cfff3" d="M571.4 218.0h4.9v4.9h-4.9zM576.1 222.6h4.9v4.9h-4.9zM617.7 227.2h4.9v4.9h-4.9zM622.4 231.9h4.9v4.9h-4.9zM627.0 236.5h4.9v4.9h-4.9zM631.6 241.2h4.9v4.9h-4.9z"/><path fill="#68ff97" d="M580.7 218.0h4.9v4.9h-4.9z"/><path fill="#00f3ff" d="M617.7 218.0h4.9v4.9h-4.9zM622.4 222.6h4.9v4.9h-4.9zM571.4 227.2h4.9v4.9h-4.9zM627.0 227.2h4.9v4.9h-4.9zM576.1 231.9h4.9v4.9h-4.9zM631.6 231.9h4.9v4.9h-4.9zM585.3 292.2h4.9v4.9h-4.9zM580.7 296.8h4.9v4.9h-4.9zM580.7 320.0h4.9v4.9h-4.9zM585.3 324.7h4.9v4.9h-4.9z"/><path fill="#00dbff" d="M622.4 218.0h4.9v4.9h-4.9zM631.6 227.2h4.9v4.9h-4.9zM571.4 231.9h4.9v4.9h-4.9zM580.7 292.2h4.9v4.9h-4.9zM580.7 324.7h4.9v4.9h-4.9zM617.7 329.3h4.9v4.9h-4.9zM594.6 333.9h4.9v4.9h-4.9z"/><path fill="#04fffb" d="M571.4 222.6h4.9v4.9h-4.9zM622.4 227.2h4.9v4.9h-4.9zM631.6 236.5h4.9v4.9h-4.9zM590.0 269.0h4.9v4.9h-4.9z"/><path fill="#38ffc7" d="M580.7 222.6h4.9v4.9h-4.9zM594.6 278.3h4.9v4.9h-4.9zM608.5 324.7h4.9v4.9h-4.9z"/><path fill="#87ff78" d="M585.3 222.6h4.9v4.9h-4.9zM622.4 245.8h4.9v4.9h-4.9z"/><path fill="#bfff40" d="M590.0 222.6h4.9v4.9h-4.9zM594.6 236.5h4.9v4.9h-4.9zM636.3 315.4h4.9v4.9h-4.9z"/><path fill="#93ff6c" d="M590.0 227.2h4.9v4.9h-4.9zM631.6 269.0h4.9v4.9h-4.9zM613.1 296.8h4.9v4.9h-4.9zM613.1 301.5h4.9v4.9h-4.9z"/><path fill="#dbff24" d="M594.6 227.2h4.9v4.9h-4.9zM608.5 278.3h4.9v4.9h-4.9z"/><path fill="#e7ff18" d="M599.2 227.2h4.9v4.9h-4.9zM603.9 231.9h4.9v4.9h-4.9zM599.2 241.2h4.9v4.9h-4.9zM599.2 245.8h4.9v4.9h-4.9z"/><path fill="#b7ff48" d="M603.9 227.2h4.9v4.9h-4.9z"/><path fill="#7cff83" d="M608.5 227.2h4.9v4.9h-4.9zM590.0 231.9h4.9v4.9h-4.9zM622.4 278.3h4.9v4.9h-4.9zM613.1 282.9h4.9v4.9h-4.9zM617.7 287.6h4.9v4.9h-4.9zM613.1 292.2h4.9v4.9h-4.9zM613.1 306.1h4.9v4.9h-4.9z"/><path fill="#34ffcb" d="M613.1 227.2h4.9v4.9h-4.9zM590.0 255.1h4.9v4.9h-4.9z"/><path fill="#b3ff4c" d="M608.5 231.9h4.9v4.9h-4.9zM594.6 259.7h4.9v4.9h-4.9zM617.7 278.3h4.9v4.9h-4.9zM627.0 315.4h4.9v4.9h-4.9z"/><path fill="#60ff9f" d="M590.0 236.5h4.9v4.9h-4.9zM636.3 273.6h4.9v4.9h-4.9zM617.7 320.0h9.6v4.9h-9.6z"/><path fill="#e3ff1c" d="M608.5 236.5h4.9v4.9h-4.9z"/><path fill="#8bff74" d="M613.1 236.5h4.9v4.9h-4.9zM617.7 315.4h4.9v4.9h-4.9z"/><path fill="#40ffbf" d="M590.0 241.2h4.9v4.9h-4.9zM599.2 292.2h9.6v4.9h-9.6zM599.2 296.8h9.6v4.9h-9.6zM599.2 301.5h9.6v4.9h-9.6zM599.2 306.1h9.6v4.9h-9.6zM599.2 310.8h9.6v4.9h-9.6zM599.2 315.4h9.6v4.9h-9.6zM599.2 320.0h9.6v4.9h-9.6zM599.2 324.7h9.6v4.9h-9.6z"/><path fill="#ffe700" d="M603.9 241.2h4.9v4.9h-4.9zM613.1 245.8h4.9v4.9h-4.9z"/><path fill="#fff300" d="M608.5 241.2h4.9v4.9h-4.9z"/><path fill="#c3ff3c" d="M613.1 241.2h4.9v4.9h-4.9z"/><path fill="#0083ff" d="M543.7 245.8h4.9v4.9h-4.9zM506.6 310.8h4.9v4.9h-4.9zM506.6 324.7h4.9v4.9h-4.9zM525.1 333.9h4.9v4.9h-4.9zM548.3 333.9h4.9v4.9h-4.9zM627.0 333.9h4.9v4.9h-4.9zM580.7 338.6h4.9v4.9h-4.9z"/><path fill="#008bff" d="M548.3 245.8h4.9v4.9h-4.9zM543.7 250.4h4.9v4.9h-4.9zM511.2 310.8h4.9v4.9h-4.9zM506.6 315.4h4.9v4.9h-4.9zM506.6 320.0h4.9v4.9h-4.9zM511.2 324.7h4.9v4.9h-4.9zM525.1 329.3h4.9v4.9h-4.9zM548.3 329.3h4.9v4.9h-4.9zM529.8 333.9h4.9v4.9h-4.9zM543.7 333.9h4.9v4.9h-4.9z"/><path fill="#008fff" d="M552.9 245.8h4.9v4.9h-4.9zM543.7 255.1h4.9v4.9h-4.9zM543.7 259.7h4.9v4.9h-4.9zM543.7 264.4h4.9v4.9h-4.9zM543.7 269.0h4.9v4.9h-4.9zM534.4 282.9h4.9v4.9h-4.9zM534.4 287.6h4.9v4.9h-4.9zM534.4 292.2h4.9v4.9h-4.9zM488.1 296.8h4.9v4.9h-4.9zM534.4 296.8h4.9v4.9h-4.9zM552.9 324.7h18.8v4.9h-18.8zM534.4 333.9h9.6v4.9h-9.6zM613.1 338.6h4.9v4.9h-4.9zM613.1 343.2h4.9v4.9h-4.9zM594.6 347.9h9.6v4.9h-9.6zM613.1 347.9h4.9v4.9h-4.9z"/><path fill="#00a3ff" d="M548.3 250.4h4.9v4.9h-4.9zM511.2 315.4h4.9v4.9h-4.9zM511.2 320.0h4.9v4.9h-4.9zM529.8 329.3h4.9v4.9h-4.9zM543.7 329.3h4.9v4.9h-4.9zM585.3 343.2h4.9v4.9h-4.9z"/><path fill="#00afff" d="M552.9 250.4h4.9v4.9h-4.9zM548.3 255.1h4.9v4.9h-4.9zM548.3 259.7h4.9v4.9h-4.9zM548.3 264.4h4.9v4.9h-4.9zM548.3 269.0h4.9v4.9h-4.9zM539.0 282.9h4.9v4.9h-4.9zM539.0 287.6h4.9v4.9h-4.9zM539.0 292.2h4.9v4.9h-4.9zM539.0 296.8h4.9v4.9h-4.9zM552.9 320.0h18.8v4.9h-18.8zM534.4 329.3h9.6v4.9h-9.6zM613.1 333.9h4.9v4.9h-4.9zM608.5 338.6h4.9v4.9h-4.9zM608.5 343.2h4.9v4.9h-4.9zM590.0 347.9h4.9v4.9h-4.9zM603.9 347.9h9.6v4.9h-9.6z"/><path fill="#ff9700" d="M603.9 250.4h4.9v4.9h-4.9z"/><path fill="#ff6800" d="M608.5 250.4h4.9v4.9h-4.9z"/><path fill="#ff7800" d="M613.1 250.4h4.9v4.9h-4.9z"/><path fill="#ff7000" d="M603.9 255.1h4.9v4.9h-4.9zM617.7 255.1h4.9v4.9h-4.9zM617.7 269.0h4.9v4.9h-4.9z"/><path fill="#ff3000" d="M608.5 255.1h9.6v4.9h-9.6z"/><path fill="#ff5000" d="M603.9 259.7h4.9v4.9h-4.9zM617.7 259.7h4.9v4.9h-4.9zM617.7 264.4h4.9v4.9h-4.9z"/><path fill="#ff1000" d="M608.5 259.7h9.6v4.9h-9.6z"/><path fill="#2cffd3" d="M590.0 264.4h4.9v4.9h-4.9z"/><path fill="#a3ff5c" d="M594.6 264.4h4.9v4.9h-4.9zM617.7 310.8h4.9v4.9h-4.9zM622.4 315.4h4.9v4.9h-4.9z"/><path fill="#ff4800" d="M603.9 264.4h4.9v4.9h-4.9z"/><path fill="#ff0400" d="M608.5 264.4h4.9v4.9h-4.9z"/><path fill="#ff0c00" d="M613.1 264.4h4.9v4.9h-4.9zM608.5 269.0h4.9v4.9h-4.9z"/><path fill="#6cff93" d="M594.6 269.0h4.9v4.9h-4.9z"/><path fill="#ff5800" d="M603.9 269.0h4.9v4.9h-4.9z"/><path fill="#ff2400" d="M613.1 269.0h4.9v4.9h-4.9z"/><path fill="#bbff44" d="M627.0 269.0h4.9v4.9h-4.9zM599.2 273.6h4.9v4.9h-4.9zM603.9 278.3h4.9v4.9h-4.9zM617.7 306.1h4.9v4.9h-4.9zM631.6 315.4h4.9v4.9h-4.9z"/><path fill="#009fff" d="M543.7 273.6h4.9v4.9h-4.9zM539.0 278.3h4.9v4.9h-4.9zM474.2 296.8h14.2v4.9h-14.2zM474.2 301.5h14.2v4.9h-14.2zM529.8 306.1h4.9v4.9h-4.9zM571.4 324.7h4.9v4.9h-4.9zM576.1 329.3h4.9v4.9h-4.9zM580.7 333.9h4.9v4.9h-4.9zM631.6 338.6h4.9v4.9h-4.9zM631.6 343.2h4.9v4.9h-4.9zM585.3 347.9h4.9v4.9h-4.9zM631.6 347.9h4.9v4.9h-4.9z"/><path fill="#00f7ff" d="M590.0 273.6h4.9v4.9h-4.9z"/><path fill="#48ffb7" d="M594.6 273.6h4.9v4.9h-4.9zM608.5 320.0h4.9v4.9h-4.9z"/><path fill="#ffab00" d="M603.9 273.6h4.9v4.9h-4.9z"/><path fill="#ff6c00" d="M608.5 273.6h4.9v4.9h-4.9z"/><path fill="#ff8300" d="M613.1 273.6h4.9v4.9h-4.9z"/><path fill="#08fff7" d="M590.0 278.3h4.9v4.9h-4.9z"/><path fill="#74ff8b" d="M599.2 278.3h4.9v4.9h-4.9zM608.5 282.9h4.9v4.9h-4.9zM617.7 282.9h4.9v4.9h-4.9zM613.1 287.6h4.9v4.9h-4.9zM622.4 287.6h4.9v4.9h-4.9z"/><path fill="#64ff9b" d="M603.9 282.9h4.9v4.9h-4.9z"/><path fill="#44ffbb" d="M599.2 287.6h4.9v4.9h-4.9z"/><path fill="#97ff68" d="M617.7 292.2h4.9v4.9h-4.9z"/><path fill="#a7ff58" d="M622.4 292.2h4.9v4.9h-4.9z"/><path fill="#efff10" d="M627.0 296.8h4.9v4.9h-4.9zM636.3 301.5h4.9v4.9h-4.9z"/><path fill="#0097ff" d="M488.1 301.5h4.9v4.9h-4.9z"/><path fill="#0087ff" d="M492.7 301.5h4.9v4.9h-4.9z"/><path fill="#009bff" d="M534.4 301.5h4.9v4.9h-4.9zM520.5 310.8h4.9v4.9h-4.9zM520.5 324.7h4.9v4.9h-4.9zM548.3 324.7h4.9v4.9h-4.9zM594.6 343.2h9.6v4.9h-9.6z"/><path fill="#00b3ff" d="M539.0 301.5h4.9v4.9h-4.9zM534.4 306.1h4.9v4.9h-4.9zM548.3 320.0h4.9v4.9h-4.9zM543.7 324.7h4.9v4.9h-4.9zM594.6 338.6h9.6v4.9h-9.6zM590.0 343.2h4.9v4.9h-4.9zM603.9 343.2h4.9v4.9h-4.9z"/><path fill="#ffe300" d="M622.4 301.5h4.9v4.9h-4.9zM627.0 310.8h4.9v4.9h-4.9z"/><path fill="#ffd300" d="M627.0 301.5h4.9v4.9h-4.9z"/><path fill="#fffb00" d="M631.6 301.5h4.9v4.9h-4.9z"/><path fill="#0068ff" d="M488.1 306.1h4.9v4.9h-4.9z"/><path fill="#0078ff" d="M492.7 306.1h4.9v4.9h-4.9z"/><path fill="#00bbff" d="M539.0 306.1h4.9v4.9h-4.9zM515.9 315.4h4.9v4.9h-4.9zM515.9 320.0h4.9v4.9h-4.9zM543.7 320.0h4.9v4.9h-4.9zM590.0 338.6h4.9v4.9h-4.9zM603.9 338.6h4.9v4.9h-4.9z"/><path fill="#ffbb00" d="M627.0 306.1h4.9v4.9h-4.9z"/><path fill="#ffb300" d="M631.6 306.1h4.9v4.9h-4.9z"/><path fill="#ffaf00" d="M636.3 306.1h4.9v4.9h-4.9z"/><path fill="#0093ff" d="M515.9 310.8h4.9v4.9h-4.9zM515.9 324.7h4.9v4.9h-4.9zM617.7 333.9h4.9v4.9h-4.9z"/><path fill="#00a7ff" d="M525.1 310.8h4.9v4.9h-4.9zM525.1 324.7h4.9v4.9h-4.9z"/><path fill="#00b7ff" d="M529.8 310.8h4.9v4.9h-4.9zM529.8 324.7h4.9v4.9h-4.9z"/><path fill="#ebff14" d="M622.4 310.8h4.9v4.9h-4.9z"/><path fill="#ffcb00" d="M631.6 310.8h4.9v4.9h-4.9z"/><path fill="#ffbf00" d="M636.3 310.8h4.9v4.9h-4.9z"/><path fill="#00d3ff" d="M520.5 315.4h4.9v4.9h-4.9zM520.5 320.0h4.9v4.9h-4.9zM622.4 329.3h4.9v4.9h-4.9zM590.0 333.9h4.9v4.9h-4.9z"/><path fill="#00d7ff" d="M525.1 315.4h4.9v4.9h-4.9zM525.1 320.0h4.9v4.9h-4.9z"/><path fill="#00c7ff" d="M529.8 315.4h4.9v4.9h-4.9zM529.8 320.0h4.9v4.9h-4.9z"/><path fill="#58ffa7" d="M613.1 320.0h4.9v4.9h-4.9z"/><path fill="#28ffd7" d="M613.1 324.7h4.9v4.9h-4.9z"/><path fill="#00abff" d="M631.6 333.9h4.9v4.9h-4.9zM585.3 338.6h4.9v4.9h-4.9z"/><path fill="#000080" d="M557.5 185.5H574.8V194.9H557.5zM574.8 185.5H582.4V196.8H574.8zM582.4 185.5H593.7V198.0H582.4zM593.7 185.5H605.0V200.0H593.7zM605.0 185.5H617.5V200.6H605.0zM617.5 185.5H620.0V203.7H617.5zM620.0 185.5H640.9V208.7H620.0zM474.2 325.4H483.8V352.5H474.2zM483.8 331.5H498.5V352.5H483.8zM498.5 335.0H518.2V352.5H498.5zM518.2 341.3H545.1V352.5H518.2zM545.1 346.0H557.5V352.5H545.1zM557.5 346.5H572.1V352.5H557.5zM572.1 345.0H599.1V352.5H572.1zM599.1 345.0H616.3V352.5H599.1zM616.3 342.0H631.0V352.5H616.3zM631.0 336.4H637.1V352.5H631.0zM637.1 327.8H640.9V352.5H637.1z"/><circle cx="559.0" cy="269.5" r="18.3" fill="none" stroke="#000" stroke-width="1.6"/><circle cx="559.0" cy="269.5" r="36.6" fill="none" stroke="#000" stroke-width="1.5"/><circle cx="559.0" cy="269.5" r="54.8" fill="none" stroke="#000" stroke-width="1.2"/><circle cx="559.0" cy="269.5" r="73.1" fill="none" stroke="#000" stroke-width="1.1"/><circle cx="559.0" cy="269.8" r="0.9" fill="#000"/><g font-size="16" stroke-width="0.35"><text x="479.2" y="201.8" fill="#fff" stroke="#fff" text-anchor="start">557.7nm</text><text x="558.4" y="198.2" fill="#fff" stroke="#fff" text-anchor="middle">N</text><text x="476.5" y="272.9" fill="#fff" stroke="#fff" text-anchor="start">E</text><text x="557.9" y="351.8" fill="#fff" stroke="#fff" text-anchor="start">S</text><text x="589.5" y="201.2" fill="#fff" stroke="#fff" text-anchor="start">50</text><text x="579.7" y="216.5" fill="#000" stroke="#000" text-anchor="start">60</text><text x="571.6" y="233.1" fill="#000" stroke="#000" text-anchor="start">70</text><text x="564.5" y="250.6" fill="#000" stroke="#000" text-anchor="start">80</text><text x="556.8" y="267.1" fill="#000" stroke="#000" text-anchor="start">90</text></g><g font-size="16" stroke-width="0.35"><text x="629.6" y="272.6" fill="#fff" stroke="#fff" text-anchor="start">W</text></g><path d="M483.4 185.5v2.2M483.4 352.5v-2.2M492.6 185.5v2.2M492.6 352.5v-2.2M501.8 185.5v2.2M501.8 352.5v-2.2M511.0 185.5v2.2M511.0 352.5v-2.2M520.2 185.5v2.2M520.2 352.5v-2.2M529.4 185.5v2.2M529.4 352.5v-2.2M538.6 185.5v2.2M538.6 352.5v-2.2M547.8 185.5v2.2M547.8 352.5v-2.2M557.0 185.5v2.2M557.0 352.5v-2.2M566.1 185.5v2.2M566.1 352.5v-2.2M575.3 185.5v2.2M575.3 352.5v-2.2M584.5 185.5v2.2M584.5 352.5v-2.2M593.7 185.5v2.2M593.7 352.5v-2.2M602.9 185.5v2.2M602.9 352.5v-2.2M612.1 185.5v2.2M612.1 352.5v-2.2M621.3 185.5v2.2M621.3 352.5v-2.2M630.5 185.5v2.2M630.5 352.5v-2.2M639.7 185.5v2.2M639.7 352.5v-2.2M474.2 194.7h2.2M474.2 203.9h2.2M474.2 213.1h2.2M474.2 222.3h2.2M474.2 231.5h2.2M474.2 240.7h2.2M474.2 249.9h2.2M474.2 259.1h2.2M474.2 268.3h2.2M474.2 277.4h2.2M474.2 286.6h2.2M474.2 295.8h2.2M474.2 305.0h2.2M474.2 314.2h2.2M474.2 323.4h2.2M474.2 332.6h2.2M474.2 341.8h2.2M474.2 351.0h2.2" stroke="#000" stroke-width="1" fill="none"/><rect x="640.9" y="185.5" width="2.8" height="167.0" fill="url(#jet)"/><path d="M643.7 347.81h-2.2M643.7 343.12h-2.2M643.7 338.43h-2.2M643.7 333.74h-2.2M643.7 329.05h-2.2M643.7 324.36h-2.2M643.7 319.67h-2.2M643.7 314.98h-2.2M643.7 310.29h-2.2M643.7 305.60h-2.2M643.7 300.91h-2.2M643.7 296.22h-2.2M643.7 291.53h-2.2M643.7 286.84h-2.2M643.7 282.15h-2.2M643.7 277.46h-2.2M643.7 272.77h-2.2M643.7 268.08h-2.2M643.7 263.39h-2.2M643.7 258.70h-2.2M643.7 254.01h-2.2M643.7 249.32h-2.2M643.7 244.63h-2.2M643.7 239.94h-2.2M643.7 235.25h-2.2M643.7 230.56h-2.2M643.7 225.87h-2.2M643.7 221.18h-2.2M643.7 216.49h-2.2M643.7 211.80h-2.2M643.7 207.11h-2.2M643.7 202.42h-2.2M643.7 197.73h-2.2M643.7 193.04h-2.2M643.7 188.35h-2.2" stroke="#000" stroke-width="0.9" fill="none"/><rect x="474.2" y="185.5" width="169.5" height="167.0" fill="none" stroke="#000" stroke-width="1"/><line x1="640.9" y1="185.5" x2="640.9" y2="352.5" stroke="#000" stroke-width="0.6"/><g font-size="16" fill="#000"><text x="643.7" y="213.0">120</text><text x="643.7" y="237.7">100</text><text x="645.2" y="261.8">80</text><text x="645.2" y="285.7">60</text><text x="645.2" y="309.9">40</text><text x="645.2" y="332.6">20</text><text x="645.2" y="353.7">0</text></g><text font-size="16.3" transform="translate(674.9 268.5) rotate(-90)" x="0" y="5.5" text-anchor="middle">I (kR)</text><text font-size="21" x="451.2" y="204.1">(f)</text><rect x="28.1" y="363.5" width="164.2" height="165.8" fill="#000080"/><path fill="#000080" d="M28.1 363.5h9.4v4.9h-9.4zM28.1 368.1h9.4v4.9h-9.4zM28.1 510.9h27.7v4.9h-27.7zM28.1 515.5h27.7v4.9h-27.7zM28.1 520.1h73.3v4.9h-73.3zM28.1 524.7h73.3v4.9h-73.3z"/><path fill="#0000bf" d="M37.2 363.5h32.2v4.9h-32.2zM28.1 372.7h4.9v4.9h-4.9zM28.1 497.1h4.9v4.9h-4.9zM28.1 501.7h4.9v4.9h-4.9zM28.1 506.3h14.0v4.9h-14.0zM55.5 515.5h4.9v4.9h-4.9z"/><path fill="#0000df" d="M69.2 363.5h4.9v4.9h-4.9z"/><path fill="#0020ff" d="M73.7 363.5h4.9v4.9h-4.9zM69.2 510.9h4.9v4.9h-4.9z"/><path fill="#0040ff" d="M78.3 363.5h9.4v4.9h-9.4zM105.6 363.5h4.9v4.9h-4.9zM78.3 368.1h9.4v4.9h-9.4zM105.6 368.1h4.9v4.9h-4.9zM78.3 372.7h9.4v4.9h-9.4zM105.6 372.7h4.9v4.9h-4.9zM78.3 377.3h18.5v4.9h-18.5zM78.3 381.9h18.5v4.9h-18.5zM78.3 386.5h18.5v4.9h-18.5zM78.3 391.1h18.5v4.9h-18.5zM69.2 395.7h27.7v4.9h-27.7zM69.2 400.3h27.7v4.9h-27.7zM69.2 404.9h27.7v4.9h-27.7zM69.2 409.6h27.7v4.9h-27.7zM69.2 414.2h18.5v4.9h-18.5zM69.2 418.8h18.5v4.9h-18.5zM60.0 423.4h27.7v4.9h-27.7zM60.0 428.0h27.7v4.9h-27.7zM60.0 432.6h27.7v4.9h-27.7zM60.0 437.2h27.7v4.9h-27.7zM69.2 441.8h18.5v4.9h-18.5zM69.2 446.4h18.5v4.9h-18.5zM69.2 451.0h9.4v4.9h-9.4zM69.2 455.6h9.4v4.9h-9.4zM60.0 460.2h18.5v4.9h-18.5zM60.0 464.8h18.5v4.9h-18.5zM60.0 469.4h9.4v4.9h-9.4zM60.0 474.0h9.4v4.9h-9.4zM60.0 478.6h9.4v4.9h-9.4zM60.0 483.2h9.4v4.9h-9.4zM60.0 487.8h9.4v4.9h-9.4zM60.0 492.5h9.4v4.9h-9.4zM60.0 497.1h9.4v4.9h-9.4zM60.0 501.7h9.4v4.9h-9.4zM69.2 506.3h4.9v4.9h-4.9zM73.7 510.9h4.9v4.9h-4.9zM78.3 515.5h18.5v4.9h-18.5zM110.2 515.5h14.0v4.9h-14.0zM110.2 520.1h14.0v4.9h-14.0zM101.1 524.7h32.2v4.9h-32.2z"/><path fill="#0030ff" d="M87.4 363.5h4.9v4.9h-4.9zM101.1 363.5h4.9v4.9h-4.9zM73.7 377.3h4.9v4.9h-4.9zM73.7 381.9h4.9v4.9h-4.9zM64.6 395.7h4.9v4.9h-4.9zM64.6 400.3h4.9v4.9h-4.9zM64.6 404.9h4.9v4.9h-4.9zM64.6 409.6h4.9v4.9h-4.9zM55.5 423.4h4.9v4.9h-4.9zM55.5 428.0h4.9v4.9h-4.9zM55.5 432.6h4.9v4.9h-4.9zM55.5 437.2h4.9v4.9h-4.9zM55.5 460.2h4.9v4.9h-4.9zM55.5 464.8h4.9v4.9h-4.9zM28.1 474.0h23.1v4.9h-23.1zM28.1 478.6h23.1v4.9h-23.1zM55.5 487.8h4.9v4.9h-4.9zM55.5 492.5h4.9v4.9h-4.9zM55.5 497.1h4.9v4.9h-4.9zM55.5 501.7h4.9v4.9h-4.9zM73.7 515.5h4.9v4.9h-4.9z"/><path fill="#0010ff" d="M92.0 363.5h9.4v4.9h-9.4zM69.2 377.3h4.9v4.9h-4.9zM69.2 381.9h4.9v4.9h-4.9zM60.0 395.7h4.9v4.9h-4.9zM60.0 400.3h4.9v4.9h-4.9zM60.0 404.9h4.9v4.9h-4.9zM60.0 409.6h4.9v4.9h-4.9zM50.9 423.4h4.9v4.9h-4.9zM50.9 428.0h4.9v4.9h-4.9zM50.9 432.6h4.9v4.9h-4.9zM50.9 437.2h4.9v4.9h-4.9zM50.9 460.2h4.9v4.9h-4.9zM50.9 464.8h4.9v4.9h-4.9zM28.1 469.4h23.1v4.9h-23.1zM28.1 483.2h23.1v4.9h-23.1zM50.9 487.8h4.9v4.9h-4.9zM50.9 492.5h4.9v4.9h-4.9zM50.9 497.1h4.9v4.9h-4.9zM50.9 501.7h4.9v4.9h-4.9zM69.2 515.5h4.9v4.9h-4.9z"/><path fill="#00bfff" d="M110.2 363.5h4.9v4.9h-4.9zM110.2 395.7h4.9v4.9h-4.9zM110.2 400.3h4.9v4.9h-4.9zM110.2 404.9h4.9v4.9h-4.9zM110.2 409.6h4.9v4.9h-4.9zM110.2 414.2h14.0v4.9h-14.0zM110.2 418.8h14.0v4.9h-14.0zM110.2 423.4h4.9v4.9h-4.9zM123.9 423.4h4.9v4.9h-4.9zM110.2 428.0h4.9v4.9h-4.9zM128.4 428.0h4.9v4.9h-4.9zM110.2 432.6h4.9v4.9h-4.9zM110.2 437.2h4.9v4.9h-4.9zM110.2 441.8h4.9v4.9h-4.9zM110.2 446.4h4.9v4.9h-4.9zM105.6 451.0h27.7v4.9h-27.7zM105.6 455.6h27.7v4.9h-27.7zM105.6 460.2h27.7v4.9h-27.7zM105.6 464.8h27.7v4.9h-27.7zM105.6 469.4h4.9v4.9h-4.9zM123.9 469.4h9.4v4.9h-9.4zM105.6 474.0h4.9v4.9h-4.9zM123.9 474.0h9.4v4.9h-9.4zM96.5 478.6h14.0v4.9h-14.0zM96.5 483.2h14.0v4.9h-14.0z"/><path fill="#00ffff" d="M114.8 363.5h4.9v4.9h-4.9zM110.2 377.3h4.9v4.9h-4.9zM110.2 381.9h4.9v4.9h-4.9zM123.9 404.9h4.9v4.9h-4.9zM128.4 409.6h4.9v4.9h-4.9z"/><path fill="#80ff80" d="M119.3 363.5h4.9v4.9h-4.9zM178.6 404.9h14.0v4.9h-14.0zM178.6 409.6h14.0v4.9h-14.0zM187.7 414.2h4.9v4.9h-4.9zM187.7 418.8h4.9v4.9h-4.9zM187.7 460.2h4.9v4.9h-4.9zM187.7 464.8h4.9v4.9h-4.9zM164.9 506.3h4.9v4.9h-4.9zM178.6 506.3h14.0v4.9h-14.0zM160.4 510.9h4.9v4.9h-4.9zM178.6 510.9h14.0v4.9h-14.0zM178.6 515.5h14.0v4.9h-14.0zM178.6 520.1h14.0v4.9h-14.0zM160.4 524.7h32.2v4.9h-32.2z"/><path fill="#efff10" d="M123.9 363.5h4.9v4.9h-4.9zM123.9 368.1h4.9v4.9h-4.9zM123.9 372.7h4.9v4.9h-4.9zM187.7 437.2h4.9v4.9h-4.9z"/><path fill="#ffaf00" d="M128.4 363.5h4.9v4.9h-4.9zM128.4 368.1h4.9v4.9h-4.9zM128.4 372.7h4.9v4.9h-4.9zM160.4 423.4h4.9v4.9h-4.9zM174.1 437.2h4.9v4.9h-4.9z"/><path fill="#ff8000" d="M133.0 363.5h9.4v4.9h-9.4zM133.0 368.1h9.4v4.9h-9.4zM133.0 372.7h9.4v4.9h-9.4z"/><path fill="#ffbf00" d="M142.1 363.5h4.9v4.9h-4.9zM142.1 368.1h4.9v4.9h-4.9zM142.1 372.7h4.9v4.9h-4.9zM128.4 377.3h4.9v4.9h-4.9zM142.1 377.3h4.9v4.9h-4.9zM142.1 381.9h4.9v4.9h-4.9z"/><path fill="#bfff40" d="M146.7 363.5h4.9v4.9h-4.9zM187.7 363.5h4.9v4.9h-4.9zM146.7 368.1h4.9v4.9h-4.9zM187.7 368.1h4.9v4.9h-4.9zM146.7 372.7h4.9v4.9h-4.9zM187.7 372.7h4.9v4.9h-4.9zM146.7 377.3h4.9v4.9h-4.9zM187.7 377.3h4.9v4.9h-4.9zM123.9 381.9h4.9v4.9h-4.9zM146.7 381.9h4.9v4.9h-4.9zM187.7 381.9h4.9v4.9h-4.9zM187.7 386.5h4.9v4.9h-4.9zM187.7 391.1h4.9v4.9h-4.9zM178.6 423.4h4.9v4.9h-4.9zM183.2 428.0h4.9v4.9h-4.9z"/><path fill="#70ff8f" d="M151.3 363.5h4.9v4.9h-4.9zM174.1 363.5h4.9v4.9h-4.9zM151.3 368.1h4.9v4.9h-4.9zM174.1 368.1h4.9v4.9h-4.9zM151.3 372.7h4.9v4.9h-4.9zM174.1 372.7h4.9v4.9h-4.9zM151.3 377.3h4.9v4.9h-4.9zM174.1 377.3h4.9v4.9h-4.9zM151.3 381.9h4.9v4.9h-4.9zM174.1 381.9h4.9v4.9h-4.9zM151.3 386.5h4.9v4.9h-4.9zM174.1 386.5h4.9v4.9h-4.9zM151.3 391.1h4.9v4.9h-4.9zM174.1 391.1h4.9v4.9h-4.9zM174.1 395.7h4.9v4.9h-4.9zM174.1 400.3h4.9v4.9h-4.9zM164.9 487.8h4.9v4.9h-4.9zM164.9 492.5h4.9v4.9h-4.9zM164.9 497.1h4.9v4.9h-4.9zM164.9 501.7h4.9v4.9h-4.9zM155.8 515.5h4.9v4.9h-4.9zM155.8 520.1h4.9v4.9h-4.9zM155.8 524.7h4.9v4.9h-4.9z"/><path fill="#50ffaf" d="M155.8 363.5h4.9v4.9h-4.9zM169.5 363.5h4.9v4.9h-4.9zM155.8 368.1h4.9v4.9h-4.9zM169.5 368.1h4.9v4.9h-4.9zM155.8 372.7h4.9v4.9h-4.9zM169.5 372.7h4.9v4.9h-4.9zM155.8 377.3h4.9v4.9h-4.9zM169.5 377.3h4.9v4.9h-4.9zM155.8 381.9h4.9v4.9h-4.9zM169.5 381.9h4.9v4.9h-4.9zM119.3 386.5h4.9v4.9h-4.9zM155.8 386.5h4.9v4.9h-4.9zM169.5 386.5h4.9v4.9h-4.9zM155.8 391.1h4.9v4.9h-4.9zM169.5 391.1h4.9v4.9h-4.9zM169.5 395.7h4.9v4.9h-4.9zM169.5 400.3h4.9v4.9h-4.9zM160.4 487.8h4.9v4.9h-4.9zM160.4 492.5h4.9v4.9h-4.9zM160.4 497.1h4.9v4.9h-4.9zM160.4 501.7h4.9v4.9h-4.9zM151.3 515.5h4.9v4.9h-4.9zM151.3 520.1h4.9v4.9h-4.9zM151.3 524.7h4.9v4.9h-4.9z"/><path fill="#40ffbf" d="M160.4 363.5h9.4v4.9h-9.4zM160.4 368.1h9.4v4.9h-9.4zM160.4 372.7h9.4v4.9h-9.4zM160.4 377.3h9.4v4.9h-9.4zM160.4 381.9h9.4v4.9h-9.4zM160.4 386.5h9.4v4.9h-9.4zM160.4 391.1h9.4v4.9h-9.4zM123.9 395.7h4.9v4.9h-4.9zM128.4 400.3h4.9v4.9h-4.9zM133.0 404.9h4.9v4.9h-4.9zM137.6 409.6h4.9v4.9h-4.9zM151.3 469.4h9.4v4.9h-9.4zM151.3 474.0h9.4v4.9h-9.4zM151.3 478.6h9.4v4.9h-9.4zM151.3 483.2h9.4v4.9h-9.4zM151.3 487.8h9.4v4.9h-9.4zM151.3 492.5h9.4v4.9h-9.4zM151.3 497.1h9.4v4.9h-9.4zM151.3 501.7h9.4v4.9h-9.4z"/><path fill="#8fff70" d="M178.6 363.5h4.9v4.9h-4.9zM178.6 368.1h4.9v4.9h-4.9zM178.6 372.7h4.9v4.9h-4.9zM178.6 377.3h4.9v4.9h-4.9zM178.6 381.9h4.9v4.9h-4.9zM178.6 386.5h4.9v4.9h-4.9zM178.6 391.1h4.9v4.9h-4.9zM187.7 400.3h4.9v4.9h-4.9zM187.7 423.4h4.9v4.9h-4.9z"/><path fill="#afff50" d="M183.2 363.5h4.9v4.9h-4.9zM183.2 368.1h4.9v4.9h-4.9zM183.2 372.7h4.9v4.9h-4.9zM183.2 377.3h4.9v4.9h-4.9zM183.2 381.9h4.9v4.9h-4.9zM183.2 386.5h4.9v4.9h-4.9zM183.2 391.1h4.9v4.9h-4.9zM187.7 395.7h4.9v4.9h-4.9zM187.7 428.0h4.9v4.9h-4.9zM187.7 469.4h4.9v4.9h-4.9zM187.7 501.7h4.9v4.9h-4.9z"/><path fill="#0000ce" d="M37.2 368.1h4.9v4.9h-4.9zM32.7 372.7h4.9v4.9h-4.9z"/><path fill="#0000cf" d="M41.8 368.1h27.7v4.9h-27.7zM28.1 377.3h4.9v4.9h-4.9zM28.1 492.5h4.9v4.9h-4.9zM41.8 506.3h4.9v4.9h-4.9zM60.0 515.5h4.9v4.9h-4.9z"/><path fill="#0000eb" d="M69.2 368.1h4.9v4.9h-4.9zM60.0 510.9h4.9v4.9h-4.9z"/><path fill="#0024ff" d="M73.7 368.1h4.9v4.9h-4.9zM64.6 391.1h4.9v4.9h-4.9zM55.5 418.8h4.9v4.9h-4.9zM55.5 441.8h4.9v4.9h-4.9zM55.5 455.6h4.9v4.9h-4.9zM60.0 506.3h4.9v4.9h-4.9z"/><path fill="#0034ff" d="M87.4 368.1h4.9v4.9h-4.9zM101.1 368.1h4.9v4.9h-4.9zM92.0 372.7h9.4v4.9h-9.4zM73.7 386.5h4.9v4.9h-4.9zM69.2 391.1h4.9v4.9h-4.9zM64.6 414.2h4.9v4.9h-4.9zM60.0 418.8h4.9v4.9h-4.9zM60.0 441.8h4.9v4.9h-4.9zM64.6 446.4h4.9v4.9h-4.9zM64.6 451.0h4.9v4.9h-4.9zM60.0 455.6h4.9v4.9h-4.9zM55.5 469.4h4.9v4.9h-4.9zM50.9 474.0h4.9v4.9h-4.9zM50.9 478.6h4.9v4.9h-4.9zM55.5 483.2h4.9v4.9h-4.9z"/><path fill="#001cff" d="M92.0 368.1h9.4v4.9h-9.4zM69.2 386.5h4.9v4.9h-4.9zM60.0 414.2h4.9v4.9h-4.9zM60.0 446.4h4.9v4.9h-4.9zM60.0 451.0h4.9v4.9h-4.9zM50.9 469.4h4.9v4.9h-4.9zM50.9 483.2h4.9v4.9h-4.9z"/><path fill="#00cfff" d="M110.2 368.1h4.9v4.9h-4.9zM110.2 391.1h4.9v4.9h-4.9zM123.9 414.2h4.9v4.9h-4.9zM123.9 418.8h4.9v4.9h-4.9zM133.0 451.0h4.9v4.9h-4.9zM133.0 455.6h4.9v4.9h-4.9zM133.0 460.2h4.9v4.9h-4.9zM133.0 464.8h4.9v4.9h-4.9zM133.0 469.4h4.9v4.9h-4.9zM133.0 474.0h4.9v4.9h-4.9zM133.0 478.6h4.9v4.9h-4.9zM133.0 483.2h4.9v4.9h-4.9zM133.0 487.8h4.9v4.9h-4.9zM133.0 492.5h4.9v4.9h-4.9zM133.0 497.1h4.9v4.9h-4.9zM133.0 501.7h4.9v4.9h-4.9zM137.6 524.7h4.9v4.9h-4.9z"/><path fill="#0cfff3" d="M114.8 368.1h4.9v4.9h-4.9z"/><path fill="#83ff7c" d="M119.3 368.1h4.9v4.9h-4.9zM119.3 377.3h4.9v4.9h-4.9zM178.6 400.3h4.9v4.9h-4.9zM183.2 414.2h4.9v4.9h-4.9zM169.5 460.2h4.9v4.9h-4.9zM183.2 460.2h4.9v4.9h-4.9zM169.5 501.7h4.9v4.9h-4.9zM174.1 506.3h4.9v4.9h-4.9zM160.4 520.1h4.9v4.9h-4.9zM174.1 520.1h4.9v4.9h-4.9z"/><path fill="#0000e6" d="M37.2 372.7h4.9v4.9h-4.9z"/><path fill="#0000ef" d="M41.8 372.7h27.7v4.9h-27.7zM28.1 381.9h4.9v4.9h-4.9zM28.1 487.8h4.9v4.9h-4.9zM46.3 506.3h4.9v4.9h-4.9zM64.6 515.5h4.9v4.9h-4.9z"/><path fill="#0004ff" d="M69.2 372.7h4.9v4.9h-4.9zM60.0 386.5h4.9v4.9h-4.9zM50.9 414.2h4.9v4.9h-4.9zM50.9 446.4h4.9v4.9h-4.9zM50.9 451.0h4.9v4.9h-4.9zM64.6 510.9h4.9v4.9h-4.9z"/><path fill="#002cff" d="M73.7 372.7h4.9v4.9h-4.9zM64.6 506.3h4.9v4.9h-4.9z"/><path fill="#003cff" d="M87.4 372.7h4.9v4.9h-4.9zM101.1 372.7h4.9v4.9h-4.9zM73.7 391.1h4.9v4.9h-4.9zM64.6 418.8h4.9v4.9h-4.9zM64.6 441.8h4.9v4.9h-4.9zM64.6 455.6h4.9v4.9h-4.9zM55.5 474.0h4.9v4.9h-4.9zM55.5 478.6h4.9v4.9h-4.9z"/><path fill="#00efff" d="M110.2 372.7h4.9v4.9h-4.9zM110.2 386.5h4.9v4.9h-4.9zM114.8 391.1h4.9v4.9h-4.9zM128.4 414.2h4.9v4.9h-4.9zM128.4 418.8h4.9v4.9h-4.9zM137.6 451.0h4.9v4.9h-4.9zM137.6 455.6h4.9v4.9h-4.9zM137.6 460.2h4.9v4.9h-4.9zM137.6 464.8h4.9v4.9h-4.9zM137.6 469.4h4.9v4.9h-4.9zM137.6 474.0h4.9v4.9h-4.9zM137.6 478.6h4.9v4.9h-4.9zM137.6 483.2h4.9v4.9h-4.9zM137.6 487.8h4.9v4.9h-4.9zM137.6 492.5h4.9v4.9h-4.9zM137.6 497.1h4.9v4.9h-4.9zM137.6 501.7h4.9v4.9h-4.9z"/><path fill="#24ffdb" d="M114.8 372.7h4.9v4.9h-4.9zM114.8 381.9h4.9v4.9h-4.9zM137.6 428.0h4.9v4.9h-4.9z"/><path fill="#8bff74" d="M119.3 372.7h4.9v4.9h-4.9zM178.6 395.7h4.9v4.9h-4.9zM146.7 400.3h4.9v4.9h-4.9zM183.2 400.3h4.9v4.9h-4.9zM160.4 404.9h4.9v4.9h-4.9zM164.9 409.6h4.9v4.9h-4.9zM178.6 414.2h4.9v4.9h-4.9zM183.2 418.8h4.9v4.9h-4.9zM151.3 451.0h4.9v4.9h-4.9zM174.1 460.2h9.4v4.9h-9.4zM169.5 464.8h4.9v4.9h-4.9zM183.2 464.8h4.9v4.9h-4.9zM169.5 497.1h4.9v4.9h-4.9zM174.1 501.7h4.9v4.9h-4.9zM169.5 506.3h4.9v4.9h-4.9zM174.1 510.9h4.9v4.9h-4.9zM160.4 515.5h4.9v4.9h-4.9zM174.1 515.5h4.9v4.9h-4.9zM164.9 520.1h9.4v4.9h-9.4z"/><path fill="#0000db" d="M32.7 377.3h4.9v4.9h-4.9zM32.7 492.5h4.9v4.9h-4.9zM41.8 501.7h4.9v4.9h-4.9z"/><path fill="#0000f3" d="M37.2 377.3h4.9v4.9h-4.9zM32.7 381.9h4.9v4.9h-4.9zM32.7 487.8h4.9v4.9h-4.9zM37.2 492.5h4.9v4.9h-4.9zM41.8 497.1h4.9v4.9h-4.9zM46.3 501.7h4.9v4.9h-4.9z"/><path fill="#0000ff" d="M41.8 377.3h27.7v4.9h-27.7zM41.8 381.9h27.7v4.9h-27.7zM28.1 386.5h32.2v4.9h-32.2zM28.1 391.1h32.2v4.9h-32.2zM28.1 395.7h32.2v4.9h-32.2zM28.1 400.3h32.2v4.9h-32.2zM28.1 404.9h32.2v4.9h-32.2zM28.1 409.6h32.2v4.9h-32.2zM28.1 414.2h23.1v4.9h-23.1zM28.1 418.8h23.1v4.9h-23.1zM28.1 423.4h23.1v4.9h-23.1zM28.1 428.0h23.1v4.9h-23.1zM28.1 432.6h23.1v4.9h-23.1zM28.1 437.2h23.1v4.9h-23.1zM28.1 441.8h23.1v4.9h-23.1zM28.1 446.4h23.1v4.9h-23.1zM28.1 451.0h23.1v4.9h-23.1zM28.1 455.6h23.1v4.9h-23.1zM28.1 460.2h23.1v4.9h-23.1zM28.1 464.8h23.1v4.9h-23.1zM41.8 487.8h9.4v4.9h-9.4zM41.8 492.5h9.4v4.9h-9.4z"/><path fill="#0044ff" d="M96.5 377.3h4.9v4.9h-4.9zM87.4 414.2h4.9v4.9h-4.9zM78.3 451.0h4.9v4.9h-4.9zM69.2 469.4h4.9v4.9h-4.9zM123.9 520.1h4.9v4.9h-4.9z"/><path fill="#004cff" d="M101.1 377.3h4.9v4.9h-4.9zM96.5 381.9h4.9v4.9h-4.9zM92.0 414.2h4.9v4.9h-4.9zM87.4 418.8h4.9v4.9h-4.9zM82.8 451.0h4.9v4.9h-4.9zM78.3 455.6h4.9v4.9h-4.9zM73.7 469.4h4.9v4.9h-4.9zM69.2 474.0h4.9v4.9h-4.9zM123.9 515.5h4.9v4.9h-4.9zM128.4 520.1h4.9v4.9h-4.9z"/><path fill="#0050ff" d="M105.6 377.3h4.9v4.9h-4.9zM96.5 386.5h4.9v4.9h-4.9zM96.5 391.1h4.9v4.9h-4.9zM96.5 395.7h4.9v4.9h-4.9zM96.5 400.3h4.9v4.9h-4.9zM96.5 404.9h4.9v4.9h-4.9zM96.5 409.6h4.9v4.9h-4.9zM87.4 423.4h4.9v4.9h-4.9zM87.4 428.0h4.9v4.9h-4.9zM87.4 432.6h4.9v4.9h-4.9zM87.4 437.2h4.9v4.9h-4.9zM87.4 441.8h4.9v4.9h-4.9zM87.4 446.4h4.9v4.9h-4.9zM78.3 460.2h4.9v4.9h-4.9zM78.3 464.8h4.9v4.9h-4.9zM69.2 478.6h4.9v4.9h-4.9zM69.2 483.2h4.9v4.9h-4.9zM69.2 487.8h4.9v4.9h-4.9zM69.2 492.5h4.9v4.9h-4.9zM69.2 497.1h4.9v4.9h-4.9zM69.2 501.7h4.9v4.9h-4.9zM78.3 510.9h18.5v4.9h-18.5zM110.2 510.9h14.0v4.9h-14.0zM105.6 520.1h4.9v4.9h-4.9z"/><path fill="#2cffd3" d="M114.8 377.3h4.9v4.9h-4.9zM137.6 423.4h4.9v4.9h-4.9z"/><path fill="#dfff20" d="M123.9 377.3h4.9v4.9h-4.9zM151.3 414.2h4.9v4.9h-4.9zM178.6 428.0h4.9v4.9h-4.9zM183.2 432.6h4.9v4.9h-4.9zM187.7 451.0h4.9v4.9h-4.9z"/><path fill="#ff8b00" d="M133.0 377.3h4.9v4.9h-4.9zM137.6 381.9h4.9v4.9h-4.9z"/><path fill="#ff8300" d="M137.6 377.3h4.9v4.9h-4.9zM174.1 441.8h4.9v4.9h-4.9zM160.4 451.0h4.9v4.9h-4.9zM174.1 451.0h4.9v4.9h-4.9zM178.6 483.2h4.9v4.9h-4.9z"/><path fill="#0000fb" d="M37.2 381.9h4.9v4.9h-4.9zM37.2 487.8h4.9v4.9h-4.9zM46.3 497.1h4.9v4.9h-4.9z"/><path fill="#0064ff" d="M101.1 381.9h4.9v4.9h-4.9zM92.0 418.8h4.9v4.9h-4.9zM82.8 455.6h4.9v4.9h-4.9zM73.7 474.0h4.9v4.9h-4.9zM128.4 515.5h4.9v4.9h-4.9z"/><path fill="#0070ff" d="M105.6 381.9h4.9v4.9h-4.9zM101.1 386.5h4.9v4.9h-4.9zM101.1 391.1h4.9v4.9h-4.9zM101.1 395.7h4.9v4.9h-4.9zM101.1 400.3h4.9v4.9h-4.9zM101.1 404.9h4.9v4.9h-4.9zM101.1 409.6h4.9v4.9h-4.9zM92.0 423.4h4.9v4.9h-4.9zM92.0 428.0h4.9v4.9h-4.9zM92.0 432.6h4.9v4.9h-4.9zM92.0 437.2h4.9v4.9h-4.9zM92.0 441.8h4.9v4.9h-4.9zM92.0 446.4h4.9v4.9h-4.9zM82.8 460.2h4.9v4.9h-4.9zM82.8 464.8h4.9v4.9h-4.9zM73.7 478.6h4.9v4.9h-4.9zM73.7 483.2h4.9v4.9h-4.9zM73.7 487.8h4.9v4.9h-4.9zM73.7 492.5h4.9v4.9h-4.9zM73.7 497.1h4.9v4.9h-4.9zM73.7 501.7h4.9v4.9h-4.9zM78.3 506.3h18.5v4.9h-18.5zM110.2 506.3h14.0v4.9h-14.0zM105.6 515.5h4.9v4.9h-4.9zM133.0 524.7h4.9v4.9h-4.9z"/><path fill="#6cff93" d="M119.3 381.9h4.9v4.9h-4.9zM142.1 418.8h4.9v4.9h-4.9z"/><path fill="#ffdf00" d="M128.4 381.9h4.9v4.9h-4.9zM155.8 418.8h4.9v4.9h-4.9zM178.6 437.2h4.9v4.9h-4.9z"/><path fill="#ffa300" d="M133.0 381.9h4.9v4.9h-4.9zM183.2 478.6h4.9v4.9h-4.9z"/><path fill="#000cff" d="M64.6 386.5h4.9v4.9h-4.9zM60.0 391.1h4.9v4.9h-4.9zM55.5 414.2h4.9v4.9h-4.9zM50.9 418.8h4.9v4.9h-4.9zM50.9 441.8h4.9v4.9h-4.9zM55.5 446.4h4.9v4.9h-4.9zM55.5 451.0h4.9v4.9h-4.9zM50.9 455.6h4.9v4.9h-4.9z"/><path fill="#0080ff" d="M105.6 386.5h4.9v4.9h-4.9zM105.6 391.1h4.9v4.9h-4.9zM105.6 395.7h4.9v4.9h-4.9zM105.6 400.3h4.9v4.9h-4.9zM105.6 404.9h4.9v4.9h-4.9zM105.6 409.6h4.9v4.9h-4.9zM105.6 414.2h4.9v4.9h-4.9zM105.6 418.8h4.9v4.9h-4.9zM96.5 423.4h14.0v4.9h-14.0zM96.5 428.0h14.0v4.9h-14.0zM96.5 432.6h14.0v4.9h-14.0zM96.5 437.2h14.0v4.9h-14.0zM87.4 460.2h9.4v4.9h-9.4zM87.4 464.8h9.4v4.9h-9.4zM78.3 478.6h9.4v4.9h-9.4zM110.2 478.6h4.9v4.9h-4.9zM78.3 483.2h9.4v4.9h-9.4zM110.2 483.2h4.9v4.9h-4.9zM78.3 487.8h9.4v4.9h-9.4zM110.2 487.8h14.0v4.9h-14.0zM78.3 492.5h9.4v4.9h-9.4zM110.2 492.5h14.0v4.9h-14.0zM78.3 497.1h45.9v4.9h-45.9zM78.3 501.7h45.9v4.9h-45.9zM105.6 506.3h4.9v4.9h-4.9zM123.9 506.3h4.9v4.9h-4.9zM105.6 510.9h4.9v4.9h-4.9zM128.4 510.9h4.9v4.9h-4.9z"/><path fill="#10ffef" d="M114.8 386.5h4.9v4.9h-4.9zM133.0 414.2h4.9v4.9h-4.9zM133.0 418.8h4.9v4.9h-4.9zM142.1 451.0h4.9v4.9h-4.9zM142.1 455.6h4.9v4.9h-4.9zM142.1 460.2h4.9v4.9h-4.9zM142.1 464.8h4.9v4.9h-4.9zM142.1 469.4h4.9v4.9h-4.9zM142.1 474.0h4.9v4.9h-4.9zM142.1 478.6h4.9v4.9h-4.9zM142.1 483.2h4.9v4.9h-4.9zM142.1 487.8h4.9v4.9h-4.9zM142.1 492.5h4.9v4.9h-4.9zM142.1 497.1h4.9v4.9h-4.9zM142.1 501.7h4.9v4.9h-4.9zM142.1 506.3h4.9v4.9h-4.9zM142.1 510.9h4.9v4.9h-4.9zM142.1 515.5h4.9v4.9h-4.9zM142.1 520.1h4.9v4.9h-4.9zM142.1 524.7h4.9v4.9h-4.9z"/><path fill="#97ff68" d="M123.9 386.5h4.9v4.9h-4.9zM128.4 391.1h4.9v4.9h-4.9zM133.0 395.7h4.9v4.9h-4.9zM137.6 400.3h4.9v4.9h-4.9zM146.7 409.6h4.9v4.9h-4.9zM178.6 501.7h4.9v4.9h-4.9z"/><path fill="#e7ff18" d="M128.4 386.5h4.9v4.9h-4.9zM137.6 395.7h4.9v4.9h-4.9z"/><path fill="#ffd700" d="M133.0 386.5h4.9v4.9h-4.9zM137.6 391.1h4.9v4.9h-4.9zM183.2 446.4h4.9v4.9h-4.9zM174.1 478.6h4.9v4.9h-4.9z"/><path fill="#ffa700" d="M137.6 386.5h4.9v4.9h-4.9z"/><path fill="#ffcb00" d="M142.1 386.5h4.9v4.9h-4.9z"/><path fill="#bbff44" d="M146.7 386.5h4.9v4.9h-4.9zM151.3 409.6h4.9v4.9h-4.9zM164.9 414.2h4.9v4.9h-4.9zM174.1 418.8h4.9v4.9h-4.9zM183.2 469.4h4.9v4.9h-4.9z"/><path fill="#30ffcf" d="M119.3 391.1h4.9v4.9h-4.9zM137.6 414.2h4.9v4.9h-4.9zM137.6 418.8h4.9v4.9h-4.9zM146.7 451.0h4.9v4.9h-4.9zM146.7 455.6h4.9v4.9h-4.9zM146.7 460.2h4.9v4.9h-4.9zM146.7 464.8h4.9v4.9h-4.9zM146.7 469.4h4.9v4.9h-4.9zM146.7 474.0h4.9v4.9h-4.9zM146.7 478.6h4.9v4.9h-4.9zM146.7 483.2h4.9v4.9h-4.9zM146.7 487.8h4.9v4.9h-4.9zM146.7 492.5h4.9v4.9h-4.9zM146.7 497.1h4.9v4.9h-4.9zM146.7 501.7h4.9v4.9h-4.9zM146.7 506.3h4.9v4.9h-4.9zM146.7 510.9h4.9v4.9h-4.9zM146.7 515.5h4.9v4.9h-4.9zM146.7 520.1h4.9v4.9h-4.9zM146.7 524.7h4.9v4.9h-4.9z"/><path fill="#68ff97" d="M123.9 391.1h4.9v4.9h-4.9zM133.0 400.3h4.9v4.9h-4.9zM142.1 409.6h4.9v4.9h-4.9z"/><path fill="#d7ff28" d="M133.0 391.1h4.9v4.9h-4.9zM169.5 478.6h4.9v4.9h-4.9z"/><path fill="#ffe300" d="M142.1 391.1h4.9v4.9h-4.9zM160.4 418.8h4.9v4.9h-4.9zM178.6 474.0h4.9v4.9h-4.9zM174.1 487.8h4.9v4.9h-4.9z"/><path fill="#b3ff4c" d="M146.7 391.1h4.9v4.9h-4.9zM169.5 487.8h4.9v4.9h-4.9z"/><path fill="#00dbff" d="M114.8 395.7h4.9v4.9h-4.9zM133.0 441.8h4.9v4.9h-4.9zM137.6 515.5h4.9v4.9h-4.9z"/><path fill="#14ffeb" d="M119.3 395.7h4.9v4.9h-4.9zM137.6 441.8h4.9v4.9h-4.9z"/><path fill="#60ff9f" d="M128.4 395.7h4.9v4.9h-4.9zM137.6 404.9h4.9v4.9h-4.9zM160.4 506.3h4.9v4.9h-4.9z"/><path fill="#ebff14" d="M142.1 395.7h4.9v4.9h-4.9zM151.3 446.4h4.9v4.9h-4.9z"/><path fill="#a3ff5c" d="M146.7 395.7h4.9v4.9h-4.9zM183.2 395.7h4.9v4.9h-4.9zM142.1 400.3h4.9v4.9h-4.9zM178.6 418.8h4.9v4.9h-4.9zM174.1 464.8h9.4v4.9h-9.4zM169.5 469.4h4.9v4.9h-4.9zM174.1 497.1h4.9v4.9h-4.9zM169.5 510.9h4.9v4.9h-4.9zM164.9 515.5h9.4v4.9h-9.4z"/><path fill="#74ff8b" d="M151.3 395.7h4.9v4.9h-4.9zM155.8 400.3h4.9v4.9h-4.9zM174.1 404.9h4.9v4.9h-4.9zM169.5 409.6h4.9v4.9h-4.9zM160.4 460.2h4.9v4.9h-4.9zM164.9 464.8h4.9v4.9h-4.9z"/><path fill="#5cffa3" d="M155.8 395.7h4.9v4.9h-4.9zM169.5 404.9h4.9v4.9h-4.9zM160.4 464.8h4.9v4.9h-4.9zM160.4 474.0h4.9v4.9h-4.9zM160.4 478.6h4.9v4.9h-4.9z"/><path fill="#4cffb3" d="M160.4 395.7h4.9v4.9h-4.9zM164.9 400.3h4.9v4.9h-4.9zM151.3 460.2h4.9v4.9h-4.9zM155.8 464.8h4.9v4.9h-4.9zM155.8 506.3h4.9v4.9h-4.9zM151.3 510.9h4.9v4.9h-4.9z"/><path fill="#44ffbb" d="M164.9 395.7h4.9v4.9h-4.9zM151.3 464.8h4.9v4.9h-4.9zM151.3 506.3h4.9v4.9h-4.9z"/><path fill="#00d3ff" d="M114.8 400.3h4.9v4.9h-4.9zM133.0 446.4h4.9v4.9h-4.9zM137.6 520.1h4.9v4.9h-4.9z"/><path fill="#00fbff" d="M119.3 400.3h4.9v4.9h-4.9zM137.6 446.4h4.9v4.9h-4.9z"/><path fill="#20ffdf" d="M123.9 400.3h4.9v4.9h-4.9zM128.4 404.9h4.9v4.9h-4.9zM133.0 409.6h4.9v4.9h-4.9zM137.6 432.6h4.9v4.9h-4.9zM137.6 437.2h4.9v4.9h-4.9z"/><path fill="#7cff83" d="M151.3 400.3h4.9v4.9h-4.9zM174.1 409.6h4.9v4.9h-4.9zM142.1 423.4h4.9v4.9h-4.9zM142.1 441.8h4.9v4.9h-4.9zM146.7 446.4h4.9v4.9h-4.9zM164.9 460.2h4.9v4.9h-4.9zM164.9 469.4h4.9v4.9h-4.9zM164.9 483.2h4.9v4.9h-4.9z"/><path fill="#64ff9b" d="M160.4 400.3h4.9v4.9h-4.9zM164.9 404.9h4.9v4.9h-4.9zM142.1 414.2h4.9v4.9h-4.9zM151.3 455.6h4.9v4.9h-4.9zM155.8 460.2h4.9v4.9h-4.9zM155.8 510.9h4.9v4.9h-4.9z"/><path fill="#00cbff" d="M114.8 404.9h4.9v4.9h-4.9zM119.3 409.6h4.9v4.9h-4.9z"/><path fill="#00e3ff" d="M119.3 404.9h4.9v4.9h-4.9zM137.6 510.9h4.9v4.9h-4.9z"/><path fill="#78ff87" d="M142.1 404.9h4.9v4.9h-4.9z"/><path fill="#87ff78" d="M146.7 404.9h4.9v4.9h-4.9z"/><path fill="#93ff6c" d="M151.3 404.9h4.9v4.9h-4.9zM174.1 414.2h4.9v4.9h-4.9zM142.1 428.0h4.9v4.9h-4.9zM164.9 474.0h4.9v4.9h-4.9zM164.9 478.6h4.9v4.9h-4.9z"/><path fill="#9bff64" d="M155.8 404.9h4.9v4.9h-4.9zM169.5 414.2h4.9v4.9h-4.9zM169.5 492.5h4.9v4.9h-4.9z"/><path fill="#00c3ff" d="M114.8 409.6h4.9v4.9h-4.9zM133.0 506.3h4.9v4.9h-4.9z"/><path fill="#00dfff" d="M123.9 409.6h4.9v4.9h-4.9zM128.4 423.4h4.9v4.9h-4.9zM133.0 432.6h4.9v4.9h-4.9zM133.0 437.2h4.9v4.9h-4.9z"/><path fill="#d3ff2c" d="M155.8 409.6h4.9v4.9h-4.9zM169.5 418.8h4.9v4.9h-4.9zM160.4 455.6h4.9v4.9h-4.9zM174.1 455.6h4.9v4.9h-4.9zM178.6 469.4h4.9v4.9h-4.9zM174.1 492.5h4.9v4.9h-4.9z"/><path fill="#c3ff3c" d="M160.4 409.6h4.9v4.9h-4.9zM146.7 418.8h4.9v4.9h-4.9zM178.6 455.6h4.9v4.9h-4.9z"/><path fill="#005cff" d="M96.5 414.2h4.9v4.9h-4.9zM87.4 451.0h4.9v4.9h-4.9zM78.3 469.4h4.9v4.9h-4.9zM96.5 510.9h4.9v4.9h-4.9z"/><path fill="#0074ff" d="M101.1 414.2h4.9v4.9h-4.9zM96.5 418.8h4.9v4.9h-4.9zM92.0 451.0h4.9v4.9h-4.9zM87.4 455.6h4.9v4.9h-4.9zM82.8 469.4h4.9v4.9h-4.9zM78.3 474.0h4.9v4.9h-4.9zM96.5 506.3h4.9v4.9h-4.9zM101.1 510.9h4.9v4.9h-4.9z"/><path fill="#abff54" d="M146.7 414.2h4.9v4.9h-4.9zM155.8 455.6h4.9v4.9h-4.9zM183.2 455.6h4.9v4.9h-4.9z"/><path fill="#ffff00" d="M155.8 414.2h4.9v4.9h-4.9zM151.3 418.8h4.9v4.9h-4.9zM178.6 432.6h4.9v4.9h-4.9zM183.2 437.2h4.9v4.9h-4.9zM187.7 441.8h4.9v4.9h-4.9zM187.7 446.4h4.9v4.9h-4.9z"/><path fill="#f3ff0c" d="M160.4 414.2h4.9v4.9h-4.9zM164.9 418.8h4.9v4.9h-4.9zM146.7 423.4h4.9v4.9h-4.9z"/><path fill="#007cff" d="M101.1 418.8h4.9v4.9h-4.9zM92.0 455.6h4.9v4.9h-4.9zM82.8 474.0h4.9v4.9h-4.9zM101.1 506.3h4.9v4.9h-4.9zM133.0 520.1h4.9v4.9h-4.9z"/><path fill="#00bbff" d="M114.8 423.4h4.9v4.9h-4.9zM114.8 446.4h4.9v4.9h-4.9zM128.4 446.4h4.9v4.9h-4.9zM119.3 469.4h4.9v4.9h-4.9zM101.1 474.0h4.9v4.9h-4.9zM128.4 478.6h4.9v4.9h-4.9z"/><path fill="#00b3ff" d="M119.3 423.4h4.9v4.9h-4.9zM114.8 428.0h4.9v4.9h-4.9zM114.8 441.8h4.9v4.9h-4.9zM128.4 441.8h4.9v4.9h-4.9zM119.3 446.4h9.4v4.9h-9.4zM101.1 469.4h4.9v4.9h-4.9zM114.8 469.4h4.9v4.9h-4.9zM96.5 474.0h4.9v4.9h-4.9zM119.3 474.0h4.9v4.9h-4.9zM123.9 478.6h4.9v4.9h-4.9zM128.4 483.2h4.9v4.9h-4.9z"/><path fill="#04fffb" d="M133.0 423.4h4.9v4.9h-4.9z"/><path fill="#ffc300" d="M151.3 423.4h4.9v4.9h-4.9zM146.7 428.0h4.9v4.9h-4.9z"/><path fill="#ffab00" d="M155.8 423.4h4.9v4.9h-4.9zM178.6 478.6h4.9v4.9h-4.9z"/><path fill="#ffcf00" d="M164.9 423.4h4.9v4.9h-4.9zM174.1 432.6h4.9v4.9h-4.9z"/><path fill="#fff300" d="M169.5 423.4h4.9v4.9h-4.9zM174.1 428.0h4.9v4.9h-4.9zM178.6 492.5h4.9v4.9h-4.9z"/><path fill="#e3ff1c" d="M174.1 423.4h4.9v4.9h-4.9z"/><path fill="#9fff60" d="M183.2 423.4h4.9v4.9h-4.9zM142.1 432.6h4.9v4.9h-4.9zM142.1 437.2h4.9v4.9h-4.9zM187.7 455.6h4.9v4.9h-4.9zM164.9 510.9h4.9v4.9h-4.9z"/><path fill="#009bff" d="M119.3 428.0h4.9v4.9h-4.9zM119.3 441.8h9.4v4.9h-9.4zM96.5 469.4h4.9v4.9h-4.9zM114.8 474.0h4.9v4.9h-4.9zM123.9 483.2h4.9v4.9h-4.9z"/><path fill="#009fff" d="M123.9 428.0h4.9v4.9h-4.9zM128.4 506.3h4.9v4.9h-4.9z"/><path fill="#00ebff" d="M133.0 428.0h4.9v4.9h-4.9zM137.6 506.3h4.9v4.9h-4.9z"/><path fill="#ff6c00" d="M151.3 428.0h4.9v4.9h-4.9zM164.9 451.0h9.4v4.9h-9.4zM183.2 483.2h4.9v4.9h-4.9z"/><path fill="#ff6400" d="M155.8 428.0h4.9v4.9h-4.9z"/><path fill="#ff7000" d="M160.4 428.0h4.9v4.9h-4.9zM169.5 437.2h4.9v4.9h-4.9z"/><path fill="#ff8f00" d="M164.9 428.0h4.9v4.9h-4.9zM169.5 432.6h4.9v4.9h-4.9z"/><path fill="#ffbb00" d="M169.5 428.0h4.9v4.9h-4.9zM183.2 492.5h4.9v4.9h-4.9z"/><path fill="#00afff" d="M114.8 432.6h4.9v4.9h-4.9zM128.4 432.6h4.9v4.9h-4.9zM114.8 437.2h4.9v4.9h-4.9zM128.4 437.2h4.9v4.9h-4.9zM105.6 446.4h4.9v4.9h-4.9zM101.1 451.0h4.9v4.9h-4.9zM101.1 455.6h4.9v4.9h-4.9zM101.1 460.2h4.9v4.9h-4.9zM101.1 464.8h4.9v4.9h-4.9zM110.2 469.4h4.9v4.9h-4.9zM92.0 478.6h4.9v4.9h-4.9zM92.0 483.2h4.9v4.9h-4.9zM96.5 487.8h14.0v4.9h-14.0zM128.4 487.8h4.9v4.9h-4.9zM128.4 492.5h4.9v4.9h-4.9zM128.4 497.1h4.9v4.9h-4.9zM128.4 501.7h4.9v4.9h-4.9z"/><path fill="#008fff" d="M119.3 432.6h9.4v4.9h-9.4zM119.3 437.2h9.4v4.9h-9.4zM105.6 441.8h4.9v4.9h-4.9zM96.5 451.0h4.9v4.9h-4.9zM96.5 455.6h4.9v4.9h-4.9zM96.5 460.2h4.9v4.9h-4.9zM96.5 464.8h4.9v4.9h-4.9zM110.2 474.0h4.9v4.9h-4.9zM87.4 478.6h4.9v4.9h-4.9zM87.4 483.2h4.9v4.9h-4.9zM123.9 487.8h4.9v4.9h-4.9zM96.5 492.5h14.0v4.9h-14.0zM123.9 492.5h4.9v4.9h-4.9zM123.9 497.1h4.9v4.9h-4.9zM123.9 501.7h4.9v4.9h-4.9z"/><path fill="#ff9f00" d="M146.7 432.6h4.9v4.9h-4.9zM146.7 437.2h4.9v4.9h-4.9zM187.7 478.6h4.9v4.9h-4.9zM187.7 492.5h4.9v4.9h-4.9z"/><path fill="#ff3c00" d="M151.3 432.6h4.9v4.9h-4.9z"/><path fill="#ff3400" d="M155.8 432.6h4.9v4.9h-4.9zM151.3 437.2h4.9v4.9h-4.9zM155.8 441.8h4.9v4.9h-4.9z"/><path fill="#ff4000" d="M160.4 432.6h4.9v4.9h-4.9zM164.9 437.2h4.9v4.9h-4.9z"/><path fill="#ff6000" d="M164.9 432.6h4.9v4.9h-4.9zM187.7 483.2h4.9v4.9h-4.9zM187.7 487.8h4.9v4.9h-4.9z"/><path fill="#cfff30" d="M187.7 432.6h4.9v4.9h-4.9z"/><path fill="#ff1c00" d="M155.8 437.2h4.9v4.9h-4.9z"/><path fill="#ff2000" d="M160.4 437.2h4.9v4.9h-4.9z"/><path fill="#0083ff" d="M96.5 441.8h4.9v4.9h-4.9zM87.4 469.4h4.9v4.9h-4.9zM114.8 483.2h4.9v4.9h-4.9zM87.4 492.5h4.9v4.9h-4.9z"/><path fill="#008bff" d="M101.1 441.8h4.9v4.9h-4.9zM96.5 446.4h4.9v4.9h-4.9zM92.0 469.4h4.9v4.9h-4.9zM87.4 474.0h4.9v4.9h-4.9zM114.8 478.6h4.9v4.9h-4.9zM119.3 483.2h4.9v4.9h-4.9zM87.4 487.8h4.9v4.9h-4.9zM92.0 492.5h4.9v4.9h-4.9z"/><path fill="#ffeb00" d="M146.7 441.8h4.9v4.9h-4.9zM183.2 474.0h4.9v4.9h-4.9z"/><path fill="#ff7c00" d="M151.3 441.8h4.9v4.9h-4.9zM155.8 446.4h4.9v4.9h-4.9z"/><path fill="#ff1800" d="M160.4 441.8h4.9v4.9h-4.9zM164.9 446.4h4.9v4.9h-4.9z"/><path fill="#ff2800" d="M164.9 441.8h4.9v4.9h-4.9zM160.4 446.4h4.9v4.9h-4.9z"/><path fill="#ff4c00" d="M169.5 441.8h4.9v4.9h-4.9zM174.1 446.4h4.9v4.9h-4.9z"/><path fill="#ffb700" d="M178.6 441.8h4.9v4.9h-4.9z"/><path fill="#ffe700" d="M183.2 441.8h4.9v4.9h-4.9z"/><path fill="#00a3ff" d="M101.1 446.4h4.9v4.9h-4.9zM92.0 474.0h4.9v4.9h-4.9zM119.3 478.6h4.9v4.9h-4.9zM92.0 487.8h4.9v4.9h-4.9z"/><path fill="#34ffcb" d="M142.1 446.4h4.9v4.9h-4.9z"/><path fill="#ff2400" d="M169.5 446.4h4.9v4.9h-4.9z"/><path fill="#ff8700" d="M178.6 446.4h4.9v4.9h-4.9z"/><path fill="#ffdb00" d="M155.8 451.0h4.9v4.9h-4.9z"/><path fill="#ffb300" d="M178.6 451.0h4.9v4.9h-4.9z"/><path fill="#fffb00" d="M183.2 451.0h4.9v4.9h-4.9zM174.1 474.0h4.9v4.9h-4.9z"/><path fill="#dbff24" d="M164.9 455.6h9.4v4.9h-9.4z"/><path fill="#54ffab" d="M160.4 469.4h4.9v4.9h-4.9zM160.4 483.2h4.9v4.9h-4.9z"/><path fill="#cbff34" d="M174.1 469.4h4.9v4.9h-4.9zM169.5 474.0h4.9v4.9h-4.9z"/><path fill="#ffef00" d="M187.7 474.0h4.9v4.9h-4.9zM187.7 497.1h4.9v4.9h-4.9z"/><path fill="#c7ff38" d="M169.5 483.2h4.9v4.9h-4.9zM178.6 497.1h4.9v4.9h-4.9z"/><path fill="#ffc700" d="M174.1 483.2h4.9v4.9h-4.9z"/><path fill="#ff9b00" d="M178.6 487.8h4.9v4.9h-4.9z"/><path fill="#ff7400" d="M183.2 487.8h4.9v4.9h-4.9z"/><path fill="#0000cb" d="M32.7 497.1h4.9v4.9h-4.9zM37.2 501.7h4.9v4.9h-4.9z"/><path fill="#0000e3" d="M37.2 497.1h4.9v4.9h-4.9z"/><path fill="#f7ff08" d="M183.2 497.1h4.9v4.9h-4.9z"/><path fill="#0000c3" d="M32.7 501.7h4.9v4.9h-4.9z"/><path fill="#a7ff58" d="M183.2 501.7h4.9v4.9h-4.9z"/><path fill="#000aff" d="M50.9 506.3h4.9v4.9h-4.9z"/><path fill="#001aff" d="M55.5 506.3h4.9v4.9h-4.9z"/><path fill="#0060ff" d="M73.7 506.3h4.9v4.9h-4.9zM123.9 510.9h4.9v4.9h-4.9z"/><path fill="#0000e2" d="M55.5 510.9h4.9v4.9h-4.9z"/><path fill="#00abff" d="M133.0 510.9h4.9v4.9h-4.9z"/><path fill="#004eff" d="M96.5 515.5h4.9v4.9h-4.9zM101.1 520.1h4.9v4.9h-4.9z"/><path fill="#0066ff" d="M101.1 515.5h4.9v4.9h-4.9z"/><path fill="#0093ff" d="M133.0 515.5h4.9v4.9h-4.9z"/><path fill="#000080" d="M110.2 363.5H126.8V372.9H110.2zM126.8 363.5H131.9V374.2H126.8zM131.9 363.5H145.7V375.8H131.9zM145.7 363.5H155.7V378.0H145.7zM155.7 363.5H169.5V378.6H155.7zM169.5 363.5H172.0V381.7H169.5zM172.0 363.5H192.3V387.1H172.0zM110.2 523.7H120.6V529.3H110.2zM120.6 523.1H133.1V529.3H120.6zM133.1 522.5H151.9V529.3H133.1zM151.9 525.6H165.8V529.3H151.9zM165.8 521.8H174.5V529.3H165.8zM174.5 516.8H185.8V529.3H174.5zM185.8 513.7H189.0V529.3H185.8zM189.0 508.6H192.3V529.3H189.0z"/><circle cx="111.7" cy="446.3" r="18.2" fill="none" stroke="#000" stroke-width="1.6"/><circle cx="111.7" cy="446.3" r="36.4" fill="none" stroke="#000" stroke-width="1.5"/><circle cx="111.7" cy="446.3" r="54.4" fill="none" stroke="#000" stroke-width="1.2"/><circle cx="111.7" cy="446.3" r="72.5" fill="none" stroke="#000" stroke-width="1.1"/><circle cx="111.7" cy="446.6" r="0.9" fill="#000"/><g font-size="16" stroke-width="0.35"><text x="31.3" y="379.7" fill="#fff" stroke="#fff" text-anchor="start">589.3nm</text><text x="115.1" y="376.1" fill="#fff" stroke="#fff" text-anchor="middle">N</text><text x="30.3" y="450.3" fill="#fff" stroke="#fff" text-anchor="start">E</text><text x="110.5" y="528.6" fill="#fff" stroke="#fff" text-anchor="start">S</text><text x="141.7" y="379.1" fill="#fff" stroke="#fff" text-anchor="start">50</text><text x="132.0" y="394.3" fill="#000" stroke="#000" text-anchor="start">60</text><text x="124.0" y="410.7" fill="#000" stroke="#000" text-anchor="start">70</text><text x="117.0" y="428.1" fill="#000" stroke="#000" text-anchor="start">80</text><text x="109.4" y="444.6" fill="#000" stroke="#000" text-anchor="start">90</text></g><g font-size="16" stroke-width="0.35"><text x="179.6" y="449.2" fill="#fff" stroke="#fff" text-anchor="start">W</text></g><path d="M37.2 363.5v2.2M37.2 529.3v-2.2M46.4 363.5v2.2M46.4 529.3v-2.2M55.5 363.5v2.2M55.5 529.3v-2.2M64.6 363.5v2.2M64.6 529.3v-2.2M73.7 363.5v2.2M73.7 529.3v-2.2M82.9 363.5v2.2M82.9 529.3v-2.2M92.0 363.5v2.2M92.0 529.3v-2.2M101.1 363.5v2.2M101.1 529.3v-2.2M110.3 363.5v2.2M110.3 529.3v-2.2M119.4 363.5v2.2M119.4 529.3v-2.2M128.5 363.5v2.2M128.5 529.3v-2.2M137.6 363.5v2.2M137.6 529.3v-2.2M146.8 363.5v2.2M146.8 529.3v-2.2M155.9 363.5v2.2M155.9 529.3v-2.2M165.0 363.5v2.2M165.0 529.3v-2.2M174.2 363.5v2.2M174.2 529.3v-2.2M183.3 363.5v2.2M183.3 529.3v-2.2M28.1 372.6h2.2M28.1 381.8h2.2M28.1 390.9h2.2M28.1 400.0h2.2M28.1 409.1h2.2M28.1 418.3h2.2M28.1 427.4h2.2M28.1 436.5h2.2M28.1 445.7h2.2M28.1 454.8h2.2M28.1 463.9h2.2M28.1 473.0h2.2M28.1 482.2h2.2M28.1 491.3h2.2M28.1 500.4h2.2M28.1 509.6h2.2M28.1 518.7h2.2M28.1 527.8h2.2" stroke="#000" stroke-width="1" fill="none"/><rect x="192.3" y="363.5" width="2.9" height="165.8" fill="url(#jet)"/><path d="M195.2 521.19h-2.2M195.2 513.08h-2.2M195.2 504.97h-2.2M195.2 496.86h-2.2M195.2 488.75h-2.2M195.2 480.64h-2.2M195.2 472.53h-2.2M195.2 464.42h-2.2M195.2 456.31h-2.2M195.2 448.20h-2.2M195.2 440.09h-2.2M195.2 431.98h-2.2M195.2 423.87h-2.2M195.2 415.76h-2.2M195.2 407.65h-2.2M195.2 399.54h-2.2M195.2 391.43h-2.2M195.2 383.32h-2.2M195.2 375.21h-2.2M195.2 367.10h-2.2" stroke="#000" stroke-width="0.9" fill="none"/><rect x="28.1" y="363.5" width="167.1" height="165.8" fill="none" stroke="#000" stroke-width="1"/><line x1="192.3" y1="363.5" x2="192.3" y2="529.3" stroke="#000" stroke-width="0.6"/><g font-size="16" fill="#000"><text x="196.7" y="370.0">4</text><text x="196.7" y="409.0">3</text><text x="196.7" y="449.2">2</text><text x="195.2" y="489.0">1</text><text x="196.7" y="532.2">0</text></g><text font-size="16.3" transform="translate(216.0 445.0) rotate(-90)" x="0" y="5.5" text-anchor="middle">I (kR)</text><text font-size="21" x="0.3" y="382.1">(g)</text><rect x="250.1" y="363.3" width="167.4" height="171.1" fill="#000080"/><path fill="#00bfff" d="M250.1 363.3h5.0v5.1h-5.0zM282.6 363.3h51.5v5.1h-51.5zM250.1 368.1h5.0v5.1h-5.0zM282.6 368.1h51.5v5.1h-51.5zM250.1 372.8h5.0v5.1h-5.0zM282.6 372.8h51.5v5.1h-51.5zM250.1 377.6h5.0v5.1h-5.0zM282.6 377.6h51.5v5.1h-51.5zM250.1 382.3h5.0v5.1h-5.0zM282.6 382.3h51.5v5.1h-51.5zM250.1 387.1h23.6v5.1h-23.6zM301.2 387.1h18.9v5.1h-18.9zM250.1 391.8h23.6v5.1h-23.6zM301.2 391.8h18.9v5.1h-18.9zM250.1 396.6h14.3v5.1h-14.3zM310.6 396.6h9.6v5.1h-9.6zM250.1 401.3h14.3v5.1h-14.3zM310.6 401.3h9.6v5.1h-9.6zM250.1 406.1h5.0v5.1h-5.0zM310.6 406.1h9.6v5.1h-9.6zM250.1 410.8h5.0v5.1h-5.0zM310.6 410.8h9.6v5.1h-9.6zM301.2 415.6h18.9v5.1h-18.9zM301.2 420.3h18.9v5.1h-18.9zM301.2 425.1h9.6v5.1h-9.6zM301.2 429.8h9.6v5.1h-9.6zM301.2 434.6h9.6v5.1h-9.6zM301.2 439.3h9.6v5.1h-9.6zM250.1 501.1h5.0v5.1h-5.0zM250.1 505.9h5.0v5.1h-5.0zM250.1 510.6h14.3v5.1h-14.3zM250.1 515.4h14.3v5.1h-14.3zM250.1 520.1h14.3v5.1h-14.3zM282.6 520.1h18.9v5.1h-18.9zM333.8 520.1h14.3v5.1h-14.3zM250.1 524.9h14.3v5.1h-14.3zM282.6 524.9h18.9v5.1h-18.9zM333.8 524.9h14.3v5.1h-14.3zM250.1 529.6h14.3v5.1h-14.3zM282.6 529.6h18.9v5.1h-18.9zM319.9 529.6h46.8v5.1h-46.8z"/><path fill="#00afff" d="M254.8 363.3h5.0v5.1h-5.0zM278.0 363.3h5.0v5.1h-5.0zM254.8 368.1h5.0v5.1h-5.0zM278.0 368.1h5.0v5.1h-5.0zM254.8 372.8h5.0v5.1h-5.0zM278.0 372.8h5.0v5.1h-5.0zM264.1 382.3h9.6v5.1h-9.6zM282.6 387.1h9.6v5.1h-9.6zM250.1 415.6h5.0v5.1h-5.0zM296.6 415.6h5.0v5.1h-5.0zM296.6 420.3h5.0v5.1h-5.0zM296.6 425.1h5.0v5.1h-5.0zM296.6 429.8h5.0v5.1h-5.0zM250.1 448.9h5.0v5.1h-5.0zM264.1 510.6h5.0v5.1h-5.0zM278.0 510.6h5.0v5.1h-5.0zM264.1 515.4h5.0v5.1h-5.0zM278.0 515.4h5.0v5.1h-5.0zM264.1 520.1h5.0v5.1h-5.0zM278.0 520.1h5.0v5.1h-5.0zM264.1 524.9h5.0v5.1h-5.0zM278.0 524.9h5.0v5.1h-5.0zM264.1 529.6h5.0v5.1h-5.0zM278.0 529.6h5.0v5.1h-5.0z"/><path fill="#008fff" d="M259.4 363.3h5.0v5.1h-5.0zM273.4 363.3h5.0v5.1h-5.0zM259.4 368.1h5.0v5.1h-5.0zM273.4 368.1h5.0v5.1h-5.0zM259.4 372.8h5.0v5.1h-5.0zM273.4 372.8h5.0v5.1h-5.0zM264.1 377.6h9.6v5.1h-9.6zM282.6 391.8h9.6v5.1h-9.6zM291.9 415.6h5.0v5.1h-5.0zM250.1 420.3h5.0v5.1h-5.0zM291.9 420.3h5.0v5.1h-5.0zM291.9 425.1h5.0v5.1h-5.0zM291.9 429.8h5.0v5.1h-5.0zM250.1 444.1h5.0v5.1h-5.0zM268.7 510.6h9.6v5.1h-9.6zM268.7 515.4h9.6v5.1h-9.6zM268.7 520.1h9.6v5.1h-9.6zM268.7 524.9h9.6v5.1h-9.6zM268.7 529.6h9.6v5.1h-9.6z"/><path fill="#0080ff" d="M264.1 363.3h9.6v5.1h-9.6zM264.1 368.1h9.6v5.1h-9.6zM264.1 372.8h9.6v5.1h-9.6zM282.6 396.6h9.6v5.1h-9.6zM282.6 401.3h9.6v5.1h-9.6zM273.4 406.1h18.9v5.1h-18.9zM273.4 410.8h18.9v5.1h-18.9zM264.1 415.6h28.2v5.1h-28.2zM264.1 420.3h28.2v5.1h-28.2zM250.1 425.1h42.1v5.1h-42.1zM250.1 429.8h42.1v5.1h-42.1zM250.1 434.6h32.9v5.1h-32.9zM250.1 439.3h32.9v5.1h-32.9zM264.1 444.1h9.6v5.1h-9.6zM264.1 448.9h9.6v5.1h-9.6z"/><path fill="#40ffbf" d="M333.8 363.3h5.0v5.1h-5.0zM329.1 444.1h5.0v5.1h-5.0zM329.1 448.9h5.0v5.1h-5.0zM329.1 453.6h28.2v5.1h-28.2zM329.1 458.4h28.2v5.1h-28.2zM319.9 463.1h37.5v5.1h-37.5zM319.9 467.9h37.5v5.1h-37.5zM250.1 472.6h14.3v5.1h-14.3zM282.6 472.6h5.0v5.1h-5.0zM310.6 472.6h46.8v5.1h-46.8zM250.1 477.4h14.3v5.1h-14.3zM287.3 477.4h5.0v5.1h-5.0zM310.6 477.4h46.8v5.1h-46.8zM301.2 482.1h56.1v5.1h-56.1zM301.2 486.9h56.1v5.1h-56.1zM282.6 491.6h5.0v5.1h-5.0zM301.2 491.6h56.1v5.1h-56.1zM287.3 496.4h5.0v5.1h-5.0zM301.2 496.4h56.1v5.1h-56.1zM366.4 510.6h5.0v5.1h-5.0zM412.9 510.6h5.0v5.1h-5.0zM371.0 515.4h5.0v5.1h-5.0zM412.9 515.4h5.0v5.1h-5.0zM412.9 520.1h5.0v5.1h-5.0zM412.9 524.9h5.0v5.1h-5.0zM412.9 529.6h5.0v5.1h-5.0z"/><path fill="#70ff8f" d="M338.4 363.3h5.0v5.1h-5.0zM333.8 372.8h5.0v5.1h-5.0zM333.8 444.1h14.3v5.1h-14.3zM361.7 453.6h5.0v5.1h-5.0zM361.7 458.4h5.0v5.1h-5.0zM361.7 463.1h5.0v5.1h-5.0zM361.7 467.9h5.0v5.1h-5.0zM361.7 472.6h5.0v5.1h-5.0zM273.4 477.4h9.6v5.1h-9.6zM361.7 477.4h5.0v5.1h-5.0zM273.4 482.1h9.6v5.1h-9.6zM361.7 482.1h5.0v5.1h-5.0zM361.7 486.9h5.0v5.1h-5.0zM361.7 491.6h5.0v5.1h-5.0zM361.7 496.4h5.0v5.1h-5.0zM412.9 505.9h5.0v5.1h-5.0z"/><path fill="#cfff30" d="M343.1 363.3h5.0v5.1h-5.0zM347.8 415.6h5.0v5.1h-5.0zM347.8 420.3h5.0v5.1h-5.0zM412.9 467.9h5.0v5.1h-5.0zM412.9 472.6h5.0v5.1h-5.0zM412.9 501.1h5.0v5.1h-5.0z"/><path fill="#ffdf00" d="M347.8 363.3h5.0v5.1h-5.0zM347.8 368.1h5.0v5.1h-5.0zM347.8 372.8h5.0v5.1h-5.0zM347.8 377.6h5.0v5.1h-5.0zM347.8 382.3h5.0v5.1h-5.0zM380.3 396.6h9.6v5.1h-9.6zM361.7 434.6h5.0v5.1h-5.0zM408.2 434.6h5.0v5.1h-5.0zM361.7 439.3h5.0v5.1h-5.0zM385.0 467.9h5.0v5.1h-5.0zM385.0 472.6h5.0v5.1h-5.0zM398.9 472.6h5.0v5.1h-5.0zM403.6 477.4h5.0v5.1h-5.0zM412.9 482.1h5.0v5.1h-5.0zM385.0 486.9h5.0v5.1h-5.0zM389.6 491.6h5.0v5.1h-5.0zM412.9 496.4h5.0v5.1h-5.0z"/><path fill="#ff9f00" d="M352.4 363.3h5.0v5.1h-5.0zM352.4 368.1h5.0v5.1h-5.0zM352.4 372.8h5.0v5.1h-5.0zM352.4 377.6h5.0v5.1h-5.0zM352.4 382.3h5.0v5.1h-5.0zM375.6 401.3h5.0v5.1h-5.0zM389.6 401.3h5.0v5.1h-5.0zM403.6 439.3h5.0v5.1h-5.0zM389.6 463.1h5.0v5.1h-5.0zM389.6 477.4h9.6v5.1h-9.6zM389.6 482.1h5.0v5.1h-5.0zM412.9 486.9h5.0v5.1h-5.0zM412.9 491.6h5.0v5.1h-5.0z"/><path fill="#ff8f00" d="M357.1 363.3h5.0v5.1h-5.0zM398.9 363.3h5.0v5.1h-5.0zM357.1 368.1h5.0v5.1h-5.0zM398.9 368.1h5.0v5.1h-5.0zM357.1 372.8h5.0v5.1h-5.0zM398.9 372.8h5.0v5.1h-5.0zM398.9 377.6h5.0v5.1h-5.0zM398.9 382.3h5.0v5.1h-5.0zM357.1 401.3h5.0v5.1h-5.0zM361.7 410.8h5.0v5.1h-5.0zM403.6 415.6h14.3v5.1h-14.3zM371.0 425.1h5.0v5.1h-5.0zM371.0 429.8h5.0v5.1h-5.0zM371.0 434.6h5.0v5.1h-5.0zM371.0 439.3h5.0v5.1h-5.0zM403.6 444.1h5.0v5.1h-5.0zM403.6 448.9h5.0v5.1h-5.0zM385.0 458.4h5.0v5.1h-5.0zM408.2 486.9h5.0v5.1h-5.0zM408.2 491.6h5.0v5.1h-5.0z"/><path fill="#ffaf00" d="M361.7 363.3h5.0v5.1h-5.0zM394.2 363.3h5.0v5.1h-5.0zM361.7 368.1h5.0v5.1h-5.0zM394.2 368.1h5.0v5.1h-5.0zM361.7 372.8h5.0v5.1h-5.0zM394.2 372.8h5.0v5.1h-5.0zM394.2 377.6h5.0v5.1h-5.0zM394.2 382.3h5.0v5.1h-5.0zM357.1 406.1h5.0v5.1h-5.0zM403.6 420.3h14.3v5.1h-14.3zM366.4 425.1h5.0v5.1h-5.0zM366.4 429.8h5.0v5.1h-5.0zM366.4 434.6h5.0v5.1h-5.0zM366.4 439.3h5.0v5.1h-5.0zM408.2 444.1h5.0v5.1h-5.0zM408.2 448.9h5.0v5.1h-5.0zM403.6 482.1h5.0v5.1h-5.0zM403.6 496.4h5.0v5.1h-5.0z"/><path fill="#ffcf00" d="M366.4 363.3h5.0v5.1h-5.0zM389.6 363.3h5.0v5.1h-5.0zM366.4 368.1h5.0v5.1h-5.0zM389.6 368.1h5.0v5.1h-5.0zM366.4 372.8h5.0v5.1h-5.0zM389.6 372.8h5.0v5.1h-5.0zM389.6 377.6h5.0v5.1h-5.0zM389.6 382.3h5.0v5.1h-5.0zM375.6 387.1h5.0v5.1h-5.0zM389.6 387.1h5.0v5.1h-5.0zM375.6 391.8h5.0v5.1h-5.0zM389.6 391.8h5.0v5.1h-5.0zM357.1 410.8h5.0v5.1h-5.0zM412.9 425.1h5.0v5.1h-5.0zM412.9 439.3h5.0v5.1h-5.0zM412.9 453.6h5.0v5.1h-5.0zM408.2 482.1h5.0v5.1h-5.0zM408.2 496.4h5.0v5.1h-5.0z"/><path fill="#ffef00" d="M371.0 363.3h5.0v5.1h-5.0zM385.0 363.3h5.0v5.1h-5.0zM371.0 368.1h5.0v5.1h-5.0zM385.0 368.1h5.0v5.1h-5.0zM371.0 372.8h5.0v5.1h-5.0zM385.0 372.8h5.0v5.1h-5.0zM385.0 377.6h5.0v5.1h-5.0zM385.0 382.3h5.0v5.1h-5.0zM380.3 387.1h9.6v5.1h-9.6zM380.3 391.8h9.6v5.1h-9.6zM412.9 429.8h5.0v5.1h-5.0zM412.9 434.6h5.0v5.1h-5.0zM412.9 458.4h5.0v5.1h-5.0z"/><path fill="#ffff00" d="M375.6 363.3h9.6v5.1h-9.6zM375.6 368.1h9.6v5.1h-9.6zM375.6 372.8h9.6v5.1h-9.6zM403.6 472.6h5.0v5.1h-5.0zM408.2 477.4h5.0v5.1h-5.0zM385.0 491.6h5.0v5.1h-5.0zM389.6 496.4h5.0v5.1h-5.0zM403.6 501.1h5.0v5.1h-5.0z"/><path fill="#ff8000" d="M403.6 363.3h14.3v5.1h-14.3zM403.6 368.1h14.3v5.1h-14.3zM403.6 372.8h14.3v5.1h-14.3zM403.6 377.6h14.3v5.1h-14.3zM403.6 382.3h14.3v5.1h-14.3zM398.9 453.6h5.0v5.1h-5.0zM394.2 458.4h5.0v5.1h-5.0z"/><path fill="#50ffaf" d="M333.8 368.1h5.0v5.1h-5.0zM333.8 448.9h14.3v5.1h-14.3zM357.1 453.6h5.0v5.1h-5.0zM357.1 458.4h5.0v5.1h-5.0zM357.1 463.1h5.0v5.1h-5.0zM357.1 467.9h5.0v5.1h-5.0zM273.4 472.6h9.6v5.1h-9.6zM357.1 472.6h5.0v5.1h-5.0zM357.1 477.4h5.0v5.1h-5.0zM357.1 482.1h5.0v5.1h-5.0zM273.4 486.9h9.6v5.1h-9.6zM357.1 486.9h5.0v5.1h-5.0zM357.1 491.6h5.0v5.1h-5.0zM357.1 496.4h5.0v5.1h-5.0z"/><path fill="#7cff83" d="M338.4 368.1h5.0v5.1h-5.0zM347.8 444.1h5.0v5.1h-5.0zM375.6 510.6h5.0v5.1h-5.0z"/><path fill="#d3ff2c" d="M343.1 368.1h5.0v5.1h-5.0zM343.1 387.1h5.0v5.1h-5.0zM347.8 410.8h5.0v5.1h-5.0zM371.0 453.6h5.0v5.1h-5.0zM375.6 467.9h5.0v5.1h-5.0zM375.6 472.6h5.0v5.1h-5.0zM375.6 486.9h5.0v5.1h-5.0z"/><path fill="#93ff6c" d="M338.4 372.8h5.0v5.1h-5.0zM338.4 391.8h5.0v5.1h-5.0zM352.4 444.1h5.0v5.1h-5.0zM366.4 458.4h5.0v5.1h-5.0zM380.3 510.6h5.0v5.1h-5.0zM389.6 510.6h5.0v5.1h-5.0z"/><path fill="#dbff24" d="M343.1 372.8h5.0v5.1h-5.0zM347.8 406.1h5.0v5.1h-5.0zM375.6 463.1h5.0v5.1h-5.0zM408.2 467.9h5.0v5.1h-5.0zM375.6 477.4h5.0v5.1h-5.0zM375.6 482.1h5.0v5.1h-5.0z"/><path fill="#00b3ff" d="M254.8 377.6h5.0v5.1h-5.0zM278.0 377.6h5.0v5.1h-5.0zM259.4 382.3h5.0v5.1h-5.0zM273.4 382.3h5.0v5.1h-5.0zM278.0 387.1h5.0v5.1h-5.0zM291.9 387.1h5.0v5.1h-5.0zM273.4 391.8h5.0v5.1h-5.0zM296.6 391.8h5.0v5.1h-5.0zM268.7 396.6h5.0v5.1h-5.0zM301.2 396.6h5.0v5.1h-5.0zM264.1 401.3h5.0v5.1h-5.0zM305.9 401.3h5.0v5.1h-5.0zM259.4 406.1h5.0v5.1h-5.0zM305.9 406.1h5.0v5.1h-5.0zM254.8 410.8h5.0v5.1h-5.0zM301.2 410.8h5.0v5.1h-5.0zM296.6 434.6h5.0v5.1h-5.0zM291.9 439.3h5.0v5.1h-5.0zM287.3 444.1h5.0v5.1h-5.0zM282.6 448.9h5.0v5.1h-5.0zM278.0 453.6h5.0v5.1h-5.0zM273.4 458.4h5.0v5.1h-5.0z"/><path fill="#009bff" d="M259.4 377.6h5.0v5.1h-5.0zM273.4 377.6h5.0v5.1h-5.0zM278.0 391.8h5.0v5.1h-5.0zM291.9 391.8h5.0v5.1h-5.0zM268.7 401.3h5.0v5.1h-5.0zM301.2 401.3h5.0v5.1h-5.0zM301.2 406.1h5.0v5.1h-5.0zM259.4 410.8h5.0v5.1h-5.0zM291.9 434.6h5.0v5.1h-5.0zM282.6 444.1h5.0v5.1h-5.0zM264.1 453.6h5.0v5.1h-5.0zM273.4 453.6h5.0v5.1h-5.0z"/><path fill="#80ff80" d="M333.8 377.6h5.0v5.1h-5.0zM333.8 382.3h5.0v5.1h-5.0zM333.8 387.1h5.0v5.1h-5.0zM333.8 391.8h5.0v5.1h-5.0zM333.8 396.6h5.0v5.1h-5.0zM333.8 401.3h5.0v5.1h-5.0zM333.8 406.1h5.0v5.1h-5.0zM333.8 410.8h5.0v5.1h-5.0zM333.8 415.6h5.0v5.1h-5.0zM333.8 420.3h5.0v5.1h-5.0zM333.8 425.1h5.0v5.1h-5.0zM333.8 429.8h5.0v5.1h-5.0zM333.8 434.6h14.3v5.1h-14.3zM333.8 439.3h14.3v5.1h-14.3zM366.4 501.1h5.0v5.1h-5.0zM371.0 505.9h5.0v5.1h-5.0zM408.2 505.9h5.0v5.1h-5.0z"/><path fill="#9fff60" d="M338.4 377.6h5.0v5.1h-5.0zM338.4 382.3h5.0v5.1h-5.0zM347.8 429.8h5.0v5.1h-5.0zM371.0 501.1h5.0v5.1h-5.0zM403.6 505.9h5.0v5.1h-5.0z"/><path fill="#dfff20" d="M343.1 377.6h5.0v5.1h-5.0zM343.1 382.3h5.0v5.1h-5.0zM352.4 425.1h5.0v5.1h-5.0zM357.1 434.6h5.0v5.1h-5.0zM357.1 439.3h5.0v5.1h-5.0zM408.2 472.6h5.0v5.1h-5.0zM385.0 496.4h5.0v5.1h-5.0zM408.2 501.1h5.0v5.1h-5.0z"/><path fill="#ff8700" d="M357.1 377.6h5.0v5.1h-5.0zM371.0 396.6h5.0v5.1h-5.0zM375.6 444.1h5.0v5.1h-5.0z"/><path fill="#ff9700" d="M361.7 377.6h5.0v5.1h-5.0z"/><path fill="#ffb300" d="M366.4 377.6h5.0v5.1h-5.0zM371.0 382.3h5.0v5.1h-5.0zM371.0 444.1h5.0v5.1h-5.0zM394.2 491.6h5.0v5.1h-5.0zM398.9 496.4h5.0v5.1h-5.0z"/><path fill="#ffdb00" d="M371.0 377.6h5.0v5.1h-5.0zM375.6 382.3h5.0v5.1h-5.0zM361.7 429.8h5.0v5.1h-5.0zM366.4 444.1h5.0v5.1h-5.0zM394.2 496.4h5.0v5.1h-5.0z"/><path fill="#fff300" d="M375.6 377.6h5.0v5.1h-5.0zM380.3 382.3h5.0v5.1h-5.0z"/><path fill="#fffb00" d="M380.3 377.6h5.0v5.1h-5.0zM357.1 425.1h5.0v5.1h-5.0zM371.0 448.9h5.0v5.1h-5.0z"/><path fill="#00bbff" d="M254.8 382.3h5.0v5.1h-5.0zM278.0 382.3h5.0v5.1h-5.0zM273.4 387.1h5.0v5.1h-5.0zM296.6 387.1h5.0v5.1h-5.0zM264.1 396.6h5.0v5.1h-5.0zM305.9 396.6h5.0v5.1h-5.0zM254.8 406.1h5.0v5.1h-5.0zM305.9 410.8h5.0v5.1h-5.0zM296.6 439.3h5.0v5.1h-5.0zM287.3 448.9h5.0v5.1h-5.0zM268.7 458.4h5.0v5.1h-5.0zM278.0 458.4h5.0v5.1h-5.0z"/><path fill="#ff7800" d="M357.1 382.3h5.0v5.1h-5.0zM371.0 401.3h5.0v5.1h-5.0z"/><path fill="#ff6800" d="M361.7 382.3h5.0v5.1h-5.0zM380.3 448.9h5.0v5.1h-5.0z"/><path fill="#ff7c00" d="M366.4 382.3h5.0v5.1h-5.0zM394.2 401.3h5.0v5.1h-5.0zM371.0 410.8h5.0v5.1h-5.0zM394.2 410.8h5.0v5.1h-5.0zM375.6 415.6h5.0v5.1h-5.0zM389.6 415.6h5.0v5.1h-5.0zM398.9 439.3h5.0v5.1h-5.0zM398.9 491.6h5.0v5.1h-5.0z"/><path fill="#00c3ff" d="M319.9 387.1h5.0v5.1h-5.0zM310.6 425.1h5.0v5.1h-5.0zM291.9 444.1h5.0v5.1h-5.0zM254.8 453.6h5.0v5.1h-5.0zM282.6 453.6h5.0v5.1h-5.0zM254.8 505.9h5.0v5.1h-5.0zM264.1 505.9h5.0v5.1h-5.0zM278.0 505.9h5.0v5.1h-5.0zM282.6 515.4h5.0v5.1h-5.0zM347.8 524.9h5.0v5.1h-5.0z"/><path fill="#00cbff" d="M324.5 387.1h5.0v5.1h-5.0zM319.9 391.8h5.0v5.1h-5.0zM315.2 425.1h5.0v5.1h-5.0zM310.6 429.8h5.0v5.1h-5.0zM296.6 444.1h5.0v5.1h-5.0zM291.9 448.9h5.0v5.1h-5.0zM287.3 453.6h5.0v5.1h-5.0zM282.6 458.4h5.0v5.1h-5.0zM254.8 501.1h5.0v5.1h-5.0zM259.4 505.9h5.0v5.1h-5.0zM282.6 510.6h5.0v5.1h-5.0zM287.3 515.4h5.0v5.1h-5.0zM347.8 520.1h5.0v5.1h-5.0zM352.4 524.9h5.0v5.1h-5.0z"/><path fill="#00cfff" d="M329.1 387.1h5.0v5.1h-5.0zM319.9 396.6h5.0v5.1h-5.0zM319.9 401.3h5.0v5.1h-5.0zM319.9 406.1h5.0v5.1h-5.0zM319.9 410.8h5.0v5.1h-5.0zM319.9 415.6h5.0v5.1h-5.0zM319.9 420.3h5.0v5.1h-5.0zM310.6 434.6h5.0v5.1h-5.0zM310.6 439.3h5.0v5.1h-5.0zM301.2 444.1h9.6v5.1h-9.6zM250.1 453.6h5.0v5.1h-5.0zM250.1 496.4h5.0v5.1h-5.0zM291.9 515.4h9.6v5.1h-9.6zM333.8 515.4h14.3v5.1h-14.3zM301.2 520.1h5.0v5.1h-5.0zM301.2 524.9h5.0v5.1h-5.0zM319.9 524.9h14.3v5.1h-14.3zM357.1 524.9h9.6v5.1h-9.6zM301.2 529.6h5.0v5.1h-5.0zM315.2 529.6h5.0v5.1h-5.0zM366.4 529.6h5.0v5.1h-5.0zM380.3 529.6h9.6v5.1h-9.6z"/><path fill="#9bff64" d="M338.4 387.1h5.0v5.1h-5.0zM361.7 448.9h5.0v5.1h-5.0zM366.4 453.6h5.0v5.1h-5.0zM375.6 505.9h5.0v5.1h-5.0zM385.0 510.6h5.0v5.1h-5.0z"/><path fill="#ffeb00" d="M347.8 387.1h5.0v5.1h-5.0zM352.4 406.1h5.0v5.1h-5.0zM357.1 420.3h5.0v5.1h-5.0zM408.2 458.4h5.0v5.1h-5.0zM380.3 463.1h5.0v5.1h-5.0zM398.9 467.9h5.0v5.1h-5.0zM380.3 477.4h5.0v5.1h-5.0zM380.3 482.1h5.0v5.1h-5.0z"/><path fill="#ffa300" d="M352.4 387.1h5.0v5.1h-5.0zM394.2 391.8h5.0v5.1h-5.0zM380.3 406.1h9.6v5.1h-9.6zM366.4 420.3h5.0v5.1h-5.0zM398.9 420.3h5.0v5.1h-5.0zM398.9 429.8h5.0v5.1h-5.0z"/><path fill="#ff6c00" d="M357.1 387.1h5.0v5.1h-5.0zM403.6 387.1h5.0v5.1h-5.0zM398.9 391.8h5.0v5.1h-5.0zM394.2 429.8h5.0v5.1h-5.0zM398.9 444.1h5.0v5.1h-5.0z"/><path fill="#ff4400" d="M361.7 387.1h5.0v5.1h-5.0zM403.6 391.8h5.0v5.1h-5.0zM385.0 429.8h5.0v5.1h-5.0zM394.2 444.1h5.0v5.1h-5.0z"/><path fill="#ff5400" d="M366.4 387.1h5.0v5.1h-5.0zM398.9 401.3h5.0v5.1h-5.0zM394.2 439.3h5.0v5.1h-5.0z"/><path fill="#ff9b00" d="M371.0 387.1h5.0v5.1h-5.0zM398.9 482.1h5.0v5.1h-5.0zM394.2 486.9h5.0v5.1h-5.0z"/><path fill="#ffab00" d="M394.2 387.1h5.0v5.1h-5.0zM352.4 391.8h5.0v5.1h-5.0zM361.7 415.6h5.0v5.1h-5.0zM398.9 425.1h5.0v5.1h-5.0zM403.6 453.6h5.0v5.1h-5.0zM394.2 463.1h5.0v5.1h-5.0z"/><path fill="#ff8300" d="M398.9 387.1h5.0v5.1h-5.0zM375.6 410.8h5.0v5.1h-5.0zM389.6 410.8h5.0v5.1h-5.0zM371.0 415.6h5.0v5.1h-5.0zM394.2 415.6h5.0v5.1h-5.0zM394.2 425.1h5.0v5.1h-5.0z"/><path fill="#ff6400" d="M408.2 387.1h5.0v5.1h-5.0zM357.1 391.8h5.0v5.1h-5.0zM389.6 425.1h5.0v5.1h-5.0zM398.9 448.9h5.0v5.1h-5.0z"/><path fill="#ff6000" d="M412.9 387.1h5.0v5.1h-5.0z"/><path fill="#00e3ff" d="M324.5 391.8h5.0v5.1h-5.0zM315.2 429.8h5.0v5.1h-5.0zM296.6 448.9h5.0v5.1h-5.0zM259.4 458.4h5.0v5.1h-5.0zM287.3 458.4h5.0v5.1h-5.0zM259.4 501.1h5.0v5.1h-5.0zM268.7 501.1h9.6v5.1h-9.6zM287.3 510.6h5.0v5.1h-5.0zM352.4 520.1h5.0v5.1h-5.0z"/><path fill="#00efff" d="M329.1 391.8h5.0v5.1h-5.0zM324.5 396.6h5.0v5.1h-5.0zM324.5 401.3h5.0v5.1h-5.0zM324.5 406.1h5.0v5.1h-5.0zM324.5 410.8h5.0v5.1h-5.0zM324.5 415.6h5.0v5.1h-5.0zM324.5 420.3h5.0v5.1h-5.0zM315.2 434.6h5.0v5.1h-5.0zM315.2 439.3h5.0v5.1h-5.0zM301.2 448.9h9.6v5.1h-9.6zM250.1 458.4h5.0v5.1h-5.0zM250.1 491.6h5.0v5.1h-5.0zM291.9 510.6h9.6v5.1h-9.6zM333.8 510.6h14.3v5.1h-14.3zM305.9 520.1h5.0v5.1h-5.0zM319.9 520.1h14.3v5.1h-14.3zM357.1 520.1h9.6v5.1h-9.6zM305.9 524.9h5.0v5.1h-5.0zM305.9 529.6h9.6v5.1h-9.6zM371.0 529.6h9.6v5.1h-9.6zM389.6 529.6h5.0v5.1h-5.0z"/><path fill="#bbff44" d="M343.1 391.8h5.0v5.1h-5.0zM357.1 444.1h5.0v5.1h-5.0zM371.0 458.4h5.0v5.1h-5.0zM380.3 501.1h5.0v5.1h-5.0z"/><path fill="#fbff04" d="M347.8 391.8h5.0v5.1h-5.0zM352.4 410.8h5.0v5.1h-5.0zM403.6 463.1h5.0v5.1h-5.0zM380.3 467.9h5.0v5.1h-5.0zM380.3 472.6h5.0v5.1h-5.0zM380.3 486.9h5.0v5.1h-5.0z"/><path fill="#ff2c00" d="M361.7 391.8h5.0v5.1h-5.0zM408.2 391.8h5.0v5.1h-5.0zM394.2 448.9h5.0v5.1h-5.0z"/><path fill="#ff3c00" d="M366.4 391.8h5.0v5.1h-5.0zM403.6 401.3h5.0v5.1h-5.0zM385.0 444.1h5.0v5.1h-5.0z"/><path fill="#ff9300" d="M371.0 391.8h5.0v5.1h-5.0zM394.2 396.6h5.0v5.1h-5.0zM398.9 434.6h5.0v5.1h-5.0zM394.2 482.1h5.0v5.1h-5.0z"/><path fill="#ff2000" d="M412.9 391.8h5.0v5.1h-5.0z"/><path fill="#00a3ff" d="M273.4 396.6h5.0v5.1h-5.0zM296.6 396.6h5.0v5.1h-5.0zM264.1 406.1h5.0v5.1h-5.0zM296.6 410.8h5.0v5.1h-5.0zM254.8 415.6h5.0v5.1h-5.0zM287.3 439.3h5.0v5.1h-5.0zM254.8 448.9h5.0v5.1h-5.0zM278.0 448.9h5.0v5.1h-5.0z"/><path fill="#008bff" d="M278.0 396.6h5.0v5.1h-5.0zM291.9 396.6h5.0v5.1h-5.0zM273.4 401.3h5.0v5.1h-5.0zM296.6 401.3h5.0v5.1h-5.0zM268.7 406.1h5.0v5.1h-5.0zM296.6 406.1h5.0v5.1h-5.0zM264.1 410.8h5.0v5.1h-5.0zM291.9 410.8h5.0v5.1h-5.0zM259.4 415.6h5.0v5.1h-5.0zM254.8 420.3h5.0v5.1h-5.0zM287.3 434.6h5.0v5.1h-5.0zM282.6 439.3h5.0v5.1h-5.0zM254.8 444.1h5.0v5.1h-5.0zM278.0 444.1h5.0v5.1h-5.0zM259.4 448.9h5.0v5.1h-5.0zM273.4 448.9h5.0v5.1h-5.0z"/><path fill="#00ffff" d="M329.1 396.6h5.0v5.1h-5.0zM329.1 401.3h5.0v5.1h-5.0zM329.1 406.1h5.0v5.1h-5.0zM329.1 410.8h5.0v5.1h-5.0zM329.1 415.6h5.0v5.1h-5.0zM329.1 420.3h5.0v5.1h-5.0zM329.1 425.1h5.0v5.1h-5.0zM329.1 429.8h5.0v5.1h-5.0zM301.2 453.6h9.6v5.1h-9.6zM301.2 458.4h9.6v5.1h-9.6zM291.9 463.1h9.6v5.1h-9.6zM291.9 467.9h9.6v5.1h-9.6zM254.8 491.6h5.0v5.1h-5.0zM259.4 496.4h5.0v5.1h-5.0zM282.6 501.1h5.0v5.1h-5.0zM287.3 505.9h5.0v5.1h-5.0zM301.2 510.6h5.0v5.1h-5.0zM319.9 510.6h14.3v5.1h-14.3zM347.8 510.6h5.0v5.1h-5.0zM305.9 515.4h5.0v5.1h-5.0zM319.9 515.4h14.3v5.1h-14.3zM352.4 515.4h5.0v5.1h-5.0zM366.4 520.1h5.0v5.1h-5.0zM394.2 520.1h9.6v5.1h-9.6zM371.0 524.9h5.0v5.1h-5.0zM394.2 524.9h9.6v5.1h-9.6zM394.2 529.6h9.6v5.1h-9.6z"/><path fill="#8fff70" d="M338.4 396.6h5.0v5.1h-5.0zM338.4 401.3h5.0v5.1h-5.0zM338.4 406.1h5.0v5.1h-5.0zM338.4 410.8h5.0v5.1h-5.0zM338.4 415.6h5.0v5.1h-5.0zM338.4 420.3h5.0v5.1h-5.0zM347.8 434.6h5.0v5.1h-5.0zM347.8 439.3h5.0v5.1h-5.0zM366.4 463.1h5.0v5.1h-5.0zM366.4 467.9h5.0v5.1h-5.0zM366.4 472.6h5.0v5.1h-5.0zM366.4 477.4h5.0v5.1h-5.0zM366.4 482.1h5.0v5.1h-5.0zM366.4 486.9h5.0v5.1h-5.0zM366.4 491.6h5.0v5.1h-5.0zM366.4 496.4h5.0v5.1h-5.0z"/><path fill="#afff50" d="M343.1 396.6h5.0v5.1h-5.0zM343.1 401.3h5.0v5.1h-5.0zM343.1 406.1h5.0v5.1h-5.0zM343.1 410.8h5.0v5.1h-5.0zM343.1 415.6h5.0v5.1h-5.0zM343.1 420.3h5.0v5.1h-5.0zM352.4 434.6h5.0v5.1h-5.0zM352.4 439.3h5.0v5.1h-5.0zM371.0 463.1h5.0v5.1h-5.0zM371.0 467.9h5.0v5.1h-5.0zM371.0 472.6h5.0v5.1h-5.0zM371.0 477.4h5.0v5.1h-5.0zM371.0 482.1h5.0v5.1h-5.0zM371.0 486.9h5.0v5.1h-5.0zM371.0 491.6h5.0v5.1h-5.0zM371.0 496.4h5.0v5.1h-5.0z"/><path fill="#ebff14" d="M347.8 396.6h5.0v5.1h-5.0zM357.1 429.8h5.0v5.1h-5.0z"/><path fill="#ffbb00" d="M352.4 396.6h5.0v5.1h-5.0z"/><path fill="#ff7000" d="M357.1 396.6h5.0v5.1h-5.0zM361.7 406.1h5.0v5.1h-5.0zM403.6 410.8h14.3v5.1h-14.3zM375.6 425.1h5.0v5.1h-5.0zM375.6 429.8h5.0v5.1h-5.0zM375.6 434.6h5.0v5.1h-5.0zM375.6 439.3h5.0v5.1h-5.0zM389.6 458.4h5.0v5.1h-5.0zM403.6 486.9h5.0v5.1h-5.0zM403.6 491.6h5.0v5.1h-5.0z"/><path fill="#ff3000" d="M361.7 396.6h5.0v5.1h-5.0zM412.9 401.3h5.0v5.1h-5.0zM389.6 453.6h5.0v5.1h-5.0z"/><path fill="#ff3800" d="M366.4 396.6h5.0v5.1h-5.0z"/><path fill="#ffbf00" d="M375.6 396.6h5.0v5.1h-5.0zM389.6 396.6h5.0v5.1h-5.0zM380.3 401.3h9.6v5.1h-9.6zM403.6 434.6h5.0v5.1h-5.0zM408.2 439.3h5.0v5.1h-5.0zM412.9 444.1h5.0v5.1h-5.0zM412.9 448.9h5.0v5.1h-5.0zM398.9 458.4h5.0v5.1h-5.0zM385.0 463.1h5.0v5.1h-5.0zM389.6 467.9h5.0v5.1h-5.0zM389.6 472.6h9.6v5.1h-9.6zM385.0 477.4h5.0v5.1h-5.0zM398.9 477.4h5.0v5.1h-5.0zM385.0 482.1h5.0v5.1h-5.0zM389.6 486.9h5.0v5.1h-5.0z"/><path fill="#ff5c00" d="M398.9 396.6h5.0v5.1h-5.0zM366.4 406.1h5.0v5.1h-5.0zM398.9 406.1h5.0v5.1h-5.0zM380.3 420.3h9.6v5.1h-9.6zM394.2 434.6h5.0v5.1h-5.0z"/><path fill="#ff3400" d="M403.6 396.6h5.0v5.1h-5.0zM408.2 401.3h5.0v5.1h-5.0zM389.6 444.1h5.0v5.1h-5.0zM385.0 448.9h5.0v5.1h-5.0z"/><path fill="#ff1c00" d="M408.2 396.6h5.0v5.1h-5.0zM389.6 448.9h5.0v5.1h-5.0z"/><path fill="#ff1000" d="M412.9 396.6h5.0v5.1h-5.0z"/><path fill="#0083ff" d="M278.0 401.3h5.0v5.1h-5.0zM291.9 401.3h5.0v5.1h-5.0zM291.9 406.1h5.0v5.1h-5.0zM268.7 410.8h5.0v5.1h-5.0zM259.4 420.3h5.0v5.1h-5.0zM282.6 434.6h5.0v5.1h-5.0zM259.4 444.1h5.0v5.1h-5.0zM273.4 444.1h5.0v5.1h-5.0z"/><path fill="#e3ff1c" d="M347.8 401.3h5.0v5.1h-5.0zM380.3 491.6h5.0v5.1h-5.0zM389.6 501.1h5.0v5.1h-5.0z"/><path fill="#ffd300" d="M352.4 401.3h5.0v5.1h-5.0zM361.7 425.1h5.0v5.1h-5.0z"/><path fill="#ff5000" d="M361.7 401.3h5.0v5.1h-5.0zM403.6 406.1h14.3v5.1h-14.3zM380.3 425.1h5.0v5.1h-5.0zM380.3 429.8h5.0v5.1h-5.0zM380.3 434.6h5.0v5.1h-5.0zM380.3 439.3h5.0v5.1h-5.0zM385.0 453.6h5.0v5.1h-5.0z"/><path fill="#ff4800" d="M366.4 401.3h5.0v5.1h-5.0z"/><path fill="#ff7400" d="M371.0 406.1h5.0v5.1h-5.0zM394.2 406.1h5.0v5.1h-5.0zM366.4 410.8h5.0v5.1h-5.0zM398.9 410.8h5.0v5.1h-5.0zM380.3 415.6h9.6v5.1h-9.6zM375.6 420.3h5.0v5.1h-5.0zM389.6 420.3h5.0v5.1h-5.0zM398.9 486.9h5.0v5.1h-5.0z"/><path fill="#ff8b00" d="M375.6 406.1h5.0v5.1h-5.0zM389.6 406.1h5.0v5.1h-5.0zM380.3 410.8h9.6v5.1h-9.6zM366.4 415.6h5.0v5.1h-5.0zM398.9 415.6h5.0v5.1h-5.0zM371.0 420.3h5.0v5.1h-5.0zM394.2 420.3h5.0v5.1h-5.0zM380.3 453.6h5.0v5.1h-5.0z"/><path fill="#efff10" d="M352.4 415.6h5.0v5.1h-5.0zM352.4 420.3h5.0v5.1h-5.0zM412.9 463.1h5.0v5.1h-5.0zM412.9 477.4h5.0v5.1h-5.0z"/><path fill="#ffe300" d="M357.1 415.6h5.0v5.1h-5.0zM408.2 429.8h5.0v5.1h-5.0zM375.6 453.6h5.0v5.1h-5.0zM403.6 458.4h5.0v5.1h-5.0zM398.9 463.1h5.0v5.1h-5.0z"/><path fill="#ffc300" d="M361.7 420.3h5.0v5.1h-5.0zM403.6 425.1h5.0v5.1h-5.0zM408.2 453.6h5.0v5.1h-5.0zM380.3 458.4h5.0v5.1h-5.0zM394.2 467.9h5.0v5.1h-5.0z"/><path fill="#00dbff" d="M319.9 425.1h5.0v5.1h-5.0zM310.6 444.1h5.0v5.1h-5.0zM291.9 453.6h5.0v5.1h-5.0zM315.2 524.9h5.0v5.1h-5.0z"/><path fill="#00f3ff" d="M324.5 425.1h5.0v5.1h-5.0zM319.9 429.8h5.0v5.1h-5.0zM315.2 444.1h5.0v5.1h-5.0zM310.6 448.9h5.0v5.1h-5.0zM296.6 453.6h5.0v5.1h-5.0zM291.9 458.4h5.0v5.1h-5.0zM315.2 520.1h5.0v5.1h-5.0zM310.6 524.9h5.0v5.1h-5.0z"/><path fill="#8bff74" d="M338.4 425.1h5.0v5.1h-5.0zM343.1 429.8h5.0v5.1h-5.0z"/><path fill="#a3ff5c" d="M343.1 425.1h5.0v5.1h-5.0z"/><path fill="#bfff40" d="M347.8 425.1h5.0v5.1h-5.0zM352.4 429.8h5.0v5.1h-5.0z"/><path fill="#ff4c00" d="M385.0 425.1h5.0v5.1h-5.0zM389.6 429.8h5.0v5.1h-5.0z"/><path fill="#ffcb00" d="M408.2 425.1h5.0v5.1h-5.0zM403.6 429.8h5.0v5.1h-5.0z"/><path fill="#00fbff" d="M324.5 429.8h5.0v5.1h-5.0zM315.2 448.9h5.0v5.1h-5.0zM296.6 458.4h5.0v5.1h-5.0zM310.6 520.1h5.0v5.1h-5.0z"/><path fill="#83ff7c" d="M338.4 429.8h5.0v5.1h-5.0zM394.2 510.6h5.0v5.1h-5.0z"/><path fill="#04fffb" d="M319.9 434.6h5.0v5.1h-5.0zM310.6 453.6h5.0v5.1h-5.0zM264.1 463.1h5.0v5.1h-5.0zM301.2 463.1h5.0v5.1h-5.0zM315.2 515.4h5.0v5.1h-5.0zM375.6 524.9h5.0v5.1h-5.0z"/><path fill="#0cfff3" d="M324.5 434.6h5.0v5.1h-5.0zM319.9 439.3h5.0v5.1h-5.0zM315.2 453.6h5.0v5.1h-5.0zM310.6 458.4h5.0v5.1h-5.0zM305.9 463.1h5.0v5.1h-5.0zM301.2 467.9h5.0v5.1h-5.0zM315.2 510.6h5.0v5.1h-5.0zM310.6 515.4h5.0v5.1h-5.0z"/><path fill="#10ffef" d="M329.1 434.6h5.0v5.1h-5.0zM319.9 444.1h5.0v5.1h-5.0zM319.9 448.9h5.0v5.1h-5.0zM250.1 463.1h14.3v5.1h-14.3zM291.9 472.6h9.6v5.1h-9.6zM250.1 486.9h5.0v5.1h-5.0zM264.1 496.4h18.9v5.1h-18.9zM291.9 505.9h9.6v5.1h-9.6zM319.9 505.9h28.2v5.1h-28.2zM357.1 515.4h9.6v5.1h-9.6zM403.6 520.1h5.0v5.1h-5.0zM403.6 524.9h5.0v5.1h-5.0zM403.6 529.6h5.0v5.1h-5.0z"/><path fill="#ff4000" d="M385.0 434.6h9.6v5.1h-9.6zM385.0 439.3h9.6v5.1h-9.6zM394.2 453.6h5.0v5.1h-5.0z"/><path fill="#24ffdb" d="M324.5 439.3h5.0v5.1h-5.0zM315.2 458.4h5.0v5.1h-5.0zM268.7 467.9h5.0v5.1h-5.0zM305.9 467.9h5.0v5.1h-5.0zM310.6 510.6h5.0v5.1h-5.0zM398.9 515.4h5.0v5.1h-5.0zM380.3 520.1h5.0v5.1h-5.0z"/><path fill="#30ffcf" d="M329.1 439.3h5.0v5.1h-5.0zM324.5 444.1h5.0v5.1h-5.0zM324.5 448.9h5.0v5.1h-5.0zM250.1 467.9h14.3v5.1h-14.3zM291.9 477.4h9.6v5.1h-9.6zM250.1 482.1h5.0v5.1h-5.0zM264.1 491.6h18.9v5.1h-18.9zM291.9 501.1h9.6v5.1h-9.6zM319.9 501.1h28.2v5.1h-28.2zM357.1 510.6h9.6v5.1h-9.6zM408.2 520.1h5.0v5.1h-5.0zM408.2 524.9h5.0v5.1h-5.0zM408.2 529.6h5.0v5.1h-5.0z"/><path fill="#f3ff0c" d="M361.7 444.1h5.0v5.1h-5.0zM375.6 458.4h5.0v5.1h-5.0zM408.2 463.1h5.0v5.1h-5.0zM403.6 467.9h5.0v5.1h-5.0z"/><path fill="#ff5800" d="M380.3 444.1h5.0v5.1h-5.0z"/><path fill="#54ffab" d="M347.8 448.9h5.0v5.1h-5.0zM375.6 515.4h5.0v5.1h-5.0zM385.0 515.4h5.0v5.1h-5.0z"/><path fill="#5cffa3" d="M352.4 448.9h5.0v5.1h-5.0zM380.3 515.4h5.0v5.1h-5.0z"/><path fill="#74ff8b" d="M357.1 448.9h5.0v5.1h-5.0z"/><path fill="#cbff34" d="M366.4 448.9h5.0v5.1h-5.0zM375.6 491.6h5.0v5.1h-5.0zM380.3 496.4h5.0v5.1h-5.0zM385.0 501.1h5.0v5.1h-5.0zM389.6 505.9h5.0v5.1h-5.0z"/><path fill="#ffb700" d="M375.6 448.9h5.0v5.1h-5.0z"/><path fill="#00abff" d="M259.4 453.6h5.0v5.1h-5.0zM268.7 505.9h9.6v5.1h-9.6z"/><path fill="#0093ff" d="M268.7 453.6h5.0v5.1h-5.0z"/><path fill="#1cffe3" d="M319.9 453.6h5.0v5.1h-5.0zM310.6 463.1h5.0v5.1h-5.0zM301.2 472.6h5.0v5.1h-5.0zM254.8 486.9h5.0v5.1h-5.0zM301.2 505.9h5.0v5.1h-5.0zM315.2 505.9h5.0v5.1h-5.0zM347.8 505.9h5.0v5.1h-5.0z"/><path fill="#34ffcb" d="M324.5 453.6h5.0v5.1h-5.0zM319.9 458.4h5.0v5.1h-5.0zM315.2 463.1h5.0v5.1h-5.0zM310.6 467.9h5.0v5.1h-5.0zM305.9 472.6h5.0v5.1h-5.0zM301.2 477.4h5.0v5.1h-5.0zM254.8 482.1h5.0v5.1h-5.0zM259.4 486.9h5.0v5.1h-5.0zM301.2 501.1h5.0v5.1h-5.0zM315.2 501.1h5.0v5.1h-5.0zM347.8 501.1h5.0v5.1h-5.0zM305.9 505.9h9.6v5.1h-9.6zM352.4 505.9h5.0v5.1h-5.0z"/><path fill="#00ebff" d="M254.8 458.4h5.0v5.1h-5.0zM268.7 463.1h5.0v5.1h-5.0zM264.1 501.1h5.0v5.1h-5.0zM278.0 501.1h5.0v5.1h-5.0zM380.3 524.9h5.0v5.1h-5.0z"/><path fill="#00d3ff" d="M264.1 458.4h5.0v5.1h-5.0z"/><path fill="#3cffc3" d="M324.5 458.4h5.0v5.1h-5.0zM315.2 467.9h5.0v5.1h-5.0zM305.9 477.4h5.0v5.1h-5.0zM259.4 482.1h5.0v5.1h-5.0zM305.9 501.1h9.6v5.1h-9.6zM352.4 501.1h5.0v5.1h-5.0zM389.6 515.4h5.0v5.1h-5.0z"/><path fill="#00dfff" d="M273.4 463.1h9.6v5.1h-9.6zM254.8 496.4h5.0v5.1h-5.0zM282.6 505.9h5.0v5.1h-5.0zM301.2 515.4h5.0v5.1h-5.0zM347.8 515.4h5.0v5.1h-5.0zM366.4 524.9h5.0v5.1h-5.0z"/><path fill="#00e7ff" d="M282.6 463.1h5.0v5.1h-5.0zM385.0 524.9h5.0v5.1h-5.0z"/><path fill="#00f7ff" d="M287.3 463.1h5.0v5.1h-5.0zM389.6 524.9h5.0v5.1h-5.0z"/><path fill="#2cffd3" d="M264.1 467.9h5.0v5.1h-5.0zM394.2 515.4h5.0v5.1h-5.0zM375.6 520.1h5.0v5.1h-5.0z"/><path fill="#20ffdf" d="M273.4 467.9h9.6v5.1h-9.6zM287.3 472.6h5.0v5.1h-5.0zM259.4 491.6h5.0v5.1h-5.0zM282.6 496.4h5.0v5.1h-5.0zM287.3 501.1h5.0v5.1h-5.0zM305.9 510.6h5.0v5.1h-5.0zM352.4 510.6h5.0v5.1h-5.0zM366.4 515.4h5.0v5.1h-5.0zM371.0 520.1h5.0v5.1h-5.0z"/><path fill="#18ffe7" d="M282.6 467.9h5.0v5.1h-5.0zM385.0 520.1h5.0v5.1h-5.0z"/><path fill="#08fff7" d="M287.3 467.9h5.0v5.1h-5.0zM389.6 520.1h5.0v5.1h-5.0z"/><path fill="#44ffbb" d="M264.1 472.6h5.0v5.1h-5.0zM296.6 482.1h5.0v5.1h-5.0zM264.1 486.9h5.0v5.1h-5.0zM296.6 496.4h5.0v5.1h-5.0zM357.1 505.9h5.0v5.1h-5.0z"/><path fill="#4cffb3" d="M268.7 472.6h5.0v5.1h-5.0zM264.1 477.4h5.0v5.1h-5.0zM264.1 482.1h5.0v5.1h-5.0zM291.9 482.1h5.0v5.1h-5.0zM268.7 486.9h5.0v5.1h-5.0zM296.6 486.9h5.0v5.1h-5.0zM296.6 491.6h5.0v5.1h-5.0zM291.9 496.4h5.0v5.1h-5.0zM357.1 501.1h5.0v5.1h-5.0zM361.7 505.9h5.0v5.1h-5.0z"/><path fill="#64ff9b" d="M268.7 477.4h5.0v5.1h-5.0zM268.7 482.1h5.0v5.1h-5.0zM291.9 486.9h5.0v5.1h-5.0zM291.9 491.6h5.0v5.1h-5.0zM361.7 501.1h5.0v5.1h-5.0z"/><path fill="#60ff9f" d="M282.6 477.4h5.0v5.1h-5.0zM287.3 491.6h5.0v5.1h-5.0zM366.4 505.9h5.0v5.1h-5.0zM371.0 510.6h5.0v5.1h-5.0z"/><path fill="#68ff97" d="M282.6 482.1h5.0v5.1h-5.0zM287.3 486.9h5.0v5.1h-5.0z"/><path fill="#58ffa7" d="M287.3 482.1h5.0v5.1h-5.0zM282.6 486.9h5.0v5.1h-5.0zM403.6 510.6h5.0v5.1h-5.0z"/><path fill="#c3ff3c" d="M375.6 496.4h5.0v5.1h-5.0zM385.0 505.9h5.0v5.1h-5.0z"/><path fill="#b3ff4c" d="M375.6 501.1h5.0v5.1h-5.0zM380.3 505.9h5.0v5.1h-5.0z"/><path fill="#f7ff08" d="M394.2 501.1h5.0v5.1h-5.0z"/><path fill="#fff700" d="M398.9 501.1h5.0v5.1h-5.0z"/><path fill="#c7ff38" d="M394.2 505.9h5.0v5.1h-5.0z"/><path fill="#b7ff48" d="M398.9 505.9h5.0v5.1h-5.0z"/><path fill="#6cff93" d="M398.9 510.6h5.0v5.1h-5.0z"/><path fill="#48ffb7" d="M408.2 510.6h5.0v5.1h-5.0z"/><path fill="#28ffd7" d="M403.6 515.4h5.0v5.1h-5.0z"/><path fill="#38ffc7" d="M408.2 515.4h5.0v5.1h-5.0z"/><path fill="#000080" d="M250.1 363.3H256.4V384.0H250.1zM256.4 363.3H296.0V369.7H256.4zM296.0 363.3H311.0V367.3H296.0zM311.0 363.3H333.8V370.5H311.0zM333.8 363.3H350.3V372.6H333.8zM350.3 363.3H356.7V373.8H350.3zM356.7 363.3H369.5V376.2H356.7zM369.5 363.3H381.1V378.3H369.5zM381.1 363.3H394.0V379.0H381.1zM394.0 363.3H396.5V382.2H394.0zM396.5 363.3H417.5V387.3H396.5zM250.1 507.2H260.0V534.4H250.1zM260.0 512.5H274.8V534.4H260.0zM274.8 517.5H294.7V534.4H274.8zM294.7 523.0H319.5V534.4H294.7zM319.5 527.5H333.8V534.4H319.5zM333.8 527.5H354.2V534.4H333.8zM354.2 525.8H374.0V534.4H354.2zM374.0 527.0H389.0V534.4H374.0zM389.0 524.5H398.9V534.4H389.0zM398.9 520.8H408.8V534.4H398.9zM408.8 514.6H413.8V534.4H408.8zM413.8 505.9H417.5V534.4H413.8z"/><circle cx="335.3" cy="448.3" r="18.7" fill="none" stroke="#000" stroke-width="1.6"/><circle cx="335.3" cy="448.3" r="37.5" fill="none" stroke="#000" stroke-width="1.5"/><circle cx="335.3" cy="448.3" r="56.2" fill="none" stroke="#000" stroke-width="1.2"/><circle cx="335.3" cy="448.3" r="74.9" fill="none" stroke="#000" stroke-width="1.1"/><circle cx="335.3" cy="448.6" r="0.9" fill="#000"/><g font-size="16" stroke-width="0.35"><text x="255.8" y="380.0" fill="#fff" stroke="#fff" text-anchor="start">630.0nm</text><text x="341.5" y="376.3" fill="#fff" stroke="#fff" text-anchor="middle">N</text><text x="251.0" y="452.9" fill="#fff" stroke="#fff" text-anchor="start">E</text><text x="334.1" y="533.7" fill="#fff" stroke="#fff" text-anchor="start">S</text><text x="365.9" y="379.4" fill="#fff" stroke="#fff" text-anchor="start">50</text><text x="356.1" y="395.0" fill="#000" stroke="#000" text-anchor="start">60</text><text x="347.9" y="412.0" fill="#000" stroke="#000" text-anchor="start">70</text><text x="340.7" y="430.0" fill="#000" stroke="#000" text-anchor="start">80</text><text x="333.0" y="447.0" fill="#000" stroke="#000" text-anchor="start">90</text></g><g font-size="16" stroke-width="0.35"><text x="402.3" y="452.6" fill="#fff" stroke="#fff" text-anchor="start">W</text></g><path d="M259.5 363.3v2.2M259.5 534.4v-2.2M268.9 363.3v2.2M268.9 534.4v-2.2M278.4 363.3v2.2M278.4 534.4v-2.2M287.8 363.3v2.2M287.8 534.4v-2.2M297.2 363.3v2.2M297.2 534.4v-2.2M306.6 363.3v2.2M306.6 534.4v-2.2M316.0 363.3v2.2M316.0 534.4v-2.2M325.5 363.3v2.2M325.5 534.4v-2.2M334.9 363.3v2.2M334.9 534.4v-2.2M344.3 363.3v2.2M344.3 534.4v-2.2M353.7 363.3v2.2M353.7 534.4v-2.2M363.1 363.3v2.2M363.1 534.4v-2.2M372.6 363.3v2.2M372.6 534.4v-2.2M382.0 363.3v2.2M382.0 534.4v-2.2M391.4 363.3v2.2M391.4 534.4v-2.2M400.8 363.3v2.2M400.8 534.4v-2.2M410.2 363.3v2.2M410.2 534.4v-2.2M250.1 372.7h2.2M250.1 382.1h2.2M250.1 391.6h2.2M250.1 401.0h2.2M250.1 410.4h2.2M250.1 419.8h2.2M250.1 429.2h2.2M250.1 438.7h2.2M250.1 448.1h2.2M250.1 457.5h2.2M250.1 466.9h2.2M250.1 476.3h2.2M250.1 485.8h2.2M250.1 495.2h2.2M250.1 504.6h2.2M250.1 514.0h2.2M250.1 523.4h2.2M250.1 532.9h2.2" stroke="#000" stroke-width="1" fill="none"/><rect x="417.5" y="363.3" width="3.3" height="171.1" fill="url(#jet)"/><path d="M420.8 526.58h-2.2M420.8 518.77h-2.2M420.8 510.95h-2.2M420.8 503.14h-2.2M420.8 495.32h-2.2M420.8 487.51h-2.2M420.8 479.69h-2.2M420.8 471.88h-2.2M420.8 464.06h-2.2M420.8 456.25h-2.2M420.8 448.43h-2.2M420.8 440.62h-2.2M420.8 432.80h-2.2M420.8 424.99h-2.2M420.8 417.17h-2.2M420.8 409.36h-2.2M420.8 401.54h-2.2M420.8 393.73h-2.2M420.8 385.91h-2.2M420.8 378.10h-2.2M420.8 370.28h-2.2" stroke="#000" stroke-width="0.9" fill="none"/><rect x="250.1" y="363.3" width="170.7" height="171.1" fill="none" stroke="#000" stroke-width="1"/><line x1="417.5" y1="363.3" x2="417.5" y2="534.4" stroke="#000" stroke-width="0.6"/><g font-size="16" fill="#000"><text x="421.9" y="380.1">8</text><text x="421.9" y="419.9">6</text><text x="421.9" y="461.8">4</text><text x="421.9" y="499.2">2</text><text x="421.9" y="536.4">0</text></g><text font-size="16.3" transform="translate(447.9 452.0) rotate(-90)" x="0" y="5.5" text-anchor="middle">I (kR)</text><text font-size="21" x="222.6" y="384.1">(h)</text><rect x="472.2" y="363.3" width="168.5" height="171.1" fill="#000080"/><path fill="#000080" d="M472.2 363.3h47.1v5.1h-47.1zM472.2 368.1h47.1v5.1h-47.1zM472.2 505.9h9.7v5.1h-9.7zM472.2 510.6h9.7v5.1h-9.7zM472.2 515.4h37.7v5.1h-37.7zM472.2 520.1h37.7v5.1h-37.7zM472.2 524.9h75.2v5.1h-75.2zM472.2 529.6h75.2v5.1h-75.2z"/><path fill="#0040ff" d="M519.0 363.3h37.7v5.1h-37.7zM523.7 368.1h19.0v5.1h-19.0zM523.7 372.8h19.0v5.1h-19.0zM523.7 377.6h19.0v5.1h-19.0zM523.7 382.3h19.0v5.1h-19.0zM523.7 387.1h19.0v5.1h-19.0zM523.7 391.8h19.0v5.1h-19.0zM523.7 396.6h19.0v5.1h-19.0zM523.7 401.3h19.0v5.1h-19.0zM523.7 406.1h19.0v5.1h-19.0zM523.7 410.8h19.0v5.1h-19.0zM514.3 415.6h19.0v5.1h-19.0zM514.3 420.3h19.0v5.1h-19.0zM514.3 425.1h19.0v5.1h-19.0zM514.3 429.8h19.0v5.1h-19.0zM514.3 434.6h19.0v5.1h-19.0zM514.3 439.3h19.0v5.1h-19.0zM514.3 444.1h19.0v5.1h-19.0zM514.3 448.9h19.0v5.1h-19.0zM514.3 453.6h19.0v5.1h-19.0zM514.3 458.4h19.0v5.1h-19.0zM514.3 463.1h9.7v5.1h-9.7zM514.3 467.9h9.7v5.1h-9.7zM505.0 472.6h9.7v5.1h-9.7zM505.0 477.4h9.7v5.1h-9.7zM495.6 482.1h19.0v5.1h-19.0zM495.6 486.9h19.0v5.1h-19.0zM505.0 491.6h9.7v5.1h-9.7zM505.0 496.4h9.7v5.1h-9.7zM523.7 510.6h5.0v5.1h-5.0zM528.4 515.4h5.0v5.1h-5.0zM533.0 520.1h9.7v5.1h-9.7zM556.5 520.1h14.3v5.1h-14.3zM556.5 524.9h14.3v5.1h-14.3zM556.5 529.6h23.7v5.1h-23.7z"/><path fill="#00bfff" d="M556.5 363.3h5.0v5.1h-5.0zM556.5 396.6h5.0v5.1h-5.0zM556.5 401.3h5.0v5.1h-5.0zM556.5 406.1h5.0v5.1h-5.0zM556.5 410.8h5.0v5.1h-5.0zM556.5 415.6h14.3v5.1h-14.3zM556.5 420.3h14.3v5.1h-14.3zM556.5 425.1h5.0v5.1h-5.0zM556.5 429.8h5.0v5.1h-5.0zM556.5 434.6h5.0v5.1h-5.0zM556.5 439.3h5.0v5.1h-5.0zM556.5 444.1h5.0v5.1h-5.0zM556.5 448.9h5.0v5.1h-5.0zM551.8 453.6h28.4v5.1h-28.4zM551.8 458.4h28.4v5.1h-28.4zM551.8 463.1h28.4v5.1h-28.4zM551.8 467.9h28.4v5.1h-28.4zM551.8 472.6h5.0v5.1h-5.0zM570.5 472.6h9.7v5.1h-9.7zM551.8 477.4h5.0v5.1h-5.0zM570.5 477.4h9.7v5.1h-9.7zM542.4 482.1h14.3v5.1h-14.3zM542.4 486.9h14.3v5.1h-14.3z"/><path fill="#00ffff" d="M561.1 363.3h5.0v5.1h-5.0zM556.5 377.6h5.0v5.1h-5.0zM556.5 382.3h5.0v5.1h-5.0zM617.3 387.1h5.0v5.1h-5.0zM622.0 391.8h5.0v5.1h-5.0zM607.9 396.6h5.0v5.1h-5.0zM612.6 401.3h5.0v5.1h-5.0zM570.5 406.1h5.0v5.1h-5.0zM636.0 406.1h5.0v5.1h-5.0zM575.2 410.8h5.0v5.1h-5.0zM636.0 410.8h5.0v5.1h-5.0zM589.2 453.6h5.0v5.1h-5.0zM593.9 458.4h5.0v5.1h-5.0zM636.0 463.1h5.0v5.1h-5.0zM636.0 467.9h5.0v5.1h-5.0zM636.0 510.6h5.0v5.1h-5.0zM636.0 515.4h5.0v5.1h-5.0zM636.0 520.1h5.0v5.1h-5.0zM636.0 524.9h5.0v5.1h-5.0zM636.0 529.6h5.0v5.1h-5.0z"/><path fill="#80ff80" d="M565.8 363.3h5.0v5.1h-5.0zM598.6 453.6h5.0v5.1h-5.0z"/><path fill="#efff10" d="M570.5 363.3h5.0v5.1h-5.0zM570.5 368.1h5.0v5.1h-5.0zM570.5 372.8h5.0v5.1h-5.0zM612.6 420.3h5.0v5.1h-5.0zM631.3 482.1h5.0v5.1h-5.0z"/><path fill="#ffaf00" d="M575.2 363.3h5.0v5.1h-5.0zM584.5 363.3h5.0v5.1h-5.0zM575.2 368.1h5.0v5.1h-5.0zM584.5 368.1h5.0v5.1h-5.0zM575.2 372.8h5.0v5.1h-5.0zM584.5 372.8h5.0v5.1h-5.0z"/><path fill="#ff8f00" d="M579.9 363.3h5.0v5.1h-5.0zM579.9 368.1h5.0v5.1h-5.0zM579.9 372.8h5.0v5.1h-5.0zM626.7 486.9h14.3v5.1h-14.3z"/><path fill="#ffef00" d="M589.2 363.3h5.0v5.1h-5.0zM589.2 368.1h5.0v5.1h-5.0zM589.2 372.8h5.0v5.1h-5.0zM607.9 420.3h5.0v5.1h-5.0zM622.0 434.6h5.0v5.1h-5.0z"/><path fill="#afff50" d="M593.9 363.3h5.0v5.1h-5.0zM593.9 368.1h5.0v5.1h-5.0zM593.9 372.8h5.0v5.1h-5.0zM612.6 415.6h5.0v5.1h-5.0z"/><path fill="#60ff9f" d="M598.6 363.3h5.0v5.1h-5.0zM598.6 368.1h5.0v5.1h-5.0zM598.6 372.8h5.0v5.1h-5.0zM598.6 377.6h5.0v5.1h-5.0zM598.6 382.3h5.0v5.1h-5.0zM598.6 387.1h5.0v5.1h-5.0zM598.6 391.8h5.0v5.1h-5.0zM575.2 396.6h5.0v5.1h-5.0zM584.5 406.1h5.0v5.1h-5.0zM626.7 420.3h5.0v5.1h-5.0zM636.0 425.1h5.0v5.1h-5.0zM617.3 463.1h5.0v5.1h-5.0zM636.0 477.4h5.0v5.1h-5.0z"/><path fill="#20ffdf" d="M603.3 363.3h5.0v5.1h-5.0zM603.3 368.1h5.0v5.1h-5.0zM603.3 372.8h5.0v5.1h-5.0zM603.3 377.6h5.0v5.1h-5.0zM603.3 382.3h5.0v5.1h-5.0zM603.3 387.1h5.0v5.1h-5.0zM622.0 387.1h5.0v5.1h-5.0zM603.3 391.8h5.0v5.1h-5.0zM570.5 401.3h5.0v5.1h-5.0zM607.9 401.3h5.0v5.1h-5.0zM575.2 406.1h5.0v5.1h-5.0zM579.9 410.8h5.0v5.1h-5.0zM631.3 415.6h5.0v5.1h-5.0zM584.5 425.1h5.0v5.1h-5.0zM584.5 429.8h5.0v5.1h-5.0zM584.5 434.6h5.0v5.1h-5.0zM584.5 439.3h5.0v5.1h-5.0zM593.9 453.6h5.0v5.1h-5.0zM622.0 467.9h5.0v5.1h-5.0zM636.0 472.6h5.0v5.1h-5.0z"/><path fill="#10ffef" d="M607.9 363.3h5.0v5.1h-5.0zM607.9 368.1h5.0v5.1h-5.0zM607.9 372.8h5.0v5.1h-5.0zM561.1 387.1h5.0v5.1h-5.0zM636.0 401.3h5.0v5.1h-5.0zM636.0 415.6h5.0v5.1h-5.0zM589.2 501.1h5.0v5.1h-5.0zM589.2 505.9h5.0v5.1h-5.0zM589.2 510.6h5.0v5.1h-5.0zM631.3 510.6h5.0v5.1h-5.0zM589.2 515.4h5.0v5.1h-5.0zM631.3 515.4h5.0v5.1h-5.0zM589.2 520.1h5.0v5.1h-5.0zM631.3 520.1h5.0v5.1h-5.0zM589.2 524.9h5.0v5.1h-5.0zM631.3 524.9h5.0v5.1h-5.0zM589.2 529.6h5.0v5.1h-5.0zM612.6 529.6h9.7v5.1h-9.7zM631.3 529.6h5.0v5.1h-5.0z"/><path fill="#30ffcf" d="M612.6 363.3h5.0v5.1h-5.0zM612.6 368.1h5.0v5.1h-5.0zM612.6 372.8h5.0v5.1h-5.0zM565.8 391.8h5.0v5.1h-5.0zM636.0 396.6h5.0v5.1h-5.0zM612.6 406.1h5.0v5.1h-5.0zM636.0 420.3h5.0v5.1h-5.0zM636.0 458.4h5.0v5.1h-5.0zM593.9 501.1h5.0v5.1h-5.0zM593.9 505.9h5.0v5.1h-5.0zM593.9 510.6h5.0v5.1h-5.0zM626.7 510.6h5.0v5.1h-5.0zM593.9 515.4h5.0v5.1h-5.0zM626.7 515.4h5.0v5.1h-5.0zM593.9 520.1h5.0v5.1h-5.0zM626.7 520.1h5.0v5.1h-5.0zM593.9 524.9h5.0v5.1h-5.0zM626.7 524.9h5.0v5.1h-5.0zM593.9 529.6h5.0v5.1h-5.0zM607.9 529.6h5.0v5.1h-5.0zM622.0 529.6h9.7v5.1h-9.7z"/><path fill="#40ffbf" d="M617.3 363.3h23.7v5.1h-23.7zM617.3 368.1h23.7v5.1h-23.7zM617.3 372.8h23.7v5.1h-23.7zM626.7 377.6h14.3v5.1h-14.3zM626.7 382.3h14.3v5.1h-14.3zM636.0 387.1h5.0v5.1h-5.0zM636.0 391.8h5.0v5.1h-5.0zM570.5 396.6h5.0v5.1h-5.0zM575.2 401.3h5.0v5.1h-5.0zM579.9 406.1h5.0v5.1h-5.0zM584.5 410.8h5.0v5.1h-5.0zM626.7 415.6h5.0v5.1h-5.0zM631.3 420.3h5.0v5.1h-5.0zM598.6 458.4h5.0v5.1h-5.0zM622.0 463.1h5.0v5.1h-5.0zM617.3 467.9h5.0v5.1h-5.0zM598.6 501.1h9.7v5.1h-9.7zM598.6 505.9h9.7v5.1h-9.7zM636.0 505.9h5.0v5.1h-5.0zM598.6 529.6h9.7v5.1h-9.7z"/><path fill="#003bff" d="M519.0 368.1h5.0v5.1h-5.0zM542.4 520.1h5.0v5.1h-5.0z"/><path fill="#0044ff" d="M542.4 368.1h5.0v5.1h-5.0zM533.0 415.6h5.0v5.1h-5.0zM523.7 463.1h5.0v5.1h-5.0zM514.3 472.6h5.0v5.1h-5.0zM514.3 505.9h5.0v5.1h-5.0zM570.5 524.9h5.0v5.1h-5.0z"/><path fill="#004cff" d="M547.1 368.1h5.0v5.1h-5.0zM542.4 372.8h5.0v5.1h-5.0zM537.7 415.6h5.0v5.1h-5.0zM533.0 420.3h5.0v5.1h-5.0zM528.4 463.1h5.0v5.1h-5.0zM523.7 467.9h5.0v5.1h-5.0zM519.0 472.6h5.0v5.1h-5.0zM514.3 477.4h5.0v5.1h-5.0zM514.3 501.1h5.0v5.1h-5.0zM519.0 505.9h5.0v5.1h-5.0zM570.5 520.1h5.0v5.1h-5.0zM575.2 524.9h5.0v5.1h-5.0z"/><path fill="#0050ff" d="M551.8 368.1h5.0v5.1h-5.0zM542.4 377.6h5.0v5.1h-5.0zM542.4 382.3h5.0v5.1h-5.0zM542.4 387.1h5.0v5.1h-5.0zM542.4 391.8h5.0v5.1h-5.0zM542.4 396.6h5.0v5.1h-5.0zM542.4 401.3h5.0v5.1h-5.0zM542.4 406.1h5.0v5.1h-5.0zM542.4 410.8h5.0v5.1h-5.0zM533.0 425.1h5.0v5.1h-5.0zM533.0 429.8h5.0v5.1h-5.0zM533.0 434.6h5.0v5.1h-5.0zM533.0 439.3h5.0v5.1h-5.0zM533.0 444.1h5.0v5.1h-5.0zM533.0 448.9h5.0v5.1h-5.0zM533.0 453.6h5.0v5.1h-5.0zM533.0 458.4h5.0v5.1h-5.0zM514.3 482.1h5.0v5.1h-5.0zM514.3 486.9h5.0v5.1h-5.0zM514.3 491.6h5.0v5.1h-5.0zM514.3 496.4h5.0v5.1h-5.0zM533.0 515.4h37.7v5.1h-37.7z"/><path fill="#00cfff" d="M556.5 368.1h5.0v5.1h-5.0zM556.5 391.8h5.0v5.1h-5.0zM579.9 472.6h5.0v5.1h-5.0zM579.9 477.4h5.0v5.1h-5.0zM579.9 482.1h5.0v5.1h-5.0zM579.9 486.9h5.0v5.1h-5.0zM579.9 491.6h5.0v5.1h-5.0zM579.9 496.4h5.0v5.1h-5.0zM579.9 501.1h5.0v5.1h-5.0zM579.9 505.9h5.0v5.1h-5.0zM584.5 529.6h5.0v5.1h-5.0z"/><path fill="#0cfff3" d="M561.1 368.1h5.0v5.1h-5.0zM607.9 377.6h5.0v5.1h-5.0zM612.6 382.3h5.0v5.1h-5.0zM626.7 396.6h5.0v5.1h-5.0zM631.3 401.3h5.0v5.1h-5.0zM626.7 406.1h5.0v5.1h-5.0zM631.3 410.8h5.0v5.1h-5.0zM631.3 463.1h5.0v5.1h-5.0zM626.7 467.9h5.0v5.1h-5.0zM593.9 472.6h5.0v5.1h-5.0zM589.2 477.4h5.0v5.1h-5.0zM589.2 482.1h5.0v5.1h-5.0zM593.9 486.9h5.0v5.1h-5.0zM593.9 491.6h5.0v5.1h-5.0zM589.2 496.4h5.0v5.1h-5.0z"/><path fill="#83ff7c" d="M565.8 368.1h5.0v5.1h-5.0zM565.8 377.6h5.0v5.1h-5.0zM598.6 406.1h5.0v5.1h-5.0zM626.7 425.1h5.0v5.1h-5.0zM631.3 477.4h5.0v5.1h-5.0z"/><path fill="#0000bf" d="M472.2 372.8h14.3v5.1h-14.3zM472.2 377.6h5.0v5.1h-5.0zM472.2 382.3h5.0v5.1h-5.0zM472.2 387.1h5.0v5.1h-5.0zM472.2 391.8h5.0v5.1h-5.0zM472.2 501.1h5.0v5.1h-5.0zM481.6 510.6h5.0v5.1h-5.0z"/><path fill="#0000cf" d="M486.2 372.8h5.0v5.1h-5.0zM476.9 387.1h5.0v5.1h-5.0zM476.9 391.8h5.0v5.1h-5.0zM472.2 396.6h5.0v5.1h-5.0zM472.2 496.4h5.0v5.1h-5.0zM486.2 510.6h5.0v5.1h-5.0z"/><path fill="#0000ef" d="M490.9 372.8h5.0v5.1h-5.0zM481.6 387.1h5.0v5.1h-5.0zM481.6 391.8h5.0v5.1h-5.0zM472.2 401.3h5.0v5.1h-5.0zM472.2 491.6h5.0v5.1h-5.0zM490.9 510.6h5.0v5.1h-5.0z"/><path fill="#0000ff" d="M495.6 372.8h19.0v5.1h-19.0zM495.6 377.6h19.0v5.1h-19.0zM495.6 382.3h19.0v5.1h-19.0zM486.2 387.1h28.4v5.1h-28.4zM486.2 391.8h28.4v5.1h-28.4zM486.2 396.6h28.4v5.1h-28.4zM486.2 401.3h28.4v5.1h-28.4zM472.2 406.1h33.1v5.1h-33.1zM472.2 410.8h33.1v5.1h-33.1zM472.2 415.6h33.1v5.1h-33.1zM472.2 420.3h33.1v5.1h-33.1zM472.2 425.1h33.1v5.1h-33.1zM472.2 429.8h33.1v5.1h-33.1zM472.2 434.6h23.7v5.1h-23.7zM472.2 439.3h23.7v5.1h-23.7zM472.2 444.1h23.7v5.1h-23.7zM472.2 448.9h23.7v5.1h-23.7zM472.2 453.6h33.1v5.1h-33.1zM472.2 458.4h33.1v5.1h-33.1zM472.2 463.1h23.7v5.1h-23.7zM472.2 467.9h23.7v5.1h-23.7zM495.6 510.6h9.7v5.1h-9.7zM509.6 520.1h14.3v5.1h-14.3zM547.1 529.6h9.7v5.1h-9.7z"/><path fill="#0014ff" d="M514.3 372.8h5.0v5.1h-5.0zM476.9 472.6h5.0v5.1h-5.0zM490.9 472.6h5.0v5.1h-5.0zM476.9 486.9h5.0v5.1h-5.0zM547.1 524.9h5.0v5.1h-5.0z"/><path fill="#0033ff" d="M519.0 372.8h5.0v5.1h-5.0zM547.1 520.1h5.0v5.1h-5.0z"/><path fill="#0064ff" d="M547.1 372.8h5.0v5.1h-5.0zM537.7 420.3h5.0v5.1h-5.0zM528.4 467.9h5.0v5.1h-5.0zM519.0 477.4h5.0v5.1h-5.0zM519.0 501.1h5.0v5.1h-5.0zM575.2 520.1h5.0v5.1h-5.0z"/><path fill="#0070ff" d="M551.8 372.8h5.0v5.1h-5.0zM547.1 377.6h5.0v5.1h-5.0zM547.1 382.3h5.0v5.1h-5.0zM547.1 387.1h5.0v5.1h-5.0zM547.1 391.8h5.0v5.1h-5.0zM547.1 396.6h5.0v5.1h-5.0zM547.1 401.3h5.0v5.1h-5.0zM547.1 406.1h5.0v5.1h-5.0zM547.1 410.8h5.0v5.1h-5.0zM537.7 425.1h5.0v5.1h-5.0zM537.7 429.8h5.0v5.1h-5.0zM537.7 434.6h5.0v5.1h-5.0zM537.7 439.3h5.0v5.1h-5.0zM537.7 444.1h5.0v5.1h-5.0zM537.7 448.9h5.0v5.1h-5.0zM537.7 453.6h5.0v5.1h-5.0zM537.7 458.4h5.0v5.1h-5.0zM519.0 482.1h5.0v5.1h-5.0zM519.0 486.9h5.0v5.1h-5.0zM519.0 491.6h5.0v5.1h-5.0zM519.0 496.4h5.0v5.1h-5.0zM533.0 510.6h37.7v5.1h-37.7zM579.9 529.6h5.0v5.1h-5.0z"/><path fill="#00efff" d="M556.5 372.8h5.0v5.1h-5.0zM556.5 387.1h5.0v5.1h-5.0zM561.1 391.8h5.0v5.1h-5.0zM584.5 472.6h5.0v5.1h-5.0zM584.5 477.4h5.0v5.1h-5.0zM584.5 482.1h5.0v5.1h-5.0zM584.5 486.9h5.0v5.1h-5.0zM584.5 491.6h5.0v5.1h-5.0zM584.5 496.4h5.0v5.1h-5.0zM584.5 501.1h5.0v5.1h-5.0zM584.5 505.9h5.0v5.1h-5.0z"/><path fill="#24ffdb" d="M561.1 372.8h5.0v5.1h-5.0zM612.6 377.6h5.0v5.1h-5.0zM561.1 382.3h5.0v5.1h-5.0zM631.3 396.6h5.0v5.1h-5.0zM626.7 410.8h5.0v5.1h-5.0zM584.5 420.3h5.0v5.1h-5.0zM626.7 463.1h5.0v5.1h-5.0zM593.9 477.4h5.0v5.1h-5.0zM593.9 482.1h5.0v5.1h-5.0zM593.9 496.4h5.0v5.1h-5.0z"/><path fill="#8bff74" d="M565.8 372.8h5.0v5.1h-5.0zM593.9 401.3h5.0v5.1h-5.0zM617.3 415.6h5.0v5.1h-5.0zM622.0 420.3h5.0v5.1h-5.0z"/><path fill="#0000c3" d="M476.9 377.6h5.0v5.1h-5.0z"/><path fill="#0000cb" d="M481.6 377.6h5.0v5.1h-5.0zM476.9 382.3h5.0v5.1h-5.0z"/><path fill="#0000db" d="M486.2 377.6h5.0v5.1h-5.0zM476.9 396.6h5.0v5.1h-5.0zM476.9 496.4h5.0v5.1h-5.0zM486.2 505.9h5.0v5.1h-5.0z"/><path fill="#0000f3" d="M490.9 377.6h5.0v5.1h-5.0zM486.2 382.3h5.0v5.1h-5.0zM481.6 396.6h5.0v5.1h-5.0zM476.9 401.3h5.0v5.1h-5.0zM476.9 491.6h5.0v5.1h-5.0zM481.6 496.4h5.0v5.1h-5.0zM486.2 501.1h5.0v5.1h-5.0zM490.9 505.9h5.0v5.1h-5.0z"/><path fill="#0010ff" d="M514.3 377.6h5.0v5.1h-5.0zM514.3 382.3h5.0v5.1h-5.0zM514.3 387.1h5.0v5.1h-5.0zM514.3 391.8h5.0v5.1h-5.0zM514.3 396.6h5.0v5.1h-5.0zM514.3 401.3h5.0v5.1h-5.0zM505.0 415.6h5.0v5.1h-5.0zM505.0 420.3h5.0v5.1h-5.0zM505.0 425.1h5.0v5.1h-5.0zM505.0 429.8h5.0v5.1h-5.0zM505.0 453.6h5.0v5.1h-5.0zM505.0 458.4h5.0v5.1h-5.0zM472.2 472.6h5.0v5.1h-5.0zM472.2 486.9h5.0v5.1h-5.0zM514.3 515.4h9.7v5.1h-9.7zM523.7 520.1h5.0v5.1h-5.0zM551.8 524.9h5.0v5.1h-5.0z"/><path fill="#0030ff" d="M519.0 377.6h5.0v5.1h-5.0zM519.0 382.3h5.0v5.1h-5.0zM519.0 387.1h5.0v5.1h-5.0zM519.0 391.8h5.0v5.1h-5.0zM519.0 396.6h5.0v5.1h-5.0zM519.0 401.3h5.0v5.1h-5.0zM509.6 415.6h5.0v5.1h-5.0zM509.6 420.3h5.0v5.1h-5.0zM509.6 425.1h5.0v5.1h-5.0zM509.6 429.8h5.0v5.1h-5.0zM509.6 453.6h5.0v5.1h-5.0zM509.6 458.4h5.0v5.1h-5.0zM472.2 477.4h5.0v5.1h-5.0zM472.2 482.1h5.0v5.1h-5.0zM514.3 510.6h9.7v5.1h-9.7zM528.4 520.1h5.0v5.1h-5.0zM551.8 520.1h5.0v5.1h-5.0z"/><path fill="#0080ff" d="M551.8 377.6h5.0v5.1h-5.0zM551.8 382.3h5.0v5.1h-5.0zM551.8 387.1h5.0v5.1h-5.0zM551.8 391.8h5.0v5.1h-5.0zM551.8 396.6h5.0v5.1h-5.0zM551.8 401.3h5.0v5.1h-5.0zM551.8 406.1h5.0v5.1h-5.0zM551.8 410.8h5.0v5.1h-5.0zM551.8 415.6h5.0v5.1h-5.0zM551.8 420.3h5.0v5.1h-5.0zM542.4 425.1h14.3v5.1h-14.3zM542.4 429.8h14.3v5.1h-14.3zM542.4 434.6h14.3v5.1h-14.3zM542.4 439.3h14.3v5.1h-14.3zM523.7 482.1h9.7v5.1h-9.7zM556.5 482.1h5.0v5.1h-5.0zM523.7 486.9h9.7v5.1h-9.7zM556.5 486.9h5.0v5.1h-5.0zM523.7 491.6h9.7v5.1h-9.7zM556.5 491.6h14.3v5.1h-14.3zM523.7 496.4h9.7v5.1h-9.7zM556.5 496.4h14.3v5.1h-14.3zM533.0 501.1h37.7v5.1h-37.7zM533.0 505.9h37.7v5.1h-37.7zM570.5 510.6h5.0v5.1h-5.0zM575.2 515.4h5.0v5.1h-5.0z"/><path fill="#2cffd3" d="M561.1 377.6h5.0v5.1h-5.0zM603.3 396.6h5.0v5.1h-5.0zM584.5 415.6h5.0v5.1h-5.0zM589.2 448.9h5.0v5.1h-5.0zM631.3 472.6h5.0v5.1h-5.0zM612.6 524.9h5.0v5.1h-5.0z"/><path fill="#dfff20" d="M570.5 377.6h5.0v5.1h-5.0z"/><path fill="#ffbf00" d="M575.2 377.6h5.0v5.1h-5.0zM598.6 434.6h5.0v5.1h-5.0z"/><path fill="#ff9700" d="M579.9 377.6h5.0v5.1h-5.0zM584.5 382.3h5.0v5.1h-5.0z"/><path fill="#ffa700" d="M584.5 377.6h5.0v5.1h-5.0zM579.9 382.3h5.0v5.1h-5.0zM584.5 387.1h5.0v5.1h-5.0zM617.3 429.8h5.0v5.1h-5.0zM622.0 444.1h5.0v5.1h-5.0z"/><path fill="#ffe300" d="M589.2 377.6h5.0v5.1h-5.0zM589.2 391.8h5.0v5.1h-5.0zM622.0 491.6h5.0v5.1h-5.0z"/><path fill="#b3ff4c" d="M593.9 377.6h5.0v5.1h-5.0zM593.9 391.8h5.0v5.1h-5.0zM617.3 477.4h5.0v5.1h-5.0zM617.3 491.6h5.0v5.1h-5.0z"/><path fill="#34ffcb" d="M617.3 377.6h5.0v5.1h-5.0zM622.0 382.3h5.0v5.1h-5.0zM626.7 387.1h5.0v5.1h-5.0zM631.3 391.8h5.0v5.1h-5.0zM603.3 472.6h5.0v5.1h-5.0zM598.6 477.4h5.0v5.1h-5.0zM598.6 482.1h5.0v5.1h-5.0zM603.3 486.9h5.0v5.1h-5.0zM603.3 491.6h5.0v5.1h-5.0zM598.6 496.4h5.0v5.1h-5.0z"/><path fill="#3cffc3" d="M622.0 377.6h5.0v5.1h-5.0zM631.3 387.1h5.0v5.1h-5.0zM622.0 410.8h5.0v5.1h-5.0zM603.3 467.9h5.0v5.1h-5.0zM603.3 477.4h5.0v5.1h-5.0zM603.3 482.1h5.0v5.1h-5.0zM603.3 496.4h5.0v5.1h-5.0z"/><path fill="#0000e3" d="M481.6 382.3h5.0v5.1h-5.0z"/><path fill="#0000fb" d="M490.9 382.3h5.0v5.1h-5.0zM481.6 401.3h5.0v5.1h-5.0zM481.6 491.6h5.0v5.1h-5.0zM490.9 501.1h5.0v5.1h-5.0z"/><path fill="#6cff93" d="M565.8 382.3h5.0v5.1h-5.0zM598.6 401.3h5.0v5.1h-5.0zM603.3 406.1h5.0v5.1h-5.0zM589.2 420.3h5.0v5.1h-5.0zM631.3 425.1h5.0v5.1h-5.0zM607.9 520.1h5.0v5.1h-5.0z"/><path fill="#bfff40" d="M570.5 382.3h5.0v5.1h-5.0zM636.0 434.6h5.0v5.1h-5.0zM636.0 439.3h5.0v5.1h-5.0zM636.0 444.1h5.0v5.1h-5.0zM636.0 448.9h5.0v5.1h-5.0zM636.0 501.1h5.0v5.1h-5.0z"/><path fill="#ffdf00" d="M575.2 382.3h5.0v5.1h-5.0zM603.3 453.6h5.0v5.1h-5.0zM631.3 496.4h5.0v5.1h-5.0z"/><path fill="#ffcb00" d="M589.2 382.3h5.0v5.1h-5.0zM589.2 387.1h5.0v5.1h-5.0z"/><path fill="#bbff44" d="M593.9 382.3h5.0v5.1h-5.0zM593.9 387.1h5.0v5.1h-5.0z"/><path fill="#04fffb" d="M607.9 382.3h5.0v5.1h-5.0zM626.7 401.3h5.0v5.1h-5.0zM631.3 406.1h5.0v5.1h-5.0zM579.9 415.6h5.0v5.1h-5.0zM631.3 467.9h5.0v5.1h-5.0zM589.2 472.6h5.0v5.1h-5.0zM589.2 486.9h5.0v5.1h-5.0zM589.2 491.6h5.0v5.1h-5.0z"/><path fill="#1cffe3" d="M617.3 382.3h5.0v5.1h-5.0zM626.7 391.8h5.0v5.1h-5.0zM617.3 406.1h5.0v5.1h-5.0zM598.6 463.1h5.0v5.1h-5.0zM598.6 472.6h5.0v5.1h-5.0zM598.6 486.9h5.0v5.1h-5.0zM598.6 491.6h5.0v5.1h-5.0z"/><path fill="#50ffaf" d="M565.8 387.1h5.0v5.1h-5.0zM607.9 406.1h5.0v5.1h-5.0zM607.9 467.9h9.7v5.1h-9.7zM607.9 491.6h5.0v5.1h-5.0zM607.9 496.4h5.0v5.1h-5.0zM607.9 510.6h9.7v5.1h-9.7z"/><path fill="#97ff68" d="M570.5 387.1h5.0v5.1h-5.0zM575.2 391.8h5.0v5.1h-5.0zM579.9 396.6h5.0v5.1h-5.0zM584.5 401.3h5.0v5.1h-5.0zM593.9 410.8h5.0v5.1h-5.0z"/><path fill="#e7ff18" d="M575.2 387.1h5.0v5.1h-5.0zM584.5 396.6h5.0v5.1h-5.0zM622.0 429.8h5.0v5.1h-5.0zM631.3 448.9h5.0v5.1h-5.0z"/><path fill="#ffd700" d="M579.9 387.1h5.0v5.1h-5.0zM584.5 391.8h5.0v5.1h-5.0zM598.6 429.8h5.0v5.1h-5.0zM622.0 482.1h5.0v5.1h-5.0z"/><path fill="#00fbff" d="M607.9 387.1h5.0v5.1h-5.0zM565.8 401.3h5.0v5.1h-5.0zM622.0 401.3h5.0v5.1h-5.0zM584.5 448.9h5.0v5.1h-5.0zM593.9 467.9h5.0v5.1h-5.0z"/><path fill="#00f3ff" d="M612.6 387.1h5.0v5.1h-5.0zM607.9 391.8h5.0v5.1h-5.0zM622.0 396.6h5.0v5.1h-5.0zM617.3 401.3h5.0v5.1h-5.0zM593.9 463.1h5.0v5.1h-5.0zM589.2 467.9h5.0v5.1h-5.0z"/><path fill="#68ff97" d="M570.5 391.8h5.0v5.1h-5.0zM579.9 401.3h5.0v5.1h-5.0zM589.2 410.8h5.0v5.1h-5.0z"/><path fill="#d7ff28" d="M579.9 391.8h5.0v5.1h-5.0zM631.3 444.1h5.0v5.1h-5.0zM617.3 482.1h5.0v5.1h-5.0z"/><path fill="#00dbff" d="M612.6 391.8h5.0v5.1h-5.0zM561.1 396.6h5.0v5.1h-5.0zM617.3 396.6h5.0v5.1h-5.0zM579.9 444.1h5.0v5.1h-5.0zM589.2 463.1h5.0v5.1h-5.0zM584.5 520.1h5.0v5.1h-5.0z"/><path fill="#00dfff" d="M617.3 391.8h5.0v5.1h-5.0zM612.6 396.6h5.0v5.1h-5.0zM570.5 410.8h5.0v5.1h-5.0zM579.9 425.1h5.0v5.1h-5.0zM579.9 429.8h5.0v5.1h-5.0zM579.9 434.6h5.0v5.1h-5.0zM579.9 439.3h5.0v5.1h-5.0zM589.2 458.4h5.0v5.1h-5.0z"/><path fill="#14ffeb" d="M565.8 396.6h5.0v5.1h-5.0zM622.0 406.1h5.0v5.1h-5.0zM584.5 444.1h5.0v5.1h-5.0zM598.6 467.9h5.0v5.1h-5.0z"/><path fill="#ebff14" d="M589.2 396.6h5.0v5.1h-5.0z"/><path fill="#a3ff5c" d="M593.9 396.6h5.0v5.1h-5.0zM589.2 401.3h5.0v5.1h-5.0zM603.3 410.8h5.0v5.1h-5.0zM631.3 429.8h5.0v5.1h-5.0zM622.0 458.4h5.0v5.1h-5.0z"/><path fill="#64ff9b" d="M598.6 396.6h5.0v5.1h-5.0zM589.2 415.6h5.0v5.1h-5.0zM622.0 415.6h5.0v5.1h-5.0zM589.2 444.1h5.0v5.1h-5.0zM593.9 448.9h5.0v5.1h-5.0zM612.6 501.1h5.0v5.1h-5.0zM603.3 515.4h5.0v5.1h-5.0zM617.3 515.4h5.0v5.1h-5.0zM603.3 520.1h5.0v5.1h-5.0zM612.6 520.1h5.0v5.1h-5.0z"/><path fill="#00d3ff" d="M561.1 401.3h5.0v5.1h-5.0zM579.9 448.9h5.0v5.1h-5.0zM584.5 524.9h5.0v5.1h-5.0z"/><path fill="#44ffbb" d="M603.3 401.3h5.0v5.1h-5.0zM626.7 472.6h5.0v5.1h-5.0zM607.9 505.9h5.0v5.1h-5.0zM598.6 510.6h5.0v5.1h-5.0zM622.0 510.6h5.0v5.1h-5.0zM598.6 524.9h5.0v5.1h-5.0zM607.9 524.9h5.0v5.1h-5.0z"/><path fill="#0004ff" d="M505.0 406.1h5.0v5.1h-5.0zM495.6 434.6h5.0v5.1h-5.0zM495.6 448.9h5.0v5.1h-5.0zM495.6 463.1h5.0v5.1h-5.0zM486.2 496.4h5.0v5.1h-5.0zM495.6 505.9h5.0v5.1h-5.0z"/><path fill="#000cff" d="M509.6 406.1h5.0v5.1h-5.0zM505.0 410.8h5.0v5.1h-5.0zM500.3 434.6h5.0v5.1h-5.0zM495.6 439.3h5.0v5.1h-5.0zM495.6 444.1h5.0v5.1h-5.0zM500.3 448.9h5.0v5.1h-5.0zM500.3 463.1h5.0v5.1h-5.0zM495.6 467.9h5.0v5.1h-5.0zM486.2 491.6h5.0v5.1h-5.0zM490.9 496.4h5.0v5.1h-5.0zM495.6 501.1h5.0v5.1h-5.0zM500.3 505.9h5.0v5.1h-5.0z"/><path fill="#001cff" d="M514.3 406.1h5.0v5.1h-5.0zM505.0 434.6h5.0v5.1h-5.0zM505.0 448.9h5.0v5.1h-5.0zM505.0 463.1h5.0v5.1h-5.0zM481.6 472.6h9.7v5.1h-9.7zM495.6 472.6h5.0v5.1h-5.0zM481.6 486.9h5.0v5.1h-5.0zM495.6 496.4h5.0v5.1h-5.0zM505.0 505.9h5.0v5.1h-5.0z"/><path fill="#0034ff" d="M519.0 406.1h5.0v5.1h-5.0zM514.3 410.8h5.0v5.1h-5.0zM509.6 434.6h5.0v5.1h-5.0zM505.0 439.3h5.0v5.1h-5.0zM505.0 444.1h5.0v5.1h-5.0zM509.6 448.9h5.0v5.1h-5.0zM509.6 463.1h5.0v5.1h-5.0zM505.0 467.9h5.0v5.1h-5.0zM500.3 472.6h5.0v5.1h-5.0zM495.6 477.4h5.0v5.1h-5.0zM495.6 491.6h5.0v5.1h-5.0zM500.3 496.4h5.0v5.1h-5.0zM505.0 501.1h5.0v5.1h-5.0zM509.6 505.9h5.0v5.1h-5.0z"/><path fill="#00cbff" d="M561.1 406.1h5.0v5.1h-5.0zM565.8 410.8h5.0v5.1h-5.0zM570.5 415.6h5.0v5.1h-5.0zM575.2 420.3h5.0v5.1h-5.0zM579.9 453.6h5.0v5.1h-5.0zM584.5 458.4h5.0v5.1h-5.0zM584.5 463.1h5.0v5.1h-5.0zM579.9 467.9h5.0v5.1h-5.0z"/><path fill="#00e3ff" d="M565.8 406.1h5.0v5.1h-5.0zM575.2 415.6h5.0v5.1h-5.0zM584.5 453.6h5.0v5.1h-5.0zM584.5 467.9h5.0v5.1h-5.0zM584.5 515.4h5.0v5.1h-5.0z"/><path fill="#78ff87" d="M589.2 406.1h5.0v5.1h-5.0zM626.7 458.4h5.0v5.1h-5.0z"/><path fill="#87ff78" d="M593.9 406.1h5.0v5.1h-5.0zM612.6 477.4h5.0v5.1h-5.0z"/><path fill="#0024ff" d="M509.6 410.8h5.0v5.1h-5.0zM500.3 439.3h5.0v5.1h-5.0zM500.3 444.1h5.0v5.1h-5.0zM500.3 467.9h5.0v5.1h-5.0zM490.9 491.6h5.0v5.1h-5.0zM500.3 501.1h5.0v5.1h-5.0z"/><path fill="#003cff" d="M519.0 410.8h5.0v5.1h-5.0zM509.6 439.3h5.0v5.1h-5.0zM509.6 444.1h5.0v5.1h-5.0zM509.6 467.9h5.0v5.1h-5.0zM476.9 477.4h5.0v5.1h-5.0zM490.9 477.4h5.0v5.1h-5.0zM500.3 477.4h5.0v5.1h-5.0zM476.9 482.1h5.0v5.1h-5.0zM500.3 491.6h5.0v5.1h-5.0zM509.6 501.1h5.0v5.1h-5.0z"/><path fill="#00c3ff" d="M561.1 410.8h5.0v5.1h-5.0zM570.5 420.3h5.0v5.1h-5.0zM579.9 458.4h5.0v5.1h-5.0zM579.9 463.1h5.0v5.1h-5.0zM579.9 510.6h5.0v5.1h-5.0z"/><path fill="#abff54" d="M598.6 410.8h5.0v5.1h-5.0zM593.9 415.6h5.0v5.1h-5.0zM626.7 429.8h5.0v5.1h-5.0z"/><path fill="#8fff70" d="M607.9 410.8h5.0v5.1h-5.0zM636.0 453.6h5.0v5.1h-5.0z"/><path fill="#70ff8f" d="M612.6 410.8h5.0v5.1h-5.0zM589.2 425.1h5.0v5.1h-5.0zM589.2 429.8h5.0v5.1h-5.0zM607.9 463.1h9.7v5.1h-9.7zM612.6 491.6h5.0v5.1h-5.0zM612.6 496.4h5.0v5.1h-5.0zM607.9 515.4h9.7v5.1h-9.7z"/><path fill="#54ffab" d="M617.3 410.8h5.0v5.1h-5.0zM603.3 463.1h5.0v5.1h-5.0zM622.0 472.6h5.0v5.1h-5.0zM607.9 486.9h5.0v5.1h-5.0zM617.3 505.9h5.0v5.1h-5.0z"/><path fill="#005cff" d="M542.4 415.6h5.0v5.1h-5.0zM533.0 463.1h5.0v5.1h-5.0zM523.7 472.6h5.0v5.1h-5.0zM523.7 505.9h5.0v5.1h-5.0z"/><path fill="#0074ff" d="M547.1 415.6h5.0v5.1h-5.0zM542.4 420.3h5.0v5.1h-5.0zM537.7 463.1h5.0v5.1h-5.0zM533.0 467.9h5.0v5.1h-5.0zM528.4 472.6h5.0v5.1h-5.0zM523.7 477.4h5.0v5.1h-5.0zM523.7 501.1h5.0v5.1h-5.0zM528.4 505.9h5.0v5.1h-5.0z"/><path fill="#d3ff2c" d="M598.6 415.6h5.0v5.1h-5.0zM598.6 448.9h5.0v5.1h-5.0zM607.9 458.4h5.0v5.1h-5.0zM622.0 496.4h5.0v5.1h-5.0z"/><path fill="#dbff24" d="M603.3 415.6h5.0v5.1h-5.0zM593.9 434.6h5.0v5.1h-5.0zM612.6 458.4h5.0v5.1h-5.0zM622.0 477.4h5.0v5.1h-5.0z"/><path fill="#cfff30" d="M607.9 415.6h5.0v5.1h-5.0zM593.9 425.1h5.0v5.1h-5.0zM593.9 429.8h5.0v5.1h-5.0zM636.0 482.1h5.0v5.1h-5.0z"/><path fill="#007cff" d="M547.1 420.3h5.0v5.1h-5.0zM537.7 467.9h5.0v5.1h-5.0zM528.4 477.4h5.0v5.1h-5.0zM528.4 501.1h5.0v5.1h-5.0zM579.9 524.9h5.0v5.1h-5.0z"/><path fill="#00ebff" d="M579.9 420.3h5.0v5.1h-5.0zM584.5 510.6h5.0v5.1h-5.0z"/><path fill="#c3ff3c" d="M593.9 420.3h5.0v5.1h-5.0zM617.3 420.3h5.0v5.1h-5.0zM631.3 434.6h5.0v5.1h-5.0z"/><path fill="#fbff04" d="M598.6 420.3h5.0v5.1h-5.0z"/><path fill="#ffeb00" d="M603.3 420.3h5.0v5.1h-5.0z"/><path fill="#00bbff" d="M561.1 425.1h5.0v5.1h-5.0zM575.2 425.1h5.0v5.1h-5.0zM561.1 448.9h5.0v5.1h-5.0zM575.2 448.9h5.0v5.1h-5.0zM565.8 472.6h5.0v5.1h-5.0zM547.1 477.4h5.0v5.1h-5.0zM575.2 482.1h5.0v5.1h-5.0z"/><path fill="#00b3ff" d="M565.8 425.1h9.7v5.1h-9.7zM561.1 429.8h5.0v5.1h-5.0zM575.2 429.8h5.0v5.1h-5.0zM561.1 444.1h5.0v5.1h-5.0zM575.2 444.1h5.0v5.1h-5.0zM565.8 448.9h9.7v5.1h-9.7zM547.1 472.6h5.0v5.1h-5.0zM561.1 472.6h5.0v5.1h-5.0zM542.4 477.4h5.0v5.1h-5.0zM565.8 477.4h5.0v5.1h-5.0zM570.5 482.1h5.0v5.1h-5.0zM575.2 486.9h5.0v5.1h-5.0z"/><path fill="#ffe700" d="M598.6 425.1h5.0v5.1h-5.0z"/><path fill="#ffb700" d="M603.3 425.1h5.0v5.1h-5.0z"/><path fill="#ffab00" d="M607.9 425.1h5.0v5.1h-5.0z"/><path fill="#ffc300" d="M612.6 425.1h5.0v5.1h-5.0zM598.6 444.1h5.0v5.1h-5.0z"/><path fill="#fff700" d="M617.3 425.1h5.0v5.1h-5.0zM626.7 444.1h5.0v5.1h-5.0zM626.7 453.6h5.0v5.1h-5.0z"/><path fill="#b7ff48" d="M622.0 425.1h5.0v5.1h-5.0zM631.3 453.6h5.0v5.1h-5.0zM631.3 501.1h5.0v5.1h-5.0z"/><path fill="#009bff" d="M565.8 429.8h9.7v5.1h-9.7zM565.8 444.1h9.7v5.1h-9.7zM542.4 472.6h5.0v5.1h-5.0zM561.1 477.4h5.0v5.1h-5.0zM570.5 486.9h5.0v5.1h-5.0z"/><path fill="#ff8700" d="M603.3 429.8h5.0v5.1h-5.0z"/><path fill="#ff6400" d="M607.9 429.8h5.0v5.1h-5.0z"/><path fill="#ff6c00" d="M612.6 429.8h5.0v5.1h-5.0zM612.6 453.6h5.0v5.1h-5.0z"/><path fill="#9fff60" d="M636.0 429.8h5.0v5.1h-5.0zM603.3 458.4h5.0v5.1h-5.0z"/><path fill="#00afff" d="M561.1 434.6h5.0v5.1h-5.0zM575.2 434.6h5.0v5.1h-5.0zM561.1 439.3h5.0v5.1h-5.0zM575.2 439.3h5.0v5.1h-5.0zM551.8 448.9h5.0v5.1h-5.0zM547.1 453.6h5.0v5.1h-5.0zM547.1 458.4h5.0v5.1h-5.0zM547.1 463.1h5.0v5.1h-5.0zM547.1 467.9h5.0v5.1h-5.0zM556.5 472.6h5.0v5.1h-5.0zM537.7 482.1h5.0v5.1h-5.0zM537.7 486.9h5.0v5.1h-5.0zM542.4 491.6h14.3v5.1h-14.3zM575.2 491.6h5.0v5.1h-5.0zM575.2 496.4h5.0v5.1h-5.0zM575.2 501.1h5.0v5.1h-5.0zM575.2 505.9h5.0v5.1h-5.0z"/><path fill="#008fff" d="M565.8 434.6h9.7v5.1h-9.7zM565.8 439.3h9.7v5.1h-9.7zM551.8 444.1h5.0v5.1h-5.0zM542.4 453.6h5.0v5.1h-5.0zM542.4 458.4h5.0v5.1h-5.0zM542.4 463.1h5.0v5.1h-5.0zM542.4 467.9h5.0v5.1h-5.0zM556.5 477.4h5.0v5.1h-5.0zM533.0 482.1h5.0v5.1h-5.0zM533.0 486.9h5.0v5.1h-5.0zM570.5 491.6h5.0v5.1h-5.0zM542.4 496.4h14.3v5.1h-14.3zM570.5 496.4h5.0v5.1h-5.0zM570.5 501.1h5.0v5.1h-5.0zM570.5 505.9h5.0v5.1h-5.0z"/><path fill="#74ff8b" d="M589.2 434.6h5.0v5.1h-5.0z"/><path fill="#ff6000" d="M603.3 434.6h5.0v5.1h-5.0z"/><path fill="#ff3000" d="M607.9 434.6h9.7v5.1h-9.7z"/><path fill="#ff7000" d="M617.3 434.6h5.0v5.1h-5.0zM636.0 491.6h5.0v5.1h-5.0z"/><path fill="#cbff34" d="M626.7 434.6h5.0v5.1h-5.0zM631.3 439.3h5.0v5.1h-5.0zM593.9 444.1h5.0v5.1h-5.0zM617.3 458.4h5.0v5.1h-5.0zM626.7 477.4h5.0v5.1h-5.0z"/><path fill="#7cff83" d="M589.2 439.3h5.0v5.1h-5.0zM612.6 486.9h5.0v5.1h-5.0zM617.3 501.1h5.0v5.1h-5.0z"/><path fill="#f3ff0c" d="M593.9 439.3h5.0v5.1h-5.0z"/><path fill="#ff9f00" d="M598.6 439.3h5.0v5.1h-5.0zM626.7 491.6h5.0v5.1h-5.0z"/><path fill="#ff4000" d="M603.3 439.3h5.0v5.1h-5.0z"/><path fill="#ff1000" d="M607.9 439.3h9.7v5.1h-9.7z"/><path fill="#ff5000" d="M617.3 439.3h5.0v5.1h-5.0z"/><path fill="#ffcf00" d="M622.0 439.3h5.0v5.1h-5.0zM626.7 482.1h5.0v5.1h-5.0zM636.0 496.4h5.0v5.1h-5.0z"/><path fill="#e3ff1c" d="M626.7 439.3h5.0v5.1h-5.0z"/><path fill="#0083ff" d="M542.4 444.1h5.0v5.1h-5.0zM533.0 472.6h5.0v5.1h-5.0zM561.1 486.9h5.0v5.1h-5.0zM533.0 496.4h5.0v5.1h-5.0z"/><path fill="#008bff" d="M547.1 444.1h5.0v5.1h-5.0zM542.4 448.9h5.0v5.1h-5.0zM537.7 472.6h5.0v5.1h-5.0zM533.0 477.4h5.0v5.1h-5.0zM561.1 482.1h5.0v5.1h-5.0zM565.8 486.9h5.0v5.1h-5.0zM533.0 491.6h5.0v5.1h-5.0zM537.7 496.4h5.0v5.1h-5.0z"/><path fill="#ff4c00" d="M603.3 444.1h5.0v5.1h-5.0z"/><path fill="#ff0c00" d="M607.9 444.1h5.0v5.1h-5.0zM612.6 448.9h5.0v5.1h-5.0z"/><path fill="#ff0400" d="M612.6 444.1h5.0v5.1h-5.0z"/><path fill="#ff3800" d="M617.3 444.1h5.0v5.1h-5.0z"/><path fill="#00a3ff" d="M547.1 448.9h5.0v5.1h-5.0zM537.7 477.4h5.0v5.1h-5.0zM565.8 482.1h5.0v5.1h-5.0zM537.7 491.6h5.0v5.1h-5.0z"/><path fill="#ff8300" d="M603.3 448.9h5.0v5.1h-5.0zM607.9 453.6h5.0v5.1h-5.0z"/><path fill="#ff2400" d="M607.9 448.9h5.0v5.1h-5.0z"/><path fill="#ff2800" d="M617.3 448.9h5.0v5.1h-5.0z"/><path fill="#ff7800" d="M622.0 448.9h5.0v5.1h-5.0z"/><path fill="#ffc700" d="M626.7 448.9h5.0v5.1h-5.0zM622.0 486.9h5.0v5.1h-5.0z"/><path fill="#ff7c00" d="M617.3 453.6h5.0v5.1h-5.0z"/><path fill="#ffb300" d="M622.0 453.6h5.0v5.1h-5.0z"/><path fill="#48ffb7" d="M631.3 458.4h5.0v5.1h-5.0zM607.9 472.6h5.0v5.1h-5.0zM631.3 505.9h5.0v5.1h-5.0zM622.0 520.1h5.0v5.1h-5.0z"/><path fill="#58ffa7" d="M612.6 472.6h5.0v5.1h-5.0zM607.9 477.4h5.0v5.1h-5.0zM626.7 505.9h5.0v5.1h-5.0zM617.3 520.1h5.0v5.1h-5.0z"/><path fill="#5cffa3" d="M617.3 472.6h5.0v5.1h-5.0zM607.9 482.1h5.0v5.1h-5.0zM622.0 505.9h5.0v5.1h-5.0z"/><path fill="#0054ff" d="M481.6 477.4h9.7v5.1h-9.7zM481.6 482.1h5.0v5.1h-5.0z"/><path fill="#0058ff" d="M486.2 482.1h5.0v5.1h-5.0z"/><path fill="#0048ff" d="M490.9 482.1h5.0v5.1h-5.0z"/><path fill="#93ff6c" d="M612.6 482.1h5.0v5.1h-5.0zM622.0 501.1h5.0v5.1h-5.0z"/><path fill="#0028ff" d="M486.2 486.9h5.0v5.1h-5.0z"/><path fill="#0038ff" d="M490.9 486.9h5.0v5.1h-5.0z"/><path fill="#c7ff38" d="M617.3 486.9h5.0v5.1h-5.0z"/><path fill="#ff8000" d="M631.3 491.6h5.0v5.1h-5.0z"/><path fill="#9bff64" d="M617.3 496.4h5.0v5.1h-5.0z"/><path fill="#ffff00" d="M626.7 496.4h5.0v5.1h-5.0z"/><path fill="#0000ce" d="M476.9 501.1h5.0v5.1h-5.0zM481.6 505.9h5.0v5.1h-5.0z"/><path fill="#0000e6" d="M481.6 501.1h5.0v5.1h-5.0z"/><path fill="#4cffb3" d="M607.9 501.1h5.0v5.1h-5.0zM612.6 505.9h5.0v5.1h-5.0zM603.3 510.6h5.0v5.1h-5.0zM617.3 510.6h5.0v5.1h-5.0zM598.6 515.4h5.0v5.1h-5.0zM622.0 515.4h5.0v5.1h-5.0zM598.6 520.1h5.0v5.1h-5.0zM603.3 524.9h5.0v5.1h-5.0z"/><path fill="#a7ff58" d="M626.7 501.1h5.0v5.1h-5.0z"/><path fill="#000fff" d="M505.0 510.6h5.0v5.1h-5.0zM509.6 515.4h5.0v5.1h-5.0z"/><path fill="#0026ff" d="M509.6 510.6h5.0v5.1h-5.0z"/><path fill="#0060ff" d="M528.4 510.6h5.0v5.1h-5.0zM570.5 515.4h5.0v5.1h-5.0z"/><path fill="#009fff" d="M575.2 510.6h5.0v5.1h-5.0z"/><path fill="#0020ff" d="M523.7 515.4h5.0v5.1h-5.0z"/><path fill="#00abff" d="M579.9 515.4h5.0v5.1h-5.0z"/><path fill="#0093ff" d="M579.9 520.1h5.0v5.1h-5.0z"/><path fill="#28ffd7" d="M617.3 524.9h5.0v5.1h-5.0z"/><path fill="#38ffc7" d="M622.0 524.9h5.0v5.1h-5.0z"/><path fill="#000080" d="M556.4 363.3H573.3V373.2H556.4zM573.3 363.3H579.7V374.5H573.3zM579.7 363.3H592.5V376.2H579.7zM592.5 363.3H604.1V378.3H592.5zM604.1 363.3H617.0V379.0H604.1zM617.0 363.3H619.5V382.2H617.0zM619.5 363.3H640.7V387.3H619.5zM556.4 531.0H565.6V534.4H556.4zM565.6 527.2H600.2V534.4H565.6zM600.2 530.4H614.4V534.4H600.2zM614.4 526.6H623.4V534.4H614.4zM623.4 520.8H634.9V534.4H623.4zM634.9 517.6H637.5V534.4H634.9zM637.5 512.4H640.7V534.4H637.5z"/><circle cx="557.9" cy="449.3" r="18.7" fill="none" stroke="#000" stroke-width="1.6"/><circle cx="557.9" cy="449.3" r="37.5" fill="none" stroke="#000" stroke-width="1.5"/><circle cx="557.9" cy="449.3" r="56.2" fill="none" stroke="#000" stroke-width="1.2"/><circle cx="557.9" cy="449.3" r="74.9" fill="none" stroke="#000" stroke-width="1.1"/><circle cx="557.9" cy="449.6" r="0.9" fill="#000"/><g font-size="16" stroke-width="0.35"><text x="475.3" y="380.0" fill="#fff" stroke="#fff" text-anchor="start">670.5nm</text><text x="559.8" y="376.3" fill="#fff" stroke="#fff" text-anchor="middle">N</text><text x="474.5" y="452.9" fill="#fff" stroke="#fff" text-anchor="start">E</text><text x="556.8" y="533.7" fill="#fff" stroke="#fff" text-anchor="start">S</text><text x="588.7" y="379.4" fill="#fff" stroke="#fff" text-anchor="start">50</text><text x="578.9" y="395.0" fill="#000" stroke="#000" text-anchor="start">60</text><text x="570.7" y="412.0" fill="#000" stroke="#000" text-anchor="start">70</text><text x="563.4" y="430.0" fill="#000" stroke="#000" text-anchor="start">80</text><text x="555.7" y="447.0" fill="#000" stroke="#000" text-anchor="start">90</text></g><g font-size="16" stroke-width="0.35"><text x="624.3" y="452.6" fill="#fff" stroke="#fff" text-anchor="start">W</text></g><path d="M481.6 363.3v2.2M481.6 534.4v-2.2M491.0 363.3v2.2M491.0 534.4v-2.2M500.5 363.3v2.2M500.5 534.4v-2.2M509.9 363.3v2.2M509.9 534.4v-2.2M519.3 363.3v2.2M519.3 534.4v-2.2M528.7 363.3v2.2M528.7 534.4v-2.2M538.1 363.3v2.2M538.1 534.4v-2.2M547.6 363.3v2.2M547.6 534.4v-2.2M557.0 363.3v2.2M557.0 534.4v-2.2M566.4 363.3v2.2M566.4 534.4v-2.2M575.8 363.3v2.2M575.8 534.4v-2.2M585.2 363.3v2.2M585.2 534.4v-2.2M594.7 363.3v2.2M594.7 534.4v-2.2M604.1 363.3v2.2M604.1 534.4v-2.2M613.5 363.3v2.2M613.5 534.4v-2.2M622.9 363.3v2.2M622.9 534.4v-2.2M632.3 363.3v2.2M632.3 534.4v-2.2M472.2 372.7h2.2M472.2 382.1h2.2M472.2 391.6h2.2M472.2 401.0h2.2M472.2 410.4h2.2M472.2 419.8h2.2M472.2 429.2h2.2M472.2 438.7h2.2M472.2 448.1h2.2M472.2 457.5h2.2M472.2 466.9h2.2M472.2 476.3h2.2M472.2 485.8h2.2M472.2 495.2h2.2M472.2 504.6h2.2M472.2 514.0h2.2M472.2 523.4h2.2M472.2 532.9h2.2" stroke="#000" stroke-width="1" fill="none"/><rect x="640.7" y="363.3" width="3.0" height="171.1" fill="url(#jet)"/><path d="M643.7 529.52h-2.2M643.7 524.65h-2.2M643.7 519.77h-2.2M643.7 514.89h-2.2M643.7 510.02h-2.2M643.7 505.14h-2.2M643.7 500.26h-2.2M643.7 495.39h-2.2M643.7 490.51h-2.2M643.7 485.63h-2.2M643.7 480.76h-2.2M643.7 475.88h-2.2M643.7 471.00h-2.2M643.7 466.13h-2.2M643.7 461.25h-2.2M643.7 456.37h-2.2M643.7 451.50h-2.2M643.7 446.62h-2.2M643.7 441.74h-2.2M643.7 436.87h-2.2M643.7 431.99h-2.2M643.7 427.11h-2.2M643.7 422.24h-2.2M643.7 417.36h-2.2M643.7 412.48h-2.2M643.7 407.61h-2.2M643.7 402.73h-2.2M643.7 397.85h-2.2M643.7 392.98h-2.2M643.7 388.10h-2.2M643.7 383.22h-2.2M643.7 378.35h-2.2M643.7 373.47h-2.2M643.7 368.59h-2.2" stroke="#000" stroke-width="0.9" fill="none"/><rect x="472.2" y="363.3" width="171.5" height="171.1" fill="none" stroke="#000" stroke-width="1"/><line x1="640.7" y1="363.3" x2="640.7" y2="534.4" stroke="#000" stroke-width="0.6"/><g font-size="16" fill="#000"><text x="644.8" y="391.0">12</text><text x="644.8" y="414.8">10</text><text x="646.3" y="438.6">8</text><text x="646.3" y="463.1">6</text><text x="646.3" y="486.9">4</text><text x="646.3" y="512.8">2</text><text x="646.3" y="537.3">0</text></g><text font-size="16.3" transform="translate(670.9 459.6) rotate(-90)" x="0" y="5.5" text-anchor="middle">I (kR)</text><text font-size="21" x="449.2" y="384.7">(i)</text></svg></body></html>
